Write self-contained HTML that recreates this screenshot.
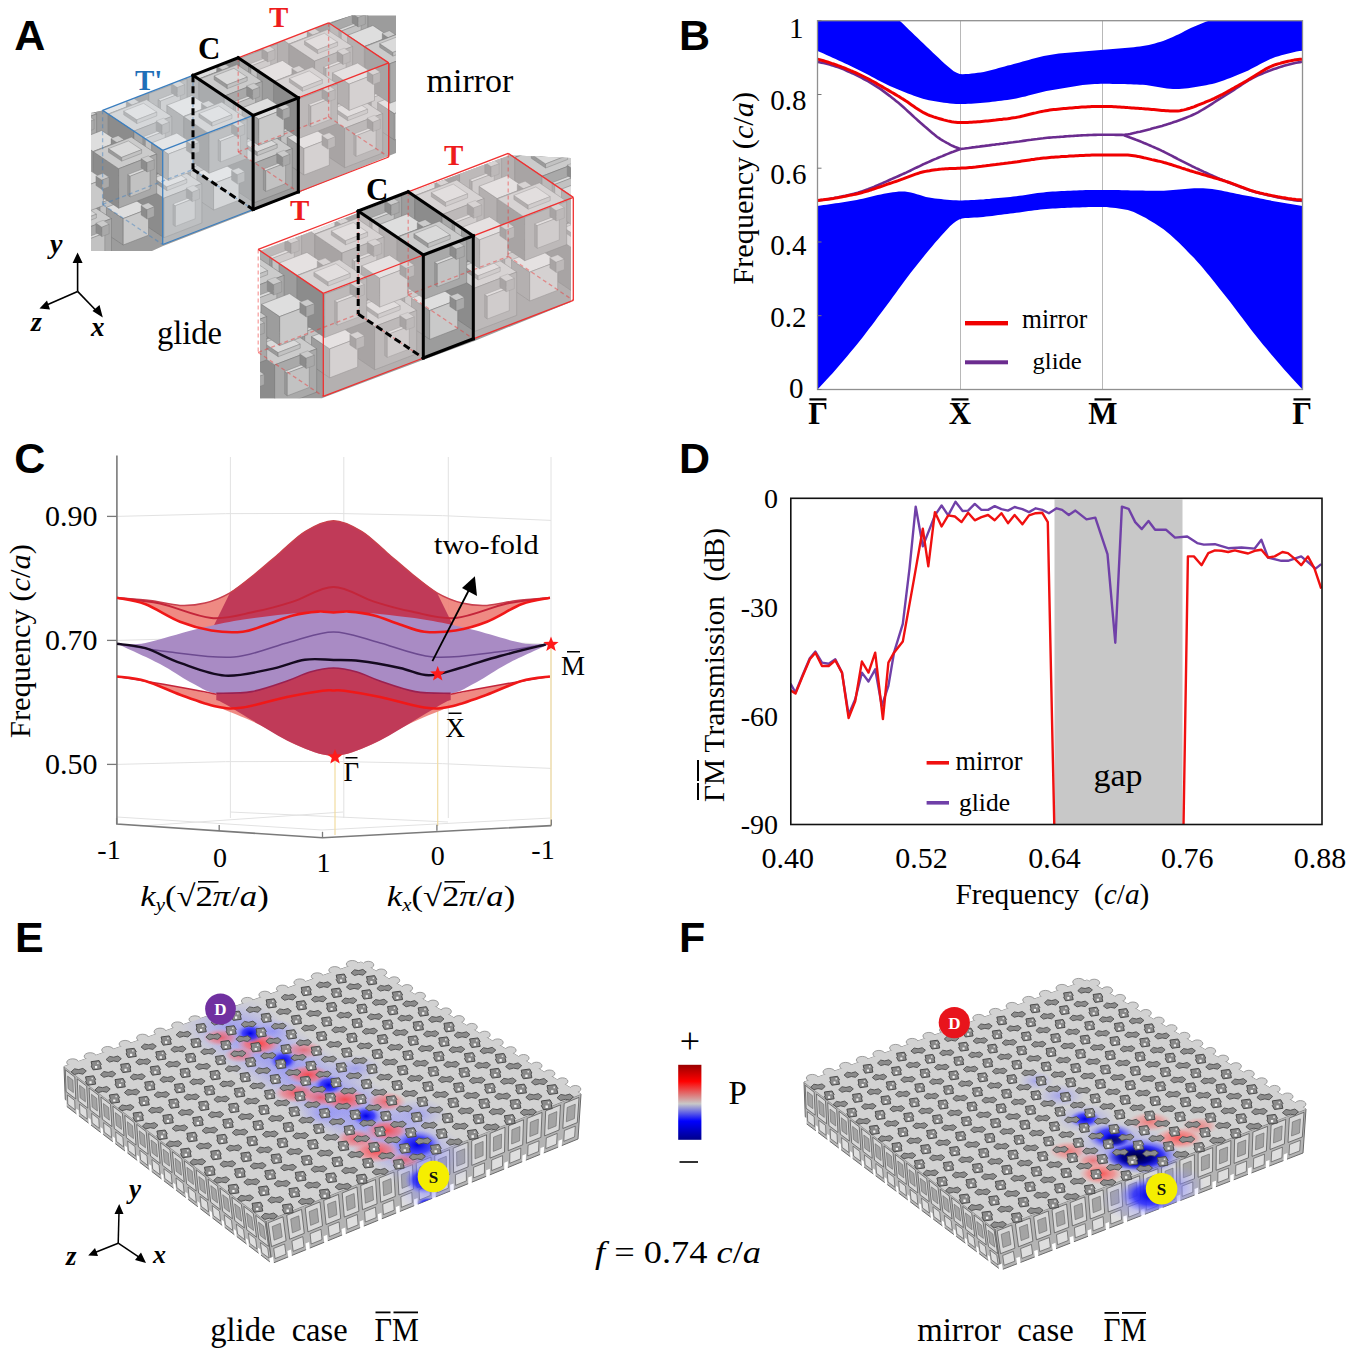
<!DOCTYPE html>
<html><head><meta charset="utf-8"><style>
html,body{margin:0;padding:0;background:#fff;}
svg{display:block;}
</style></head><body>
<svg width="1355" height="1354" viewBox="0 0 1355 1354">
<rect width="1355" height="1354" fill="#fff"/>
<clipPath id="silU"><path d="M91,113 L102.6,110.4 L331,22 L352,15.5 L396,15.5 L396,153 L300,192 L253,211 L163,246 L152,251 L91,251 Z"/></clipPath>
<g clip-path="url(#silU)">
<rect x="88" y="12" width="310" height="242" fill="#9c9c9c"/>
<path d="M317.5,62.3 L334.3,73.5 L334.3,99.9 L317.5,88.7 Z" fill="#9d9d9d" stroke="#777" stroke-width="0.5"/>
<path d="M317.5,62.3 L342.8,52.5 L359.6,63.7 L334.3,73.5 Z" fill="#dedede" stroke="#777" stroke-width="0.5"/>
<path d="M334.3,73.5 L359.6,63.7 L359.6,90.1 L334.3,99.9 Z" fill="#c9c9c9" stroke="#777" stroke-width="0.5"/>
<path d="M352.2,60.5 L358.2,64.5 L358.2,74 L352.2,70 Z" fill="#8c8c8c" stroke="#777" stroke-width="0.3"/>
<path d="M352.2,60.5 L359.4,57.7 L365.4,61.7 L358.2,64.5 Z" fill="#cbcbcb" stroke="#777" stroke-width="0.3"/>
<path d="M358.2,64.5 L365.4,61.7 L365.4,71.2 L358.2,74 Z" fill="#a9a9a9" stroke="#777" stroke-width="0.3"/>
<path d="M259.4,71.3 L284.6,88.1 L284.6,127.6 L259.4,110.8 Z" fill="#8c8c8c" stroke="#777" stroke-width="0.5"/>
<path d="M259.4,71.3 L297.3,56.6 L322.6,73.4 L284.6,88.1 Z" fill="#cbcbcb" stroke="#777" stroke-width="0.5"/>
<path d="M284.6,88.1 L322.6,73.4 L322.6,112.9 L284.6,127.6 Z" fill="#a9a9a9" stroke="#777" stroke-width="0.5"/>
<path d="M293.7,94 L296.1,95.6 L296.1,116.3 L293.7,114.7 Z" fill="#9a9a9a" stroke="#777" stroke-width="0.4"/>
<path d="M293.7,94 L313.5,86.3 L315.9,87.9 L296.1,95.6 Z" fill="#dadada" stroke="#777" stroke-width="0.4"/>
<path d="M296.1,95.6 L315.9,87.9 L315.9,108.6 L296.1,116.3 Z" fill="#c2c2c2" stroke="#777" stroke-width="0.4"/>
<path d="M274.4,68 L287.6,76.8 L287.6,80.6 L274.4,71.8 Z" fill="#9a9a9a" stroke="#777" stroke-width="0.4"/>
<path d="M274.4,68 L294.3,60.3 L307.5,69.1 L287.6,76.8 Z" fill="#dadada" stroke="#777" stroke-width="0.4"/>
<path d="M287.6,76.8 L307.5,69.1 L307.5,72.9 L287.6,80.6 Z" fill="#c2c2c2" stroke="#777" stroke-width="0.4"/>
<path d="M307,78 L313,82 L313,91.5 L307,87.5 Z" fill="#8c8c8c" stroke="#777" stroke-width="0.3"/>
<path d="M307,78 L314.2,75.2 L320.2,79.2 L313,82 Z" fill="#cbcbcb" stroke="#777" stroke-width="0.3"/>
<path d="M313,82 L320.2,79.2 L320.2,88.7 L313,91.5 Z" fill="#a9a9a9" stroke="#777" stroke-width="0.3"/>
<path d="M227.1,97.3 L243.9,108.5 L243.9,134.9 L227.1,123.7 Z" fill="#9d9d9d" stroke="#777" stroke-width="0.5"/>
<path d="M227.1,97.3 L252.4,87.5 L269.2,98.7 L243.9,108.5 Z" fill="#dedede" stroke="#777" stroke-width="0.5"/>
<path d="M243.9,108.5 L269.2,98.7 L269.2,125.1 L243.9,134.9 Z" fill="#c9c9c9" stroke="#777" stroke-width="0.5"/>
<path d="M261.8,95.5 L267.8,99.5 L267.8,109 L261.8,105 Z" fill="#8c8c8c" stroke="#777" stroke-width="0.3"/>
<path d="M261.8,95.5 L269,92.7 L275,96.7 L267.8,99.5 Z" fill="#cbcbcb" stroke="#777" stroke-width="0.3"/>
<path d="M267.8,99.5 L275,96.7 L275,106.2 L267.8,109 Z" fill="#a9a9a9" stroke="#777" stroke-width="0.3"/>
<path d="M169,106.3 L194.2,123.1 L194.2,162.6 L169,145.8 Z" fill="#8c8c8c" stroke="#777" stroke-width="0.5"/>
<path d="M169,106.3 L206.9,91.6 L232.2,108.4 L194.2,123.1 Z" fill="#cbcbcb" stroke="#777" stroke-width="0.5"/>
<path d="M194.2,123.1 L232.2,108.4 L232.2,147.9 L194.2,162.6 Z" fill="#a9a9a9" stroke="#777" stroke-width="0.5"/>
<path d="M203.3,129 L205.7,130.6 L205.7,151.3 L203.3,149.7 Z" fill="#9a9a9a" stroke="#777" stroke-width="0.4"/>
<path d="M203.3,129 L223.1,121.3 L225.5,122.9 L205.7,130.6 Z" fill="#dadada" stroke="#777" stroke-width="0.4"/>
<path d="M205.7,130.6 L225.5,122.9 L225.5,143.6 L205.7,151.3 Z" fill="#c2c2c2" stroke="#777" stroke-width="0.4"/>
<path d="M184,103 L197.2,111.8 L197.2,115.6 L184,106.8 Z" fill="#9a9a9a" stroke="#777" stroke-width="0.4"/>
<path d="M184,103 L203.9,95.3 L217.1,104.1 L197.2,111.8 Z" fill="#dadada" stroke="#777" stroke-width="0.4"/>
<path d="M197.2,111.8 L217.1,104.1 L217.1,107.9 L197.2,115.6 Z" fill="#c2c2c2" stroke="#777" stroke-width="0.4"/>
<path d="M216.6,113 L222.6,117 L222.6,126.5 L216.6,122.4 Z" fill="#8c8c8c" stroke="#777" stroke-width="0.3"/>
<path d="M216.6,113 L223.8,110.2 L229.8,114.2 L222.6,117 Z" fill="#cbcbcb" stroke="#777" stroke-width="0.3"/>
<path d="M222.6,117 L229.8,114.2 L229.8,123.7 L222.6,126.5 Z" fill="#a9a9a9" stroke="#777" stroke-width="0.3"/>
<path d="M136.7,132.3 L153.5,143.5 L153.5,169.9 L136.7,158.7 Z" fill="#9d9d9d" stroke="#777" stroke-width="0.5"/>
<path d="M136.7,132.3 L162,122.5 L178.8,133.7 L153.5,143.5 Z" fill="#dedede" stroke="#777" stroke-width="0.5"/>
<path d="M153.5,143.5 L178.8,133.7 L178.8,160.1 L153.5,169.9 Z" fill="#c9c9c9" stroke="#777" stroke-width="0.5"/>
<path d="M171.4,130.5 L177.4,134.5 L177.4,144 L171.4,139.9 Z" fill="#8c8c8c" stroke="#777" stroke-width="0.3"/>
<path d="M171.4,130.5 L178.6,127.7 L184.6,131.7 L177.4,134.5 Z" fill="#cbcbcb" stroke="#777" stroke-width="0.3"/>
<path d="M177.4,134.5 L184.6,131.7 L184.6,141.2 L177.4,144 Z" fill="#a9a9a9" stroke="#777" stroke-width="0.3"/>
<path d="M78.6,141.3 L103.8,158.1 L103.8,197.6 L78.6,180.8 Z" fill="#8c8c8c" stroke="#777" stroke-width="0.5"/>
<path d="M78.6,141.3 L116.5,126.6 L141.8,143.4 L103.8,158.1 Z" fill="#cbcbcb" stroke="#777" stroke-width="0.5"/>
<path d="M103.8,158.1 L141.8,143.4 L141.8,182.9 L103.8,197.6 Z" fill="#a9a9a9" stroke="#777" stroke-width="0.5"/>
<path d="M112.9,164 L115.3,165.6 L115.3,186.3 L112.9,184.7 Z" fill="#9a9a9a" stroke="#777" stroke-width="0.4"/>
<path d="M112.9,164 L132.7,156.3 L135.1,157.9 L115.3,165.6 Z" fill="#dadada" stroke="#777" stroke-width="0.4"/>
<path d="M115.3,165.6 L135.1,157.9 L135.1,178.6 L115.3,186.3 Z" fill="#c2c2c2" stroke="#777" stroke-width="0.4"/>
<path d="M93.6,138 L106.8,146.8 L106.8,150.6 L93.6,141.8 Z" fill="#9a9a9a" stroke="#777" stroke-width="0.4"/>
<path d="M93.6,138 L113.5,130.3 L126.7,139.1 L106.8,146.8 Z" fill="#dadada" stroke="#777" stroke-width="0.4"/>
<path d="M106.8,146.8 L126.7,139.1 L126.7,142.9 L106.8,150.6 Z" fill="#c2c2c2" stroke="#777" stroke-width="0.4"/>
<path d="M126.2,148 L132.2,152 L132.2,161.5 L126.2,157.4 Z" fill="#8c8c8c" stroke="#777" stroke-width="0.3"/>
<path d="M126.2,148 L133.4,145.2 L139.4,149.2 L132.2,152 Z" fill="#cbcbcb" stroke="#777" stroke-width="0.3"/>
<path d="M132.2,152 L139.4,149.2 L139.4,158.7 L132.2,161.5 Z" fill="#a9a9a9" stroke="#777" stroke-width="0.3"/>
<path d="M46.3,167.3 L63.1,178.5 L63.1,204.9 L46.3,193.7 Z" fill="#9d9d9d" stroke="#777" stroke-width="0.5"/>
<path d="M46.3,167.3 L71.6,157.5 L88.4,168.7 L63.1,178.5 Z" fill="#dedede" stroke="#777" stroke-width="0.5"/>
<path d="M63.1,178.5 L88.4,168.7 L88.4,195.1 L63.1,204.9 Z" fill="#c9c9c9" stroke="#777" stroke-width="0.5"/>
<path d="M81,165.5 L87,169.5 L87,179 L81,175 Z" fill="#8c8c8c" stroke="#777" stroke-width="0.3"/>
<path d="M81,165.5 L88.2,162.7 L94.2,166.7 L87,169.5 Z" fill="#cbcbcb" stroke="#777" stroke-width="0.3"/>
<path d="M87,169.5 L94.2,166.7 L94.2,176.2 L87,179 Z" fill="#a9a9a9" stroke="#777" stroke-width="0.3"/>
<path d="M-11.8,176.3 L13.4,193.1 L13.4,232.6 L-11.8,215.8 Z" fill="#8c8c8c" stroke="#777" stroke-width="0.5"/>
<path d="M-11.8,176.3 L26.1,161.6 L51.4,178.4 L13.4,193.1 Z" fill="#cbcbcb" stroke="#777" stroke-width="0.5"/>
<path d="M13.4,193.1 L51.4,178.4 L51.4,217.9 L13.4,232.6 Z" fill="#a9a9a9" stroke="#777" stroke-width="0.5"/>
<path d="M22.5,199 L24.9,200.6 L24.9,221.3 L22.5,219.7 Z" fill="#9a9a9a" stroke="#777" stroke-width="0.4"/>
<path d="M22.5,199 L42.3,191.3 L44.7,192.9 L24.9,200.6 Z" fill="#dadada" stroke="#777" stroke-width="0.4"/>
<path d="M24.9,200.6 L44.7,192.9 L44.7,213.6 L24.9,221.3 Z" fill="#c2c2c2" stroke="#777" stroke-width="0.4"/>
<path d="M3.2,173 L16.4,181.8 L16.4,185.6 L3.2,176.8 Z" fill="#9a9a9a" stroke="#777" stroke-width="0.4"/>
<path d="M3.2,173 L23.1,165.3 L36.3,174.1 L16.4,181.8 Z" fill="#dadada" stroke="#777" stroke-width="0.4"/>
<path d="M16.4,181.8 L36.3,174.1 L36.3,177.9 L16.4,185.6 Z" fill="#c2c2c2" stroke="#777" stroke-width="0.4"/>
<path d="M35.8,183 L41.8,187 L41.8,196.5 L35.8,192.4 Z" fill="#8c8c8c" stroke="#777" stroke-width="0.3"/>
<path d="M35.8,183 L43,180.2 L49,184.2 L41.8,187 Z" fill="#cbcbcb" stroke="#777" stroke-width="0.3"/>
<path d="M41.8,187 L49,184.2 L49,193.7 L41.8,196.5 Z" fill="#a9a9a9" stroke="#777" stroke-width="0.3"/>
<path d="M304.6,6.7 L329.8,23.6 L329.8,63.1 L304.6,46.2 Z" fill="#8c8c8c" stroke="#777" stroke-width="0.5"/>
<path d="M304.6,6.7 L342.5,-8 L367.8,8.9 L329.8,23.6 Z" fill="#cbcbcb" stroke="#777" stroke-width="0.5"/>
<path d="M329.8,23.6 L367.8,8.9 L367.8,48.4 L329.8,63.1 Z" fill="#a9a9a9" stroke="#777" stroke-width="0.5"/>
<path d="M338.9,29.5 L341.3,31.1 L341.3,51.8 L338.9,50.2 Z" fill="#9a9a9a" stroke="#777" stroke-width="0.4"/>
<path d="M338.9,29.5 L358.7,21.8 L361.1,23.4 L341.3,31.1 Z" fill="#dadada" stroke="#777" stroke-width="0.4"/>
<path d="M341.3,31.1 L361.1,23.4 L361.1,44.1 L341.3,51.8 Z" fill="#c2c2c2" stroke="#777" stroke-width="0.4"/>
<path d="M319.6,3.5 L332.8,12.3 L332.8,16 L319.6,7.2 Z" fill="#9a9a9a" stroke="#777" stroke-width="0.4"/>
<path d="M319.6,3.5 L339.5,-4.2 L352.7,4.6 L332.8,12.3 Z" fill="#dadada" stroke="#777" stroke-width="0.4"/>
<path d="M332.8,12.3 L352.7,4.6 L352.7,8.4 L332.8,16 Z" fill="#c2c2c2" stroke="#777" stroke-width="0.4"/>
<path d="M352.2,13.5 L358.2,17.5 L358.2,26.9 L352.2,22.9 Z" fill="#8c8c8c" stroke="#777" stroke-width="0.3"/>
<path d="M352.2,13.5 L359.4,10.7 L365.4,14.7 L358.2,17.5 Z" fill="#cbcbcb" stroke="#777" stroke-width="0.3"/>
<path d="M358.2,17.5 L365.4,14.7 L365.4,24.1 L358.2,26.9 Z" fill="#a9a9a9" stroke="#777" stroke-width="0.3"/>
<path d="M272.3,32.8 L289.1,44 L289.1,70.3 L272.3,59.1 Z" fill="#9d9d9d" stroke="#777" stroke-width="0.5"/>
<path d="M272.3,32.8 L297.6,23 L314.4,34.2 L289.1,44 Z" fill="#dedede" stroke="#777" stroke-width="0.5"/>
<path d="M289.1,44 L314.4,34.2 L314.4,60.5 L289.1,70.3 Z" fill="#c9c9c9" stroke="#777" stroke-width="0.5"/>
<path d="M307,31 L313,35 L313,44.4 L307,40.4 Z" fill="#8c8c8c" stroke="#777" stroke-width="0.3"/>
<path d="M307,31 L314.2,28.2 L320.2,32.2 L313,35 Z" fill="#cbcbcb" stroke="#777" stroke-width="0.3"/>
<path d="M313,35 L320.2,32.2 L320.2,41.6 L313,44.4 Z" fill="#a9a9a9" stroke="#777" stroke-width="0.3"/>
<path d="M214.2,41.7 L239.4,58.6 L239.4,98.1 L214.2,81.2 Z" fill="#8c8c8c" stroke="#777" stroke-width="0.5"/>
<path d="M214.2,41.7 L252.1,27 L277.4,43.9 L239.4,58.6 Z" fill="#cbcbcb" stroke="#777" stroke-width="0.5"/>
<path d="M239.4,58.6 L277.4,43.9 L277.4,83.4 L239.4,98.1 Z" fill="#a9a9a9" stroke="#777" stroke-width="0.5"/>
<path d="M248.5,64.5 L250.9,66.1 L250.9,86.8 L248.5,85.2 Z" fill="#9a9a9a" stroke="#777" stroke-width="0.4"/>
<path d="M248.5,64.5 L268.3,56.8 L270.7,58.4 L250.9,66.1 Z" fill="#dadada" stroke="#777" stroke-width="0.4"/>
<path d="M250.9,66.1 L270.7,58.4 L270.7,79.1 L250.9,86.8 Z" fill="#c2c2c2" stroke="#777" stroke-width="0.4"/>
<path d="M229.2,38.5 L242.4,47.3 L242.4,51 L229.2,42.2 Z" fill="#9a9a9a" stroke="#777" stroke-width="0.4"/>
<path d="M229.2,38.5 L249.1,30.8 L262.3,39.6 L242.4,47.3 Z" fill="#dadada" stroke="#777" stroke-width="0.4"/>
<path d="M242.4,47.3 L262.3,39.6 L262.3,43.4 L242.4,51 Z" fill="#c2c2c2" stroke="#777" stroke-width="0.4"/>
<path d="M261.8,48.5 L267.8,52.5 L267.8,61.9 L261.8,57.9 Z" fill="#8c8c8c" stroke="#777" stroke-width="0.3"/>
<path d="M261.8,48.5 L269,45.7 L275,49.7 L267.8,52.5 Z" fill="#cbcbcb" stroke="#777" stroke-width="0.3"/>
<path d="M267.8,52.5 L275,49.7 L275,59.1 L267.8,61.9 Z" fill="#a9a9a9" stroke="#777" stroke-width="0.3"/>
<path d="M181.9,67.8 L198.7,79 L198.7,105.3 L181.9,94.1 Z" fill="#9d9d9d" stroke="#777" stroke-width="0.5"/>
<path d="M181.9,67.8 L207.2,58 L224,69.2 L198.7,79 Z" fill="#dedede" stroke="#777" stroke-width="0.5"/>
<path d="M198.7,79 L224,69.2 L224,95.5 L198.7,105.3 Z" fill="#c9c9c9" stroke="#777" stroke-width="0.5"/>
<path d="M216.6,66 L222.6,70 L222.6,79.4 L216.6,75.4 Z" fill="#8c8c8c" stroke="#777" stroke-width="0.3"/>
<path d="M216.6,66 L223.8,63.2 L229.8,67.2 L222.6,70 Z" fill="#cbcbcb" stroke="#777" stroke-width="0.3"/>
<path d="M222.6,70 L229.8,67.2 L229.8,76.6 L222.6,79.4 Z" fill="#a9a9a9" stroke="#777" stroke-width="0.3"/>
<path d="M123.8,76.7 L149,93.6 L149,133.1 L123.8,116.2 Z" fill="#8c8c8c" stroke="#777" stroke-width="0.5"/>
<path d="M123.8,76.7 L161.7,62 L187,78.9 L149,93.6 Z" fill="#cbcbcb" stroke="#777" stroke-width="0.5"/>
<path d="M149,93.6 L187,78.9 L187,118.4 L149,133.1 Z" fill="#a9a9a9" stroke="#777" stroke-width="0.5"/>
<path d="M158.1,99.5 L160.5,101.1 L160.5,121.8 L158.1,120.2 Z" fill="#9a9a9a" stroke="#777" stroke-width="0.4"/>
<path d="M158.1,99.5 L177.9,91.8 L180.3,93.4 L160.5,101.1 Z" fill="#dadada" stroke="#777" stroke-width="0.4"/>
<path d="M160.5,101.1 L180.3,93.4 L180.3,114.1 L160.5,121.8 Z" fill="#c2c2c2" stroke="#777" stroke-width="0.4"/>
<path d="M138.8,73.5 L152,82.3 L152,86 L138.8,77.2 Z" fill="#9a9a9a" stroke="#777" stroke-width="0.4"/>
<path d="M138.8,73.5 L158.7,65.8 L171.9,74.6 L152,82.3 Z" fill="#dadada" stroke="#777" stroke-width="0.4"/>
<path d="M152,82.3 L171.9,74.6 L171.9,78.3 L152,86 Z" fill="#c2c2c2" stroke="#777" stroke-width="0.4"/>
<path d="M171.4,83.5 L177.4,87.5 L177.4,96.9 L171.4,92.9 Z" fill="#8c8c8c" stroke="#777" stroke-width="0.3"/>
<path d="M171.4,83.5 L178.6,80.7 L184.6,84.7 L177.4,87.5 Z" fill="#cbcbcb" stroke="#777" stroke-width="0.3"/>
<path d="M177.4,87.5 L184.6,84.7 L184.6,94.1 L177.4,96.9 Z" fill="#a9a9a9" stroke="#777" stroke-width="0.3"/>
<path d="M91.5,102.8 L108.3,114 L108.3,140.3 L91.5,129.1 Z" fill="#9d9d9d" stroke="#777" stroke-width="0.5"/>
<path d="M91.5,102.8 L116.8,93 L133.6,104.2 L108.3,114 Z" fill="#dedede" stroke="#777" stroke-width="0.5"/>
<path d="M108.3,114 L133.6,104.2 L133.6,130.5 L108.3,140.3 Z" fill="#c9c9c9" stroke="#777" stroke-width="0.5"/>
<path d="M126.2,101 L132.2,105 L132.2,114.4 L126.2,110.4 Z" fill="#8c8c8c" stroke="#777" stroke-width="0.3"/>
<path d="M126.2,101 L133.4,98.2 L139.4,102.2 L132.2,105 Z" fill="#cbcbcb" stroke="#777" stroke-width="0.3"/>
<path d="M132.2,105 L139.4,102.2 L139.4,111.6 L132.2,114.4 Z" fill="#a9a9a9" stroke="#777" stroke-width="0.3"/>
<path d="M33.4,111.7 L58.6,128.6 L58.6,168.1 L33.4,151.2 Z" fill="#8c8c8c" stroke="#777" stroke-width="0.5"/>
<path d="M33.4,111.7 L71.3,97 L96.6,113.9 L58.6,128.6 Z" fill="#cbcbcb" stroke="#777" stroke-width="0.5"/>
<path d="M58.6,128.6 L96.6,113.9 L96.6,153.4 L58.6,168.1 Z" fill="#a9a9a9" stroke="#777" stroke-width="0.5"/>
<path d="M67.7,134.5 L70.1,136.1 L70.1,156.8 L67.7,155.2 Z" fill="#9a9a9a" stroke="#777" stroke-width="0.4"/>
<path d="M67.7,134.5 L87.5,126.8 L89.9,128.4 L70.1,136.1 Z" fill="#dadada" stroke="#777" stroke-width="0.4"/>
<path d="M70.1,136.1 L89.9,128.4 L89.9,149.1 L70.1,156.8 Z" fill="#c2c2c2" stroke="#777" stroke-width="0.4"/>
<path d="M48.4,108.5 L61.6,117.3 L61.6,121 L48.4,112.2 Z" fill="#9a9a9a" stroke="#777" stroke-width="0.4"/>
<path d="M48.4,108.5 L68.3,100.8 L81.5,109.6 L61.6,117.3 Z" fill="#dadada" stroke="#777" stroke-width="0.4"/>
<path d="M61.6,117.3 L81.5,109.6 L81.5,113.3 L61.6,121 Z" fill="#c2c2c2" stroke="#777" stroke-width="0.4"/>
<path d="M81,118.5 L87,122.5 L87,131.9 L81,127.9 Z" fill="#8c8c8c" stroke="#777" stroke-width="0.3"/>
<path d="M81,118.5 L88.2,115.7 L94.2,119.7 L87,122.5 Z" fill="#cbcbcb" stroke="#777" stroke-width="0.3"/>
<path d="M87,122.5 L94.2,119.7 L94.2,129.1 L87,131.9 Z" fill="#a9a9a9" stroke="#777" stroke-width="0.3"/>
<path d="M1.1,137.8 L17.9,149 L17.9,175.3 L1.1,164.1 Z" fill="#9d9d9d" stroke="#777" stroke-width="0.5"/>
<path d="M1.1,137.8 L26.4,128 L43.2,139.2 L17.9,149 Z" fill="#dedede" stroke="#777" stroke-width="0.5"/>
<path d="M17.9,149 L43.2,139.2 L43.2,165.5 L17.9,175.3 Z" fill="#c9c9c9" stroke="#777" stroke-width="0.5"/>
<path d="M35.8,136 L41.8,140 L41.8,149.4 L35.8,145.4 Z" fill="#8c8c8c" stroke="#777" stroke-width="0.3"/>
<path d="M35.8,136 L43,133.2 L49,137.2 L41.8,140 Z" fill="#cbcbcb" stroke="#777" stroke-width="0.3"/>
<path d="M41.8,140 L49,137.2 L49,146.6 L41.8,149.4 Z" fill="#a9a9a9" stroke="#777" stroke-width="0.3"/>
<path d="M334.6,73.8 L359.9,90.7 L359.9,130.2 L334.6,113.3 Z" fill="#8c8c8c" stroke="#777" stroke-width="0.5"/>
<path d="M334.6,73.8 L372.6,59.1 L397.8,76 L359.9,90.7 Z" fill="#cbcbcb" stroke="#777" stroke-width="0.5"/>
<path d="M359.9,90.7 L397.8,76 L397.8,115.5 L359.9,130.2 Z" fill="#a9a9a9" stroke="#777" stroke-width="0.5"/>
<path d="M368.9,96.6 L371.3,98.2 L371.3,118.9 L368.9,117.3 Z" fill="#9a9a9a" stroke="#777" stroke-width="0.4"/>
<path d="M368.9,96.6 L388.8,88.9 L391.2,90.5 L371.3,98.2 Z" fill="#dadada" stroke="#777" stroke-width="0.4"/>
<path d="M371.3,98.2 L391.2,90.5 L391.2,111.2 L371.3,118.9 Z" fill="#c2c2c2" stroke="#777" stroke-width="0.4"/>
<path d="M349.7,70.6 L362.9,79.4 L362.9,83.2 L349.7,74.3 Z" fill="#9a9a9a" stroke="#777" stroke-width="0.4"/>
<path d="M349.7,70.6 L369.6,62.9 L382.8,71.7 L362.9,79.4 Z" fill="#dadada" stroke="#777" stroke-width="0.4"/>
<path d="M362.9,79.4 L382.8,71.7 L382.8,75.5 L362.9,83.2 Z" fill="#c2c2c2" stroke="#777" stroke-width="0.4"/>
<path d="M382.2,80.6 L388.2,84.6 L388.2,94 L382.2,90 Z" fill="#8c8c8c" stroke="#777" stroke-width="0.3"/>
<path d="M382.2,80.6 L389.4,77.8 L395.4,81.8 L388.2,84.6 Z" fill="#cbcbcb" stroke="#777" stroke-width="0.3"/>
<path d="M388.2,84.6 L395.4,81.8 L395.4,91.2 L388.2,94 Z" fill="#a9a9a9" stroke="#777" stroke-width="0.3"/>
<path d="M302.4,99.9 L319.2,111.1 L319.2,137.4 L302.4,126.2 Z" fill="#9d9d9d" stroke="#777" stroke-width="0.5"/>
<path d="M302.4,99.9 L327.7,90.1 L344.5,101.3 L319.2,111.1 Z" fill="#dedede" stroke="#777" stroke-width="0.5"/>
<path d="M319.2,111.1 L344.5,101.3 L344.5,127.6 L319.2,137.4 Z" fill="#c9c9c9" stroke="#777" stroke-width="0.5"/>
<path d="M337,98.1 L343,102.1 L343,111.5 L337,107.5 Z" fill="#8c8c8c" stroke="#777" stroke-width="0.3"/>
<path d="M337,98.1 L344.2,95.3 L350.2,99.3 L343,102.1 Z" fill="#cbcbcb" stroke="#777" stroke-width="0.3"/>
<path d="M343,102.1 L350.2,99.3 L350.2,108.7 L343,111.5 Z" fill="#a9a9a9" stroke="#777" stroke-width="0.3"/>
<path d="M244.2,108.8 L269.5,125.7 L269.5,165.2 L244.2,148.3 Z" fill="#8c8c8c" stroke="#777" stroke-width="0.5"/>
<path d="M244.2,108.8 L282.2,94.1 L307.4,111 L269.5,125.7 Z" fill="#cbcbcb" stroke="#777" stroke-width="0.5"/>
<path d="M269.5,125.7 L307.4,111 L307.4,150.5 L269.5,165.2 Z" fill="#a9a9a9" stroke="#777" stroke-width="0.5"/>
<path d="M278.5,131.6 L280.9,133.2 L280.9,153.9 L278.5,152.3 Z" fill="#9a9a9a" stroke="#777" stroke-width="0.4"/>
<path d="M278.5,131.6 L298.4,123.9 L300.8,125.5 L280.9,133.2 Z" fill="#dadada" stroke="#777" stroke-width="0.4"/>
<path d="M280.9,133.2 L300.8,125.5 L300.8,146.2 L280.9,153.9 Z" fill="#c2c2c2" stroke="#777" stroke-width="0.4"/>
<path d="M259.3,105.6 L272.5,114.4 L272.5,118.2 L259.3,109.3 Z" fill="#9a9a9a" stroke="#777" stroke-width="0.4"/>
<path d="M259.3,105.6 L279.2,97.9 L292.4,106.7 L272.5,114.4 Z" fill="#dadada" stroke="#777" stroke-width="0.4"/>
<path d="M272.5,114.4 L292.4,106.7 L292.4,110.5 L272.5,118.2 Z" fill="#c2c2c2" stroke="#777" stroke-width="0.4"/>
<path d="M291.8,115.6 L297.8,119.6 L297.8,129 L291.8,125 Z" fill="#8c8c8c" stroke="#777" stroke-width="0.3"/>
<path d="M291.8,115.6 L299,112.8 L305,116.8 L297.8,119.6 Z" fill="#cbcbcb" stroke="#777" stroke-width="0.3"/>
<path d="M297.8,119.6 L305,116.8 L305,126.2 L297.8,129 Z" fill="#a9a9a9" stroke="#777" stroke-width="0.3"/>
<path d="M212,134.9 L228.8,146.1 L228.8,172.4 L212,161.2 Z" fill="#9d9d9d" stroke="#777" stroke-width="0.5"/>
<path d="M212,134.9 L237.3,125.1 L254.1,136.3 L228.8,146.1 Z" fill="#dedede" stroke="#777" stroke-width="0.5"/>
<path d="M228.8,146.1 L254.1,136.3 L254.1,162.6 L228.8,172.4 Z" fill="#c9c9c9" stroke="#777" stroke-width="0.5"/>
<path d="M246.6,133.1 L252.6,137.1 L252.6,146.5 L246.6,142.5 Z" fill="#8c8c8c" stroke="#777" stroke-width="0.3"/>
<path d="M246.6,133.1 L253.8,130.3 L259.8,134.3 L252.6,137.1 Z" fill="#cbcbcb" stroke="#777" stroke-width="0.3"/>
<path d="M252.6,137.1 L259.8,134.3 L259.8,143.7 L252.6,146.5 Z" fill="#a9a9a9" stroke="#777" stroke-width="0.3"/>
<path d="M153.8,143.8 L179.1,160.7 L179.1,200.2 L153.8,183.3 Z" fill="#8c8c8c" stroke="#777" stroke-width="0.5"/>
<path d="M153.8,143.8 L191.8,129.1 L217,146 L179.1,160.7 Z" fill="#cbcbcb" stroke="#777" stroke-width="0.5"/>
<path d="M179.1,160.7 L217,146 L217,185.5 L179.1,200.2 Z" fill="#a9a9a9" stroke="#777" stroke-width="0.5"/>
<path d="M188.1,166.6 L190.5,168.2 L190.5,188.9 L188.1,187.3 Z" fill="#9a9a9a" stroke="#777" stroke-width="0.4"/>
<path d="M188.1,166.6 L208,158.9 L210.4,160.5 L190.5,168.2 Z" fill="#dadada" stroke="#777" stroke-width="0.4"/>
<path d="M190.5,168.2 L210.4,160.5 L210.4,181.2 L190.5,188.9 Z" fill="#c2c2c2" stroke="#777" stroke-width="0.4"/>
<path d="M168.9,140.6 L182.1,149.4 L182.1,153.2 L168.9,144.3 Z" fill="#9a9a9a" stroke="#777" stroke-width="0.4"/>
<path d="M168.9,140.6 L188.8,132.9 L202,141.7 L182.1,149.4 Z" fill="#dadada" stroke="#777" stroke-width="0.4"/>
<path d="M182.1,149.4 L202,141.7 L202,145.5 L182.1,153.2 Z" fill="#c2c2c2" stroke="#777" stroke-width="0.4"/>
<path d="M201.4,150.6 L207.4,154.6 L207.4,164 L201.4,160 Z" fill="#8c8c8c" stroke="#777" stroke-width="0.3"/>
<path d="M201.4,150.6 L208.6,147.8 L214.6,151.8 L207.4,154.6 Z" fill="#cbcbcb" stroke="#777" stroke-width="0.3"/>
<path d="M207.4,154.6 L214.6,151.8 L214.6,161.2 L207.4,164 Z" fill="#a9a9a9" stroke="#777" stroke-width="0.3"/>
<path d="M121.6,169.9 L138.4,181.1 L138.4,207.4 L121.6,196.2 Z" fill="#9d9d9d" stroke="#777" stroke-width="0.5"/>
<path d="M121.6,169.9 L146.9,160.1 L163.7,171.3 L138.4,181.1 Z" fill="#dedede" stroke="#777" stroke-width="0.5"/>
<path d="M138.4,181.1 L163.7,171.3 L163.7,197.6 L138.4,207.4 Z" fill="#c9c9c9" stroke="#777" stroke-width="0.5"/>
<path d="M156.2,168.1 L162.2,172.1 L162.2,181.5 L156.2,177.5 Z" fill="#8c8c8c" stroke="#777" stroke-width="0.3"/>
<path d="M156.2,168.1 L163.4,165.3 L169.4,169.3 L162.2,172.1 Z" fill="#cbcbcb" stroke="#777" stroke-width="0.3"/>
<path d="M162.2,172.1 L169.4,169.3 L169.4,178.7 L162.2,181.5 Z" fill="#a9a9a9" stroke="#777" stroke-width="0.3"/>
<path d="M63.4,178.8 L88.7,195.7 L88.7,235.2 L63.4,218.3 Z" fill="#8c8c8c" stroke="#777" stroke-width="0.5"/>
<path d="M63.4,178.8 L101.4,164.1 L126.6,181 L88.7,195.7 Z" fill="#cbcbcb" stroke="#777" stroke-width="0.5"/>
<path d="M88.7,195.7 L126.6,181 L126.6,220.5 L88.7,235.2 Z" fill="#a9a9a9" stroke="#777" stroke-width="0.5"/>
<path d="M97.7,201.6 L100.1,203.2 L100.1,223.9 L97.7,222.3 Z" fill="#9a9a9a" stroke="#777" stroke-width="0.4"/>
<path d="M97.7,201.6 L117.6,193.9 L120,195.5 L100.1,203.2 Z" fill="#dadada" stroke="#777" stroke-width="0.4"/>
<path d="M100.1,203.2 L120,195.5 L120,216.2 L100.1,223.9 Z" fill="#c2c2c2" stroke="#777" stroke-width="0.4"/>
<path d="M78.5,175.6 L91.7,184.4 L91.7,188.2 L78.5,179.3 Z" fill="#9a9a9a" stroke="#777" stroke-width="0.4"/>
<path d="M78.5,175.6 L98.4,167.9 L111.6,176.7 L91.7,184.4 Z" fill="#dadada" stroke="#777" stroke-width="0.4"/>
<path d="M91.7,184.4 L111.6,176.7 L111.6,180.5 L91.7,188.2 Z" fill="#c2c2c2" stroke="#777" stroke-width="0.4"/>
<path d="M111,185.6 L117,189.6 L117,199 L111,195 Z" fill="#8c8c8c" stroke="#777" stroke-width="0.3"/>
<path d="M111,185.6 L118.2,182.8 L124.2,186.8 L117,189.6 Z" fill="#cbcbcb" stroke="#777" stroke-width="0.3"/>
<path d="M117,189.6 L124.2,186.8 L124.2,196.2 L117,199 Z" fill="#a9a9a9" stroke="#777" stroke-width="0.3"/>
<path d="M31.2,204.9 L48,216.1 L48,242.4 L31.2,231.2 Z" fill="#9d9d9d" stroke="#777" stroke-width="0.5"/>
<path d="M31.2,204.9 L56.5,195.1 L73.3,206.3 L48,216.1 Z" fill="#dedede" stroke="#777" stroke-width="0.5"/>
<path d="M48,216.1 L73.3,206.3 L73.3,232.6 L48,242.4 Z" fill="#c9c9c9" stroke="#777" stroke-width="0.5"/>
<path d="M65.8,203.1 L71.8,207.1 L71.8,216.5 L65.8,212.5 Z" fill="#8c8c8c" stroke="#777" stroke-width="0.3"/>
<path d="M65.8,203.1 L73,200.3 L79,204.3 L71.8,207.1 Z" fill="#cbcbcb" stroke="#777" stroke-width="0.3"/>
<path d="M71.8,207.1 L79,204.3 L79,213.7 L71.8,216.5 Z" fill="#a9a9a9" stroke="#777" stroke-width="0.3"/>
<path d="M347.6,35.3 L364.4,46.5 L364.4,72.9 L347.6,61.7 Z" fill="#9d9d9d" stroke="#777" stroke-width="0.5"/>
<path d="M347.6,35.3 L372.9,25.5 L389.7,36.7 L364.4,46.5 Z" fill="#dedede" stroke="#777" stroke-width="0.5"/>
<path d="M364.4,46.5 L389.7,36.7 L389.7,63.1 L364.4,72.9 Z" fill="#c9c9c9" stroke="#777" stroke-width="0.5"/>
<path d="M382.2,33.5 L388.2,37.6 L388.2,47 L382.2,43 Z" fill="#8c8c8c" stroke="#777" stroke-width="0.3"/>
<path d="M382.2,33.5 L389.4,30.7 L395.4,34.7 L388.2,37.6 Z" fill="#cbcbcb" stroke="#777" stroke-width="0.3"/>
<path d="M388.2,37.6 L395.4,34.7 L395.4,44.2 L388.2,47 Z" fill="#a9a9a9" stroke="#777" stroke-width="0.3"/>
<path d="M289.4,44.3 L314.7,61.1 L314.7,100.6 L289.4,83.8 Z" fill="#8c8c8c" stroke="#777" stroke-width="0.5"/>
<path d="M289.4,44.3 L327.4,29.6 L352.6,46.4 L314.7,61.1 Z" fill="#cbcbcb" stroke="#777" stroke-width="0.5"/>
<path d="M314.7,61.1 L352.6,46.4 L352.6,85.9 L314.7,100.6 Z" fill="#a9a9a9" stroke="#777" stroke-width="0.5"/>
<path d="M323.7,67 L326.1,68.6 L326.1,89.3 L323.7,87.7 Z" fill="#9a9a9a" stroke="#777" stroke-width="0.4"/>
<path d="M323.7,67 L343.6,59.3 L346,60.9 L326.1,68.6 Z" fill="#dadada" stroke="#777" stroke-width="0.4"/>
<path d="M326.1,68.6 L346,60.9 L346,81.6 L326.1,89.3 Z" fill="#c2c2c2" stroke="#777" stroke-width="0.4"/>
<path d="M304.5,41 L317.7,49.8 L317.7,53.6 L304.5,44.8 Z" fill="#9a9a9a" stroke="#777" stroke-width="0.4"/>
<path d="M304.5,41 L324.4,33.3 L337.6,42.1 L317.7,49.8 Z" fill="#dadada" stroke="#777" stroke-width="0.4"/>
<path d="M317.7,49.8 L337.6,42.1 L337.6,45.9 L317.7,53.6 Z" fill="#c2c2c2" stroke="#777" stroke-width="0.4"/>
<path d="M337,51 L343,55.1 L343,64.5 L337,60.5 Z" fill="#8c8c8c" stroke="#777" stroke-width="0.3"/>
<path d="M337,51 L344.2,48.2 L350.2,52.2 L343,55.1 Z" fill="#cbcbcb" stroke="#777" stroke-width="0.3"/>
<path d="M343,55.1 L350.2,52.2 L350.2,61.7 L343,64.5 Z" fill="#a9a9a9" stroke="#777" stroke-width="0.3"/>
<path d="M257.2,70.3 L274,81.5 L274,107.9 L257.2,96.7 Z" fill="#9d9d9d" stroke="#777" stroke-width="0.5"/>
<path d="M257.2,70.3 L282.5,60.5 L299.3,71.7 L274,81.5 Z" fill="#dedede" stroke="#777" stroke-width="0.5"/>
<path d="M274,81.5 L299.3,71.7 L299.3,98.1 L274,107.9 Z" fill="#c9c9c9" stroke="#777" stroke-width="0.5"/>
<path d="M291.8,68.5 L297.8,72.5 L297.8,82 L291.8,78 Z" fill="#8c8c8c" stroke="#777" stroke-width="0.3"/>
<path d="M291.8,68.5 L299,65.7 L305,69.7 L297.8,72.5 Z" fill="#cbcbcb" stroke="#777" stroke-width="0.3"/>
<path d="M297.8,72.5 L305,69.7 L305,79.2 L297.8,82 Z" fill="#a9a9a9" stroke="#777" stroke-width="0.3"/>
<path d="M199,79.3 L224.3,96.1 L224.3,135.6 L199,118.8 Z" fill="#8c8c8c" stroke="#777" stroke-width="0.5"/>
<path d="M199,79.3 L237,64.6 L262.2,81.4 L224.3,96.1 Z" fill="#cbcbcb" stroke="#777" stroke-width="0.5"/>
<path d="M224.3,96.1 L262.2,81.4 L262.2,120.9 L224.3,135.6 Z" fill="#a9a9a9" stroke="#777" stroke-width="0.5"/>
<path d="M233.3,102 L235.7,103.6 L235.7,124.3 L233.3,122.7 Z" fill="#9a9a9a" stroke="#777" stroke-width="0.4"/>
<path d="M233.3,102 L253.2,94.3 L255.6,95.9 L235.7,103.6 Z" fill="#dadada" stroke="#777" stroke-width="0.4"/>
<path d="M235.7,103.6 L255.6,95.9 L255.6,116.6 L235.7,124.3 Z" fill="#c2c2c2" stroke="#777" stroke-width="0.4"/>
<path d="M214.1,76 L227.3,84.8 L227.3,88.6 L214.1,79.8 Z" fill="#9a9a9a" stroke="#777" stroke-width="0.4"/>
<path d="M214.1,76 L234,68.3 L247.2,77.1 L227.3,84.8 Z" fill="#dadada" stroke="#777" stroke-width="0.4"/>
<path d="M227.3,84.8 L247.2,77.1 L247.2,80.9 L227.3,88.6 Z" fill="#c2c2c2" stroke="#777" stroke-width="0.4"/>
<path d="M246.6,86 L252.6,90 L252.6,99.5 L246.6,95.4 Z" fill="#8c8c8c" stroke="#777" stroke-width="0.3"/>
<path d="M246.6,86 L253.8,83.2 L259.8,87.2 L252.6,90 Z" fill="#cbcbcb" stroke="#777" stroke-width="0.3"/>
<path d="M252.6,90 L259.8,87.2 L259.8,96.7 L252.6,99.5 Z" fill="#a9a9a9" stroke="#777" stroke-width="0.3"/>
<path d="M166.8,105.3 L183.6,116.5 L183.6,142.9 L166.8,131.7 Z" fill="#9d9d9d" stroke="#777" stroke-width="0.5"/>
<path d="M166.8,105.3 L192.1,95.5 L208.9,106.7 L183.6,116.5 Z" fill="#dedede" stroke="#777" stroke-width="0.5"/>
<path d="M183.6,116.5 L208.9,106.7 L208.9,133.1 L183.6,142.9 Z" fill="#c9c9c9" stroke="#777" stroke-width="0.5"/>
<path d="M201.4,103.5 L207.4,107.5 L207.4,117 L201.4,112.9 Z" fill="#8c8c8c" stroke="#777" stroke-width="0.3"/>
<path d="M201.4,103.5 L208.6,100.7 L214.6,104.8 L207.4,107.5 Z" fill="#cbcbcb" stroke="#777" stroke-width="0.3"/>
<path d="M207.4,107.5 L214.6,104.8 L214.6,114.2 L207.4,117 Z" fill="#a9a9a9" stroke="#777" stroke-width="0.3"/>
<path d="M108.6,114.3 L133.9,131.1 L133.9,170.6 L108.6,153.8 Z" fill="#8c8c8c" stroke="#777" stroke-width="0.5"/>
<path d="M108.6,114.3 L146.6,99.6 L171.8,116.4 L133.9,131.1 Z" fill="#cbcbcb" stroke="#777" stroke-width="0.5"/>
<path d="M133.9,131.1 L171.8,116.4 L171.8,155.9 L133.9,170.6 Z" fill="#a9a9a9" stroke="#777" stroke-width="0.5"/>
<path d="M142.9,137 L145.3,138.6 L145.3,159.3 L142.9,157.7 Z" fill="#9a9a9a" stroke="#777" stroke-width="0.4"/>
<path d="M142.9,137 L162.8,129.3 L165.2,130.9 L145.3,138.6 Z" fill="#dadada" stroke="#777" stroke-width="0.4"/>
<path d="M145.3,138.6 L165.2,130.9 L165.2,151.6 L145.3,159.3 Z" fill="#c2c2c2" stroke="#777" stroke-width="0.4"/>
<path d="M123.7,111 L136.9,119.8 L136.9,123.6 L123.7,114.8 Z" fill="#9a9a9a" stroke="#777" stroke-width="0.4"/>
<path d="M123.7,111 L143.6,103.3 L156.8,112.1 L136.9,119.8 Z" fill="#dadada" stroke="#777" stroke-width="0.4"/>
<path d="M136.9,119.8 L156.8,112.1 L156.8,115.9 L136.9,123.6 Z" fill="#c2c2c2" stroke="#777" stroke-width="0.4"/>
<path d="M156.2,121 L162.2,125 L162.2,134.5 L156.2,130.4 Z" fill="#8c8c8c" stroke="#777" stroke-width="0.3"/>
<path d="M156.2,121 L163.4,118.2 L169.4,122.2 L162.2,125 Z" fill="#cbcbcb" stroke="#777" stroke-width="0.3"/>
<path d="M162.2,125 L169.4,122.2 L169.4,131.7 L162.2,134.5 Z" fill="#a9a9a9" stroke="#777" stroke-width="0.3"/>
<path d="M76.4,140.3 L93.2,151.5 L93.2,177.9 L76.4,166.7 Z" fill="#9d9d9d" stroke="#777" stroke-width="0.5"/>
<path d="M76.4,140.3 L101.7,130.5 L118.5,141.7 L93.2,151.5 Z" fill="#dedede" stroke="#777" stroke-width="0.5"/>
<path d="M93.2,151.5 L118.5,141.7 L118.5,168.1 L93.2,177.9 Z" fill="#c9c9c9" stroke="#777" stroke-width="0.5"/>
<path d="M111,138.5 L117,142.6 L117,152 L111,148 Z" fill="#8c8c8c" stroke="#777" stroke-width="0.3"/>
<path d="M111,138.5 L118.2,135.7 L124.2,139.8 L117,142.6 Z" fill="#cbcbcb" stroke="#777" stroke-width="0.3"/>
<path d="M117,142.6 L124.2,139.8 L124.2,149.2 L117,152 Z" fill="#a9a9a9" stroke="#777" stroke-width="0.3"/>
<path d="M18.2,149.3 L43.5,166.1 L43.5,205.6 L18.2,188.8 Z" fill="#8c8c8c" stroke="#777" stroke-width="0.5"/>
<path d="M18.2,149.3 L56.2,134.6 L81.4,151.4 L43.5,166.1 Z" fill="#cbcbcb" stroke="#777" stroke-width="0.5"/>
<path d="M43.5,166.1 L81.4,151.4 L81.4,190.9 L43.5,205.6 Z" fill="#a9a9a9" stroke="#777" stroke-width="0.5"/>
<path d="M52.5,172 L54.9,173.6 L54.9,194.3 L52.5,192.7 Z" fill="#9a9a9a" stroke="#777" stroke-width="0.4"/>
<path d="M52.5,172 L72.4,164.3 L74.8,165.9 L54.9,173.6 Z" fill="#dadada" stroke="#777" stroke-width="0.4"/>
<path d="M54.9,173.6 L74.8,165.9 L74.8,186.6 L54.9,194.3 Z" fill="#c2c2c2" stroke="#777" stroke-width="0.4"/>
<path d="M33.3,146 L46.5,154.8 L46.5,158.6 L33.3,149.8 Z" fill="#9a9a9a" stroke="#777" stroke-width="0.4"/>
<path d="M33.3,146 L53.2,138.3 L66.4,147.1 L46.5,154.8 Z" fill="#dadada" stroke="#777" stroke-width="0.4"/>
<path d="M46.5,154.8 L66.4,147.1 L66.4,150.9 L46.5,158.6 Z" fill="#c2c2c2" stroke="#777" stroke-width="0.4"/>
<path d="M65.8,156 L71.8,160 L71.8,169.5 L65.8,165.4 Z" fill="#8c8c8c" stroke="#777" stroke-width="0.3"/>
<path d="M65.8,156 L73,153.2 L79,157.2 L71.8,160 Z" fill="#cbcbcb" stroke="#777" stroke-width="0.3"/>
<path d="M71.8,160 L79,157.2 L79,166.7 L71.8,169.5 Z" fill="#a9a9a9" stroke="#777" stroke-width="0.3"/>
<path d="M377.6,102.4 L394.4,113.6 L394.4,140 L377.6,128.8 Z" fill="#9d9d9d" stroke="#777" stroke-width="0.5"/>
<path d="M377.6,102.4 L402.9,92.6 L419.7,103.8 L394.4,113.6 Z" fill="#dedede" stroke="#777" stroke-width="0.5"/>
<path d="M394.4,113.6 L419.7,103.8 L419.7,130.2 L394.4,140 Z" fill="#c9c9c9" stroke="#777" stroke-width="0.5"/>
<path d="M412.3,100.6 L418.3,104.7 L418.3,114.1 L412.3,110.1 Z" fill="#8c8c8c" stroke="#777" stroke-width="0.3"/>
<path d="M412.3,100.6 L419.5,97.8 L425.5,101.8 L418.3,104.7 Z" fill="#cbcbcb" stroke="#777" stroke-width="0.3"/>
<path d="M418.3,104.7 L425.5,101.8 L425.5,111.3 L418.3,114.1 Z" fill="#a9a9a9" stroke="#777" stroke-width="0.3"/>
<path d="M319.5,111.4 L344.7,128.2 L344.7,167.7 L319.5,150.9 Z" fill="#8c8c8c" stroke="#777" stroke-width="0.5"/>
<path d="M319.5,111.4 L357.4,96.7 L382.7,113.5 L344.7,128.2 Z" fill="#cbcbcb" stroke="#777" stroke-width="0.5"/>
<path d="M344.7,128.2 L382.7,113.5 L382.7,153 L344.7,167.7 Z" fill="#a9a9a9" stroke="#777" stroke-width="0.5"/>
<path d="M353.8,134.1 L356.2,135.7 L356.2,156.4 L353.8,154.8 Z" fill="#9a9a9a" stroke="#777" stroke-width="0.4"/>
<path d="M353.8,134.1 L373.6,126.4 L376,128 L356.2,135.7 Z" fill="#dadada" stroke="#777" stroke-width="0.4"/>
<path d="M356.2,135.7 L376,128 L376,148.7 L356.2,156.4 Z" fill="#c2c2c2" stroke="#777" stroke-width="0.4"/>
<path d="M334.5,108.1 L347.7,116.9 L347.7,120.7 L334.5,111.9 Z" fill="#9a9a9a" stroke="#777" stroke-width="0.4"/>
<path d="M334.5,108.1 L354.4,100.4 L367.6,109.2 L347.7,116.9 Z" fill="#dadada" stroke="#777" stroke-width="0.4"/>
<path d="M347.7,116.9 L367.6,109.2 L367.6,113 L347.7,120.7 Z" fill="#c2c2c2" stroke="#777" stroke-width="0.4"/>
<path d="M367.1,118.1 L373.1,122.2 L373.1,131.6 L367.1,127.6 Z" fill="#8c8c8c" stroke="#777" stroke-width="0.3"/>
<path d="M367.1,118.1 L374.3,115.3 L380.3,119.3 L373.1,122.2 Z" fill="#cbcbcb" stroke="#777" stroke-width="0.3"/>
<path d="M373.1,122.2 L380.3,119.3 L380.3,128.8 L373.1,131.6 Z" fill="#a9a9a9" stroke="#777" stroke-width="0.3"/>
<path d="M287.2,137.4 L304,148.6 L304,175 L287.2,163.8 Z" fill="#9d9d9d" stroke="#777" stroke-width="0.5"/>
<path d="M287.2,137.4 L312.5,127.6 L329.3,138.8 L304,148.6 Z" fill="#dedede" stroke="#777" stroke-width="0.5"/>
<path d="M304,148.6 L329.3,138.8 L329.3,165.2 L304,175 Z" fill="#c9c9c9" stroke="#777" stroke-width="0.5"/>
<path d="M321.9,135.6 L327.9,139.7 L327.9,149.1 L321.9,145.1 Z" fill="#8c8c8c" stroke="#777" stroke-width="0.3"/>
<path d="M321.9,135.6 L329.1,132.8 L335.1,136.8 L327.9,139.7 Z" fill="#cbcbcb" stroke="#777" stroke-width="0.3"/>
<path d="M327.9,139.7 L335.1,136.8 L335.1,146.3 L327.9,149.1 Z" fill="#a9a9a9" stroke="#777" stroke-width="0.3"/>
<path d="M229.1,146.4 L254.3,163.2 L254.3,202.7 L229.1,185.9 Z" fill="#8c8c8c" stroke="#777" stroke-width="0.5"/>
<path d="M229.1,146.4 L267,131.7 L292.3,148.5 L254.3,163.2 Z" fill="#cbcbcb" stroke="#777" stroke-width="0.5"/>
<path d="M254.3,163.2 L292.3,148.5 L292.3,188 L254.3,202.7 Z" fill="#a9a9a9" stroke="#777" stroke-width="0.5"/>
<path d="M263.4,169.1 L265.8,170.7 L265.8,191.4 L263.4,189.8 Z" fill="#9a9a9a" stroke="#777" stroke-width="0.4"/>
<path d="M263.4,169.1 L283.2,161.4 L285.6,163 L265.8,170.7 Z" fill="#dadada" stroke="#777" stroke-width="0.4"/>
<path d="M265.8,170.7 L285.6,163 L285.6,183.7 L265.8,191.4 Z" fill="#c2c2c2" stroke="#777" stroke-width="0.4"/>
<path d="M244.1,143.1 L257.3,151.9 L257.3,155.7 L244.1,146.9 Z" fill="#9a9a9a" stroke="#777" stroke-width="0.4"/>
<path d="M244.1,143.1 L264,135.4 L277.2,144.2 L257.3,151.9 Z" fill="#dadada" stroke="#777" stroke-width="0.4"/>
<path d="M257.3,151.9 L277.2,144.2 L277.2,148 L257.3,155.7 Z" fill="#c2c2c2" stroke="#777" stroke-width="0.4"/>
<path d="M276.7,153.1 L282.7,157.2 L282.7,166.6 L276.7,162.5 Z" fill="#8c8c8c" stroke="#777" stroke-width="0.3"/>
<path d="M276.7,153.1 L283.9,150.3 L289.9,154.3 L282.7,157.2 Z" fill="#cbcbcb" stroke="#777" stroke-width="0.3"/>
<path d="M282.7,157.2 L289.9,154.3 L289.9,163.8 L282.7,166.6 Z" fill="#a9a9a9" stroke="#777" stroke-width="0.3"/>
<path d="M196.8,172.4 L213.6,183.6 L213.6,210 L196.8,198.8 Z" fill="#9d9d9d" stroke="#777" stroke-width="0.5"/>
<path d="M196.8,172.4 L222.1,162.6 L238.9,173.8 L213.6,183.6 Z" fill="#dedede" stroke="#777" stroke-width="0.5"/>
<path d="M213.6,183.6 L238.9,173.8 L238.9,200.2 L213.6,210 Z" fill="#c9c9c9" stroke="#777" stroke-width="0.5"/>
<path d="M231.5,170.6 L237.5,174.7 L237.5,184.1 L231.5,180 Z" fill="#8c8c8c" stroke="#777" stroke-width="0.3"/>
<path d="M231.5,170.6 L238.7,167.8 L244.7,171.8 L237.5,174.7 Z" fill="#cbcbcb" stroke="#777" stroke-width="0.3"/>
<path d="M237.5,174.7 L244.7,171.8 L244.7,181.3 L237.5,184.1 Z" fill="#a9a9a9" stroke="#777" stroke-width="0.3"/>
<path d="M138.7,181.4 L163.9,198.2 L163.9,237.7 L138.7,220.9 Z" fill="#8c8c8c" stroke="#777" stroke-width="0.5"/>
<path d="M138.7,181.4 L176.6,166.7 L201.9,183.5 L163.9,198.2 Z" fill="#cbcbcb" stroke="#777" stroke-width="0.5"/>
<path d="M163.9,198.2 L201.9,183.5 L201.9,223 L163.9,237.7 Z" fill="#a9a9a9" stroke="#777" stroke-width="0.5"/>
<path d="M173,204.1 L175.4,205.7 L175.4,226.4 L173,224.8 Z" fill="#9a9a9a" stroke="#777" stroke-width="0.4"/>
<path d="M173,204.1 L192.8,196.4 L195.2,198 L175.4,205.7 Z" fill="#dadada" stroke="#777" stroke-width="0.4"/>
<path d="M175.4,205.7 L195.2,198 L195.2,218.7 L175.4,226.4 Z" fill="#c2c2c2" stroke="#777" stroke-width="0.4"/>
<path d="M153.7,178.1 L166.9,186.9 L166.9,190.7 L153.7,181.9 Z" fill="#9a9a9a" stroke="#777" stroke-width="0.4"/>
<path d="M153.7,178.1 L173.6,170.4 L186.8,179.2 L166.9,186.9 Z" fill="#dadada" stroke="#777" stroke-width="0.4"/>
<path d="M166.9,186.9 L186.8,179.2 L186.8,183 L166.9,190.7 Z" fill="#c2c2c2" stroke="#777" stroke-width="0.4"/>
<path d="M186.3,188.1 L192.3,192.2 L192.3,201.6 L186.3,197.5 Z" fill="#8c8c8c" stroke="#777" stroke-width="0.3"/>
<path d="M186.3,188.1 L193.5,185.3 L199.5,189.3 L192.3,192.2 Z" fill="#cbcbcb" stroke="#777" stroke-width="0.3"/>
<path d="M192.3,192.2 L199.5,189.3 L199.5,198.8 L192.3,201.6 Z" fill="#a9a9a9" stroke="#777" stroke-width="0.3"/>
<path d="M106.4,207.4 L123.2,218.6 L123.2,245 L106.4,233.8 Z" fill="#9d9d9d" stroke="#777" stroke-width="0.5"/>
<path d="M106.4,207.4 L131.7,197.6 L148.5,208.8 L123.2,218.6 Z" fill="#dedede" stroke="#777" stroke-width="0.5"/>
<path d="M123.2,218.6 L148.5,208.8 L148.5,235.2 L123.2,245 Z" fill="#c9c9c9" stroke="#777" stroke-width="0.5"/>
<path d="M141.1,205.6 L147.1,209.7 L147.1,219.1 L141.1,215.1 Z" fill="#8c8c8c" stroke="#777" stroke-width="0.3"/>
<path d="M141.1,205.6 L148.3,202.8 L154.3,206.8 L147.1,209.7 Z" fill="#cbcbcb" stroke="#777" stroke-width="0.3"/>
<path d="M147.1,209.7 L154.3,206.8 L154.3,216.3 L147.1,219.1 Z" fill="#a9a9a9" stroke="#777" stroke-width="0.3"/>
<path d="M48.3,216.4 L73.5,233.2 L73.5,272.7 L48.3,255.9 Z" fill="#8c8c8c" stroke="#777" stroke-width="0.5"/>
<path d="M48.3,216.4 L86.2,201.7 L111.5,218.5 L73.5,233.2 Z" fill="#cbcbcb" stroke="#777" stroke-width="0.5"/>
<path d="M73.5,233.2 L111.5,218.5 L111.5,258 L73.5,272.7 Z" fill="#a9a9a9" stroke="#777" stroke-width="0.5"/>
<path d="M82.6,239.1 L85,240.7 L85,261.4 L82.6,259.8 Z" fill="#9a9a9a" stroke="#777" stroke-width="0.4"/>
<path d="M82.6,239.1 L102.4,231.4 L104.8,233 L85,240.7 Z" fill="#dadada" stroke="#777" stroke-width="0.4"/>
<path d="M85,240.7 L104.8,233 L104.8,253.7 L85,261.4 Z" fill="#c2c2c2" stroke="#777" stroke-width="0.4"/>
<path d="M63.3,213.1 L76.5,221.9 L76.5,225.7 L63.3,216.9 Z" fill="#9a9a9a" stroke="#777" stroke-width="0.4"/>
<path d="M63.3,213.1 L83.2,205.4 L96.4,214.2 L76.5,221.9 Z" fill="#dadada" stroke="#777" stroke-width="0.4"/>
<path d="M76.5,221.9 L96.4,214.2 L96.4,218 L76.5,225.7 Z" fill="#c2c2c2" stroke="#777" stroke-width="0.4"/>
<path d="M95.9,223.1 L101.9,227.2 L101.9,236.6 L95.9,232.5 Z" fill="#8c8c8c" stroke="#777" stroke-width="0.3"/>
<path d="M95.9,223.1 L103.1,220.3 L109.1,224.3 L101.9,227.2 Z" fill="#cbcbcb" stroke="#777" stroke-width="0.3"/>
<path d="M101.9,227.2 L109.1,224.3 L109.1,233.8 L101.9,236.6 Z" fill="#a9a9a9" stroke="#777" stroke-width="0.3"/>
<path d="M364.7,46.8 L389.9,63.7 L389.9,103.2 L364.7,86.3 Z" fill="#8c8c8c" stroke="#777" stroke-width="0.5"/>
<path d="M364.7,46.8 L402.6,32.1 L427.9,49 L389.9,63.7 Z" fill="#cbcbcb" stroke="#777" stroke-width="0.5"/>
<path d="M389.9,63.7 L427.9,49 L427.9,88.5 L389.9,103.2 Z" fill="#a9a9a9" stroke="#777" stroke-width="0.5"/>
<path d="M399,69.6 L401.4,71.2 L401.4,91.9 L399,90.3 Z" fill="#9a9a9a" stroke="#777" stroke-width="0.4"/>
<path d="M399,69.6 L418.8,61.9 L421.2,63.5 L401.4,71.2 Z" fill="#dadada" stroke="#777" stroke-width="0.4"/>
<path d="M401.4,71.2 L421.2,63.5 L421.2,84.2 L401.4,91.9 Z" fill="#c2c2c2" stroke="#777" stroke-width="0.4"/>
<path d="M379.7,43.6 L392.9,52.4 L392.9,56.1 L379.7,47.3 Z" fill="#9a9a9a" stroke="#777" stroke-width="0.4"/>
<path d="M379.7,43.6 L399.6,35.9 L412.8,44.7 L392.9,52.4 Z" fill="#dadada" stroke="#777" stroke-width="0.4"/>
<path d="M392.9,52.4 L412.8,44.7 L412.8,48.5 L392.9,56.1 Z" fill="#c2c2c2" stroke="#777" stroke-width="0.4"/>
<path d="M412.3,53.6 L418.3,57.6 L418.3,67 L412.3,63 Z" fill="#8c8c8c" stroke="#777" stroke-width="0.3"/>
<path d="M412.3,53.6 L419.5,50.8 L425.5,54.8 L418.3,57.6 Z" fill="#cbcbcb" stroke="#777" stroke-width="0.3"/>
<path d="M418.3,57.6 L425.5,54.8 L425.5,64.2 L418.3,67 Z" fill="#a9a9a9" stroke="#777" stroke-width="0.3"/>
<path d="M332.4,72.9 L349.2,84.1 L349.2,110.4 L332.4,99.2 Z" fill="#9d9d9d" stroke="#777" stroke-width="0.5"/>
<path d="M332.4,72.9 L357.7,63.1 L374.5,74.3 L349.2,84.1 Z" fill="#dedede" stroke="#777" stroke-width="0.5"/>
<path d="M349.2,84.1 L374.5,74.3 L374.5,100.6 L349.2,110.4 Z" fill="#c9c9c9" stroke="#777" stroke-width="0.5"/>
<path d="M367.1,71.1 L373.1,75.1 L373.1,84.5 L367.1,80.5 Z" fill="#8c8c8c" stroke="#777" stroke-width="0.3"/>
<path d="M367.1,71.1 L374.3,68.3 L380.3,72.3 L373.1,75.1 Z" fill="#cbcbcb" stroke="#777" stroke-width="0.3"/>
<path d="M373.1,75.1 L380.3,72.3 L380.3,81.7 L373.1,84.5 Z" fill="#a9a9a9" stroke="#777" stroke-width="0.3"/>
<path d="M274.3,81.8 L299.5,98.7 L299.5,138.2 L274.3,121.3 Z" fill="#8c8c8c" stroke="#777" stroke-width="0.5"/>
<path d="M274.3,81.8 L312.2,67.1 L337.5,84 L299.5,98.7 Z" fill="#cbcbcb" stroke="#777" stroke-width="0.5"/>
<path d="M299.5,98.7 L337.5,84 L337.5,123.5 L299.5,138.2 Z" fill="#a9a9a9" stroke="#777" stroke-width="0.5"/>
<path d="M308.6,104.6 L311,106.2 L311,126.9 L308.6,125.3 Z" fill="#9a9a9a" stroke="#777" stroke-width="0.4"/>
<path d="M308.6,104.6 L328.4,96.9 L330.8,98.5 L311,106.2 Z" fill="#dadada" stroke="#777" stroke-width="0.4"/>
<path d="M311,106.2 L330.8,98.5 L330.8,119.2 L311,126.9 Z" fill="#c2c2c2" stroke="#777" stroke-width="0.4"/>
<path d="M289.3,78.6 L302.5,87.4 L302.5,91.2 L289.3,82.3 Z" fill="#9a9a9a" stroke="#777" stroke-width="0.4"/>
<path d="M289.3,78.6 L309.2,70.9 L322.4,79.7 L302.5,87.4 Z" fill="#dadada" stroke="#777" stroke-width="0.4"/>
<path d="M302.5,87.4 L322.4,79.7 L322.4,83.5 L302.5,91.2 Z" fill="#c2c2c2" stroke="#777" stroke-width="0.4"/>
<path d="M321.9,88.6 L327.9,92.6 L327.9,102 L321.9,98 Z" fill="#8c8c8c" stroke="#777" stroke-width="0.3"/>
<path d="M321.9,88.6 L329.1,85.8 L335.1,89.8 L327.9,92.6 Z" fill="#cbcbcb" stroke="#777" stroke-width="0.3"/>
<path d="M327.9,92.6 L335.1,89.8 L335.1,99.2 L327.9,102 Z" fill="#a9a9a9" stroke="#777" stroke-width="0.3"/>
<path d="M242,107.9 L258.8,119.1 L258.8,145.4 L242,134.2 Z" fill="#9d9d9d" stroke="#777" stroke-width="0.5"/>
<path d="M242,107.9 L267.3,98.1 L284.1,109.3 L258.8,119.1 Z" fill="#dedede" stroke="#777" stroke-width="0.5"/>
<path d="M258.8,119.1 L284.1,109.3 L284.1,135.6 L258.8,145.4 Z" fill="#c9c9c9" stroke="#777" stroke-width="0.5"/>
<path d="M276.7,106.1 L282.7,110.1 L282.7,119.5 L276.7,115.5 Z" fill="#8c8c8c" stroke="#777" stroke-width="0.3"/>
<path d="M276.7,106.1 L283.9,103.3 L289.9,107.3 L282.7,110.1 Z" fill="#cbcbcb" stroke="#777" stroke-width="0.3"/>
<path d="M282.7,110.1 L289.9,107.3 L289.9,116.7 L282.7,119.5 Z" fill="#a9a9a9" stroke="#777" stroke-width="0.3"/>
<path d="M183.9,116.8 L209.1,133.7 L209.1,173.2 L183.9,156.3 Z" fill="#8c8c8c" stroke="#777" stroke-width="0.5"/>
<path d="M183.9,116.8 L221.8,102.1 L247.1,119 L209.1,133.7 Z" fill="#cbcbcb" stroke="#777" stroke-width="0.5"/>
<path d="M209.1,133.7 L247.1,119 L247.1,158.5 L209.1,173.2 Z" fill="#a9a9a9" stroke="#777" stroke-width="0.5"/>
<path d="M218.2,139.6 L220.6,141.2 L220.6,161.9 L218.2,160.3 Z" fill="#9a9a9a" stroke="#777" stroke-width="0.4"/>
<path d="M218.2,139.6 L238,131.9 L240.4,133.5 L220.6,141.2 Z" fill="#dadada" stroke="#777" stroke-width="0.4"/>
<path d="M220.6,141.2 L240.4,133.5 L240.4,154.2 L220.6,161.9 Z" fill="#c2c2c2" stroke="#777" stroke-width="0.4"/>
<path d="M198.9,113.6 L212.1,122.4 L212.1,126.1 L198.9,117.3 Z" fill="#9a9a9a" stroke="#777" stroke-width="0.4"/>
<path d="M198.9,113.6 L218.8,105.9 L232,114.7 L212.1,122.4 Z" fill="#dadada" stroke="#777" stroke-width="0.4"/>
<path d="M212.1,122.4 L232,114.7 L232,118.5 L212.1,126.1 Z" fill="#c2c2c2" stroke="#777" stroke-width="0.4"/>
<path d="M231.5,123.6 L237.5,127.6 L237.5,137 L231.5,133 Z" fill="#8c8c8c" stroke="#777" stroke-width="0.3"/>
<path d="M231.5,123.6 L238.7,120.8 L244.7,124.8 L237.5,127.6 Z" fill="#cbcbcb" stroke="#777" stroke-width="0.3"/>
<path d="M237.5,127.6 L244.7,124.8 L244.7,134.2 L237.5,137 Z" fill="#a9a9a9" stroke="#777" stroke-width="0.3"/>
<path d="M151.6,142.9 L168.4,154.1 L168.4,180.4 L151.6,169.2 Z" fill="#9d9d9d" stroke="#777" stroke-width="0.5"/>
<path d="M151.6,142.9 L176.9,133.1 L193.7,144.3 L168.4,154.1 Z" fill="#dedede" stroke="#777" stroke-width="0.5"/>
<path d="M168.4,154.1 L193.7,144.3 L193.7,170.6 L168.4,180.4 Z" fill="#c9c9c9" stroke="#777" stroke-width="0.5"/>
<path d="M186.3,141.1 L192.3,145.1 L192.3,154.5 L186.3,150.5 Z" fill="#8c8c8c" stroke="#777" stroke-width="0.3"/>
<path d="M186.3,141.1 L193.5,138.3 L199.5,142.3 L192.3,145.1 Z" fill="#cbcbcb" stroke="#777" stroke-width="0.3"/>
<path d="M192.3,145.1 L199.5,142.3 L199.5,151.7 L192.3,154.5 Z" fill="#a9a9a9" stroke="#777" stroke-width="0.3"/>
<path d="M93.5,151.8 L118.7,168.7 L118.7,208.2 L93.5,191.3 Z" fill="#8c8c8c" stroke="#777" stroke-width="0.5"/>
<path d="M93.5,151.8 L131.4,137.1 L156.7,154 L118.7,168.7 Z" fill="#cbcbcb" stroke="#777" stroke-width="0.5"/>
<path d="M118.7,168.7 L156.7,154 L156.7,193.5 L118.7,208.2 Z" fill="#a9a9a9" stroke="#777" stroke-width="0.5"/>
<path d="M127.8,174.6 L130.2,176.2 L130.2,196.9 L127.8,195.3 Z" fill="#9a9a9a" stroke="#777" stroke-width="0.4"/>
<path d="M127.8,174.6 L147.6,166.9 L150,168.5 L130.2,176.2 Z" fill="#dadada" stroke="#777" stroke-width="0.4"/>
<path d="M130.2,176.2 L150,168.5 L150,189.2 L130.2,196.9 Z" fill="#c2c2c2" stroke="#777" stroke-width="0.4"/>
<path d="M108.5,148.6 L121.7,157.4 L121.7,161.1 L108.5,152.3 Z" fill="#9a9a9a" stroke="#777" stroke-width="0.4"/>
<path d="M108.5,148.6 L128.4,140.9 L141.6,149.7 L121.7,157.4 Z" fill="#dadada" stroke="#777" stroke-width="0.4"/>
<path d="M121.7,157.4 L141.6,149.7 L141.6,153.4 L121.7,161.1 Z" fill="#c2c2c2" stroke="#777" stroke-width="0.4"/>
<path d="M141.1,158.6 L147.1,162.6 L147.1,172 L141.1,168 Z" fill="#8c8c8c" stroke="#777" stroke-width="0.3"/>
<path d="M141.1,158.6 L148.3,155.8 L154.3,159.8 L147.1,162.6 Z" fill="#cbcbcb" stroke="#777" stroke-width="0.3"/>
<path d="M147.1,162.6 L154.3,159.8 L154.3,169.2 L147.1,172 Z" fill="#a9a9a9" stroke="#777" stroke-width="0.3"/>
<path d="M61.2,177.9 L78,189.1 L78,215.4 L61.2,204.2 Z" fill="#9d9d9d" stroke="#777" stroke-width="0.5"/>
<path d="M61.2,177.9 L86.5,168.1 L103.3,179.3 L78,189.1 Z" fill="#dedede" stroke="#777" stroke-width="0.5"/>
<path d="M78,189.1 L103.3,179.3 L103.3,205.6 L78,215.4 Z" fill="#c9c9c9" stroke="#777" stroke-width="0.5"/>
<path d="M95.9,176.1 L101.9,180.1 L101.9,189.5 L95.9,185.5 Z" fill="#8c8c8c" stroke="#777" stroke-width="0.3"/>
<path d="M95.9,176.1 L103.1,173.3 L109.1,177.3 L101.9,180.1 Z" fill="#cbcbcb" stroke="#777" stroke-width="0.3"/>
<path d="M101.9,180.1 L109.1,177.3 L109.1,186.7 L101.9,189.5 Z" fill="#a9a9a9" stroke="#777" stroke-width="0.3"/>
</g>
<path d="M162.7,150.4 L253.1,115.4 L253.1,209.5 L162.7,244.5 Z M102.6,110.3 L193,75.3 L253.1,115.4 L162.7,150.4 Z" fill="#eef6fc" fill-opacity="0.3"/>
<path d="M298.3,97.9 L388.7,62.9 L388.7,157 L298.3,192 Z M238.2,57.8 L328.6,22.8 L388.7,62.9 L298.3,97.9 Z" fill="#fbeaea" fill-opacity="0.25"/>
<line x1="102.6" y1="110.3" x2="193" y2="75.3" stroke="#3b7fc0" stroke-width="1.3"/>
<line x1="193" y1="75.3" x2="253.1" y2="115.4" stroke="#3b7fc0" stroke-width="1.3"/>
<line x1="102.6" y1="110.3" x2="162.7" y2="150.4" stroke="#3b7fc0" stroke-width="1.3"/>
<line x1="162.7" y1="150.4" x2="253.1" y2="115.4" stroke="#3b7fc0" stroke-width="1.3"/>
<line x1="253.1" y1="115.4" x2="253.1" y2="209.5" stroke="#3b7fc0" stroke-width="1.3"/>
<line x1="162.7" y1="150.4" x2="162.7" y2="244.5" stroke="#3b7fc0" stroke-width="1.3"/>
<line x1="162.7" y1="244.5" x2="253.1" y2="209.5" stroke="#3b7fc0" stroke-width="1.3"/>
<line x1="102.6" y1="110.3" x2="102.6" y2="204.4" stroke="#3b7fc0" stroke-width="1.3" stroke-opacity="0.45" stroke-dasharray="4,3"/>
<line x1="102.6" y1="204.4" x2="162.7" y2="244.5" stroke="#3b7fc0" stroke-width="1.3" stroke-opacity="0.45" stroke-dasharray="4,3"/>
<line x1="193" y1="75.3" x2="193" y2="169.4" stroke="#3b7fc0" stroke-width="1.3" stroke-opacity="0.45" stroke-dasharray="4,3"/>
<line x1="102.6" y1="204.4" x2="193" y2="169.4" stroke="#3b7fc0" stroke-width="1.3" stroke-opacity="0.45" stroke-dasharray="4,3"/>
<line x1="193" y1="169.4" x2="253.1" y2="209.5" stroke="#3b7fc0" stroke-width="1.3" stroke-opacity="0.45" stroke-dasharray="4,3"/>
<line x1="238.2" y1="57.8" x2="328.6" y2="22.8" stroke="#f03030" stroke-width="1.3"/>
<line x1="328.6" y1="22.8" x2="388.7" y2="62.9" stroke="#f03030" stroke-width="1.3"/>
<line x1="238.2" y1="57.8" x2="298.3" y2="97.9" stroke="#f03030" stroke-width="1.3"/>
<line x1="298.3" y1="97.9" x2="388.7" y2="62.9" stroke="#f03030" stroke-width="1.3"/>
<line x1="388.7" y1="62.9" x2="388.7" y2="157" stroke="#f03030" stroke-width="1.3"/>
<line x1="298.3" y1="97.9" x2="298.3" y2="192" stroke="#f03030" stroke-width="1.3"/>
<line x1="298.3" y1="192" x2="388.7" y2="157" stroke="#f03030" stroke-width="1.3"/>
<line x1="238.2" y1="57.8" x2="238.2" y2="151.9" stroke="#f03030" stroke-width="1.3" stroke-opacity="0.45" stroke-dasharray="4,3"/>
<line x1="238.2" y1="151.9" x2="298.3" y2="192" stroke="#f03030" stroke-width="1.3" stroke-opacity="0.45" stroke-dasharray="4,3"/>
<line x1="328.6" y1="22.8" x2="328.6" y2="116.9" stroke="#f03030" stroke-width="1.3" stroke-opacity="0.45" stroke-dasharray="4,3"/>
<line x1="238.2" y1="151.9" x2="328.6" y2="116.9" stroke="#f03030" stroke-width="1.3" stroke-opacity="0.45" stroke-dasharray="4,3"/>
<line x1="328.6" y1="116.9" x2="388.7" y2="157" stroke="#f03030" stroke-width="1.3" stroke-opacity="0.45" stroke-dasharray="4,3"/>
<line x1="193" y1="75.3" x2="238.2" y2="57.8" stroke="#000" stroke-width="3" stroke-linecap="square"/>
<line x1="238.2" y1="57.8" x2="298.3" y2="97.9" stroke="#000" stroke-width="3" stroke-linecap="square"/>
<line x1="193" y1="75.3" x2="253.1" y2="115.4" stroke="#000" stroke-width="3" stroke-linecap="square"/>
<line x1="253.1" y1="115.4" x2="298.3" y2="97.9" stroke="#000" stroke-width="3" stroke-linecap="square"/>
<line x1="298.3" y1="97.9" x2="298.3" y2="192" stroke="#000" stroke-width="3" stroke-linecap="square"/>
<line x1="253.1" y1="115.4" x2="253.1" y2="209.5" stroke="#000" stroke-width="3" stroke-linecap="square"/>
<line x1="253.1" y1="209.5" x2="298.3" y2="192" stroke="#000" stroke-width="3" stroke-linecap="square"/>
<line x1="193" y1="75.3" x2="193" y2="169.4" stroke="#000" stroke-width="3" stroke-dasharray="7,4"/>
<line x1="193" y1="169.4" x2="253.1" y2="209.5" stroke="#000" stroke-width="3" stroke-dasharray="7,4"/>
<clipPath id="silL"><path d="M260,250.9 L300,236 L410,192.4 L509.7,155.2 L571,158 L571,302 L473.8,341.2 L423,360 L325,397 L322,398.3 L260,398.3 Z"/></clipPath>
<g clip-path="url(#silL)">
<rect x="255" y="150" width="320" height="250" fill="#9c9c9c"/>
<path d="M482.3,187.2 L509.6,205.7 L509.6,249 L482.3,230.5 Z" fill="#8c8c8c" stroke="#777" stroke-width="0.5"/>
<path d="M482.3,187.2 L524.3,171.1 L551.6,189.6 L509.6,205.7 Z" fill="#cbcbcb" stroke="#777" stroke-width="0.5"/>
<path d="M509.6,205.7 L551.6,189.6 L551.6,232.9 L509.6,249 Z" fill="#a9a9a9" stroke="#777" stroke-width="0.5"/>
<path d="M519.6,212.2 L522.2,213.9 L522.2,236.6 L519.6,234.8 Z" fill="#9a9a9a" stroke="#777" stroke-width="0.4"/>
<path d="M519.6,212.2 L541.6,203.7 L544.2,205.5 L522.2,213.9 Z" fill="#dadada" stroke="#777" stroke-width="0.4"/>
<path d="M522.2,213.9 L544.2,205.5 L544.2,228.2 L522.2,236.6 Z" fill="#c2c2c2" stroke="#777" stroke-width="0.4"/>
<path d="M498.8,183.7 L513.1,193.4 L513.1,197.5 L498.8,187.8 Z" fill="#9a9a9a" stroke="#777" stroke-width="0.4"/>
<path d="M498.8,183.7 L520.8,175.2 L535.1,184.9 L513.1,193.4 Z" fill="#dadada" stroke="#777" stroke-width="0.4"/>
<path d="M513.1,193.4 L535.1,184.9 L535.1,189 L513.1,197.5 Z" fill="#c2c2c2" stroke="#777" stroke-width="0.4"/>
<path d="M534.7,194.6 L541.2,199 L541.2,209.3 L534.7,204.9 Z" fill="#8c8c8c" stroke="#777" stroke-width="0.3"/>
<path d="M534.7,194.6 L542.7,191.6 L549.2,196 L541.2,199 Z" fill="#cbcbcb" stroke="#777" stroke-width="0.3"/>
<path d="M541.2,199 L549.2,196 L549.2,206.3 L541.2,209.3 Z" fill="#a9a9a9" stroke="#777" stroke-width="0.3"/>
<path d="M446.4,215.8 L464.6,228.1 L464.6,257 L446.4,244.6 Z" fill="#9d9d9d" stroke="#777" stroke-width="0.5"/>
<path d="M446.4,215.8 L474.4,205.1 L492.6,217.4 L464.6,228.1 Z" fill="#dedede" stroke="#777" stroke-width="0.5"/>
<path d="M464.6,228.1 L492.6,217.4 L492.6,246.2 L464.6,257 Z" fill="#c9c9c9" stroke="#777" stroke-width="0.5"/>
<path d="M484.7,213.8 L491.2,218.2 L491.2,228.5 L484.7,224.1 Z" fill="#8c8c8c" stroke="#777" stroke-width="0.3"/>
<path d="M484.7,213.8 L492.7,210.8 L499.2,215.2 L491.2,218.2 Z" fill="#cbcbcb" stroke="#777" stroke-width="0.3"/>
<path d="M491.2,218.2 L499.2,215.2 L499.2,225.5 L491.2,228.5 Z" fill="#a9a9a9" stroke="#777" stroke-width="0.3"/>
<path d="M382.3,225.6 L409.6,244.1 L409.6,287.4 L382.3,268.9 Z" fill="#8c8c8c" stroke="#777" stroke-width="0.5"/>
<path d="M382.3,225.6 L424.3,209.5 L451.6,228 L409.6,244.1 Z" fill="#cbcbcb" stroke="#777" stroke-width="0.5"/>
<path d="M409.6,244.1 L451.6,228 L451.6,271.3 L409.6,287.4 Z" fill="#a9a9a9" stroke="#777" stroke-width="0.5"/>
<path d="M419.6,250.6 L422.2,252.3 L422.2,275 L419.6,273.2 Z" fill="#9a9a9a" stroke="#777" stroke-width="0.4"/>
<path d="M419.6,250.6 L441.6,242.1 L444.2,243.9 L422.2,252.3 Z" fill="#dadada" stroke="#777" stroke-width="0.4"/>
<path d="M422.2,252.3 L444.2,243.9 L444.2,266.6 L422.2,275 Z" fill="#c2c2c2" stroke="#777" stroke-width="0.4"/>
<path d="M398.8,222.1 L413.1,231.8 L413.1,235.9 L398.8,226.2 Z" fill="#9a9a9a" stroke="#777" stroke-width="0.4"/>
<path d="M398.8,222.1 L420.8,213.6 L435.1,223.3 L413.1,231.8 Z" fill="#dadada" stroke="#777" stroke-width="0.4"/>
<path d="M413.1,231.8 L435.1,223.3 L435.1,227.4 L413.1,235.9 Z" fill="#c2c2c2" stroke="#777" stroke-width="0.4"/>
<path d="M434.7,233 L441.2,237.4 L441.2,247.7 L434.7,243.3 Z" fill="#8c8c8c" stroke="#777" stroke-width="0.3"/>
<path d="M434.7,233 L442.7,230 L449.2,234.4 L441.2,237.4 Z" fill="#cbcbcb" stroke="#777" stroke-width="0.3"/>
<path d="M441.2,237.4 L449.2,234.4 L449.2,244.7 L441.2,247.7 Z" fill="#a9a9a9" stroke="#777" stroke-width="0.3"/>
<path d="M346.4,254.2 L364.6,266.5 L364.6,295.4 L346.4,283 Z" fill="#9d9d9d" stroke="#777" stroke-width="0.5"/>
<path d="M346.4,254.2 L374.4,243.5 L392.6,255.8 L364.6,266.5 Z" fill="#dedede" stroke="#777" stroke-width="0.5"/>
<path d="M364.6,266.5 L392.6,255.8 L392.6,284.6 L364.6,295.4 Z" fill="#c9c9c9" stroke="#777" stroke-width="0.5"/>
<path d="M384.7,252.2 L391.2,256.6 L391.2,266.9 L384.7,262.5 Z" fill="#8c8c8c" stroke="#777" stroke-width="0.3"/>
<path d="M384.7,252.2 L392.7,249.2 L399.2,253.6 L391.2,256.6 Z" fill="#cbcbcb" stroke="#777" stroke-width="0.3"/>
<path d="M391.2,256.6 L399.2,253.6 L399.2,263.9 L391.2,266.9 Z" fill="#a9a9a9" stroke="#777" stroke-width="0.3"/>
<path d="M282.3,264 L309.6,282.5 L309.6,325.8 L282.3,307.3 Z" fill="#8c8c8c" stroke="#777" stroke-width="0.5"/>
<path d="M282.3,264 L324.3,247.9 L351.6,266.4 L309.6,282.5 Z" fill="#cbcbcb" stroke="#777" stroke-width="0.5"/>
<path d="M309.6,282.5 L351.6,266.4 L351.6,309.7 L309.6,325.8 Z" fill="#a9a9a9" stroke="#777" stroke-width="0.5"/>
<path d="M319.6,289 L322.2,290.7 L322.2,313.4 L319.6,311.6 Z" fill="#9a9a9a" stroke="#777" stroke-width="0.4"/>
<path d="M319.6,289 L341.6,280.5 L344.2,282.3 L322.2,290.7 Z" fill="#dadada" stroke="#777" stroke-width="0.4"/>
<path d="M322.2,290.7 L344.2,282.3 L344.2,305 L322.2,313.4 Z" fill="#c2c2c2" stroke="#777" stroke-width="0.4"/>
<path d="M298.8,260.5 L313.1,270.2 L313.1,274.3 L298.8,264.6 Z" fill="#9a9a9a" stroke="#777" stroke-width="0.4"/>
<path d="M298.8,260.5 L320.8,252 L335.1,261.7 L313.1,270.2 Z" fill="#dadada" stroke="#777" stroke-width="0.4"/>
<path d="M313.1,270.2 L335.1,261.7 L335.1,265.8 L313.1,274.3 Z" fill="#c2c2c2" stroke="#777" stroke-width="0.4"/>
<path d="M334.7,271.4 L341.2,275.8 L341.2,286.1 L334.7,281.7 Z" fill="#8c8c8c" stroke="#777" stroke-width="0.3"/>
<path d="M334.7,271.4 L342.7,268.4 L349.2,272.8 L341.2,275.8 Z" fill="#cbcbcb" stroke="#777" stroke-width="0.3"/>
<path d="M341.2,275.8 L349.2,272.8 L349.2,283.1 L341.2,286.1 Z" fill="#a9a9a9" stroke="#777" stroke-width="0.3"/>
<path d="M246.4,292.6 L264.6,304.9 L264.6,333.8 L246.4,321.4 Z" fill="#9d9d9d" stroke="#777" stroke-width="0.5"/>
<path d="M246.4,292.6 L274.4,281.9 L292.6,294.2 L264.6,304.9 Z" fill="#dedede" stroke="#777" stroke-width="0.5"/>
<path d="M264.6,304.9 L292.6,294.2 L292.6,323 L264.6,333.8 Z" fill="#c9c9c9" stroke="#777" stroke-width="0.5"/>
<path d="M284.7,290.6 L291.2,295 L291.2,305.3 L284.7,300.9 Z" fill="#8c8c8c" stroke="#777" stroke-width="0.3"/>
<path d="M284.7,290.6 L292.7,287.6 L299.2,292 L291.2,295 Z" fill="#cbcbcb" stroke="#777" stroke-width="0.3"/>
<path d="M291.2,295 L299.2,292 L299.2,302.3 L291.2,305.3 Z" fill="#a9a9a9" stroke="#777" stroke-width="0.3"/>
<path d="M182.3,302.4 L209.6,320.9 L209.6,364.2 L182.3,345.7 Z" fill="#8c8c8c" stroke="#777" stroke-width="0.5"/>
<path d="M182.3,302.4 L224.3,286.3 L251.6,304.8 L209.6,320.9 Z" fill="#cbcbcb" stroke="#777" stroke-width="0.5"/>
<path d="M209.6,320.9 L251.6,304.8 L251.6,348.1 L209.6,364.2 Z" fill="#a9a9a9" stroke="#777" stroke-width="0.5"/>
<path d="M219.6,327.4 L222.2,329.1 L222.2,351.8 L219.6,350 Z" fill="#9a9a9a" stroke="#777" stroke-width="0.4"/>
<path d="M219.6,327.4 L241.6,318.9 L244.2,320.7 L222.2,329.1 Z" fill="#dadada" stroke="#777" stroke-width="0.4"/>
<path d="M222.2,329.1 L244.2,320.7 L244.2,343.4 L222.2,351.8 Z" fill="#c2c2c2" stroke="#777" stroke-width="0.4"/>
<path d="M198.8,298.9 L213.1,308.6 L213.1,312.7 L198.8,303 Z" fill="#9a9a9a" stroke="#777" stroke-width="0.4"/>
<path d="M198.8,298.9 L220.8,290.4 L235.1,300.1 L213.1,308.6 Z" fill="#dadada" stroke="#777" stroke-width="0.4"/>
<path d="M213.1,308.6 L235.1,300.1 L235.1,304.2 L213.1,312.7 Z" fill="#c2c2c2" stroke="#777" stroke-width="0.4"/>
<path d="M234.7,309.8 L241.2,314.2 L241.2,324.5 L234.7,320.1 Z" fill="#8c8c8c" stroke="#777" stroke-width="0.3"/>
<path d="M234.7,309.8 L242.7,306.8 L249.2,311.2 L241.2,314.2 Z" fill="#cbcbcb" stroke="#777" stroke-width="0.3"/>
<path d="M241.2,314.2 L249.2,311.2 L249.2,321.5 L241.2,324.5 Z" fill="#a9a9a9" stroke="#777" stroke-width="0.3"/>
<path d="M146.4,331 L164.6,343.3 L164.6,372.2 L146.4,359.8 Z" fill="#9d9d9d" stroke="#777" stroke-width="0.5"/>
<path d="M146.4,331 L174.4,320.3 L192.6,332.6 L164.6,343.3 Z" fill="#dedede" stroke="#777" stroke-width="0.5"/>
<path d="M164.6,343.3 L192.6,332.6 L192.6,361.4 L164.6,372.2 Z" fill="#c9c9c9" stroke="#777" stroke-width="0.5"/>
<path d="M184.7,329 L191.2,333.4 L191.2,343.7 L184.7,339.3 Z" fill="#8c8c8c" stroke="#777" stroke-width="0.3"/>
<path d="M184.7,329 L192.7,326 L199.2,330.4 L191.2,333.4 Z" fill="#cbcbcb" stroke="#777" stroke-width="0.3"/>
<path d="M191.2,333.4 L199.2,330.4 L199.2,340.7 L191.2,343.7 Z" fill="#a9a9a9" stroke="#777" stroke-width="0.3"/>
<path d="M496.4,145.1 L514.6,157.4 L514.6,186.3 L496.4,173.9 Z" fill="#9d9d9d" stroke="#777" stroke-width="0.5"/>
<path d="M496.4,145.1 L524.4,134.4 L542.6,146.7 L514.6,157.4 Z" fill="#dedede" stroke="#777" stroke-width="0.5"/>
<path d="M514.6,157.4 L542.6,146.7 L542.6,175.5 L514.6,186.3 Z" fill="#c9c9c9" stroke="#777" stroke-width="0.5"/>
<path d="M534.7,143.1 L541.2,147.5 L541.2,157.8 L534.7,153.4 Z" fill="#8c8c8c" stroke="#777" stroke-width="0.3"/>
<path d="M534.7,143.1 L542.7,140.1 L549.2,144.5 L541.2,147.5 Z" fill="#cbcbcb" stroke="#777" stroke-width="0.3"/>
<path d="M541.2,147.5 L549.2,144.5 L549.2,154.8 L541.2,157.8 Z" fill="#a9a9a9" stroke="#777" stroke-width="0.3"/>
<path d="M432.3,154.9 L459.6,173.4 L459.6,216.7 L432.3,198.2 Z" fill="#8c8c8c" stroke="#777" stroke-width="0.5"/>
<path d="M432.3,154.9 L474.3,138.8 L501.6,157.3 L459.6,173.4 Z" fill="#cbcbcb" stroke="#777" stroke-width="0.5"/>
<path d="M459.6,173.4 L501.6,157.3 L501.6,200.6 L459.6,216.7 Z" fill="#a9a9a9" stroke="#777" stroke-width="0.5"/>
<path d="M469.6,179.9 L472.2,181.6 L472.2,204.3 L469.6,202.5 Z" fill="#9a9a9a" stroke="#777" stroke-width="0.4"/>
<path d="M469.6,179.9 L491.6,171.4 L494.2,173.2 L472.2,181.6 Z" fill="#dadada" stroke="#777" stroke-width="0.4"/>
<path d="M472.2,181.6 L494.2,173.2 L494.2,195.9 L472.2,204.3 Z" fill="#c2c2c2" stroke="#777" stroke-width="0.4"/>
<path d="M448.8,151.4 L463.1,161.1 L463.1,165.2 L448.8,155.5 Z" fill="#9a9a9a" stroke="#777" stroke-width="0.4"/>
<path d="M448.8,151.4 L470.8,142.9 L485.1,152.6 L463.1,161.1 Z" fill="#dadada" stroke="#777" stroke-width="0.4"/>
<path d="M463.1,161.1 L485.1,152.6 L485.1,156.7 L463.1,165.2 Z" fill="#c2c2c2" stroke="#777" stroke-width="0.4"/>
<path d="M484.7,162.3 L491.2,166.7 L491.2,177 L484.7,172.6 Z" fill="#8c8c8c" stroke="#777" stroke-width="0.3"/>
<path d="M484.7,162.3 L492.7,159.3 L499.2,163.7 L491.2,166.7 Z" fill="#cbcbcb" stroke="#777" stroke-width="0.3"/>
<path d="M491.2,166.7 L499.2,163.7 L499.2,174 L491.2,177 Z" fill="#a9a9a9" stroke="#777" stroke-width="0.3"/>
<path d="M396.4,183.5 L414.6,195.8 L414.6,224.7 L396.4,212.3 Z" fill="#9d9d9d" stroke="#777" stroke-width="0.5"/>
<path d="M396.4,183.5 L424.4,172.8 L442.6,185.1 L414.6,195.8 Z" fill="#dedede" stroke="#777" stroke-width="0.5"/>
<path d="M414.6,195.8 L442.6,185.1 L442.6,213.9 L414.6,224.7 Z" fill="#c9c9c9" stroke="#777" stroke-width="0.5"/>
<path d="M434.7,181.5 L441.2,185.9 L441.2,196.2 L434.7,191.8 Z" fill="#8c8c8c" stroke="#777" stroke-width="0.3"/>
<path d="M434.7,181.5 L442.7,178.5 L449.2,182.9 L441.2,185.9 Z" fill="#cbcbcb" stroke="#777" stroke-width="0.3"/>
<path d="M441.2,185.9 L449.2,182.9 L449.2,193.2 L441.2,196.2 Z" fill="#a9a9a9" stroke="#777" stroke-width="0.3"/>
<path d="M332.3,193.3 L359.6,211.8 L359.6,255.1 L332.3,236.6 Z" fill="#8c8c8c" stroke="#777" stroke-width="0.5"/>
<path d="M332.3,193.3 L374.3,177.2 L401.6,195.7 L359.6,211.8 Z" fill="#cbcbcb" stroke="#777" stroke-width="0.5"/>
<path d="M359.6,211.8 L401.6,195.7 L401.6,239 L359.6,255.1 Z" fill="#a9a9a9" stroke="#777" stroke-width="0.5"/>
<path d="M369.6,218.3 L372.2,220 L372.2,242.7 L369.6,240.9 Z" fill="#9a9a9a" stroke="#777" stroke-width="0.4"/>
<path d="M369.6,218.3 L391.6,209.8 L394.2,211.6 L372.2,220 Z" fill="#dadada" stroke="#777" stroke-width="0.4"/>
<path d="M372.2,220 L394.2,211.6 L394.2,234.3 L372.2,242.7 Z" fill="#c2c2c2" stroke="#777" stroke-width="0.4"/>
<path d="M348.8,189.8 L363.1,199.5 L363.1,203.6 L348.8,193.9 Z" fill="#9a9a9a" stroke="#777" stroke-width="0.4"/>
<path d="M348.8,189.8 L370.8,181.3 L385.1,191 L363.1,199.5 Z" fill="#dadada" stroke="#777" stroke-width="0.4"/>
<path d="M363.1,199.5 L385.1,191 L385.1,195.1 L363.1,203.6 Z" fill="#c2c2c2" stroke="#777" stroke-width="0.4"/>
<path d="M384.7,200.7 L391.2,205.1 L391.2,215.4 L384.7,211 Z" fill="#8c8c8c" stroke="#777" stroke-width="0.3"/>
<path d="M384.7,200.7 L392.7,197.7 L399.2,202.1 L391.2,205.1 Z" fill="#cbcbcb" stroke="#777" stroke-width="0.3"/>
<path d="M391.2,205.1 L399.2,202.1 L399.2,212.4 L391.2,215.4 Z" fill="#a9a9a9" stroke="#777" stroke-width="0.3"/>
<path d="M296.4,221.9 L314.6,234.2 L314.6,263.1 L296.4,250.7 Z" fill="#9d9d9d" stroke="#777" stroke-width="0.5"/>
<path d="M296.4,221.9 L324.4,211.2 L342.6,223.5 L314.6,234.2 Z" fill="#dedede" stroke="#777" stroke-width="0.5"/>
<path d="M314.6,234.2 L342.6,223.5 L342.6,252.3 L314.6,263.1 Z" fill="#c9c9c9" stroke="#777" stroke-width="0.5"/>
<path d="M334.7,219.9 L341.2,224.3 L341.2,234.6 L334.7,230.2 Z" fill="#8c8c8c" stroke="#777" stroke-width="0.3"/>
<path d="M334.7,219.9 L342.7,216.9 L349.2,221.3 L341.2,224.3 Z" fill="#cbcbcb" stroke="#777" stroke-width="0.3"/>
<path d="M341.2,224.3 L349.2,221.3 L349.2,231.6 L341.2,234.6 Z" fill="#a9a9a9" stroke="#777" stroke-width="0.3"/>
<path d="M232.3,231.7 L259.6,250.2 L259.6,293.5 L232.3,275 Z" fill="#8c8c8c" stroke="#777" stroke-width="0.5"/>
<path d="M232.3,231.7 L274.3,215.6 L301.6,234.1 L259.6,250.2 Z" fill="#cbcbcb" stroke="#777" stroke-width="0.5"/>
<path d="M259.6,250.2 L301.6,234.1 L301.6,277.4 L259.6,293.5 Z" fill="#a9a9a9" stroke="#777" stroke-width="0.5"/>
<path d="M269.6,256.7 L272.2,258.4 L272.2,281.1 L269.6,279.3 Z" fill="#9a9a9a" stroke="#777" stroke-width="0.4"/>
<path d="M269.6,256.7 L291.6,248.2 L294.2,250 L272.2,258.4 Z" fill="#dadada" stroke="#777" stroke-width="0.4"/>
<path d="M272.2,258.4 L294.2,250 L294.2,272.7 L272.2,281.1 Z" fill="#c2c2c2" stroke="#777" stroke-width="0.4"/>
<path d="M248.8,228.2 L263.1,237.9 L263.1,242 L248.8,232.3 Z" fill="#9a9a9a" stroke="#777" stroke-width="0.4"/>
<path d="M248.8,228.2 L270.8,219.7 L285.1,229.4 L263.1,237.9 Z" fill="#dadada" stroke="#777" stroke-width="0.4"/>
<path d="M263.1,237.9 L285.1,229.4 L285.1,233.5 L263.1,242 Z" fill="#c2c2c2" stroke="#777" stroke-width="0.4"/>
<path d="M284.7,239.1 L291.2,243.5 L291.2,253.8 L284.7,249.4 Z" fill="#8c8c8c" stroke="#777" stroke-width="0.3"/>
<path d="M284.7,239.1 L292.7,236.1 L299.2,240.5 L291.2,243.5 Z" fill="#cbcbcb" stroke="#777" stroke-width="0.3"/>
<path d="M291.2,243.5 L299.2,240.5 L299.2,250.8 L291.2,253.8 Z" fill="#a9a9a9" stroke="#777" stroke-width="0.3"/>
<path d="M196.4,260.3 L214.6,272.6 L214.6,301.5 L196.4,289.1 Z" fill="#9d9d9d" stroke="#777" stroke-width="0.5"/>
<path d="M196.4,260.3 L224.4,249.6 L242.6,261.9 L214.6,272.6 Z" fill="#dedede" stroke="#777" stroke-width="0.5"/>
<path d="M214.6,272.6 L242.6,261.9 L242.6,290.7 L214.6,301.5 Z" fill="#c9c9c9" stroke="#777" stroke-width="0.5"/>
<path d="M234.7,258.3 L241.2,262.7 L241.2,273 L234.7,268.6 Z" fill="#8c8c8c" stroke="#777" stroke-width="0.3"/>
<path d="M234.7,258.3 L242.7,255.3 L249.2,259.7 L241.2,262.7 Z" fill="#cbcbcb" stroke="#777" stroke-width="0.3"/>
<path d="M241.2,262.7 L249.2,259.7 L249.2,270 L241.2,273 Z" fill="#a9a9a9" stroke="#777" stroke-width="0.3"/>
<path d="M132.3,270.1 L159.6,288.6 L159.6,331.9 L132.3,313.4 Z" fill="#8c8c8c" stroke="#777" stroke-width="0.5"/>
<path d="M132.3,270.1 L174.3,254 L201.6,272.5 L159.6,288.6 Z" fill="#cbcbcb" stroke="#777" stroke-width="0.5"/>
<path d="M159.6,288.6 L201.6,272.5 L201.6,315.8 L159.6,331.9 Z" fill="#a9a9a9" stroke="#777" stroke-width="0.5"/>
<path d="M169.6,295.1 L172.2,296.8 L172.2,319.5 L169.6,317.7 Z" fill="#9a9a9a" stroke="#777" stroke-width="0.4"/>
<path d="M169.6,295.1 L191.6,286.6 L194.2,288.4 L172.2,296.8 Z" fill="#dadada" stroke="#777" stroke-width="0.4"/>
<path d="M172.2,296.8 L194.2,288.4 L194.2,311.1 L172.2,319.5 Z" fill="#c2c2c2" stroke="#777" stroke-width="0.4"/>
<path d="M148.8,266.6 L163.1,276.3 L163.1,280.4 L148.8,270.7 Z" fill="#9a9a9a" stroke="#777" stroke-width="0.4"/>
<path d="M148.8,266.6 L170.8,258.1 L185.1,267.8 L163.1,276.3 Z" fill="#dadada" stroke="#777" stroke-width="0.4"/>
<path d="M163.1,276.3 L185.1,267.8 L185.1,271.9 L163.1,280.4 Z" fill="#c2c2c2" stroke="#777" stroke-width="0.4"/>
<path d="M184.7,277.5 L191.2,281.9 L191.2,292.2 L184.7,287.8 Z" fill="#8c8c8c" stroke="#777" stroke-width="0.3"/>
<path d="M184.7,277.5 L192.7,274.5 L199.2,278.9 L191.2,281.9 Z" fill="#cbcbcb" stroke="#777" stroke-width="0.3"/>
<path d="M191.2,281.9 L199.2,278.9 L199.2,289.2 L191.2,292.2 Z" fill="#a9a9a9" stroke="#777" stroke-width="0.3"/>
<path d="M529,218.6 L547.2,230.9 L547.2,259.8 L529,247.4 Z" fill="#9d9d9d" stroke="#777" stroke-width="0.5"/>
<path d="M529,218.6 L557,207.9 L575.2,220.2 L547.2,230.9 Z" fill="#dedede" stroke="#777" stroke-width="0.5"/>
<path d="M547.2,230.9 L575.2,220.2 L575.2,249 L547.2,259.8 Z" fill="#c9c9c9" stroke="#777" stroke-width="0.5"/>
<path d="M567.2,216.6 L573.7,221 L573.7,231.3 L567.2,226.9 Z" fill="#8c8c8c" stroke="#777" stroke-width="0.3"/>
<path d="M567.2,216.6 L575.2,213.6 L581.7,218 L573.7,221 Z" fill="#cbcbcb" stroke="#777" stroke-width="0.3"/>
<path d="M573.7,221 L581.7,218 L581.7,228.3 L573.7,231.3 Z" fill="#a9a9a9" stroke="#777" stroke-width="0.3"/>
<path d="M464.8,228.4 L492.1,246.9 L492.1,290.2 L464.8,271.7 Z" fill="#8c8c8c" stroke="#777" stroke-width="0.5"/>
<path d="M464.8,228.4 L506.8,212.3 L534.1,230.8 L492.1,246.9 Z" fill="#cbcbcb" stroke="#777" stroke-width="0.5"/>
<path d="M492.1,246.9 L534.1,230.8 L534.1,274.1 L492.1,290.2 Z" fill="#a9a9a9" stroke="#777" stroke-width="0.5"/>
<path d="M502.1,253.4 L504.8,255.1 L504.8,277.8 L502.1,276 Z" fill="#9a9a9a" stroke="#777" stroke-width="0.4"/>
<path d="M502.1,253.4 L524.1,244.9 L526.8,246.7 L504.8,255.1 Z" fill="#dadada" stroke="#777" stroke-width="0.4"/>
<path d="M504.8,255.1 L526.8,246.7 L526.8,269.4 L504.8,277.8 Z" fill="#c2c2c2" stroke="#777" stroke-width="0.4"/>
<path d="M481.3,224.9 L495.6,234.6 L495.6,238.7 L481.3,229 Z" fill="#9a9a9a" stroke="#777" stroke-width="0.4"/>
<path d="M481.3,224.9 L503.3,216.4 L517.6,226.1 L495.6,234.6 Z" fill="#dadada" stroke="#777" stroke-width="0.4"/>
<path d="M495.6,234.6 L517.6,226.1 L517.6,230.2 L495.6,238.7 Z" fill="#c2c2c2" stroke="#777" stroke-width="0.4"/>
<path d="M517.2,235.8 L523.7,240.2 L523.7,250.5 L517.2,246.1 Z" fill="#8c8c8c" stroke="#777" stroke-width="0.3"/>
<path d="M517.2,235.8 L525.2,232.8 L531.7,237.2 L523.7,240.2 Z" fill="#cbcbcb" stroke="#777" stroke-width="0.3"/>
<path d="M523.7,240.2 L531.7,237.2 L531.7,247.5 L523.7,250.5 Z" fill="#a9a9a9" stroke="#777" stroke-width="0.3"/>
<path d="M429,257 L447.2,269.3 L447.2,298.2 L429,285.8 Z" fill="#9d9d9d" stroke="#777" stroke-width="0.5"/>
<path d="M429,257 L457,246.3 L475.2,258.6 L447.2,269.3 Z" fill="#dedede" stroke="#777" stroke-width="0.5"/>
<path d="M447.2,269.3 L475.2,258.6 L475.2,287.4 L447.2,298.2 Z" fill="#c9c9c9" stroke="#777" stroke-width="0.5"/>
<path d="M467.2,255 L473.7,259.4 L473.7,269.7 L467.2,265.3 Z" fill="#8c8c8c" stroke="#777" stroke-width="0.3"/>
<path d="M467.2,255 L475.2,252 L481.7,256.4 L473.7,259.4 Z" fill="#cbcbcb" stroke="#777" stroke-width="0.3"/>
<path d="M473.7,259.4 L481.7,256.4 L481.7,266.7 L473.7,269.7 Z" fill="#a9a9a9" stroke="#777" stroke-width="0.3"/>
<path d="M364.8,266.8 L392.1,285.3 L392.1,328.6 L364.8,310.1 Z" fill="#8c8c8c" stroke="#777" stroke-width="0.5"/>
<path d="M364.8,266.8 L406.8,250.7 L434.1,269.2 L392.1,285.3 Z" fill="#cbcbcb" stroke="#777" stroke-width="0.5"/>
<path d="M392.1,285.3 L434.1,269.2 L434.1,312.5 L392.1,328.6 Z" fill="#a9a9a9" stroke="#777" stroke-width="0.5"/>
<path d="M402.1,291.8 L404.8,293.5 L404.8,316.2 L402.1,314.4 Z" fill="#9a9a9a" stroke="#777" stroke-width="0.4"/>
<path d="M402.1,291.8 L424.1,283.3 L426.8,285.1 L404.8,293.5 Z" fill="#dadada" stroke="#777" stroke-width="0.4"/>
<path d="M404.8,293.5 L426.8,285.1 L426.8,307.8 L404.8,316.2 Z" fill="#c2c2c2" stroke="#777" stroke-width="0.4"/>
<path d="M381.3,263.3 L395.6,273 L395.6,277.1 L381.3,267.4 Z" fill="#9a9a9a" stroke="#777" stroke-width="0.4"/>
<path d="M381.3,263.3 L403.3,254.8 L417.6,264.5 L395.6,273 Z" fill="#dadada" stroke="#777" stroke-width="0.4"/>
<path d="M395.6,273 L417.6,264.5 L417.6,268.6 L395.6,277.1 Z" fill="#c2c2c2" stroke="#777" stroke-width="0.4"/>
<path d="M417.2,274.2 L423.7,278.6 L423.7,288.9 L417.2,284.5 Z" fill="#8c8c8c" stroke="#777" stroke-width="0.3"/>
<path d="M417.2,274.2 L425.2,271.2 L431.7,275.6 L423.7,278.6 Z" fill="#cbcbcb" stroke="#777" stroke-width="0.3"/>
<path d="M423.7,278.6 L431.7,275.6 L431.7,285.9 L423.7,288.9 Z" fill="#a9a9a9" stroke="#777" stroke-width="0.3"/>
<path d="M329,295.4 L347.2,307.7 L347.2,336.6 L329,324.2 Z" fill="#9d9d9d" stroke="#777" stroke-width="0.5"/>
<path d="M329,295.4 L357,284.7 L375.2,297 L347.2,307.7 Z" fill="#dedede" stroke="#777" stroke-width="0.5"/>
<path d="M347.2,307.7 L375.2,297 L375.2,325.8 L347.2,336.6 Z" fill="#c9c9c9" stroke="#777" stroke-width="0.5"/>
<path d="M367.2,293.4 L373.7,297.8 L373.7,308.1 L367.2,303.7 Z" fill="#8c8c8c" stroke="#777" stroke-width="0.3"/>
<path d="M367.2,293.4 L375.2,290.4 L381.7,294.8 L373.7,297.8 Z" fill="#cbcbcb" stroke="#777" stroke-width="0.3"/>
<path d="M373.7,297.8 L381.7,294.8 L381.7,305.1 L373.7,308.1 Z" fill="#a9a9a9" stroke="#777" stroke-width="0.3"/>
<path d="M264.8,305.2 L292.1,323.7 L292.1,367 L264.8,348.5 Z" fill="#8c8c8c" stroke="#777" stroke-width="0.5"/>
<path d="M264.8,305.2 L306.8,289.1 L334.1,307.6 L292.1,323.7 Z" fill="#cbcbcb" stroke="#777" stroke-width="0.5"/>
<path d="M292.1,323.7 L334.1,307.6 L334.1,350.9 L292.1,367 Z" fill="#a9a9a9" stroke="#777" stroke-width="0.5"/>
<path d="M302.1,330.2 L304.8,331.9 L304.8,354.6 L302.1,352.8 Z" fill="#9a9a9a" stroke="#777" stroke-width="0.4"/>
<path d="M302.1,330.2 L324.1,321.7 L326.8,323.5 L304.8,331.9 Z" fill="#dadada" stroke="#777" stroke-width="0.4"/>
<path d="M304.8,331.9 L326.8,323.5 L326.8,346.2 L304.8,354.6 Z" fill="#c2c2c2" stroke="#777" stroke-width="0.4"/>
<path d="M281.3,301.7 L295.6,311.4 L295.6,315.5 L281.3,305.8 Z" fill="#9a9a9a" stroke="#777" stroke-width="0.4"/>
<path d="M281.3,301.7 L303.3,293.2 L317.6,302.9 L295.6,311.4 Z" fill="#dadada" stroke="#777" stroke-width="0.4"/>
<path d="M295.6,311.4 L317.6,302.9 L317.6,307 L295.6,315.5 Z" fill="#c2c2c2" stroke="#777" stroke-width="0.4"/>
<path d="M317.2,312.6 L323.7,317 L323.7,327.3 L317.2,322.9 Z" fill="#8c8c8c" stroke="#777" stroke-width="0.3"/>
<path d="M317.2,312.6 L325.2,309.6 L331.7,314 L323.7,317 Z" fill="#cbcbcb" stroke="#777" stroke-width="0.3"/>
<path d="M323.7,317 L331.7,314 L331.7,324.3 L323.7,327.3 Z" fill="#a9a9a9" stroke="#777" stroke-width="0.3"/>
<path d="M229,333.8 L247.2,346.1 L247.2,375 L229,362.6 Z" fill="#9d9d9d" stroke="#777" stroke-width="0.5"/>
<path d="M229,333.8 L257,323.1 L275.2,335.4 L247.2,346.1 Z" fill="#dedede" stroke="#777" stroke-width="0.5"/>
<path d="M247.2,346.1 L275.2,335.4 L275.2,364.2 L247.2,375 Z" fill="#c9c9c9" stroke="#777" stroke-width="0.5"/>
<path d="M267.2,331.8 L273.7,336.2 L273.7,346.5 L267.2,342.1 Z" fill="#8c8c8c" stroke="#777" stroke-width="0.3"/>
<path d="M267.2,331.8 L275.2,328.8 L281.7,333.2 L273.7,336.2 Z" fill="#cbcbcb" stroke="#777" stroke-width="0.3"/>
<path d="M273.7,336.2 L281.7,333.2 L281.7,343.5 L273.7,346.5 Z" fill="#a9a9a9" stroke="#777" stroke-width="0.3"/>
<path d="M164.8,343.6 L192.1,362.1 L192.1,405.4 L164.8,386.9 Z" fill="#8c8c8c" stroke="#777" stroke-width="0.5"/>
<path d="M164.8,343.6 L206.8,327.5 L234.1,346 L192.1,362.1 Z" fill="#cbcbcb" stroke="#777" stroke-width="0.5"/>
<path d="M192.1,362.1 L234.1,346 L234.1,389.3 L192.1,405.4 Z" fill="#a9a9a9" stroke="#777" stroke-width="0.5"/>
<path d="M202.1,368.6 L204.8,370.3 L204.8,393 L202.1,391.2 Z" fill="#9a9a9a" stroke="#777" stroke-width="0.4"/>
<path d="M202.1,368.6 L224.1,360.1 L226.8,361.9 L204.8,370.3 Z" fill="#dadada" stroke="#777" stroke-width="0.4"/>
<path d="M204.8,370.3 L226.8,361.9 L226.8,384.6 L204.8,393 Z" fill="#c2c2c2" stroke="#777" stroke-width="0.4"/>
<path d="M181.3,340.1 L195.6,349.8 L195.6,353.9 L181.3,344.2 Z" fill="#9a9a9a" stroke="#777" stroke-width="0.4"/>
<path d="M181.3,340.1 L203.3,331.6 L217.6,341.3 L195.6,349.8 Z" fill="#dadada" stroke="#777" stroke-width="0.4"/>
<path d="M195.6,349.8 L217.6,341.3 L217.6,345.4 L195.6,353.9 Z" fill="#c2c2c2" stroke="#777" stroke-width="0.4"/>
<path d="M217.2,351 L223.7,355.4 L223.7,365.7 L217.2,361.3 Z" fill="#8c8c8c" stroke="#777" stroke-width="0.3"/>
<path d="M217.2,351 L225.2,348 L231.7,352.4 L223.7,355.4 Z" fill="#cbcbcb" stroke="#777" stroke-width="0.3"/>
<path d="M223.7,355.4 L231.7,352.4 L231.7,362.7 L223.7,365.7 Z" fill="#a9a9a9" stroke="#777" stroke-width="0.3"/>
<path d="M514.8,157.7 L542.1,176.2 L542.1,219.5 L514.8,201 Z" fill="#8c8c8c" stroke="#777" stroke-width="0.5"/>
<path d="M514.8,157.7 L556.8,141.6 L584.1,160.1 L542.1,176.2 Z" fill="#cbcbcb" stroke="#777" stroke-width="0.5"/>
<path d="M542.1,176.2 L584.1,160.1 L584.1,203.4 L542.1,219.5 Z" fill="#a9a9a9" stroke="#777" stroke-width="0.5"/>
<path d="M552.1,182.7 L554.8,184.4 L554.8,207.1 L552.1,205.3 Z" fill="#9a9a9a" stroke="#777" stroke-width="0.4"/>
<path d="M552.1,182.7 L574.1,174.2 L576.8,176 L554.8,184.4 Z" fill="#dadada" stroke="#777" stroke-width="0.4"/>
<path d="M554.8,184.4 L576.8,176 L576.8,198.7 L554.8,207.1 Z" fill="#c2c2c2" stroke="#777" stroke-width="0.4"/>
<path d="M531.3,154.2 L545.6,163.9 L545.6,168 L531.3,158.3 Z" fill="#9a9a9a" stroke="#777" stroke-width="0.4"/>
<path d="M531.3,154.2 L553.3,145.7 L567.6,155.4 L545.6,163.9 Z" fill="#dadada" stroke="#777" stroke-width="0.4"/>
<path d="M545.6,163.9 L567.6,155.4 L567.6,159.5 L545.6,168 Z" fill="#c2c2c2" stroke="#777" stroke-width="0.4"/>
<path d="M567.2,165.1 L573.7,169.5 L573.7,179.8 L567.2,175.4 Z" fill="#8c8c8c" stroke="#777" stroke-width="0.3"/>
<path d="M567.2,165.1 L575.2,162.1 L581.7,166.5 L573.7,169.5 Z" fill="#cbcbcb" stroke="#777" stroke-width="0.3"/>
<path d="M573.7,169.5 L581.7,166.5 L581.7,176.8 L573.7,179.8 Z" fill="#a9a9a9" stroke="#777" stroke-width="0.3"/>
<path d="M479,186.3 L497.2,198.6 L497.2,227.5 L479,215.1 Z" fill="#9d9d9d" stroke="#777" stroke-width="0.5"/>
<path d="M479,186.3 L507,175.6 L525.2,187.9 L497.2,198.6 Z" fill="#dedede" stroke="#777" stroke-width="0.5"/>
<path d="M497.2,198.6 L525.2,187.9 L525.2,216.7 L497.2,227.5 Z" fill="#c9c9c9" stroke="#777" stroke-width="0.5"/>
<path d="M517.2,184.3 L523.7,188.7 L523.7,199 L517.2,194.6 Z" fill="#8c8c8c" stroke="#777" stroke-width="0.3"/>
<path d="M517.2,184.3 L525.2,181.3 L531.7,185.7 L523.7,188.7 Z" fill="#cbcbcb" stroke="#777" stroke-width="0.3"/>
<path d="M523.7,188.7 L531.7,185.7 L531.7,196 L523.7,199 Z" fill="#a9a9a9" stroke="#777" stroke-width="0.3"/>
<path d="M414.8,196.1 L442.1,214.6 L442.1,257.9 L414.8,239.4 Z" fill="#8c8c8c" stroke="#777" stroke-width="0.5"/>
<path d="M414.8,196.1 L456.8,180 L484.1,198.5 L442.1,214.6 Z" fill="#cbcbcb" stroke="#777" stroke-width="0.5"/>
<path d="M442.1,214.6 L484.1,198.5 L484.1,241.8 L442.1,257.9 Z" fill="#a9a9a9" stroke="#777" stroke-width="0.5"/>
<path d="M452.1,221.1 L454.8,222.8 L454.8,245.5 L452.1,243.7 Z" fill="#9a9a9a" stroke="#777" stroke-width="0.4"/>
<path d="M452.1,221.1 L474.1,212.6 L476.8,214.4 L454.8,222.8 Z" fill="#dadada" stroke="#777" stroke-width="0.4"/>
<path d="M454.8,222.8 L476.8,214.4 L476.8,237.1 L454.8,245.5 Z" fill="#c2c2c2" stroke="#777" stroke-width="0.4"/>
<path d="M431.3,192.6 L445.6,202.3 L445.6,206.4 L431.3,196.7 Z" fill="#9a9a9a" stroke="#777" stroke-width="0.4"/>
<path d="M431.3,192.6 L453.3,184.1 L467.6,193.8 L445.6,202.3 Z" fill="#dadada" stroke="#777" stroke-width="0.4"/>
<path d="M445.6,202.3 L467.6,193.8 L467.6,197.9 L445.6,206.4 Z" fill="#c2c2c2" stroke="#777" stroke-width="0.4"/>
<path d="M467.2,203.5 L473.7,207.9 L473.7,218.2 L467.2,213.8 Z" fill="#8c8c8c" stroke="#777" stroke-width="0.3"/>
<path d="M467.2,203.5 L475.2,200.5 L481.7,204.9 L473.7,207.9 Z" fill="#cbcbcb" stroke="#777" stroke-width="0.3"/>
<path d="M473.7,207.9 L481.7,204.9 L481.7,215.2 L473.7,218.2 Z" fill="#a9a9a9" stroke="#777" stroke-width="0.3"/>
<path d="M379,224.7 L397.2,237 L397.2,265.9 L379,253.5 Z" fill="#9d9d9d" stroke="#777" stroke-width="0.5"/>
<path d="M379,224.7 L407,214 L425.2,226.3 L397.2,237 Z" fill="#dedede" stroke="#777" stroke-width="0.5"/>
<path d="M397.2,237 L425.2,226.3 L425.2,255.1 L397.2,265.9 Z" fill="#c9c9c9" stroke="#777" stroke-width="0.5"/>
<path d="M417.2,222.7 L423.7,227.1 L423.7,237.4 L417.2,233 Z" fill="#8c8c8c" stroke="#777" stroke-width="0.3"/>
<path d="M417.2,222.7 L425.2,219.7 L431.7,224.1 L423.7,227.1 Z" fill="#cbcbcb" stroke="#777" stroke-width="0.3"/>
<path d="M423.7,227.1 L431.7,224.1 L431.7,234.4 L423.7,237.4 Z" fill="#a9a9a9" stroke="#777" stroke-width="0.3"/>
<path d="M314.8,234.5 L342.1,253 L342.1,296.3 L314.8,277.8 Z" fill="#8c8c8c" stroke="#777" stroke-width="0.5"/>
<path d="M314.8,234.5 L356.8,218.4 L384.1,236.9 L342.1,253 Z" fill="#cbcbcb" stroke="#777" stroke-width="0.5"/>
<path d="M342.1,253 L384.1,236.9 L384.1,280.2 L342.1,296.3 Z" fill="#a9a9a9" stroke="#777" stroke-width="0.5"/>
<path d="M352.1,259.5 L354.8,261.2 L354.8,283.9 L352.1,282.1 Z" fill="#9a9a9a" stroke="#777" stroke-width="0.4"/>
<path d="M352.1,259.5 L374.1,251 L376.8,252.8 L354.8,261.2 Z" fill="#dadada" stroke="#777" stroke-width="0.4"/>
<path d="M354.8,261.2 L376.8,252.8 L376.8,275.5 L354.8,283.9 Z" fill="#c2c2c2" stroke="#777" stroke-width="0.4"/>
<path d="M331.3,231 L345.6,240.7 L345.6,244.8 L331.3,235.1 Z" fill="#9a9a9a" stroke="#777" stroke-width="0.4"/>
<path d="M331.3,231 L353.3,222.5 L367.6,232.2 L345.6,240.7 Z" fill="#dadada" stroke="#777" stroke-width="0.4"/>
<path d="M345.6,240.7 L367.6,232.2 L367.6,236.3 L345.6,244.8 Z" fill="#c2c2c2" stroke="#777" stroke-width="0.4"/>
<path d="M367.2,241.9 L373.7,246.3 L373.7,256.6 L367.2,252.2 Z" fill="#8c8c8c" stroke="#777" stroke-width="0.3"/>
<path d="M367.2,241.9 L375.2,238.9 L381.7,243.3 L373.7,246.3 Z" fill="#cbcbcb" stroke="#777" stroke-width="0.3"/>
<path d="M373.7,246.3 L381.7,243.3 L381.7,253.6 L373.7,256.6 Z" fill="#a9a9a9" stroke="#777" stroke-width="0.3"/>
<path d="M279,263.1 L297.2,275.4 L297.2,304.3 L279,291.9 Z" fill="#9d9d9d" stroke="#777" stroke-width="0.5"/>
<path d="M279,263.1 L307,252.4 L325.2,264.7 L297.2,275.4 Z" fill="#dedede" stroke="#777" stroke-width="0.5"/>
<path d="M297.2,275.4 L325.2,264.7 L325.2,293.5 L297.2,304.3 Z" fill="#c9c9c9" stroke="#777" stroke-width="0.5"/>
<path d="M317.2,261.1 L323.7,265.5 L323.7,275.8 L317.2,271.4 Z" fill="#8c8c8c" stroke="#777" stroke-width="0.3"/>
<path d="M317.2,261.1 L325.2,258.1 L331.7,262.5 L323.7,265.5 Z" fill="#cbcbcb" stroke="#777" stroke-width="0.3"/>
<path d="M323.7,265.5 L331.7,262.5 L331.7,272.8 L323.7,275.8 Z" fill="#a9a9a9" stroke="#777" stroke-width="0.3"/>
<path d="M214.8,272.9 L242.1,291.4 L242.1,334.7 L214.8,316.2 Z" fill="#8c8c8c" stroke="#777" stroke-width="0.5"/>
<path d="M214.8,272.9 L256.8,256.8 L284.1,275.3 L242.1,291.4 Z" fill="#cbcbcb" stroke="#777" stroke-width="0.5"/>
<path d="M242.1,291.4 L284.1,275.3 L284.1,318.6 L242.1,334.7 Z" fill="#a9a9a9" stroke="#777" stroke-width="0.5"/>
<path d="M252.1,297.9 L254.8,299.6 L254.8,322.3 L252.1,320.5 Z" fill="#9a9a9a" stroke="#777" stroke-width="0.4"/>
<path d="M252.1,297.9 L274.1,289.4 L276.8,291.2 L254.8,299.6 Z" fill="#dadada" stroke="#777" stroke-width="0.4"/>
<path d="M254.8,299.6 L276.8,291.2 L276.8,313.9 L254.8,322.3 Z" fill="#c2c2c2" stroke="#777" stroke-width="0.4"/>
<path d="M231.3,269.4 L245.6,279.1 L245.6,283.2 L231.3,273.5 Z" fill="#9a9a9a" stroke="#777" stroke-width="0.4"/>
<path d="M231.3,269.4 L253.3,260.9 L267.6,270.6 L245.6,279.1 Z" fill="#dadada" stroke="#777" stroke-width="0.4"/>
<path d="M245.6,279.1 L267.6,270.6 L267.6,274.7 L245.6,283.2 Z" fill="#c2c2c2" stroke="#777" stroke-width="0.4"/>
<path d="M267.2,280.3 L273.7,284.7 L273.7,295 L267.2,290.6 Z" fill="#8c8c8c" stroke="#777" stroke-width="0.3"/>
<path d="M267.2,280.3 L275.2,277.3 L281.7,281.7 L273.7,284.7 Z" fill="#cbcbcb" stroke="#777" stroke-width="0.3"/>
<path d="M273.7,284.7 L281.7,281.7 L281.7,292 L273.7,295 Z" fill="#a9a9a9" stroke="#777" stroke-width="0.3"/>
<path d="M179,301.5 L197.2,313.8 L197.2,342.7 L179,330.3 Z" fill="#9d9d9d" stroke="#777" stroke-width="0.5"/>
<path d="M179,301.5 L207,290.8 L225.2,303.1 L197.2,313.8 Z" fill="#dedede" stroke="#777" stroke-width="0.5"/>
<path d="M197.2,313.8 L225.2,303.1 L225.2,331.9 L197.2,342.7 Z" fill="#c9c9c9" stroke="#777" stroke-width="0.5"/>
<path d="M217.2,299.5 L223.7,303.9 L223.7,314.2 L217.2,309.8 Z" fill="#8c8c8c" stroke="#777" stroke-width="0.3"/>
<path d="M217.2,299.5 L225.2,296.5 L231.7,300.9 L223.7,303.9 Z" fill="#cbcbcb" stroke="#777" stroke-width="0.3"/>
<path d="M223.7,303.9 L231.7,300.9 L231.7,311.2 L223.7,314.2 Z" fill="#a9a9a9" stroke="#777" stroke-width="0.3"/>
<path d="M547.4,231.2 L574.7,249.7 L574.7,293 L547.4,274.5 Z" fill="#8c8c8c" stroke="#777" stroke-width="0.5"/>
<path d="M547.4,231.2 L589.4,215.1 L616.7,233.6 L574.7,249.7 Z" fill="#cbcbcb" stroke="#777" stroke-width="0.5"/>
<path d="M574.7,249.7 L616.7,233.6 L616.7,276.9 L574.7,293 Z" fill="#a9a9a9" stroke="#777" stroke-width="0.5"/>
<path d="M584.7,256.2 L587.3,257.9 L587.3,280.6 L584.7,278.8 Z" fill="#9a9a9a" stroke="#777" stroke-width="0.4"/>
<path d="M584.7,256.2 L606.7,247.7 L609.3,249.5 L587.3,257.9 Z" fill="#dadada" stroke="#777" stroke-width="0.4"/>
<path d="M587.3,257.9 L609.3,249.5 L609.3,272.2 L587.3,280.6 Z" fill="#c2c2c2" stroke="#777" stroke-width="0.4"/>
<path d="M563.9,227.7 L578.2,237.4 L578.2,241.5 L563.9,231.8 Z" fill="#9a9a9a" stroke="#777" stroke-width="0.4"/>
<path d="M563.9,227.7 L585.9,219.2 L600.2,228.9 L578.2,237.4 Z" fill="#dadada" stroke="#777" stroke-width="0.4"/>
<path d="M578.2,237.4 L600.2,228.9 L600.2,233 L578.2,241.5 Z" fill="#c2c2c2" stroke="#777" stroke-width="0.4"/>
<path d="M599.8,238.6 L606.3,243 L606.3,253.3 L599.8,248.9 Z" fill="#8c8c8c" stroke="#777" stroke-width="0.3"/>
<path d="M599.8,238.6 L607.8,235.6 L614.3,240 L606.3,243 Z" fill="#cbcbcb" stroke="#777" stroke-width="0.3"/>
<path d="M606.3,243 L614.3,240 L614.3,250.3 L606.3,253.3 Z" fill="#a9a9a9" stroke="#777" stroke-width="0.3"/>
<path d="M511.5,259.8 L529.7,272.1 L529.7,301 L511.5,288.6 Z" fill="#9d9d9d" stroke="#777" stroke-width="0.5"/>
<path d="M511.5,259.8 L539.5,249.1 L557.7,261.4 L529.7,272.1 Z" fill="#dedede" stroke="#777" stroke-width="0.5"/>
<path d="M529.7,272.1 L557.7,261.4 L557.7,290.2 L529.7,301 Z" fill="#c9c9c9" stroke="#777" stroke-width="0.5"/>
<path d="M549.8,257.8 L556.3,262.2 L556.3,272.5 L549.8,268.1 Z" fill="#8c8c8c" stroke="#777" stroke-width="0.3"/>
<path d="M549.8,257.8 L557.8,254.8 L564.3,259.2 L556.3,262.2 Z" fill="#cbcbcb" stroke="#777" stroke-width="0.3"/>
<path d="M556.3,262.2 L564.3,259.2 L564.3,269.5 L556.3,272.5 Z" fill="#a9a9a9" stroke="#777" stroke-width="0.3"/>
<path d="M447.4,269.6 L474.7,288.1 L474.7,331.4 L447.4,312.9 Z" fill="#8c8c8c" stroke="#777" stroke-width="0.5"/>
<path d="M447.4,269.6 L489.4,253.5 L516.7,272 L474.7,288.1 Z" fill="#cbcbcb" stroke="#777" stroke-width="0.5"/>
<path d="M474.7,288.1 L516.7,272 L516.7,315.3 L474.7,331.4 Z" fill="#a9a9a9" stroke="#777" stroke-width="0.5"/>
<path d="M484.7,294.6 L487.3,296.3 L487.3,319 L484.7,317.2 Z" fill="#9a9a9a" stroke="#777" stroke-width="0.4"/>
<path d="M484.7,294.6 L506.7,286.1 L509.3,287.9 L487.3,296.3 Z" fill="#dadada" stroke="#777" stroke-width="0.4"/>
<path d="M487.3,296.3 L509.3,287.9 L509.3,310.6 L487.3,319 Z" fill="#c2c2c2" stroke="#777" stroke-width="0.4"/>
<path d="M463.9,266.1 L478.2,275.8 L478.2,279.9 L463.9,270.2 Z" fill="#9a9a9a" stroke="#777" stroke-width="0.4"/>
<path d="M463.9,266.1 L485.9,257.6 L500.2,267.3 L478.2,275.8 Z" fill="#dadada" stroke="#777" stroke-width="0.4"/>
<path d="M478.2,275.8 L500.2,267.3 L500.2,271.4 L478.2,279.9 Z" fill="#c2c2c2" stroke="#777" stroke-width="0.4"/>
<path d="M499.8,277 L506.3,281.4 L506.3,291.7 L499.8,287.3 Z" fill="#8c8c8c" stroke="#777" stroke-width="0.3"/>
<path d="M499.8,277 L507.8,274 L514.3,278.4 L506.3,281.4 Z" fill="#cbcbcb" stroke="#777" stroke-width="0.3"/>
<path d="M506.3,281.4 L514.3,278.4 L514.3,288.7 L506.3,291.7 Z" fill="#a9a9a9" stroke="#777" stroke-width="0.3"/>
<path d="M411.5,298.2 L429.7,310.5 L429.7,339.4 L411.5,327 Z" fill="#9d9d9d" stroke="#777" stroke-width="0.5"/>
<path d="M411.5,298.2 L439.5,287.5 L457.7,299.8 L429.7,310.5 Z" fill="#dedede" stroke="#777" stroke-width="0.5"/>
<path d="M429.7,310.5 L457.7,299.8 L457.7,328.6 L429.7,339.4 Z" fill="#c9c9c9" stroke="#777" stroke-width="0.5"/>
<path d="M449.8,296.2 L456.3,300.6 L456.3,310.9 L449.8,306.5 Z" fill="#8c8c8c" stroke="#777" stroke-width="0.3"/>
<path d="M449.8,296.2 L457.8,293.2 L464.3,297.6 L456.3,300.6 Z" fill="#cbcbcb" stroke="#777" stroke-width="0.3"/>
<path d="M456.3,300.6 L464.3,297.6 L464.3,307.9 L456.3,310.9 Z" fill="#a9a9a9" stroke="#777" stroke-width="0.3"/>
<path d="M347.4,308 L374.7,326.5 L374.7,369.8 L347.4,351.3 Z" fill="#8c8c8c" stroke="#777" stroke-width="0.5"/>
<path d="M347.4,308 L389.4,291.9 L416.7,310.4 L374.7,326.5 Z" fill="#cbcbcb" stroke="#777" stroke-width="0.5"/>
<path d="M374.7,326.5 L416.7,310.4 L416.7,353.7 L374.7,369.8 Z" fill="#a9a9a9" stroke="#777" stroke-width="0.5"/>
<path d="M384.7,333 L387.3,334.7 L387.3,357.4 L384.7,355.6 Z" fill="#9a9a9a" stroke="#777" stroke-width="0.4"/>
<path d="M384.7,333 L406.7,324.5 L409.3,326.3 L387.3,334.7 Z" fill="#dadada" stroke="#777" stroke-width="0.4"/>
<path d="M387.3,334.7 L409.3,326.3 L409.3,349 L387.3,357.4 Z" fill="#c2c2c2" stroke="#777" stroke-width="0.4"/>
<path d="M363.9,304.5 L378.2,314.2 L378.2,318.3 L363.9,308.6 Z" fill="#9a9a9a" stroke="#777" stroke-width="0.4"/>
<path d="M363.9,304.5 L385.9,296 L400.2,305.7 L378.2,314.2 Z" fill="#dadada" stroke="#777" stroke-width="0.4"/>
<path d="M378.2,314.2 L400.2,305.7 L400.2,309.8 L378.2,318.3 Z" fill="#c2c2c2" stroke="#777" stroke-width="0.4"/>
<path d="M399.8,315.4 L406.3,319.8 L406.3,330.1 L399.8,325.7 Z" fill="#8c8c8c" stroke="#777" stroke-width="0.3"/>
<path d="M399.8,315.4 L407.8,312.4 L414.3,316.8 L406.3,319.8 Z" fill="#cbcbcb" stroke="#777" stroke-width="0.3"/>
<path d="M406.3,319.8 L414.3,316.8 L414.3,327.1 L406.3,330.1 Z" fill="#a9a9a9" stroke="#777" stroke-width="0.3"/>
<path d="M311.5,336.6 L329.7,348.9 L329.7,377.8 L311.5,365.4 Z" fill="#9d9d9d" stroke="#777" stroke-width="0.5"/>
<path d="M311.5,336.6 L339.5,325.9 L357.7,338.2 L329.7,348.9 Z" fill="#dedede" stroke="#777" stroke-width="0.5"/>
<path d="M329.7,348.9 L357.7,338.2 L357.7,367 L329.7,377.8 Z" fill="#c9c9c9" stroke="#777" stroke-width="0.5"/>
<path d="M349.8,334.6 L356.3,339 L356.3,349.3 L349.8,344.9 Z" fill="#8c8c8c" stroke="#777" stroke-width="0.3"/>
<path d="M349.8,334.6 L357.8,331.6 L364.3,336 L356.3,339 Z" fill="#cbcbcb" stroke="#777" stroke-width="0.3"/>
<path d="M356.3,339 L364.3,336 L364.3,346.3 L356.3,349.3 Z" fill="#a9a9a9" stroke="#777" stroke-width="0.3"/>
<path d="M247.4,346.4 L274.7,364.9 L274.7,408.2 L247.4,389.7 Z" fill="#8c8c8c" stroke="#777" stroke-width="0.5"/>
<path d="M247.4,346.4 L289.4,330.3 L316.7,348.8 L274.7,364.9 Z" fill="#cbcbcb" stroke="#777" stroke-width="0.5"/>
<path d="M274.7,364.9 L316.7,348.8 L316.7,392.1 L274.7,408.2 Z" fill="#a9a9a9" stroke="#777" stroke-width="0.5"/>
<path d="M284.7,371.4 L287.3,373.1 L287.3,395.8 L284.7,394 Z" fill="#9a9a9a" stroke="#777" stroke-width="0.4"/>
<path d="M284.7,371.4 L306.7,362.9 L309.3,364.7 L287.3,373.1 Z" fill="#dadada" stroke="#777" stroke-width="0.4"/>
<path d="M287.3,373.1 L309.3,364.7 L309.3,387.4 L287.3,395.8 Z" fill="#c2c2c2" stroke="#777" stroke-width="0.4"/>
<path d="M263.9,342.9 L278.2,352.6 L278.2,356.7 L263.9,347 Z" fill="#9a9a9a" stroke="#777" stroke-width="0.4"/>
<path d="M263.9,342.9 L285.9,334.4 L300.2,344.1 L278.2,352.6 Z" fill="#dadada" stroke="#777" stroke-width="0.4"/>
<path d="M278.2,352.6 L300.2,344.1 L300.2,348.2 L278.2,356.7 Z" fill="#c2c2c2" stroke="#777" stroke-width="0.4"/>
<path d="M299.8,353.8 L306.3,358.2 L306.3,368.5 L299.8,364.1 Z" fill="#8c8c8c" stroke="#777" stroke-width="0.3"/>
<path d="M299.8,353.8 L307.8,350.8 L314.3,355.2 L306.3,358.2 Z" fill="#cbcbcb" stroke="#777" stroke-width="0.3"/>
<path d="M306.3,358.2 L314.3,355.2 L314.3,365.5 L306.3,368.5 Z" fill="#a9a9a9" stroke="#777" stroke-width="0.3"/>
<path d="M211.5,375 L229.7,387.3 L229.7,416.2 L211.5,403.8 Z" fill="#9d9d9d" stroke="#777" stroke-width="0.5"/>
<path d="M211.5,375 L239.5,364.3 L257.7,376.6 L229.7,387.3 Z" fill="#dedede" stroke="#777" stroke-width="0.5"/>
<path d="M229.7,387.3 L257.7,376.6 L257.7,405.4 L229.7,416.2 Z" fill="#c9c9c9" stroke="#777" stroke-width="0.5"/>
<path d="M249.8,373 L256.3,377.4 L256.3,387.7 L249.8,383.3 Z" fill="#8c8c8c" stroke="#777" stroke-width="0.3"/>
<path d="M249.8,373 L257.8,370 L264.3,374.4 L256.3,377.4 Z" fill="#cbcbcb" stroke="#777" stroke-width="0.3"/>
<path d="M256.3,377.4 L264.3,374.4 L264.3,384.7 L256.3,387.7 Z" fill="#a9a9a9" stroke="#777" stroke-width="0.3"/>
<path d="M561.5,189.1 L579.7,201.4 L579.7,230.3 L561.5,217.9 Z" fill="#9d9d9d" stroke="#777" stroke-width="0.5"/>
<path d="M561.5,189.1 L589.5,178.4 L607.7,190.7 L579.7,201.4 Z" fill="#dedede" stroke="#777" stroke-width="0.5"/>
<path d="M579.7,201.4 L607.7,190.7 L607.7,219.5 L579.7,230.3 Z" fill="#c9c9c9" stroke="#777" stroke-width="0.5"/>
<path d="M599.8,187.1 L606.3,191.5 L606.3,201.8 L599.8,197.4 Z" fill="#8c8c8c" stroke="#777" stroke-width="0.3"/>
<path d="M599.8,187.1 L607.8,184.1 L614.3,188.5 L606.3,191.5 Z" fill="#cbcbcb" stroke="#777" stroke-width="0.3"/>
<path d="M606.3,191.5 L614.3,188.5 L614.3,198.8 L606.3,201.8 Z" fill="#a9a9a9" stroke="#777" stroke-width="0.3"/>
<path d="M497.4,198.9 L524.7,217.4 L524.7,260.7 L497.4,242.2 Z" fill="#8c8c8c" stroke="#777" stroke-width="0.5"/>
<path d="M497.4,198.9 L539.4,182.8 L566.7,201.3 L524.7,217.4 Z" fill="#cbcbcb" stroke="#777" stroke-width="0.5"/>
<path d="M524.7,217.4 L566.7,201.3 L566.7,244.6 L524.7,260.7 Z" fill="#a9a9a9" stroke="#777" stroke-width="0.5"/>
<path d="M534.7,223.9 L537.3,225.6 L537.3,248.3 L534.7,246.5 Z" fill="#9a9a9a" stroke="#777" stroke-width="0.4"/>
<path d="M534.7,223.9 L556.7,215.4 L559.3,217.2 L537.3,225.6 Z" fill="#dadada" stroke="#777" stroke-width="0.4"/>
<path d="M537.3,225.6 L559.3,217.2 L559.3,239.9 L537.3,248.3 Z" fill="#c2c2c2" stroke="#777" stroke-width="0.4"/>
<path d="M513.9,195.4 L528.2,205.1 L528.2,209.2 L513.9,199.5 Z" fill="#9a9a9a" stroke="#777" stroke-width="0.4"/>
<path d="M513.9,195.4 L535.9,186.9 L550.2,196.6 L528.2,205.1 Z" fill="#dadada" stroke="#777" stroke-width="0.4"/>
<path d="M528.2,205.1 L550.2,196.6 L550.2,200.7 L528.2,209.2 Z" fill="#c2c2c2" stroke="#777" stroke-width="0.4"/>
<path d="M549.8,206.3 L556.3,210.7 L556.3,221 L549.8,216.6 Z" fill="#8c8c8c" stroke="#777" stroke-width="0.3"/>
<path d="M549.8,206.3 L557.8,203.3 L564.3,207.7 L556.3,210.7 Z" fill="#cbcbcb" stroke="#777" stroke-width="0.3"/>
<path d="M556.3,210.7 L564.3,207.7 L564.3,218 L556.3,221 Z" fill="#a9a9a9" stroke="#777" stroke-width="0.3"/>
<path d="M461.5,227.5 L479.7,239.8 L479.7,268.7 L461.5,256.3 Z" fill="#9d9d9d" stroke="#777" stroke-width="0.5"/>
<path d="M461.5,227.5 L489.5,216.8 L507.7,229.1 L479.7,239.8 Z" fill="#dedede" stroke="#777" stroke-width="0.5"/>
<path d="M479.7,239.8 L507.7,229.1 L507.7,257.9 L479.7,268.7 Z" fill="#c9c9c9" stroke="#777" stroke-width="0.5"/>
<path d="M499.8,225.5 L506.3,229.9 L506.3,240.2 L499.8,235.8 Z" fill="#8c8c8c" stroke="#777" stroke-width="0.3"/>
<path d="M499.8,225.5 L507.8,222.5 L514.3,226.9 L506.3,229.9 Z" fill="#cbcbcb" stroke="#777" stroke-width="0.3"/>
<path d="M506.3,229.9 L514.3,226.9 L514.3,237.2 L506.3,240.2 Z" fill="#a9a9a9" stroke="#777" stroke-width="0.3"/>
<path d="M397.4,237.3 L424.7,255.8 L424.7,299.1 L397.4,280.6 Z" fill="#8c8c8c" stroke="#777" stroke-width="0.5"/>
<path d="M397.4,237.3 L439.4,221.2 L466.7,239.7 L424.7,255.8 Z" fill="#cbcbcb" stroke="#777" stroke-width="0.5"/>
<path d="M424.7,255.8 L466.7,239.7 L466.7,283 L424.7,299.1 Z" fill="#a9a9a9" stroke="#777" stroke-width="0.5"/>
<path d="M434.7,262.3 L437.3,264 L437.3,286.7 L434.7,284.9 Z" fill="#9a9a9a" stroke="#777" stroke-width="0.4"/>
<path d="M434.7,262.3 L456.7,253.8 L459.3,255.6 L437.3,264 Z" fill="#dadada" stroke="#777" stroke-width="0.4"/>
<path d="M437.3,264 L459.3,255.6 L459.3,278.3 L437.3,286.7 Z" fill="#c2c2c2" stroke="#777" stroke-width="0.4"/>
<path d="M413.9,233.8 L428.2,243.5 L428.2,247.6 L413.9,237.9 Z" fill="#9a9a9a" stroke="#777" stroke-width="0.4"/>
<path d="M413.9,233.8 L435.9,225.3 L450.2,235 L428.2,243.5 Z" fill="#dadada" stroke="#777" stroke-width="0.4"/>
<path d="M428.2,243.5 L450.2,235 L450.2,239.1 L428.2,247.6 Z" fill="#c2c2c2" stroke="#777" stroke-width="0.4"/>
<path d="M449.8,244.7 L456.3,249.1 L456.3,259.4 L449.8,255 Z" fill="#8c8c8c" stroke="#777" stroke-width="0.3"/>
<path d="M449.8,244.7 L457.8,241.7 L464.3,246.1 L456.3,249.1 Z" fill="#cbcbcb" stroke="#777" stroke-width="0.3"/>
<path d="M456.3,249.1 L464.3,246.1 L464.3,256.4 L456.3,259.4 Z" fill="#a9a9a9" stroke="#777" stroke-width="0.3"/>
<path d="M361.5,265.9 L379.7,278.2 L379.7,307.1 L361.5,294.7 Z" fill="#9d9d9d" stroke="#777" stroke-width="0.5"/>
<path d="M361.5,265.9 L389.5,255.2 L407.7,267.5 L379.7,278.2 Z" fill="#dedede" stroke="#777" stroke-width="0.5"/>
<path d="M379.7,278.2 L407.7,267.5 L407.7,296.3 L379.7,307.1 Z" fill="#c9c9c9" stroke="#777" stroke-width="0.5"/>
<path d="M399.8,263.9 L406.3,268.3 L406.3,278.6 L399.8,274.2 Z" fill="#8c8c8c" stroke="#777" stroke-width="0.3"/>
<path d="M399.8,263.9 L407.8,260.9 L414.3,265.3 L406.3,268.3 Z" fill="#cbcbcb" stroke="#777" stroke-width="0.3"/>
<path d="M406.3,268.3 L414.3,265.3 L414.3,275.6 L406.3,278.6 Z" fill="#a9a9a9" stroke="#777" stroke-width="0.3"/>
<path d="M297.4,275.7 L324.7,294.2 L324.7,337.5 L297.4,319 Z" fill="#8c8c8c" stroke="#777" stroke-width="0.5"/>
<path d="M297.4,275.7 L339.4,259.6 L366.7,278.1 L324.7,294.2 Z" fill="#cbcbcb" stroke="#777" stroke-width="0.5"/>
<path d="M324.7,294.2 L366.7,278.1 L366.7,321.4 L324.7,337.5 Z" fill="#a9a9a9" stroke="#777" stroke-width="0.5"/>
<path d="M334.7,300.7 L337.3,302.4 L337.3,325.1 L334.7,323.3 Z" fill="#9a9a9a" stroke="#777" stroke-width="0.4"/>
<path d="M334.7,300.7 L356.7,292.2 L359.3,294 L337.3,302.4 Z" fill="#dadada" stroke="#777" stroke-width="0.4"/>
<path d="M337.3,302.4 L359.3,294 L359.3,316.7 L337.3,325.1 Z" fill="#c2c2c2" stroke="#777" stroke-width="0.4"/>
<path d="M313.9,272.2 L328.2,281.9 L328.2,286 L313.9,276.3 Z" fill="#9a9a9a" stroke="#777" stroke-width="0.4"/>
<path d="M313.9,272.2 L335.9,263.7 L350.2,273.4 L328.2,281.9 Z" fill="#dadada" stroke="#777" stroke-width="0.4"/>
<path d="M328.2,281.9 L350.2,273.4 L350.2,277.5 L328.2,286 Z" fill="#c2c2c2" stroke="#777" stroke-width="0.4"/>
<path d="M349.8,283.1 L356.3,287.5 L356.3,297.8 L349.8,293.4 Z" fill="#8c8c8c" stroke="#777" stroke-width="0.3"/>
<path d="M349.8,283.1 L357.8,280.1 L364.3,284.5 L356.3,287.5 Z" fill="#cbcbcb" stroke="#777" stroke-width="0.3"/>
<path d="M356.3,287.5 L364.3,284.5 L364.3,294.8 L356.3,297.8 Z" fill="#a9a9a9" stroke="#777" stroke-width="0.3"/>
<path d="M261.5,304.3 L279.7,316.6 L279.7,345.5 L261.5,333.1 Z" fill="#9d9d9d" stroke="#777" stroke-width="0.5"/>
<path d="M261.5,304.3 L289.5,293.6 L307.7,305.9 L279.7,316.6 Z" fill="#dedede" stroke="#777" stroke-width="0.5"/>
<path d="M279.7,316.6 L307.7,305.9 L307.7,334.7 L279.7,345.5 Z" fill="#c9c9c9" stroke="#777" stroke-width="0.5"/>
<path d="M299.8,302.3 L306.3,306.7 L306.3,317 L299.8,312.6 Z" fill="#8c8c8c" stroke="#777" stroke-width="0.3"/>
<path d="M299.8,302.3 L307.8,299.3 L314.3,303.7 L306.3,306.7 Z" fill="#cbcbcb" stroke="#777" stroke-width="0.3"/>
<path d="M306.3,306.7 L314.3,303.7 L314.3,314 L306.3,317 Z" fill="#a9a9a9" stroke="#777" stroke-width="0.3"/>
<path d="M197.4,314.1 L224.7,332.6 L224.7,375.9 L197.4,357.4 Z" fill="#8c8c8c" stroke="#777" stroke-width="0.5"/>
<path d="M197.4,314.1 L239.4,298 L266.7,316.5 L224.7,332.6 Z" fill="#cbcbcb" stroke="#777" stroke-width="0.5"/>
<path d="M224.7,332.6 L266.7,316.5 L266.7,359.8 L224.7,375.9 Z" fill="#a9a9a9" stroke="#777" stroke-width="0.5"/>
<path d="M234.7,339.1 L237.3,340.8 L237.3,363.5 L234.7,361.7 Z" fill="#9a9a9a" stroke="#777" stroke-width="0.4"/>
<path d="M234.7,339.1 L256.7,330.6 L259.3,332.4 L237.3,340.8 Z" fill="#dadada" stroke="#777" stroke-width="0.4"/>
<path d="M237.3,340.8 L259.3,332.4 L259.3,355.1 L237.3,363.5 Z" fill="#c2c2c2" stroke="#777" stroke-width="0.4"/>
<path d="M213.9,310.6 L228.2,320.3 L228.2,324.4 L213.9,314.7 Z" fill="#9a9a9a" stroke="#777" stroke-width="0.4"/>
<path d="M213.9,310.6 L235.9,302.1 L250.2,311.8 L228.2,320.3 Z" fill="#dadada" stroke="#777" stroke-width="0.4"/>
<path d="M228.2,320.3 L250.2,311.8 L250.2,315.9 L228.2,324.4 Z" fill="#c2c2c2" stroke="#777" stroke-width="0.4"/>
<path d="M249.8,321.5 L256.3,325.9 L256.3,336.2 L249.8,331.8 Z" fill="#8c8c8c" stroke="#777" stroke-width="0.3"/>
<path d="M249.8,321.5 L257.8,318.5 L264.3,322.9 L256.3,325.9 Z" fill="#cbcbcb" stroke="#777" stroke-width="0.3"/>
<path d="M256.3,325.9 L264.3,322.9 L264.3,333.2 L256.3,336.2 Z" fill="#a9a9a9" stroke="#777" stroke-width="0.3"/>
</g>
<path d="M323.3,293.4 L423.3,255 L423.3,358 L323.3,396.4 Z M258.2,249.4 L358.2,211 L423.3,255 L323.3,293.4 Z" fill="#fbeaea" fill-opacity="0.25"/>
<path d="M473.3,235.8 L573.3,197.4 L573.3,300.4 L473.3,338.8 Z M408.2,191.8 L508.2,153.4 L573.3,197.4 L473.3,235.8 Z" fill="#fbeaea" fill-opacity="0.25"/>
<line x1="258.2" y1="249.4" x2="358.2" y2="211" stroke="#f03030" stroke-width="1.3"/>
<line x1="358.2" y1="211" x2="423.3" y2="255" stroke="#f03030" stroke-width="1.3"/>
<line x1="258.2" y1="249.4" x2="323.3" y2="293.4" stroke="#f03030" stroke-width="1.3"/>
<line x1="323.3" y1="293.4" x2="423.3" y2="255" stroke="#f03030" stroke-width="1.3"/>
<line x1="423.3" y1="255" x2="423.3" y2="358" stroke="#f03030" stroke-width="1.3"/>
<line x1="323.3" y1="293.4" x2="323.3" y2="396.4" stroke="#f03030" stroke-width="1.3"/>
<line x1="323.3" y1="396.4" x2="423.3" y2="358" stroke="#f03030" stroke-width="1.3"/>
<line x1="258.2" y1="249.4" x2="258.2" y2="352.4" stroke="#f03030" stroke-width="1.3" stroke-opacity="0.45" stroke-dasharray="4,3"/>
<line x1="258.2" y1="352.4" x2="323.3" y2="396.4" stroke="#f03030" stroke-width="1.3" stroke-opacity="0.45" stroke-dasharray="4,3"/>
<line x1="358.2" y1="211" x2="358.2" y2="314" stroke="#f03030" stroke-width="1.3" stroke-opacity="0.45" stroke-dasharray="4,3"/>
<line x1="258.2" y1="352.4" x2="358.2" y2="314" stroke="#f03030" stroke-width="1.3" stroke-opacity="0.45" stroke-dasharray="4,3"/>
<line x1="358.2" y1="314" x2="423.3" y2="358" stroke="#f03030" stroke-width="1.3" stroke-opacity="0.45" stroke-dasharray="4,3"/>
<line x1="408.2" y1="191.8" x2="508.2" y2="153.4" stroke="#f03030" stroke-width="1.3"/>
<line x1="508.2" y1="153.4" x2="573.3" y2="197.4" stroke="#f03030" stroke-width="1.3"/>
<line x1="408.2" y1="191.8" x2="473.3" y2="235.8" stroke="#f03030" stroke-width="1.3"/>
<line x1="473.3" y1="235.8" x2="573.3" y2="197.4" stroke="#f03030" stroke-width="1.3"/>
<line x1="573.3" y1="197.4" x2="573.3" y2="300.4" stroke="#f03030" stroke-width="1.3"/>
<line x1="473.3" y1="235.8" x2="473.3" y2="338.8" stroke="#f03030" stroke-width="1.3"/>
<line x1="473.3" y1="338.8" x2="573.3" y2="300.4" stroke="#f03030" stroke-width="1.3"/>
<line x1="408.2" y1="191.8" x2="408.2" y2="294.8" stroke="#f03030" stroke-width="1.3" stroke-opacity="0.45" stroke-dasharray="4,3"/>
<line x1="408.2" y1="294.8" x2="473.3" y2="338.8" stroke="#f03030" stroke-width="1.3" stroke-opacity="0.45" stroke-dasharray="4,3"/>
<line x1="508.2" y1="153.4" x2="508.2" y2="256.4" stroke="#f03030" stroke-width="1.3" stroke-opacity="0.45" stroke-dasharray="4,3"/>
<line x1="408.2" y1="294.8" x2="508.2" y2="256.4" stroke="#f03030" stroke-width="1.3" stroke-opacity="0.45" stroke-dasharray="4,3"/>
<line x1="508.2" y1="256.4" x2="573.3" y2="300.4" stroke="#f03030" stroke-width="1.3" stroke-opacity="0.45" stroke-dasharray="4,3"/>
<line x1="358.2" y1="211" x2="408.2" y2="191.8" stroke="#000" stroke-width="3" stroke-linecap="square"/>
<line x1="408.2" y1="191.8" x2="473.3" y2="235.8" stroke="#000" stroke-width="3" stroke-linecap="square"/>
<line x1="358.2" y1="211" x2="423.3" y2="255" stroke="#000" stroke-width="3" stroke-linecap="square"/>
<line x1="423.3" y1="255" x2="473.3" y2="235.8" stroke="#000" stroke-width="3" stroke-linecap="square"/>
<line x1="473.3" y1="235.8" x2="473.3" y2="338.8" stroke="#000" stroke-width="3" stroke-linecap="square"/>
<line x1="423.3" y1="255" x2="423.3" y2="358" stroke="#000" stroke-width="3" stroke-linecap="square"/>
<line x1="423.3" y1="358" x2="473.3" y2="338.8" stroke="#000" stroke-width="3" stroke-linecap="square"/>
<line x1="358.2" y1="211" x2="358.2" y2="314" stroke="#000" stroke-width="3" stroke-dasharray="7,4"/>
<line x1="358.2" y1="314" x2="423.3" y2="358" stroke="#000" stroke-width="3" stroke-dasharray="7,4"/>
<text x="14.2" y="49.8" font-family='"Liberation Sans", sans-serif' font-weight="bold" font-size="43">A</text>
<text x="198" y="59" font-family='"Liberation Serif", serif' font-size="31" font-weight="bold">C</text>
<text x="269" y="27" font-family='"Liberation Serif", serif' font-size="29" font-weight="bold" fill="#ee1c1c">T</text>
<text x="135" y="90" font-family='"Liberation Serif", serif' font-size="29" font-weight="bold" fill="#1f6fb8">T'</text>
<text x="290" y="220" font-family='"Liberation Serif", serif' font-size="29" font-weight="bold" fill="#ee1c1c">T</text>
<text x="366" y="200" font-family='"Liberation Serif", serif' font-size="31" font-weight="bold">C</text>
<text x="444" y="165" font-family='"Liberation Serif", serif' font-size="29" font-weight="bold" fill="#ee1c1c">T</text>
<text x="426.6" y="92" font-family='"Liberation Serif", serif' font-size="34" textLength="86.8" lengthAdjust="spacingAndGlyphs">mirror</text>
<text x="157" y="344.2" font-family='"Liberation Serif", serif' font-size="33" textLength="65" lengthAdjust="spacingAndGlyphs">glide</text>
<g stroke="#000" stroke-width="1.6"><line x1="77.6" y1="291.4" x2="77.6" y2="260"/><line x1="77.6" y1="291.4" x2="45" y2="305.8"/><line x1="77.6" y1="291.4" x2="97" y2="311.5"/></g>
<path d="M77.6,252.5 L72.6,263 L82.6,263 Z M39.5,308.5 L47,300.5 L50,309.5 Z M102.8,317.4 L92.5,311 L99.5,305 Z" fill="#000"/>
<text x="50" y="253" font-family='"Liberation Serif", serif' font-size="28" font-weight="bold" font-style="italic">y</text>
<text x="31" y="331" font-family='"Liberation Serif", serif' font-size="28" font-weight="bold" font-style="italic">z</text>
<text x="91" y="335.5" font-family='"Liberation Serif", serif' font-size="27" font-weight="bold" font-style="italic">x</text>
<line x1="960.5" y1="20.7" x2="960.5" y2="389.5" stroke="#b8b8b8" stroke-width="1"/>
<line x1="1102.5" y1="20.7" x2="1102.5" y2="389.5" stroke="#b8b8b8" stroke-width="1"/>
<path d="M817.5,20.7 L899.7,20.7 L902.7,23.6 L905.7,26.5 L908.7,29.4 L911.7,32.3 L914.7,35.2 L917.7,38.1 L920.7,41 L923.7,43.8 L926.7,46.7 L929.7,49.5 L932.7,52.4 L935.7,55.2 L938.7,58.1 L941.7,61 L944.7,63.7 L947.7,66.3 L950.7,68.8 L953.7,71.2 L956.7,72.8 L959.7,73.9 L962.7,74.2 L965.7,74.1 L968.7,73.9 L971.7,73.6 L974.7,73.2 L977.7,72.8 L980.7,72.4 L983.7,71.9 L986.7,71.3 L989.7,70.6 L992.7,69.8 L995.7,69 L998.7,68.1 L1001.7,67.3 L1004.7,66.4 L1007.7,65.6 L1010.7,64.9 L1013.7,64.1 L1016.7,63.3 L1019.7,62.4 L1022.7,61.6 L1025.7,60.7 L1028.7,59.9 L1031.7,59 L1034.7,58.2 L1037.7,57.4 L1040.7,56.7 L1043.7,56 L1046.7,55.4 L1049.7,54.9 L1052.7,54.4 L1055.8,54 L1058.8,53.6 L1061.8,53.3 L1064.8,53 L1067.8,52.7 L1070.8,52.4 L1073.8,52.2 L1076.8,51.9 L1079.8,51.7 L1082.8,51.5 L1085.8,51.2 L1088.8,51 L1091.8,50.8 L1094.8,50.5 L1097.8,50.3 L1100.8,50 L1103.8,49.7 L1106.8,49.5 L1109.8,49.2 L1112.8,49 L1115.8,48.8 L1118.8,48.5 L1121.8,48.3 L1124.8,48.1 L1127.8,47.8 L1130.8,47.5 L1133.8,47.2 L1136.8,46.8 L1139.8,46.5 L1142.8,46 L1145.8,45.5 L1148.8,44.9 L1151.8,44.2 L1154.8,43.5 L1157.8,42.6 L1160.8,41.8 L1163.8,40.7 L1166.8,39.6 L1169.8,38.3 L1172.8,37 L1175.8,35.6 L1178.8,34.2 L1181.8,32.7 L1184.8,31.1 L1187.8,29.5 L1190.8,28.1 L1193.8,26.7 L1196.8,25.4 L1199.8,24.2 L1202.8,23 L1205.8,21.8 L1208.8,20.7 L1302.5,20.7 L1302.5,50.7 L1299.5,51.1 L1296.5,51.6 L1293.5,52.2 L1290.5,52.9 L1287.4,53.7 L1284.4,54.4 L1281.4,55.3 L1278.4,56.2 L1275.4,57.1 L1272.4,58.2 L1269.4,59.5 L1266.4,60.9 L1263.3,62.5 L1260.3,64 L1257.3,65.7 L1254.3,67.3 L1251.3,68.8 L1248.3,70.4 L1245.3,71.8 L1242.3,73 L1239.2,74.3 L1236.2,75.5 L1233.2,76.7 L1230.2,78 L1227.2,79.1 L1224.2,80.3 L1221.2,81.3 L1218.2,82.3 L1215.1,83.2 L1212.1,84 L1209.1,84.6 L1206.1,85.2 L1203.1,85.8 L1200.1,86.3 L1197.1,86.8 L1194.1,87.3 L1191,87.8 L1188,88.2 L1185,88.5 L1182,88.7 L1179,88.9 L1176,89 L1173,89 L1170,88.8 L1166.9,88.4 L1163.9,88 L1160.9,87.5 L1157.9,87 L1154.9,86.5 L1151.9,85.9 L1148.9,85.5 L1145.9,85.1 L1142.8,84.8 L1139.8,84.7 L1136.8,84.5 L1133.8,84.4 L1130.8,84.3 L1127.8,84.2 L1124.8,84.1 L1121.8,84.1 L1118.7,84 L1115.7,83.9 L1112.7,83.9 L1109.7,83.8 L1106.7,83.8 L1103.7,83.8 L1100.7,83.8 L1097.7,83.9 L1094.6,84 L1091.6,84.2 L1088.6,84.5 L1085.6,84.8 L1082.6,85.1 L1079.6,85.5 L1076.6,86 L1073.6,86.4 L1070.5,86.9 L1067.5,87.4 L1064.5,87.9 L1061.5,88.4 L1058.5,88.9 L1055.5,89.4 L1052.5,89.9 L1049.5,90.4 L1046.4,91 L1043.4,91.7 L1040.4,92.5 L1037.4,93.2 L1034.4,94 L1031.4,94.8 L1028.4,95.6 L1025.4,96.4 L1022.3,97.1 L1019.3,97.8 L1016.3,98.5 L1013.3,99 L1010.3,99.5 L1007.3,99.9 L1004.3,100.3 L1001.3,100.7 L998.2,101.1 L995.2,101.4 L992.2,101.8 L989.2,102.2 L986.2,102.5 L983.2,102.8 L980.2,103.1 L977.2,103.3 L974.1,103.5 L971.1,103.7 L968.1,103.8 L965.1,103.9 L962.1,104 L959.1,104 L956.1,103.9 L953.1,103.7 L950,103.4 L947,103.1 L944,102.7 L941,102.3 L938,101.8 L935,101.3 L932,100.8 L929,100.3 L925.9,99.6 L922.9,98.8 L919.9,97.8 L916.9,96.8 L913.9,95.8 L910.9,94.6 L907.9,93.4 L904.9,92.2 L901.8,91 L898.8,89.8 L895.8,88.6 L892.8,87.3 L889.8,85.9 L886.8,84.5 L883.8,83 L880.8,81.4 L877.7,79.9 L874.7,78.3 L871.7,76.7 L868.7,75.1 L865.7,73.5 L862.7,71.9 L859.7,70.4 L856.7,68.9 L853.6,67.4 L850.6,66 L847.6,64.6 L844.6,63.2 L841.6,61.8 L838.6,60.4 L835.6,59 L832.6,57.7 L829.5,56.3 L826.5,55 L823.5,53.6 L820.5,52.3 L817.5,51 Z" fill="#0000ff"/>
<path d="M817.5,206 L820.5,205.6 L823.5,205.1 L826.5,204.7 L829.5,204.2 L832.6,203.8 L835.6,203.3 L838.6,202.9 L841.6,202.4 L844.6,201.9 L847.6,201.4 L850.6,201 L853.6,200.5 L856.7,199.9 L859.7,199.3 L862.7,198.7 L865.7,198 L868.7,197.3 L871.7,196.6 L874.7,195.8 L877.7,195.1 L880.8,194.4 L883.8,193.8 L886.8,193.2 L889.8,192.7 L892.8,192.2 L895.8,191.9 L898.8,191.6 L901.8,191.5 L904.9,191.6 L907.9,191.9 L910.9,192.5 L913.9,193.3 L916.9,194.2 L919.9,195.1 L922.9,196 L925.9,196.9 L929,197.5 L932,198 L935,198.4 L938,198.8 L941,199.1 L944,199.4 L947,199.7 L950,200 L953.1,200.2 L956.1,200.3 L959.1,200.4 L962.1,200.4 L965.1,200.3 L968.1,200.3 L971.1,200.1 L974.1,200 L977.2,199.8 L980.2,199.6 L983.2,199.4 L986.2,199.1 L989.2,198.9 L992.2,198.6 L995.2,198.3 L998.2,198 L1001.3,197.7 L1004.3,197.4 L1007.3,197.2 L1010.3,196.9 L1013.3,196.6 L1016.3,196.2 L1019.3,195.8 L1022.3,195.4 L1025.4,194.9 L1028.4,194.5 L1031.4,194 L1034.4,193.6 L1037.4,193.1 L1040.4,192.7 L1043.4,192.4 L1046.4,192 L1049.5,191.8 L1052.5,191.6 L1055.5,191.4 L1058.5,191.2 L1061.5,191.1 L1064.5,190.9 L1067.5,190.8 L1070.5,190.7 L1073.6,190.5 L1076.6,190.4 L1079.6,190.3 L1082.6,190.2 L1085.6,190.1 L1088.6,190.1 L1091.6,190 L1094.6,189.9 L1097.7,189.9 L1100.7,189.9 L1103.7,189.9 L1106.7,189.9 L1109.7,189.9 L1112.7,190 L1115.7,190 L1118.7,190.1 L1121.8,190.2 L1124.8,190.2 L1127.8,190.3 L1130.8,190.4 L1133.8,190.4 L1136.8,190.5 L1139.8,190.6 L1142.8,190.6 L1145.9,190.7 L1148.9,190.7 L1151.9,190.8 L1154.9,190.8 L1157.9,190.8 L1160.9,190.8 L1163.9,190.7 L1166.9,190.5 L1170,190.3 L1173,190 L1176,189.8 L1179,189.5 L1182,189.2 L1185,189 L1188,188.7 L1191,188.5 L1194.1,188.3 L1197.1,188.2 L1200.1,188.2 L1203.1,188.3 L1206.1,188.4 L1209.1,188.7 L1212.1,189.1 L1215.1,189.5 L1218.2,190 L1221.2,190.6 L1224.2,191.2 L1227.2,191.8 L1230.2,192.4 L1233.2,193.1 L1236.2,193.7 L1239.2,194.3 L1242.3,194.9 L1245.3,195.4 L1248.3,196 L1251.3,196.6 L1254.3,197.2 L1257.3,197.8 L1260.3,198.5 L1263.3,199.1 L1266.4,199.7 L1269.4,200.3 L1272.4,200.9 L1275.4,201.5 L1278.4,202.1 L1281.4,202.6 L1284.4,203.1 L1287.4,203.6 L1290.5,204.1 L1293.5,204.6 L1296.5,205.1 L1299.5,205.5 L1302.5,206 L1302.5,389.5 L1299.5,386.3 L1296.5,383 L1293.5,379.8 L1290.5,376.4 L1287.4,373.1 L1284.4,369.7 L1281.4,366.2 L1278.4,362.8 L1275.4,359.3 L1272.4,355.7 L1269.4,352.2 L1266.4,348.6 L1263.3,345 L1260.3,341.3 L1257.3,337.6 L1254.3,333.8 L1251.3,329.9 L1248.3,326 L1245.3,322 L1242.3,318 L1239.2,314 L1236.2,310 L1233.2,306 L1230.2,302.1 L1227.2,298.3 L1224.2,294.5 L1221.2,290.7 L1218.2,286.9 L1215.1,283.1 L1212.1,279.3 L1209.1,275.6 L1206.1,271.9 L1203.1,268.3 L1200.1,264.8 L1197.1,261.4 L1194.1,258.1 L1191,255 L1188,251.9 L1185,248.8 L1182,245.8 L1179,242.8 L1176,240 L1173,237.2 L1170,234.5 L1166.9,232 L1163.9,229.6 L1160.9,227.4 L1157.9,225.4 L1154.9,223.6 L1151.9,221.7 L1148.9,219.9 L1145.9,218.1 L1142.8,216.4 L1139.8,214.9 L1136.8,213.4 L1133.8,212.1 L1130.8,211 L1127.8,210.1 L1124.8,209.4 L1121.8,208.9 L1118.7,208.5 L1115.7,208 L1112.7,207.7 L1109.7,207.4 L1106.7,207.1 L1103.7,207 L1100.7,207 L1097.7,207 L1094.6,207 L1091.6,207.1 L1088.6,207.1 L1085.6,207.2 L1082.6,207.3 L1079.6,207.4 L1076.6,207.5 L1073.6,207.6 L1070.5,207.7 L1067.5,207.8 L1064.5,208 L1061.5,208.1 L1058.5,208.3 L1055.5,208.4 L1052.5,208.6 L1049.5,208.7 L1046.4,209 L1043.4,209.3 L1040.4,209.6 L1037.4,209.9 L1034.4,210.3 L1031.4,210.7 L1028.4,211.1 L1025.4,211.5 L1022.3,211.9 L1019.3,212.4 L1016.3,212.8 L1013.3,213.2 L1010.3,213.5 L1007.3,213.9 L1004.3,214.3 L1001.3,214.7 L998.2,215.1 L995.2,215.5 L992.2,215.9 L989.2,216.2 L986.2,216.6 L983.2,216.9 L980.2,217.2 L977.2,217.4 L974.1,217.6 L971.1,217.7 L968.1,217.9 L965.1,218.1 L962.1,218.5 L959.1,219.5 L956.1,221.3 L953.1,223.4 L950,226.2 L947,229.4 L944,232.8 L941,236 L938,239.4 L935,242.8 L932,246.4 L929,250 L925.9,253.7 L922.9,257.4 L919.9,261.2 L916.9,265 L913.9,268.8 L910.9,272.6 L907.9,276.6 L904.9,280.6 L901.8,284.7 L898.8,288.8 L895.8,293 L892.8,297.1 L889.8,301.2 L886.8,305.3 L883.8,309.3 L880.8,313.3 L877.7,317.3 L874.7,321.4 L871.7,325.4 L868.7,329.3 L865.7,333.3 L862.7,337.2 L859.7,341 L856.7,344.8 L853.6,348.5 L850.6,352.1 L847.6,355.7 L844.6,359.3 L841.6,362.8 L838.6,366.3 L835.6,369.8 L832.6,373.2 L829.5,376.5 L826.5,379.8 L823.5,383.1 L820.5,386.3 L817.5,389.5 Z" fill="#0000ff"/>
<path d="M817.5,62 L819.5,62.3 L821.5,62.7 L823.5,63.1 L825.6,63.6 L827.6,64.1 L829.6,64.6 L831.6,65.2 L833.6,65.7 L835.6,66.4 L837.6,67.1 L839.7,67.8 L841.7,68.6 L843.7,69.4 L845.7,70.3 L847.7,71.2 L849.7,72.1 L851.7,73 L853.8,73.9 L855.8,74.9 L857.8,75.9 L859.8,76.9 L861.8,77.9 L863.8,79 L865.8,80.1 L867.9,81.2 L869.9,82.4 L871.9,83.6 L873.9,84.8 L875.9,86.1 L877.9,87.4 L879.9,88.7 L882,90.1 L884,91.6 L886,93.1 L888,94.6 L890,96.1 L892,97.7 L894,99.3 L896,100.9 L898.1,102.6 L900.1,104.2 L902.1,106 L904.1,107.8 L906.1,109.6 L908.1,111.5 L910.1,113.3 L912.2,115.2 L914.2,117.1 L916.2,118.9 L918.2,120.7 L920.2,122.5 L922.2,124.2 L924.2,126 L926.3,127.7 L928.3,129.5 L930.3,131.2 L932.3,132.9 L934.3,134.6 L936.3,136.2 L938.3,137.7 L940.4,139.1 L942.4,140.3 L944.4,141.5 L946.4,142.7 L948.4,143.7 L950.4,144.8 L952.4,145.8 L954.5,146.7 L956.5,147.5 L958.5,148.3 L960.5,149" fill="none" stroke="#6b2c8f" stroke-width="2.6" stroke-linejoin="round"/>
<path d="M817.5,200.4 L819.5,200.2 L821.5,200 L823.5,199.8 L825.6,199.5 L827.6,199.2 L829.6,198.9 L831.6,198.5 L833.6,198.2 L835.6,197.8 L837.6,197.4 L839.7,197 L841.7,196.6 L843.7,196.1 L845.7,195.7 L847.7,195.2 L849.7,194.7 L851.7,194.3 L853.8,193.8 L855.8,193.2 L857.8,192.7 L859.8,192.1 L861.8,191.4 L863.8,190.7 L865.8,190 L867.9,189.3 L869.9,188.5 L871.9,187.7 L873.9,186.9 L875.9,186 L877.9,185.1 L879.9,184.3 L882,183.4 L884,182.5 L886,181.6 L888,180.7 L890,179.8 L892,178.9 L894,178 L896,177.1 L898.1,176.2 L900.1,175.3 L902.1,174.4 L904.1,173.5 L906.1,172.6 L908.1,171.6 L910.1,170.7 L912.2,169.7 L914.2,168.7 L916.2,167.7 L918.2,166.8 L920.2,165.8 L922.2,164.8 L924.2,163.9 L926.3,163 L928.3,162.1 L930.3,161.2 L932.3,160.3 L934.3,159.4 L936.3,158.6 L938.3,157.7 L940.4,156.9 L942.4,156.1 L944.4,155.2 L946.4,154.4 L948.4,153.6 L950.4,152.8 L952.4,152.1 L954.5,151.3 L956.5,150.5 L958.5,149.8 L960.5,149" fill="none" stroke="#6b2c8f" stroke-width="2.6" stroke-linejoin="round"/>
<path d="M960.5,149 L962.5,148.7 L964.5,148.5 L966.6,148.2 L968.6,148 L970.6,147.7 L972.6,147.4 L974.6,147.2 L976.6,146.9 L978.7,146.7 L980.7,146.4 L982.7,146.1 L984.7,145.9 L986.7,145.6 L988.8,145.4 L990.8,145.1 L992.8,144.8 L994.8,144.6 L996.8,144.3 L998.9,144.1 L1000.9,143.8 L1002.9,143.6 L1004.9,143.3 L1006.9,143.1 L1008.9,142.8 L1011,142.5 L1013,142.3 L1015,142 L1017,141.7 L1019,141.5 L1021.1,141.2 L1023.1,140.9 L1025.1,140.6 L1027.1,140.3 L1029.1,140 L1031.1,139.8 L1033.2,139.5 L1035.2,139.2 L1037.2,139 L1039.2,138.7 L1041.2,138.5 L1043.3,138.3 L1045.3,138 L1047.3,137.8 L1049.3,137.6 L1051.3,137.5 L1053.4,137.3 L1055.4,137.2 L1057.4,137 L1059.4,136.9 L1061.4,136.7 L1063.4,136.6 L1065.5,136.4 L1067.5,136.3 L1069.5,136.1 L1071.5,136 L1073.5,135.9 L1075.6,135.7 L1077.6,135.6 L1079.6,135.5 L1081.6,135.4 L1083.6,135.3 L1085.6,135.2 L1087.7,135.1 L1089.7,135 L1091.7,135 L1093.7,134.9 L1095.7,134.9 L1097.8,134.8 L1099.8,134.8 L1101.8,134.8 L1103.8,134.8 L1105.8,134.8 L1107.9,134.8 L1109.9,134.8 L1111.9,134.8 L1113.9,134.8 L1115.9,134.9 L1117.9,134.9 L1120,134.9 L1122,134.9 L1124,135" fill="none" stroke="#6b2c8f" stroke-width="2.6" stroke-linejoin="round"/>
<path d="M1124,135 L1126,134.6 L1128,134.3 L1130,133.9 L1132,133.4 L1134,133 L1136,132.6 L1138,132.1 L1140,131.7 L1142,131.2 L1144,130.7 L1146,130.2 L1148,129.7 L1150,129.2 L1152,128.6 L1154,128.1 L1156,127.6 L1158,127 L1160,126.4 L1162,125.9 L1164,125.3 L1166,124.7 L1168,124.1 L1170,123.4 L1172,122.8 L1174,122.1 L1176,121.4 L1178,120.7 L1180,120 L1182,119.3 L1184,118.5 L1186,117.7 L1188,116.9 L1190,116.1 L1192,115.2 L1194,114.3 L1196,113.3 L1198,112.3 L1200,111.2 L1202,110 L1204,108.8 L1206,107.6 L1208,106.4 L1210,105.1 L1212,103.8 L1214,102.5 L1216,101.2 L1218,99.9 L1220,98.6 L1222,97.4 L1224,96.1 L1226,94.9 L1228,93.7 L1230,92.4 L1232,91.1 L1234,89.8 L1236,88.5 L1238,87.2 L1240,85.9 L1242,84.5 L1244,83.2 L1246,82 L1248,80.7 L1250,79.5 L1252,78.4 L1254,77.3 L1256,76.3 L1258,75.4 L1260,74.5 L1262,73.7 L1264,72.9 L1266,72.1 L1268,71.3 L1270,70.6 L1272,69.8 L1274,69.1 L1276,68.4 L1278,67.7 L1280,67.1 L1282,66.4 L1284,65.8 L1286,65.2 L1288,64.7 L1290,64.2 L1292,63.7 L1294,63.2 L1296,62.8 L1298,62.4 L1300,62.1 L1302,61.8" fill="none" stroke="#6b2c8f" stroke-width="2.6" stroke-linejoin="round"/>
<path d="M1124,135.3 L1126,136 L1128,136.7 L1130,137.5 L1132,138.2 L1134,139 L1136,139.8 L1138,140.5 L1140,141.3 L1142,142.1 L1144,143 L1146,143.8 L1148,144.6 L1150,145.5 L1152,146.4 L1154,147.2 L1156,148.1 L1158,149 L1160,149.9 L1162,150.9 L1164,151.8 L1166,152.8 L1168,153.8 L1170,154.9 L1172,155.9 L1174,157 L1176,158 L1178,159.1 L1180,160.1 L1182,161.2 L1184,162.2 L1186,163.2 L1188,164.2 L1190,165.2 L1192,166.2 L1194,167.1 L1196,168.1 L1198,169 L1200,170 L1202,170.9 L1204,171.9 L1206,172.8 L1208,173.7 L1210,174.6 L1212,175.5 L1214,176.4 L1216,177.3 L1218,178.1 L1220,179 L1222,179.8 L1224,180.6 L1226,181.4 L1228,182.2 L1230,183 L1232,183.8 L1234,184.6 L1236,185.3 L1238,186.1 L1240,186.9 L1242,187.6 L1244,188.3 L1246,189.1 L1248,189.8 L1250,190.4 L1252,191.1 L1254,191.7 L1256,192.3 L1258,192.8 L1260,193.3 L1262,193.8 L1264,194.3 L1266,194.7 L1268,195.2 L1270,195.6 L1272,196.1 L1274,196.5 L1276,196.9 L1278,197.4 L1280,197.8 L1282,198.1 L1284,198.5 L1286,198.9 L1288,199.2 L1290,199.5 L1292,199.8 L1294,200.1 L1296,200.4 L1298,200.6 L1300,200.8 L1302,201" fill="none" stroke="#6b2c8f" stroke-width="2.6" stroke-linejoin="round"/>
<path d="M817.5,59.1 L819.5,59.6 L821.5,60.2 L823.5,60.8 L825.5,61.4 L827.5,62 L829.5,62.7 L831.5,63.4 L833.5,64 L835.5,64.7 L837.5,65.5 L839.5,66.2 L841.5,67 L843.5,67.7 L845.5,68.5 L847.5,69.3 L849.5,70.1 L851.5,71 L853.5,71.8 L855.5,72.7 L857.5,73.6 L859.5,74.5 L861.5,75.5 L863.5,76.5 L865.5,77.5 L867.6,78.5 L869.6,79.6 L871.6,80.7 L873.6,81.8 L875.6,82.9 L877.6,84.1 L879.6,85.2 L881.6,86.4 L883.6,87.6 L885.6,88.7 L887.6,89.9 L889.6,91.1 L891.6,92.3 L893.6,93.4 L895.6,94.6 L897.6,95.8 L899.6,96.9 L901.6,98.2 L903.6,99.4 L905.6,100.8 L907.6,102.1 L909.6,103.5 L911.6,104.9 L913.6,106.3 L915.6,107.7 L917.6,109 L919.6,110.3 L921.6,111.5 L923.6,112.7 L925.6,113.7 L927.6,114.7 L929.6,115.5 L931.6,116.2 L933.6,116.9 L935.6,117.5 L937.6,118.1 L939.6,118.7 L941.6,119.3 L943.6,119.9 L945.6,120.4 L947.6,120.9 L949.6,121.3 L951.6,121.7 L953.6,122 L955.6,122.2 L957.6,122.4 L959.6,122.5 L961.6,122.5 L963.7,122.5 L965.7,122.4 L967.7,122.4 L969.7,122.3 L971.7,122.2 L973.7,122.1 L975.7,122 L977.7,121.8 L979.7,121.7 L981.7,121.5 L983.7,121.3 L985.7,121.1 L987.7,120.9 L989.7,120.7 L991.7,120.5 L993.7,120.3 L995.7,120.1 L997.7,119.8 L999.7,119.6 L1001.7,119.4 L1003.7,119.1 L1005.7,118.9 L1007.7,118.7 L1009.7,118.4 L1011.7,118.1 L1013.7,117.8 L1015.7,117.5 L1017.7,117.1 L1019.7,116.7 L1021.7,116.2 L1023.7,115.8 L1025.7,115.3 L1027.7,114.8 L1029.7,114.3 L1031.7,113.8 L1033.7,113.3 L1035.7,112.9 L1037.7,112.4 L1039.7,111.9 L1041.7,111.5 L1043.7,111.1 L1045.7,110.7 L1047.7,110.4 L1049.7,110.1 L1051.7,109.8 L1053.7,109.6 L1055.7,109.4 L1057.7,109.2 L1059.8,109 L1061.8,108.8 L1063.8,108.6 L1065.8,108.4 L1067.8,108.2 L1069.8,108 L1071.8,107.9 L1073.8,107.7 L1075.8,107.5 L1077.8,107.4 L1079.8,107.2 L1081.8,107.1 L1083.8,107 L1085.8,106.9 L1087.8,106.8 L1089.8,106.7 L1091.8,106.6 L1093.8,106.5 L1095.8,106.5 L1097.8,106.4 L1099.8,106.4 L1101.8,106.4 L1103.8,106.4 L1105.8,106.4 L1107.8,106.5 L1109.8,106.5 L1111.8,106.6 L1113.8,106.7 L1115.8,106.8 L1117.8,106.9 L1119.8,107 L1121.8,107.2 L1123.8,107.3 L1125.8,107.4 L1127.8,107.6 L1129.8,107.7 L1131.8,107.9 L1133.8,108 L1135.8,108.2 L1137.8,108.3 L1139.8,108.4 L1141.8,108.6 L1143.8,108.7 L1145.8,108.9 L1147.8,109 L1149.8,109.2 L1151.8,109.4 L1153.8,109.6 L1155.8,109.8 L1157.9,110 L1159.9,110.2 L1161.9,110.4 L1163.9,110.5 L1165.9,110.7 L1167.9,110.8 L1169.9,110.9 L1171.9,111 L1173.9,111 L1175.9,111 L1177.9,110.9 L1179.9,110.7 L1181.9,110.3 L1183.9,109.9 L1185.9,109.4 L1187.9,108.8 L1189.9,108.2 L1191.9,107.5 L1193.9,106.8 L1195.9,106 L1197.9,105.2 L1199.9,104.4 L1201.9,103.6 L1203.9,102.8 L1205.9,101.9 L1207.9,101.1 L1209.9,100.4 L1211.9,99.5 L1213.9,98.7 L1215.9,97.7 L1217.9,96.7 L1219.9,95.7 L1221.9,94.7 L1223.9,93.6 L1225.9,92.5 L1227.9,91.4 L1229.9,90.2 L1231.9,89.1 L1233.9,88 L1235.9,86.8 L1237.9,85.7 L1239.9,84.6 L1241.9,83.5 L1243.9,82.4 L1245.9,81.2 L1247.9,80 L1249.9,78.8 L1251.9,77.6 L1254,76.3 L1256,75 L1258,73.7 L1260,72.5 L1262,71.2 L1264,70.1 L1266,68.9 L1268,67.9 L1270,66.9 L1272,66 L1274,65.2 L1276,64.5 L1278,63.9 L1280,63.4 L1282,62.8 L1284,62.3 L1286,61.8 L1288,61.3 L1290,60.9 L1292,60.5 L1294,60.1 L1296,59.8 L1298,59.5 L1300,59.3 L1302,59.2" fill="none" stroke="#f00000" stroke-width="3" stroke-linejoin="round"/>
<path d="M817.5,200.4 L819.5,200.2 L821.5,200 L823.5,199.8 L825.5,199.5 L827.5,199.2 L829.5,199 L831.5,198.7 L833.5,198.4 L835.5,198 L837.5,197.7 L839.5,197.3 L841.5,197 L843.5,196.6 L845.5,196.2 L847.5,195.8 L849.5,195.4 L851.5,195 L853.5,194.6 L855.5,194.2 L857.5,193.7 L859.5,193.2 L861.5,192.7 L863.5,192.1 L865.5,191.5 L867.6,191 L869.6,190.3 L871.6,189.7 L873.6,189 L875.6,188.4 L877.6,187.7 L879.6,187 L881.6,186.3 L883.6,185.6 L885.6,184.9 L887.6,184.2 L889.6,183.5 L891.6,182.8 L893.6,182.1 L895.6,181.5 L897.6,180.8 L899.6,180.1 L901.6,179.4 L903.6,178.7 L905.6,177.9 L907.6,177.2 L909.6,176.4 L911.6,175.6 L913.6,174.8 L915.6,174.1 L917.6,173.5 L919.6,172.8 L921.6,172.3 L923.6,171.8 L925.6,171.4 L927.6,171 L929.6,170.7 L931.6,170.3 L933.6,170 L935.6,169.7 L937.6,169.5 L939.6,169.2 L941.6,169.1 L943.6,168.9 L945.6,168.8 L947.6,168.7 L949.6,168.6 L951.6,168.5 L953.6,168.5 L955.6,168.4 L957.6,168.3 L959.6,168.2 L961.6,168.1 L963.7,168 L965.7,167.9 L967.7,167.7 L969.7,167.5 L971.7,167.4 L973.7,167.2 L975.7,167 L977.7,166.7 L979.7,166.5 L981.7,166.3 L983.7,166 L985.7,165.8 L987.7,165.5 L989.7,165.3 L991.7,165 L993.7,164.7 L995.7,164.5 L997.7,164.2 L999.7,164 L1001.7,163.7 L1003.7,163.5 L1005.7,163.2 L1007.7,163 L1009.7,162.7 L1011.7,162.5 L1013.7,162.2 L1015.7,161.9 L1017.7,161.7 L1019.7,161.4 L1021.7,161.1 L1023.7,160.8 L1025.7,160.5 L1027.7,160.2 L1029.7,159.9 L1031.7,159.6 L1033.7,159.4 L1035.7,159.1 L1037.7,158.8 L1039.7,158.6 L1041.7,158.3 L1043.7,158.1 L1045.7,157.9 L1047.7,157.7 L1049.7,157.5 L1051.7,157.3 L1053.7,157.2 L1055.7,157 L1057.7,156.9 L1059.8,156.8 L1061.8,156.6 L1063.8,156.5 L1065.8,156.4 L1067.8,156.3 L1069.8,156.1 L1071.8,156 L1073.8,155.9 L1075.8,155.8 L1077.8,155.7 L1079.8,155.6 L1081.8,155.5 L1083.8,155.4 L1085.8,155.3 L1087.8,155.3 L1089.8,155.2 L1091.8,155.1 L1093.8,155.1 L1095.8,155.1 L1097.8,155 L1099.8,155 L1101.8,155 L1103.8,155 L1105.8,155 L1107.8,155 L1109.8,155 L1111.8,155 L1113.8,155 L1115.8,155 L1117.8,155 L1119.8,155 L1121.8,155 L1123.8,155 L1125.8,155 L1127.8,155.1 L1129.8,155.3 L1131.8,155.5 L1133.8,155.8 L1135.8,156.1 L1137.8,156.4 L1139.8,156.8 L1141.8,157.2 L1143.8,157.7 L1145.8,158.1 L1147.8,158.6 L1149.8,159.1 L1151.8,159.6 L1153.8,160 L1155.8,160.5 L1157.9,161 L1159.9,161.4 L1161.9,161.9 L1163.9,162.5 L1165.9,163 L1167.9,163.6 L1169.9,164.2 L1171.9,164.8 L1173.9,165.5 L1175.9,166.1 L1177.9,166.8 L1179.9,167.4 L1181.9,168.1 L1183.9,168.7 L1185.9,169.4 L1187.9,170 L1189.9,170.7 L1191.9,171.3 L1193.9,171.9 L1195.9,172.5 L1197.9,173 L1199.9,173.6 L1201.9,174.2 L1203.9,174.8 L1205.9,175.4 L1207.9,176 L1209.9,176.5 L1211.9,177.1 L1213.9,177.7 L1215.9,178.3 L1217.9,178.9 L1219.9,179.5 L1221.9,180.1 L1223.9,180.7 L1225.9,181.4 L1227.9,182 L1229.9,182.7 L1231.9,183.4 L1233.9,184.2 L1235.9,184.9 L1237.9,185.7 L1239.9,186.4 L1241.9,187.2 L1243.9,187.9 L1245.9,188.7 L1247.9,189.4 L1249.9,190.1 L1251.9,190.8 L1254,191.4 L1256,192 L1258,192.5 L1260,193 L1262,193.4 L1264,193.9 L1266,194.3 L1268,194.8 L1270,195.2 L1272,195.6 L1274,196 L1276,196.4 L1278,196.8 L1280,197.1 L1282,197.5 L1284,197.8 L1286,198.1 L1288,198.5 L1290,198.7 L1292,199 L1294,199.2 L1296,199.5 L1298,199.7 L1300,199.8 L1302,200" fill="none" stroke="#f00000" stroke-width="3" stroke-linejoin="round"/>
<rect x="817.5" y="20.7" width="485.0" height="368.8" fill="none" stroke="#909090" stroke-width="1.3"/>
<line x1="817.5" y1="389.5" x2="821.5" y2="389.5" stroke="#777" stroke-width="1"/>
<line x1="817.5" y1="315.7" x2="821.5" y2="315.7" stroke="#777" stroke-width="1"/>
<line x1="817.5" y1="242" x2="821.5" y2="242" stroke="#777" stroke-width="1"/>
<line x1="817.5" y1="168.2" x2="821.5" y2="168.2" stroke="#777" stroke-width="1"/>
<line x1="817.5" y1="94.5" x2="821.5" y2="94.5" stroke="#777" stroke-width="1"/>
<line x1="817.5" y1="20.7" x2="821.5" y2="20.7" stroke="#777" stroke-width="1"/>
<text x="803.5" y="397.8" text-anchor="end" font-family='"Liberation Serif", serif' font-size="29">0</text>
<text x="806.5" y="327.1" text-anchor="end" font-family='"Liberation Serif", serif' font-size="29">0.2</text>
<text x="806.5" y="254.8" text-anchor="end" font-family='"Liberation Serif", serif' font-size="29">0.4</text>
<text x="806.5" y="184.4" text-anchor="end" font-family='"Liberation Serif", serif' font-size="29">0.6</text>
<text x="806.5" y="110.1" text-anchor="end" font-family='"Liberation Serif", serif' font-size="29">0.8</text>
<text x="803.5" y="38.2" text-anchor="end" font-family='"Liberation Serif", serif' font-size="29">1</text>
<text transform="translate(752.5,284.6) rotate(-90)" font-family='"Liberation Serif", serif' font-size="29" textLength="192.6" lengthAdjust="spacingAndGlyphs">Frequency (<tspan font-style="italic">c</tspan>/<tspan font-style="italic">a</tspan>)</text>
<text x="818" y="424" text-anchor="middle" font-family='"Liberation Serif", serif' font-weight="bold" font-size="31">&#915;</text>
<rect x="809.5" y="398.3" width="17" height="2.2" fill="#000"/>
<text x="960" y="424" text-anchor="middle" font-family='"Liberation Serif", serif' font-weight="bold" font-size="31">X</text>
<rect x="951.5" y="398.3" width="17" height="2.2" fill="#000"/>
<text x="1103" y="424" text-anchor="middle" font-family='"Liberation Serif", serif' font-weight="bold" font-size="31">M</text>
<rect x="1094.5" y="398.3" width="17" height="2.2" fill="#000"/>
<text x="1302" y="424" text-anchor="middle" font-family='"Liberation Serif", serif' font-weight="bold" font-size="31">&#915;</text>
<rect x="1293.5" y="398.3" width="17" height="2.2" fill="#000"/>
<rect x="965" y="321" width="43" height="4.4" fill="#f00000"/>
<rect x="965" y="360.3" width="43" height="4" fill="#6b2c8f"/>
<text x="1022" y="327.7" font-family='"Liberation Serif", serif' font-size="27" textLength="65.3" lengthAdjust="spacingAndGlyphs">mirror</text>
<text x="1032.5" y="368.6" font-family='"Liberation Serif", serif' font-size="24" textLength="49.2" lengthAdjust="spacingAndGlyphs">glide</text>
<text x="679" y="49.5" font-family='"Liberation Sans", sans-serif' font-weight="bold" font-size="43">B</text>
<line x1="230.4" y1="457" x2="230.4" y2="818" stroke="#e2e2e2" stroke-width="1"/>
<line x1="343.8" y1="457" x2="343.8" y2="818" stroke="#e2e2e2" stroke-width="1"/>
<line x1="448.3" y1="457" x2="448.3" y2="818" stroke="#e2e2e2" stroke-width="1"/>
<line x1="551" y1="457" x2="551" y2="818" stroke="#e2e2e2" stroke-width="1"/>
<path d="M117,516.4 Q334,508.4 551,520.4" fill="none" stroke="#e2e2e2" stroke-width="1"/>
<path d="M117,640.4 Q334,632.4 551,644.4" fill="none" stroke="#e2e2e2" stroke-width="1"/>
<path d="M117,764.4 Q334,756.4 551,768.4" fill="none" stroke="#e2e2e2" stroke-width="1"/>
<path d="M117,817 L322,830 L551,818" fill="none" stroke="#e2e2e2" stroke-width="1"/>
<path d="M230,812 L448,822 M343,812 L140,826" fill="none" stroke="#e2e2e2" stroke-width="1"/>
<line x1="335" y1="757" x2="335" y2="835" stroke="#f2dca0" stroke-width="1.2"/>
<line x1="437.7" y1="675" x2="437.7" y2="826" stroke="#f2dca0" stroke-width="1.2"/>
<line x1="551" y1="645" x2="551" y2="826" stroke="#f2dca0" stroke-width="1.2"/>
<path d="M116.9,455.5 L116.9,824.1 L322.5,837.8 L551.3,825.6" fill="none" stroke="#7a7a7a" stroke-width="1.6"/>
<line x1="116.6" y1="824.1" x2="116.6" y2="818.1" stroke="#7a7a7a" stroke-width="1.3"/>
<line x1="219.2" y1="830.9" x2="219.2" y2="824.9" stroke="#7a7a7a" stroke-width="1.3"/>
<line x1="322.5" y1="837.8" x2="322.5" y2="831.8" stroke="#7a7a7a" stroke-width="1.3"/>
<line x1="436.9" y1="830.8" x2="436.9" y2="824.8" stroke="#7a7a7a" stroke-width="1.3"/>
<line x1="551.3" y1="825.6" x2="551.3" y2="819.6" stroke="#7a7a7a" stroke-width="1.3"/>
<line x1="107" y1="516.4" x2="117" y2="516.4" stroke="#7a7a7a" stroke-width="1.3"/>
<line x1="107" y1="640.4" x2="117" y2="640.4" stroke="#7a7a7a" stroke-width="1.3"/>
<line x1="107" y1="764.4" x2="117" y2="764.4" stroke="#7a7a7a" stroke-width="1.3"/>
<path d="M117.1,597.7 C122.6,598.2 139.5,599.2 150,600.5 C160.5,601.8 170.8,605 180,605.4 C189.2,605.8 196.7,605.1 205,603 C213.3,600.9 221.7,597.6 230,592.8 C238.3,588 246.7,580.7 255,574 C263.3,567.3 271.6,559.8 280,552.7 C288.4,545.6 296.6,536.6 305.5,531.3 C314.4,526 324.2,520.7 333.5,520.7 C342.8,520.7 352.6,526 361.5,531.3 C370.4,536.6 378.6,545.6 387,552.7 C395.4,559.8 403.7,567.3 412,574 C420.3,580.7 428.7,588 437,592.8 C445.3,597.6 453.7,600.9 462,603 C470.3,605.1 477.8,605.8 487,605.4 C496.2,605 506.5,601.8 517,600.5 C527.5,599.2 544.4,598.2 549.9,597.7 L549.9,597.7 C545.2,598.8 532.5,600 522,604 C511.5,608 498.1,617.3 487,621.7 C475.9,626.1 466.1,628.8 455.6,630.5 C445.2,632.2 433.7,632.8 424.3,631.7 C414.9,630.7 407.6,626.9 399.2,624.2 C390.8,621.5 382.5,617.5 374.1,615.4 C365.7,613.3 355.8,612.1 349,611.6 C342.2,611.1 338.7,612.5 333.5,612.5 C328.3,612.5 324.8,611.1 318,611.6 C311.2,612.1 301.3,613.3 292.9,615.4 C284.5,617.5 276.2,621.5 267.8,624.2 C259.4,626.9 252.1,630.7 242.7,631.7 C233.3,632.8 221.8,632.2 211.4,630.5 C201,628.8 191.1,626.1 180,621.7 C168.9,617.3 155.5,608 145,604 C134.5,600 121.8,598.8 117.1,597.7 Z" fill="#ee8078" fill-opacity="0.92"/>
<path d="M230,592.8 C234.2,589.7 246.7,580.7 255,574 C263.3,567.3 271.6,559.8 280,552.7 C288.4,545.6 296.6,536.6 305.5,531.3 C314.4,526 324.2,520.7 333.5,520.7 C342.8,520.7 352.6,526 361.5,531.3 C370.4,536.6 378.6,545.6 387,552.7 C395.4,559.8 403.7,567.3 412,574 C420.3,580.7 432.8,589.7 437,592.8 L455.6,630.5 C450.4,630.7 433.7,632.8 424.3,631.7 C414.9,630.7 407.6,626.9 399.2,624.2 C390.8,621.5 382.5,617.5 374.1,615.4 C365.7,613.3 355.8,612.1 349,611.6 C342.2,611.1 338.7,612.5 333.5,612.5 C328.3,612.5 324.8,611.1 318,611.6 C311.2,612.1 301.3,613.3 292.9,615.4 C284.5,617.5 276.2,621.5 267.8,624.2 C259.4,626.9 252.1,630.7 242.7,631.7 C233.3,632.8 216.6,630.7 211.4,630.5 Z" fill="#c03a58"/>
<path d="M117.1,597.7 C122.6,598.2 139.5,599.2 150,600.5 C160.5,601.8 170.8,605 180,605.4 C189.2,605.8 196.7,605.1 205,603 C213.3,600.9 221.7,597.6 230,592.8 C238.3,588 246.7,580.7 255,574 C263.3,567.3 271.6,559.8 280,552.7 C288.4,545.6 296.6,536.6 305.5,531.3 C314.4,526 324.2,520.7 333.5,520.7 C342.8,520.7 352.6,526 361.5,531.3 C370.4,536.6 378.6,545.6 387,552.7 C395.4,559.8 403.7,567.3 412,574 C420.3,580.7 428.7,588 437,592.8 C445.3,597.6 453.7,600.9 462,603 C470.3,605.1 477.8,605.8 487,605.4 C496.2,605 506.5,601.8 517,600.5 C527.5,599.2 544.4,598.2 549.9,597.7" fill="none" stroke="#c8404e" stroke-width="1.5"/>
<path d="M117.1,597.7 C124.2,598.7 144.3,600.1 160,603.5 C175.7,606.9 195.5,616.6 211.4,618 C227.3,619.4 241.7,614.3 255.3,611.6 C268.9,608.9 280,605.7 293,601.6 C306,597.5 320,587 333.5,587 C347,587 361,597.5 374,601.6 C387,605.7 398.1,608.9 411.7,611.6 C425.3,614.3 439.7,619.4 455.6,618 C471.5,616.6 491.3,606.9 507,603.5 C522.7,600.1 542.8,598.7 549.9,597.7" fill="none" stroke="#c4253a" stroke-width="2"/>
<path d="M117.1,676.5 C123.3,677.5 142.2,680.6 154.3,682.7 C166.4,684.8 179.4,687.1 189.7,689 C200,690.9 206,693.8 216.3,694.2 C226.6,694.6 239.9,693.8 251.7,691.6 C263.5,689.4 277.3,684.3 287,681 C296.7,677.7 302.2,674.2 310,672 C317.8,669.8 325.7,668 333.5,668 C341.3,668 349.2,669.8 357,672 C364.8,674.2 370.3,677.7 380,681 C389.7,684.3 403.5,689.4 415.3,691.6 C427.1,693.8 440.4,694.6 450.7,694.2 C461,693.8 467,690.9 477.3,689 C487.6,687.1 500.6,684.8 512.7,682.7 C524.8,680.6 543.7,677.5 549.9,676.5 L549.9,676.5 C545.2,677.2 532.2,677.9 521.6,681 C511,684.1 498,690.7 486.2,695 C474.4,699.3 464,701.6 450.7,706.6 C437.4,711.6 419.8,718.9 406.5,725.2 C393.2,731.6 383.2,739.6 371,744.7 C358.8,749.8 346,755.8 333.5,755.8 C321,755.8 308.2,749.8 296,744.7 C283.8,739.6 273.8,731.6 260.5,725.2 C247.2,718.9 229.6,711.6 216.3,706.6 C203,701.6 192.6,699.3 180.8,695 C169,690.7 156,684.1 145.4,681 C134.8,677.9 121.8,677.2 117.1,676.5 Z" fill="#ee8078" fill-opacity="0.92"/>
<path d="M216.3,693.4 C222.2,693.1 239.9,693.7 251.7,691.6 C263.5,689.5 277.3,684.3 287,681 C296.7,677.7 302.2,674.2 310,672 C317.8,669.8 325.7,668 333.5,668 C341.3,668 349.2,669.8 357,672 C364.8,674.2 370.3,677.7 380,681 C389.7,684.3 403.5,689.5 415.3,691.6 C427.1,693.7 444.8,693.1 450.7,693.4 L450.7,700 C449.2,700.7 449.4,699.8 442,704 C434.6,708.2 418.3,718.4 406.5,725.2 C394.7,732 383.2,739.6 371,744.7 C358.8,749.8 346,755.8 333.5,755.8 C321,755.8 308.2,749.8 296,744.7 C283.8,739.6 272.3,732 260.5,725.2 C248.7,718.4 232.4,708.2 225,704 C217.6,699.8 217.8,700.7 216.3,700 Z" fill="#c03a58"/>
<path d="M117.1,643.8 C121.8,643.6 132.4,645.3 145.4,642.9 C158.4,640.5 180.2,633.2 195,629.6 C209.8,626 221.5,623.3 234,621 C246.5,618.7 259,617.3 270,616 C281,614.7 289.4,613.6 300,613 C310.6,612.4 322.3,612.5 333.5,612.5 C344.7,612.5 356.4,612.4 367,613 C377.6,613.6 386,614.7 397,616 C408,617.3 420.5,618.7 433,621 C445.5,623.3 457.2,626 472,629.6 C486.8,633.2 508.6,640.5 521.6,642.9 C534.6,645.3 545.2,643.6 549.9,643.8 L549.9,643.8 C542.8,647.2 519.1,657.6 507,664 C494.9,670.4 486.4,677.1 477,682 C467.6,686.9 461,691.8 450.7,693.4 C440.4,695 427.1,693.7 415.3,691.6 C403.5,689.5 389.7,684.3 380,681 C370.3,677.7 364.8,674.2 357,672 C349.2,669.8 341.3,668 333.5,668 C325.7,668 317.8,669.8 310,672 C302.2,674.2 296.7,677.7 287,681 C277.3,684.3 263.5,689.5 251.7,691.6 C239.9,693.7 226.6,695 216.3,693.4 C206,691.8 199.4,686.9 190,682 C180.6,677.1 172.2,670.4 160,664 C147.8,657.6 124.2,647.2 117.1,643.8 Z" fill="#a98bc4"/>
<path d="M117.1,597.7 C121.8,598.8 134.5,600 145,604 C155.5,608 168.9,617.3 180,621.7 C191.1,626.1 201,628.8 211.4,630.5 C221.8,632.2 233.3,632.8 242.7,631.7 C252.1,630.7 259.4,626.9 267.8,624.2 C276.2,621.5 284.5,617.5 292.9,615.4 C301.3,613.3 311.2,612.1 318,611.6 C324.8,611.1 328.3,612.5 333.5,612.5 C338.7,612.5 342.2,611.1 349,611.6 C355.8,612.1 365.7,613.3 374.1,615.4 C382.5,617.5 390.8,621.5 399.2,624.2 C407.6,626.9 414.9,630.7 424.3,631.7 C433.7,632.8 445.2,632.2 455.6,630.5 C466.1,628.8 475.9,626.1 487,621.7 C498.1,617.3 511.5,608 522,604 C532.5,600 545.2,598.8 549.9,597.7" fill="none" stroke="#f01818" stroke-width="2.6"/>
<path d="M117.1,643.8 C125.9,645.2 150.5,649.8 170,652 C189.5,654.2 214,658.7 234,657 C254,655.3 273.4,646.2 290,642 C306.6,637.8 319,632 333.5,632 C348,632 360.4,637.8 377,642 C393.6,646.2 413,655.3 433,657 C453,658.7 477.5,654.2 497,652 C516.5,649.8 541.1,645.2 549.9,643.8" fill="none" stroke="#6c4a90" stroke-width="1.6"/>
<path d="M117.1,643.8 C121.8,644.5 134.8,645 145.4,648.2 C156,651.4 167.5,658.6 180.8,663.2 C194.1,667.8 210.2,674.6 225,675.6 C239.8,676.6 256.1,672 269.4,669.4 C282.7,666.8 294.1,661.4 304.8,659.8 C315.5,658.2 324.3,659.8 333.5,660 C342.7,660.2 348.9,659.7 360,661 C371.1,662.3 388.5,665.6 400,668 C411.5,670.4 418.8,675.3 428.8,675.3 C438.8,675.3 448.1,671.2 460,668 C471.9,664.8 485.7,659.9 500,656 C514.3,652.1 538.1,646.4 545.7,644.5" fill="none" stroke="#150a20" stroke-width="2.4"/>
<path d="M216.3,693.4 C222.2,693.1 239.9,693.7 251.7,691.6 C263.5,689.5 277.3,684.3 287,681 C296.7,677.7 302.2,674.2 310,672 C317.8,669.8 325.7,668 333.5,668 C341.3,668 349.2,669.8 357,672 C364.8,674.2 370.3,677.7 380,681 C389.7,684.3 403.5,689.5 415.3,691.6 C427.1,693.7 444.8,693.1 450.7,693.4" fill="none" stroke="#9a2050" stroke-width="1.6"/>
<path d="M117.1,676.5 C123.3,677.5 142.2,680.6 154.3,682.7 C166.4,684.8 179.4,687.1 189.7,689 C200,690.9 211.9,693.3 216.3,694.2" fill="none" stroke="#c4253a" stroke-width="1.6"/>
<path d="M450.7,694.2 C455.1,693.3 467,690.9 477.3,689 C487.6,687.1 500.6,684.8 512.7,682.7 C524.8,680.6 543.7,677.5 549.9,676.5" fill="none" stroke="#c4253a" stroke-width="1.6"/>
<path d="M117.1,676.5 C121.8,677.2 134.8,677.9 145.4,681 C156,684.1 169,690.7 180.8,695 C192.6,699.3 206,704.5 216.3,706.6 C226.6,708.7 231,709.1 242.8,707.5 C254.6,705.9 273.7,699.7 287,696.9 C300.3,694.1 314.8,691.8 322.5,690.7 C330.2,689.6 329.8,690.5 333.5,690.5 C337.2,690.5 336.8,689.6 344.5,690.7 C352.2,691.8 366.7,694.1 380,696.9 C393.3,699.7 412.4,705.9 424.2,707.5 C436,709.1 440.4,708.7 450.7,706.6 C461,704.5 474.4,699.3 486.2,695 C498,690.7 511,684.1 521.6,681 C532.2,677.9 545.2,677.2 549.9,676.5" fill="none" stroke="#f01818" stroke-width="2.6"/>
<path d="M335,749 L337,754.3 L342.6,754.5 L338.2,758 L339.7,763.5 L335,760.4 L330.3,763.5 L331.8,758 L327.4,754.5 L333,754.3 Z" fill="#ff1a1a"/>
<path d="M437.7,666 L439.7,671.3 L445.3,671.5 L440.9,675 L442.4,680.5 L437.7,677.4 L433,680.5 L434.5,675 L430.1,671.5 L435.7,671.3 Z" fill="#ff1a1a"/>
<path d="M551,636.5 L553,641.8 L558.6,642 L554.2,645.5 L555.7,651 L551,647.9 L546.3,651 L547.8,645.5 L543.4,642 L549,641.8 Z" fill="#ff1a1a"/>
<text x="343.5" y="781" font-family='"Liberation Serif", serif' font-size="27">&#915;</text>
<rect x="345.5" y="757" width="12" height="1.5" fill="#000"/>
<text x="445.5" y="737" font-family='"Liberation Serif", serif' font-size="27">X</text>
<rect x="448.5" y="712.5" width="13" height="1.5" fill="#000"/>
<text x="561" y="675" font-family='"Liberation Serif", serif' font-size="27">M</text>
<rect x="567" y="651" width="13" height="1.5" fill="#000"/>
<text x="434" y="553.5" font-family='"Liberation Serif", serif' font-size="28" textLength="104.6" lengthAdjust="spacingAndGlyphs">two-fold</text>
<line x1="432.4" y1="661.2" x2="471" y2="586" stroke="#000" stroke-width="1.8"/>
<path d="M474.9,576.2 L477,596 L462,588 Z" fill="#000"/>
<text x="97.5" y="526.2" text-anchor="end" font-family='"Liberation Serif", serif' font-size="30">0.90</text>
<text x="97.5" y="650.2" text-anchor="end" font-family='"Liberation Serif", serif' font-size="30">0.70</text>
<text x="97.5" y="774.2" text-anchor="end" font-family='"Liberation Serif", serif' font-size="30">0.50</text>
<text transform="translate(30,738) rotate(-90)" font-family='"Liberation Serif", serif' font-size="29" textLength="194" lengthAdjust="spacingAndGlyphs">Frequency (<tspan font-style="italic">c</tspan>/<tspan font-style="italic">a</tspan>)</text>
<text x="109" y="859" text-anchor="middle" font-family='"Liberation Serif", serif' font-size="28">-1</text>
<text x="220" y="866.5" text-anchor="middle" font-family='"Liberation Serif", serif' font-size="28">0</text>
<text x="323.5" y="872" text-anchor="middle" font-family='"Liberation Serif", serif' font-size="28">1</text>
<text x="437.7" y="864.5" text-anchor="middle" font-family='"Liberation Serif", serif' font-size="28">0</text>
<text x="543" y="859" text-anchor="middle" font-family='"Liberation Serif", serif' font-size="28">-1</text>
<text x="140.3" y="906" font-family='"Liberation Serif", serif' font-size="30" textLength="128.4" lengthAdjust="spacingAndGlyphs"><tspan font-style="italic">k</tspan><tspan font-style="italic" font-size="18" dy="5">y</tspan><tspan dy="-5">(&#8730;2<tspan font-style="italic">&#960;</tspan>/<tspan font-style="italic">a</tspan>)</tspan></text>
<rect x="198" y="881" width="20.5" height="1.6" fill="#000"/>
<text x="386.8" y="906" font-family='"Liberation Serif", serif' font-size="30" textLength="128.4" lengthAdjust="spacingAndGlyphs"><tspan font-style="italic">k</tspan><tspan font-style="italic" font-size="18" dy="5">x</tspan><tspan dy="-5">(&#8730;2<tspan font-style="italic">&#960;</tspan>/<tspan font-style="italic">a</tspan>)</tspan></text>
<rect x="444.5" y="881" width="20.5" height="1.6" fill="#000"/>
<text x="14.3" y="472.6" font-family='"Liberation Sans", sans-serif' font-weight="bold" font-size="43">C</text>
<rect x="1054.5" y="499.5" width="128" height="325" fill="#c8c8c8"/>
<clipPath id="clipD"><rect x="790.8" y="498.3" width="531.2" height="326.2"/></clipPath>
<g clip-path="url(#clipD)" fill="none" stroke-linejoin="round">
<path d="M790.5,683.7 L795.5,692.5 L803.2,673.7 L809.8,658.2 L815.4,651.6 L822,662.6 L828.7,663.7 L835.3,659.3 L842,672.6 L848.6,714.7 L855.2,699.2 L861.9,672.6 L868.5,681.5 L875.2,669.3 L881.8,705.8 L888.4,685.9 L894,652.7 L902.8,623.9 L909.5,568.6 L915.7,506.6 L922.8,546.4 L934.9,515.4 L941.6,505.5 L948.2,515.4 L955.5,501.7 L962.6,511 L968.1,510.6 L974.8,503.9 L981.4,509.9 L988.1,509.9 L994.7,506.1 L1001.4,509.2 L1008,510.6 L1014.6,507 L1022.4,509.2 L1029,512.1 L1035.7,508.3 L1042.3,509.9 L1048.9,513.2 L1056.6,508.3 L1062.1,509.9 L1068.8,515 L1075.4,510.6 L1086.5,519.4 L1095.3,517.6 L1107.5,554.2 L1115.3,642.7 L1121.9,506.6 L1128.6,508.8 L1135.2,522.1 L1141.8,529.1 L1148.5,521 L1155.1,529.8 L1166.2,529.8 L1175,537.6 L1187.2,536.5 L1197.2,543.1 L1203.8,544.6 L1214.9,544.2 L1228.2,548.2 L1241.5,547.5 L1254.7,548.6 L1261.4,539.8 L1268,557.5 L1281.3,560.8 L1288,560.8 L1301.2,556.4 L1315.6,568.6 L1321.2,564.1" stroke="#7040a8" stroke-width="2.4"/>
<path d="M788.8,689.2 L795.5,693.6 L803.2,674.8 L809.8,659.3 L815.4,652.7 L822,666 L828.7,666 L835.3,660.4 L842,672.6 L848.6,718 L855.2,701.4 L861.9,661.5 L868.5,672.6 L875.2,652.7 L882.9,719.1 L888.4,662.6 L894,652.7 L902.8,641.6 L913.9,579.6 L922.8,528.7 L928.3,566.3 L934.9,512.1 L941.6,526.5 L948.2,515.4 L954.9,516.5 L961.5,522.1 L968.1,512.8 L974.8,520.3 L981.4,517.2 L988.1,515 L994.7,520.3 L1001.4,513.2 L1008,523.2 L1014.6,515 L1022.4,524.3 L1029,515.4 L1035.7,513.2 L1042.3,512.8 L1047.8,522.1 L1054.3,826" stroke="#f01010" stroke-width="2.4"/>
<path d="M1183.5,826 L1187.9,556.4 L1193.9,556.4 L1201.6,565.2 L1208.3,553.1 L1214.9,550.4 L1221.5,550.8 L1228.2,552 L1234.8,550.4 L1241.5,552 L1248.1,553.5 L1254.7,550.8 L1261.4,549.7 L1268,557.5 L1274.7,556.4 L1282.4,552 L1287.9,553.1 L1294.6,558.6 L1301.2,565.2 L1307.9,556.4 L1314.5,568.6 L1321.2,588.5" stroke="#f01010" stroke-width="2.4"/>
</g>
<rect x="790.8" y="498.3" width="531.2" height="326.2" fill="none" stroke="#111" stroke-width="1.6"/>
<text x="778" y="507.8" text-anchor="end" font-family='"Liberation Serif", serif' font-size="28">0</text>
<text x="778" y="616.5" text-anchor="end" font-family='"Liberation Serif", serif' font-size="28">-30</text>
<text x="778" y="725.5" text-anchor="end" font-family='"Liberation Serif", serif' font-size="28">-60</text>
<text x="778" y="834" text-anchor="end" font-family='"Liberation Serif", serif' font-size="28">-90</text>
<text x="787.8" y="868" text-anchor="middle" font-family='"Liberation Serif", serif' font-size="30">0.40</text>
<text x="921.6" y="868" text-anchor="middle" font-family='"Liberation Serif", serif' font-size="30">0.52</text>
<text x="1054.4" y="868" text-anchor="middle" font-family='"Liberation Serif", serif' font-size="30">0.64</text>
<text x="1187.2" y="868" text-anchor="middle" font-family='"Liberation Serif", serif' font-size="30">0.76</text>
<text x="1320" y="868" text-anchor="middle" font-family='"Liberation Serif", serif' font-size="30">0.88</text>
<text x="955.4" y="904" font-family='"Liberation Serif", serif' font-size="29" textLength="194" lengthAdjust="spacingAndGlyphs">Frequency&#160;&#160;(<tspan font-style="italic">c</tspan>/<tspan font-style="italic">a</tspan>)</text>
<text transform="translate(724,802) rotate(-90)" font-family='"Liberation Serif", serif' font-size="29" textLength="274" lengthAdjust="spacingAndGlyphs">&#915;M Transmission&#160;&#160;(dB)</text>
<rect x="697" y="783" width="2" height="17" fill="#000"/>
<rect x="697" y="760" width="2" height="21" fill="#000"/>
<rect x="926.6" y="761" width="22.4" height="3.6" fill="#f01010"/>
<rect x="926.6" y="801" width="22.4" height="3.6" fill="#7040a8"/>
<text x="955.5" y="770" font-family='"Liberation Serif", serif' font-size="27" textLength="67" lengthAdjust="spacingAndGlyphs">mirror</text>
<text x="959" y="811" font-family='"Liberation Serif", serif' font-size="26" textLength="51" lengthAdjust="spacingAndGlyphs">glide</text>
<text x="1093.5" y="786" font-family='"Liberation Serif", serif' font-size="32" textLength="49" lengthAdjust="spacingAndGlyphs">gap</text>
<text x="679" y="473.2" font-family='"Liberation Sans", sans-serif' font-weight="bold" font-size="43">D</text>
<defs><radialGradient id="gB"><stop offset="0" stop-color="#0000e8"/><stop offset="0.55" stop-color="#2a2aff" stop-opacity="0.8"/><stop offset="1" stop-color="#8080ff" stop-opacity="0"/></radialGradient><radialGradient id="gR"><stop offset="0" stop-color="#ff4040"/><stop offset="0.6" stop-color="#ff7070" stop-opacity="0.7"/><stop offset="1" stop-color="#ffa0a0" stop-opacity="0"/></radialGradient><radialGradient id="gLB"><stop offset="0" stop-color="#7878ff"/><stop offset="1" stop-color="#a0a0ff" stop-opacity="0"/></radialGradient><radialGradient id="gDK"><stop offset="0" stop-color="#000030"/><stop offset="0.5" stop-color="#000090"/><stop offset="1" stop-color="#0000ff" stop-opacity="0"/></radialGradient><linearGradient id="cbar" x1="0" y1="0" x2="0" y2="1"><stop offset="0" stop-color="#9a0000"/><stop offset="0.22" stop-color="#ff0000"/><stop offset="0.52" stop-color="#c8c8c8"/><stop offset="0.75" stop-color="#0000ff"/><stop offset="1" stop-color="#00008a"/></linearGradient></defs>
<path d="M64,1066.5 L266,1221 L272,1263.5 L65.5,1105.5 Z" fill="#b8b8b8" stroke="#6a6a6a" stroke-width="1"/>
<path d="M266,1221 L581,1094 L578,1139 L272,1263.5 Z" fill="#b4b4b4" stroke="#6a6a6a" stroke-width="1"/>
<path d="M64.1,1099.1 L66.5,1101 L66.8,1107.6 L64.3,1105.7 Z" fill="#fff"/>
<path d="M65.3,1069.8 L74.8,1077 L75.8,1099 L66.1,1091.6 Z" fill="#d8d8d8" stroke="#5a5a5a" stroke-width="0.8"/>
<path d="M67.6,1076.1 L72.9,1080.1 L73.4,1092.6 L68.1,1088.6 Z" fill="#a4a4a4" stroke="#666" stroke-width="0.6"/>
<path d="M67.4,1094.9 L74.7,1100.4 L75.1,1109.8 L67.8,1104.2 Z" fill="#dedede" stroke="#5a5a5a" stroke-width="0.7"/>
<path d="M76.2,1108.4 L78.6,1110.2 L78.9,1116.9 L76.5,1115 Z" fill="#fff"/>
<path d="M77.2,1078.9 L86.7,1086.1 L87.8,1108.2 L78.2,1100.8 Z" fill="#d8d8d8" stroke="#5a5a5a" stroke-width="0.8"/>
<path d="M79.5,1085.2 L84.8,1089.2 L85.4,1101.8 L80.1,1097.8 Z" fill="#a4a4a4" stroke="#666" stroke-width="0.6"/>
<path d="M79.5,1104.1 L86.7,1109.6 L87.2,1119.1 L79.9,1113.5 Z" fill="#dedede" stroke="#5a5a5a" stroke-width="0.7"/>
<path d="M88.3,1117.6 L90.7,1119.5 L91.1,1126.2 L88.6,1124.3 Z" fill="#fff"/>
<path d="M89.1,1088 L98.6,1095.2 L99.9,1117.4 L90.2,1110 Z" fill="#d8d8d8" stroke="#5a5a5a" stroke-width="0.8"/>
<path d="M91.5,1094.3 L96.7,1098.3 L97.4,1111 L92.1,1107 Z" fill="#a4a4a4" stroke="#666" stroke-width="0.6"/>
<path d="M91.6,1113.3 L98.8,1118.9 L99.3,1128.4 L92.1,1122.8 Z" fill="#dedede" stroke="#5a5a5a" stroke-width="0.7"/>
<path d="M100.4,1126.9 L102.8,1128.8 L103.2,1135.5 L100.8,1133.6 Z" fill="#fff"/>
<path d="M101,1097.1 L110.5,1104.3 L111.9,1126.6 L102.3,1119.2 Z" fill="#d8d8d8" stroke="#5a5a5a" stroke-width="0.8"/>
<path d="M103.4,1103.5 L108.6,1107.5 L109.4,1120.2 L104.2,1116.1 Z" fill="#a4a4a4" stroke="#666" stroke-width="0.6"/>
<path d="M103.6,1122.6 L110.9,1128.1 L111.5,1137.6 L104.2,1132.1 Z" fill="#dedede" stroke="#5a5a5a" stroke-width="0.7"/>
<path d="M112.5,1136.2 L114.9,1138 L115.4,1144.8 L112.9,1142.9 Z" fill="#fff"/>
<path d="M112.9,1106.2 L122.4,1113.4 L124,1135.8 L114.3,1128.5 Z" fill="#d8d8d8" stroke="#5a5a5a" stroke-width="0.8"/>
<path d="M115.3,1112.6 L120.6,1116.6 L121.5,1129.4 L116.2,1125.3 Z" fill="#a4a4a4" stroke="#666" stroke-width="0.6"/>
<path d="M115.7,1131.8 L122.9,1137.3 L123.6,1146.9 L116.3,1141.3 Z" fill="#dedede" stroke="#5a5a5a" stroke-width="0.7"/>
<path d="M124.6,1145.4 L127.1,1147.3 L127.5,1154.1 L125.1,1152.2 Z" fill="#fff"/>
<path d="M124.8,1115.3 L134.3,1122.5 L136,1145.1 L126.4,1137.7 Z" fill="#d8d8d8" stroke="#5a5a5a" stroke-width="0.8"/>
<path d="M127.3,1121.7 L132.5,1125.7 L133.5,1138.6 L128.2,1134.5 Z" fill="#a4a4a4" stroke="#666" stroke-width="0.6"/>
<path d="M127.7,1141 L135,1146.5 L135.7,1156.2 L128.4,1150.6 Z" fill="#dedede" stroke="#5a5a5a" stroke-width="0.7"/>
<path d="M136.7,1154.7 L139.2,1156.6 L139.7,1163.4 L137.3,1161.5 Z" fill="#fff"/>
<path d="M136.7,1124.4 L146.2,1131.6 L148.1,1154.3 L138.4,1146.9 Z" fill="#d8d8d8" stroke="#5a5a5a" stroke-width="0.8"/>
<path d="M139.2,1130.8 L144.4,1134.8 L145.5,1147.8 L140.2,1143.7 Z" fill="#a4a4a4" stroke="#666" stroke-width="0.6"/>
<path d="M139.8,1150.2 L147,1155.8 L147.8,1165.5 L140.6,1159.9 Z" fill="#dedede" stroke="#5a5a5a" stroke-width="0.7"/>
<path d="M148.8,1164 L151.3,1165.8 L151.8,1172.7 L149.4,1170.8 Z" fill="#fff"/>
<path d="M148.6,1133.5 L158.1,1140.7 L160.1,1163.5 L150.5,1156.1 Z" fill="#d8d8d8" stroke="#5a5a5a" stroke-width="0.8"/>
<path d="M151.1,1140 L156.4,1144 L157.5,1157 L152.2,1152.9 Z" fill="#a4a4a4" stroke="#666" stroke-width="0.6"/>
<path d="M151.9,1159.5 L159.1,1165 L160,1174.7 L152.7,1169.2 Z" fill="#dedede" stroke="#5a5a5a" stroke-width="0.7"/>
<path d="M161,1173.2 L163.4,1175.1 L164,1182 L161.6,1180.1 Z" fill="#fff"/>
<path d="M160.5,1142.6 L170,1149.8 L172.1,1172.7 L162.5,1165.3 Z" fill="#d8d8d8" stroke="#5a5a5a" stroke-width="0.8"/>
<path d="M163.1,1149.1 L168.3,1153.1 L169.5,1166.1 L164.2,1162.1 Z" fill="#a4a4a4" stroke="#666" stroke-width="0.6"/>
<path d="M163.9,1168.7 L171.2,1174.2 L172.1,1184 L164.8,1178.5 Z" fill="#dedede" stroke="#5a5a5a" stroke-width="0.7"/>
<path d="M173.1,1182.5 L175.5,1184.4 L176.2,1191.3 L173.7,1189.4 Z" fill="#fff"/>
<path d="M172.4,1151.7 L181.9,1158.9 L184.2,1181.9 L174.6,1174.5 Z" fill="#d8d8d8" stroke="#5a5a5a" stroke-width="0.8"/>
<path d="M175,1158.2 L180.2,1162.2 L181.5,1175.3 L176.2,1171.3 Z" fill="#a4a4a4" stroke="#666" stroke-width="0.6"/>
<path d="M176,1177.9 L183.2,1183.5 L184.2,1193.3 L176.9,1187.7 Z" fill="#dedede" stroke="#5a5a5a" stroke-width="0.7"/>
<path d="M185.2,1191.8 L187.6,1193.6 L188.3,1200.6 L185.9,1198.7 Z" fill="#fff"/>
<path d="M184.3,1160.8 L193.8,1168 L196.2,1191.1 L186.6,1183.8 Z" fill="#d8d8d8" stroke="#5a5a5a" stroke-width="0.8"/>
<path d="M186.9,1167.3 L192.2,1171.3 L193.5,1184.5 L188.3,1180.5 Z" fill="#a4a4a4" stroke="#666" stroke-width="0.6"/>
<path d="M188.1,1187.1 L195.3,1192.7 L196.3,1202.6 L189.1,1197 Z" fill="#dedede" stroke="#5a5a5a" stroke-width="0.7"/>
<path d="M197.3,1201 L199.7,1202.9 L200.5,1209.9 L198,1208 Z" fill="#fff"/>
<path d="M196.2,1169.9 L205.7,1177.1 L208.3,1200.3 L198.6,1193 Z" fill="#d8d8d8" stroke="#5a5a5a" stroke-width="0.8"/>
<path d="M198.8,1176.5 L204.1,1180.5 L205.6,1193.7 L200.3,1189.7 Z" fill="#a4a4a4" stroke="#666" stroke-width="0.6"/>
<path d="M200.1,1196.4 L207.4,1201.9 L208.5,1211.9 L201.2,1206.3 Z" fill="#dedede" stroke="#5a5a5a" stroke-width="0.7"/>
<path d="M209.4,1210.3 L211.8,1212.2 L212.6,1219.2 L210.2,1217.3 Z" fill="#fff"/>
<path d="M208.1,1179 L217.6,1186.2 L220.3,1209.6 L210.7,1202.2 Z" fill="#d8d8d8" stroke="#5a5a5a" stroke-width="0.8"/>
<path d="M210.8,1185.6 L216,1189.6 L217.6,1202.9 L212.3,1198.9 Z" fill="#a4a4a4" stroke="#666" stroke-width="0.6"/>
<path d="M212.2,1205.6 L219.4,1211.1 L220.6,1221.1 L213.3,1215.6 Z" fill="#dedede" stroke="#5a5a5a" stroke-width="0.7"/>
<path d="M221.5,1219.6 L223.9,1221.4 L224.8,1228.5 L222.3,1226.6 Z" fill="#fff"/>
<path d="M220,1188.1 L229.5,1195.3 L232.4,1218.8 L222.7,1211.4 Z" fill="#d8d8d8" stroke="#5a5a5a" stroke-width="0.8"/>
<path d="M222.7,1194.7 L227.9,1198.7 L229.6,1212.1 L224.3,1208.1 Z" fill="#a4a4a4" stroke="#666" stroke-width="0.6"/>
<path d="M224.2,1214.8 L231.5,1220.4 L232.7,1230.4 L225.4,1224.8 Z" fill="#dedede" stroke="#5a5a5a" stroke-width="0.7"/>
<path d="M233.6,1228.8 L236,1230.7 L236.9,1237.8 L234.5,1235.9 Z" fill="#fff"/>
<path d="M231.9,1197.2 L241.4,1204.4 L244.4,1228 L234.8,1220.6 Z" fill="#d8d8d8" stroke="#5a5a5a" stroke-width="0.8"/>
<path d="M234.6,1203.8 L239.9,1207.8 L241.6,1221.3 L236.3,1217.2 Z" fill="#a4a4a4" stroke="#666" stroke-width="0.6"/>
<path d="M236.3,1224.1 L243.5,1229.6 L244.8,1239.7 L237.6,1234.1 Z" fill="#dedede" stroke="#5a5a5a" stroke-width="0.7"/>
<path d="M245.7,1238.1 L248.2,1239.9 L249.1,1247.1 L246.7,1245.2 Z" fill="#fff"/>
<path d="M243.8,1206.3 L253.3,1213.5 L256.5,1237.2 L246.8,1229.8 Z" fill="#d8d8d8" stroke="#5a5a5a" stroke-width="0.8"/>
<path d="M246.6,1213 L251.8,1217 L253.6,1230.5 L248.3,1226.4 Z" fill="#a4a4a4" stroke="#666" stroke-width="0.6"/>
<path d="M248.4,1233.3 L255.6,1238.8 L257,1249 L249.7,1243.4 Z" fill="#dedede" stroke="#5a5a5a" stroke-width="0.7"/>
<path d="M257.8,1247.4 L260.3,1249.2 L261.2,1256.4 L258.8,1254.5 Z" fill="#fff"/>
<path d="M255.7,1215.4 L265.2,1222.6 L268.5,1246.4 L258.9,1239.1 Z" fill="#d8d8d8" stroke="#5a5a5a" stroke-width="0.8"/>
<path d="M258.5,1222.1 L263.7,1226.1 L265.6,1239.7 L260.3,1235.6 Z" fill="#a4a4a4" stroke="#666" stroke-width="0.6"/>
<path d="M260.4,1242.5 L267.7,1248.1 L269.1,1258.2 L261.8,1252.7 Z" fill="#dedede" stroke="#5a5a5a" stroke-width="0.7"/>
<path d="M269.4,1258.3 L273,1256.8 L274,1264 L270.4,1265.5 Z" fill="#fff"/>
<path d="M268.2,1222.8 L283,1216.8 L286.1,1240.7 L271.5,1246.6 Z" fill="#d8d8d8" stroke="#5a5a5a" stroke-width="0.8"/>
<path d="M272.2,1226.6 L280.4,1223.3 L282.2,1236.9 L274.1,1240.2 Z" fill="#a4a4a4" stroke="#666" stroke-width="0.6"/>
<path d="M273.7,1248.4 L284.6,1244 L286,1254.2 L275.1,1258.6 Z" fill="#dedede" stroke="#5a5a5a" stroke-width="0.7"/>
<path d="M287.4,1250.9 L291,1249.5 L292,1256.7 L288.4,1258.2 Z" fill="#fff"/>
<path d="M286.7,1215.3 L301.5,1209.4 L304.3,1233.3 L289.7,1239.2 Z" fill="#d8d8d8" stroke="#5a5a5a" stroke-width="0.8"/>
<path d="M290.7,1219.1 L298.8,1215.8 L300.4,1229.5 L292.4,1232.8 Z" fill="#a4a4a4" stroke="#666" stroke-width="0.6"/>
<path d="M291.9,1241.1 L302.8,1236.6 L304,1246.9 L293.2,1251.3 Z" fill="#dedede" stroke="#5a5a5a" stroke-width="0.7"/>
<path d="M305.5,1243.6 L309.1,1242.1 L309.9,1249.4 L306.3,1250.9 Z" fill="#fff"/>
<path d="M305.2,1207.9 L320,1201.9 L322.5,1225.9 L307.9,1231.9 Z" fill="#d8d8d8" stroke="#5a5a5a" stroke-width="0.8"/>
<path d="M309.1,1211.7 L317.2,1208.4 L318.7,1222.1 L310.6,1225.4 Z" fill="#a4a4a4" stroke="#666" stroke-width="0.6"/>
<path d="M310.1,1233.7 L321,1229.3 L322,1239.6 L311.2,1244 Z" fill="#dedede" stroke="#5a5a5a" stroke-width="0.7"/>
<path d="M323.6,1236.3 L327.2,1234.8 L327.9,1242.1 L324.3,1243.5 Z" fill="#fff"/>
<path d="M323.7,1200.4 L338.5,1194.4 L340.7,1218.6 L326.1,1224.5 Z" fill="#d8d8d8" stroke="#5a5a5a" stroke-width="0.8"/>
<path d="M327.5,1204.2 L335.7,1201 L336.9,1214.7 L328.9,1218 Z" fill="#a4a4a4" stroke="#666" stroke-width="0.6"/>
<path d="M328.2,1226.3 L339.1,1221.9 L340.1,1232.2 L329.3,1236.6 Z" fill="#dedede" stroke="#5a5a5a" stroke-width="0.7"/>
<path d="M341.6,1228.9 L345.3,1227.4 L345.9,1234.8 L342.3,1236.2 Z" fill="#fff"/>
<path d="M342.2,1193 L357,1187 L358.9,1211.2 L344.3,1217.1 Z" fill="#d8d8d8" stroke="#5a5a5a" stroke-width="0.8"/>
<path d="M346,1196.8 L354.1,1193.5 L355.2,1207.3 L347.2,1210.6 Z" fill="#a4a4a4" stroke="#666" stroke-width="0.6"/>
<path d="M346.4,1218.9 L357.3,1214.5 L358.1,1224.9 L347.3,1229.3 Z" fill="#dedede" stroke="#5a5a5a" stroke-width="0.7"/>
<path d="M359.7,1221.6 L363.3,1220.1 L363.9,1227.4 L360.3,1228.9 Z" fill="#fff"/>
<path d="M360.7,1185.5 L375.5,1179.5 L377.1,1203.8 L362.5,1209.7 Z" fill="#d8d8d8" stroke="#5a5a5a" stroke-width="0.8"/>
<path d="M364.4,1189.3 L372.5,1186.1 L373.5,1199.9 L365.4,1203.2 Z" fill="#a4a4a4" stroke="#666" stroke-width="0.6"/>
<path d="M364.6,1211.6 L375.5,1207.2 L376.2,1217.6 L365.3,1222 Z" fill="#dedede" stroke="#5a5a5a" stroke-width="0.7"/>
<path d="M377.8,1214.2 L381.4,1212.8 L381.9,1220.1 L378.3,1221.6 Z" fill="#fff"/>
<path d="M379.2,1178 L394,1172.1 L395.3,1196.4 L380.7,1202.3 Z" fill="#d8d8d8" stroke="#5a5a5a" stroke-width="0.8"/>
<path d="M382.8,1181.9 L391,1178.6 L391.7,1192.5 L383.7,1195.8 Z" fill="#a4a4a4" stroke="#666" stroke-width="0.6"/>
<path d="M382.7,1204.2 L393.6,1199.8 L394.2,1210.2 L383.4,1214.6 Z" fill="#dedede" stroke="#5a5a5a" stroke-width="0.7"/>
<path d="M395.9,1206.9 L399.5,1205.4 L399.9,1212.8 L396.3,1214.3 Z" fill="#fff"/>
<path d="M397.7,1170.6 L412.5,1164.6 L413.5,1189.1 L398.9,1195 Z" fill="#d8d8d8" stroke="#5a5a5a" stroke-width="0.8"/>
<path d="M401.3,1174.5 L409.4,1171.2 L410,1185.1 L402,1188.4 Z" fill="#a4a4a4" stroke="#666" stroke-width="0.6"/>
<path d="M400.9,1196.8 L411.8,1192.4 L412.3,1202.9 L401.4,1207.3 Z" fill="#dedede" stroke="#5a5a5a" stroke-width="0.7"/>
<path d="M413.9,1199.5 L417.6,1198.1 L417.9,1205.5 L414.3,1207 Z" fill="#fff"/>
<path d="M416.2,1163.1 L431,1157.1 L431.7,1181.7 L417.1,1187.6 Z" fill="#d8d8d8" stroke="#5a5a5a" stroke-width="0.8"/>
<path d="M419.7,1167 L427.8,1163.7 L428.3,1177.7 L420.2,1181 Z" fill="#a4a4a4" stroke="#666" stroke-width="0.6"/>
<path d="M419.1,1189.5 L430,1185 L430.3,1195.5 L419.5,1200 Z" fill="#dedede" stroke="#5a5a5a" stroke-width="0.7"/>
<path d="M432,1192.2 L435.6,1190.7 L435.8,1198.2 L432.2,1199.6 Z" fill="#fff"/>
<path d="M434.7,1155.6 L449.5,1149.7 L449.9,1174.3 L435.4,1180.2 Z" fill="#d8d8d8" stroke="#5a5a5a" stroke-width="0.8"/>
<path d="M438.1,1159.6 L446.3,1156.3 L446.5,1170.4 L438.5,1173.6 Z" fill="#a4a4a4" stroke="#666" stroke-width="0.6"/>
<path d="M437.2,1182.1 L448.1,1177.7 L448.3,1188.2 L437.5,1192.6 Z" fill="#dedede" stroke="#5a5a5a" stroke-width="0.7"/>
<path d="M450.1,1184.8 L453.7,1183.4 L453.8,1190.9 L450.2,1192.3 Z" fill="#fff"/>
<path d="M453.2,1148.2 L468,1142.2 L468.1,1166.9 L453.6,1172.8 Z" fill="#d8d8d8" stroke="#5a5a5a" stroke-width="0.8"/>
<path d="M456.6,1152.1 L464.7,1148.8 L464.8,1163 L456.8,1166.2 Z" fill="#a4a4a4" stroke="#666" stroke-width="0.6"/>
<path d="M455.4,1174.7 L466.3,1170.3 L466.4,1180.9 L455.6,1185.3 Z" fill="#dedede" stroke="#5a5a5a" stroke-width="0.7"/>
<path d="M468.2,1177.5 L471.8,1176 L471.8,1183.5 L468.2,1185 Z" fill="#fff"/>
<path d="M471.7,1140.7 L486.5,1134.8 L486.3,1159.5 L471.8,1165.4 Z" fill="#d8d8d8" stroke="#5a5a5a" stroke-width="0.8"/>
<path d="M475,1144.7 L483.1,1141.4 L483.1,1155.6 L475,1158.8 Z" fill="#a4a4a4" stroke="#666" stroke-width="0.6"/>
<path d="M473.6,1167.3 L484.5,1162.9 L484.4,1173.5 L473.6,1177.9 Z" fill="#dedede" stroke="#5a5a5a" stroke-width="0.7"/>
<path d="M486.2,1170.2 L489.9,1168.7 L489.8,1176.2 L486.2,1177.7 Z" fill="#fff"/>
<path d="M490.2,1133.3 L505,1127.3 L504.5,1152.2 L490,1158.1 Z" fill="#d8d8d8" stroke="#5a5a5a" stroke-width="0.8"/>
<path d="M493.5,1137.2 L501.6,1134 L501.3,1148.2 L493.3,1151.4 Z" fill="#a4a4a4" stroke="#666" stroke-width="0.6"/>
<path d="M491.7,1160 L502.6,1155.6 L502.5,1166.2 L491.6,1170.6 Z" fill="#dedede" stroke="#5a5a5a" stroke-width="0.7"/>
<path d="M504.3,1162.8 L507.9,1161.3 L507.8,1168.9 L504.2,1170.4 Z" fill="#fff"/>
<path d="M508.7,1125.8 L523.5,1119.8 L522.7,1144.8 L508.2,1150.7 Z" fill="#d8d8d8" stroke="#5a5a5a" stroke-width="0.8"/>
<path d="M511.9,1129.8 L520,1126.5 L519.6,1140.8 L511.6,1144 Z" fill="#a4a4a4" stroke="#666" stroke-width="0.6"/>
<path d="M509.9,1152.6 L520.8,1148.2 L520.5,1158.9 L509.7,1163.3 Z" fill="#dedede" stroke="#5a5a5a" stroke-width="0.7"/>
<path d="M522.4,1155.5 L526,1154 L525.8,1161.6 L522.2,1163 Z" fill="#fff"/>
<path d="M527.2,1118.3 L542,1112.4 L540.9,1137.4 L526.4,1143.3 Z" fill="#d8d8d8" stroke="#5a5a5a" stroke-width="0.8"/>
<path d="M530.3,1122.3 L538.4,1119.1 L537.9,1133.4 L529.8,1136.6 Z" fill="#a4a4a4" stroke="#666" stroke-width="0.6"/>
<path d="M528.1,1145.2 L539,1140.8 L538.5,1151.5 L527.7,1155.9 Z" fill="#dedede" stroke="#5a5a5a" stroke-width="0.7"/>
<path d="M540.5,1148.1 L544.1,1146.7 L543.7,1154.3 L540.1,1155.7 Z" fill="#fff"/>
<path d="M545.7,1110.9 L560.5,1104.9 L559.1,1130 L544.6,1135.9 Z" fill="#d8d8d8" stroke="#5a5a5a" stroke-width="0.8"/>
<path d="M548.8,1114.9 L556.9,1111.6 L556.1,1126 L548.1,1129.2 Z" fill="#a4a4a4" stroke="#666" stroke-width="0.6"/>
<path d="M546.3,1137.9 L557.2,1133.4 L556.6,1144.2 L545.8,1148.6 Z" fill="#dedede" stroke="#5a5a5a" stroke-width="0.7"/>
<path d="M558.5,1140.8 L562.2,1139.3 L561.7,1146.9 L558.1,1148.4 Z" fill="#fff"/>
<path d="M564.2,1103.4 L579,1097.4 L577.3,1122.6 L562.8,1128.5 Z" fill="#d8d8d8" stroke="#5a5a5a" stroke-width="0.8"/>
<path d="M567.2,1107.5 L575.3,1104.2 L574.4,1118.6 L566.3,1121.8 Z" fill="#a4a4a4" stroke="#666" stroke-width="0.6"/>
<path d="M564.4,1130.5 L575.3,1126.1 L574.6,1136.9 L563.8,1141.3 Z" fill="#dedede" stroke="#5a5a5a" stroke-width="0.7"/>
<path d="M64,1066.5 L361,962 L581,1094 L266,1221 Z" fill="#d2d2d2" stroke="#8a8a8a" stroke-width="1"/>
<ellipse cx="72.7" cy="1062.4" rx="6" ry="3.6" fill="#d2d2d2" stroke="#8a8a8a" stroke-width="0.8"/>
<ellipse cx="368.3" cy="964.9" rx="5.5" ry="3.6" fill="#d2d2d2" stroke="#8a8a8a" stroke-width="0.8"/>
<ellipse cx="90.2" cy="1056.3" rx="6" ry="3.6" fill="#d2d2d2" stroke="#8a8a8a" stroke-width="0.8"/>
<ellipse cx="381.2" cy="972.6" rx="5.5" ry="3.6" fill="#d2d2d2" stroke="#8a8a8a" stroke-width="0.8"/>
<ellipse cx="107.7" cy="1050.1" rx="6" ry="3.6" fill="#d2d2d2" stroke="#8a8a8a" stroke-width="0.8"/>
<ellipse cx="394.2" cy="980.4" rx="5.5" ry="3.6" fill="#d2d2d2" stroke="#8a8a8a" stroke-width="0.8"/>
<ellipse cx="125.1" cy="1044" rx="6" ry="3.6" fill="#d2d2d2" stroke="#8a8a8a" stroke-width="0.8"/>
<ellipse cx="407.1" cy="988.2" rx="5.5" ry="3.6" fill="#d2d2d2" stroke="#8a8a8a" stroke-width="0.8"/>
<ellipse cx="142.6" cy="1037.8" rx="6" ry="3.6" fill="#d2d2d2" stroke="#8a8a8a" stroke-width="0.8"/>
<ellipse cx="420" cy="995.9" rx="5.5" ry="3.6" fill="#d2d2d2" stroke="#8a8a8a" stroke-width="0.8"/>
<ellipse cx="160.1" cy="1031.7" rx="6" ry="3.6" fill="#d2d2d2" stroke="#8a8a8a" stroke-width="0.8"/>
<ellipse cx="433" cy="1003.7" rx="5.5" ry="3.6" fill="#d2d2d2" stroke="#8a8a8a" stroke-width="0.8"/>
<ellipse cx="177.6" cy="1025.5" rx="6" ry="3.6" fill="#d2d2d2" stroke="#8a8a8a" stroke-width="0.8"/>
<ellipse cx="445.9" cy="1011.5" rx="5.5" ry="3.6" fill="#d2d2d2" stroke="#8a8a8a" stroke-width="0.8"/>
<ellipse cx="195" cy="1019.4" rx="6" ry="3.6" fill="#d2d2d2" stroke="#8a8a8a" stroke-width="0.8"/>
<ellipse cx="458.9" cy="1019.2" rx="5.5" ry="3.6" fill="#d2d2d2" stroke="#8a8a8a" stroke-width="0.8"/>
<ellipse cx="212.5" cy="1013.2" rx="6" ry="3.6" fill="#d2d2d2" stroke="#8a8a8a" stroke-width="0.8"/>
<ellipse cx="471.8" cy="1027" rx="5.5" ry="3.6" fill="#d2d2d2" stroke="#8a8a8a" stroke-width="0.8"/>
<ellipse cx="230" cy="1007.1" rx="6" ry="3.6" fill="#d2d2d2" stroke="#8a8a8a" stroke-width="0.8"/>
<ellipse cx="484.7" cy="1034.8" rx="5.5" ry="3.6" fill="#d2d2d2" stroke="#8a8a8a" stroke-width="0.8"/>
<ellipse cx="247.4" cy="1001" rx="6" ry="3.6" fill="#d2d2d2" stroke="#8a8a8a" stroke-width="0.8"/>
<ellipse cx="497.7" cy="1042.5" rx="5.5" ry="3.6" fill="#d2d2d2" stroke="#8a8a8a" stroke-width="0.8"/>
<ellipse cx="264.9" cy="994.8" rx="6" ry="3.6" fill="#d2d2d2" stroke="#8a8a8a" stroke-width="0.8"/>
<ellipse cx="510.6" cy="1050.3" rx="5.5" ry="3.6" fill="#d2d2d2" stroke="#8a8a8a" stroke-width="0.8"/>
<ellipse cx="282.4" cy="988.7" rx="6" ry="3.6" fill="#d2d2d2" stroke="#8a8a8a" stroke-width="0.8"/>
<ellipse cx="523.6" cy="1058.1" rx="5.5" ry="3.6" fill="#d2d2d2" stroke="#8a8a8a" stroke-width="0.8"/>
<ellipse cx="299.9" cy="982.5" rx="6" ry="3.6" fill="#d2d2d2" stroke="#8a8a8a" stroke-width="0.8"/>
<ellipse cx="536.5" cy="1065.8" rx="5.5" ry="3.6" fill="#d2d2d2" stroke="#8a8a8a" stroke-width="0.8"/>
<ellipse cx="317.3" cy="976.4" rx="6" ry="3.6" fill="#d2d2d2" stroke="#8a8a8a" stroke-width="0.8"/>
<ellipse cx="549.4" cy="1073.6" rx="5.5" ry="3.6" fill="#d2d2d2" stroke="#8a8a8a" stroke-width="0.8"/>
<ellipse cx="334.8" cy="970.2" rx="6" ry="3.6" fill="#d2d2d2" stroke="#8a8a8a" stroke-width="0.8"/>
<ellipse cx="562.4" cy="1081.4" rx="5.5" ry="3.6" fill="#d2d2d2" stroke="#8a8a8a" stroke-width="0.8"/>
<ellipse cx="352.3" cy="964.1" rx="6" ry="3.6" fill="#d2d2d2" stroke="#8a8a8a" stroke-width="0.8"/>
<ellipse cx="575.3" cy="1089.1" rx="5.5" ry="3.6" fill="#d2d2d2" stroke="#8a8a8a" stroke-width="0.8"/>
<path d="M64,1066.5 L361,962 L581,1094 L266,1221 Z" fill="#d2d2d2"/>
<clipPath id="clipE"><path d="M64,1066.5 L361,962 L581,1094 L578,1139 L272,1263.5 L65.5,1105.5 Z"/></clipPath>
<g clip-path="url(#clipE)">
<ellipse cx="228" cy="1025" rx="52" ry="30" fill="url(#gLB)" fill-opacity="0.45"/>
<ellipse cx="244.4" cy="1036.2" rx="52" ry="30" fill="url(#gLB)" fill-opacity="0.45"/>
<ellipse cx="260.8" cy="1047.5" rx="52" ry="30" fill="url(#gLB)" fill-opacity="0.45"/>
<ellipse cx="277.2" cy="1058.8" rx="52" ry="30" fill="url(#gLB)" fill-opacity="0.45"/>
<ellipse cx="293.7" cy="1070" rx="52" ry="30" fill="url(#gLB)" fill-opacity="0.45"/>
<ellipse cx="310.1" cy="1081.2" rx="52" ry="30" fill="url(#gLB)" fill-opacity="0.45"/>
<ellipse cx="326.5" cy="1092.5" rx="52" ry="30" fill="url(#gLB)" fill-opacity="0.45"/>
<ellipse cx="342.9" cy="1103.8" rx="52" ry="30" fill="url(#gLB)" fill-opacity="0.45"/>
<ellipse cx="359.3" cy="1115" rx="52" ry="30" fill="url(#gLB)" fill-opacity="0.45"/>
<ellipse cx="375.8" cy="1126.2" rx="52" ry="30" fill="url(#gLB)" fill-opacity="0.45"/>
<ellipse cx="392.2" cy="1137.5" rx="52" ry="30" fill="url(#gLB)" fill-opacity="0.45"/>
<ellipse cx="408.6" cy="1148.8" rx="52" ry="30" fill="url(#gLB)" fill-opacity="0.45"/>
<ellipse cx="425" cy="1160" rx="52" ry="30" fill="url(#gLB)" fill-opacity="0.45"/>
<ellipse cx="273" cy="1031" rx="24" ry="12" fill="url(#gLB)" fill-opacity="0.55"/>
<ellipse cx="355.7" cy="1068.5" rx="28" ry="14" fill="url(#gLB)" fill-opacity="0.55"/>
<ellipse cx="417.6" cy="1114" rx="30" ry="16" fill="url(#gLB)" fill-opacity="0.55"/>
<ellipse cx="324.7" cy="1114" rx="26" ry="14" fill="url(#gLB)" fill-opacity="0.55"/>
<ellipse cx="428" cy="1190" rx="32" ry="22" fill="url(#gLB)" fill-opacity="0.55"/>
<ellipse cx="258.5" cy="1043.7" rx="22" ry="11" fill="url(#gR)" fill-opacity="1"/>
<ellipse cx="221" cy="1037.5" rx="18" ry="9" fill="url(#gR)" fill-opacity="0.7"/>
<ellipse cx="304" cy="1050" rx="20" ry="9" fill="url(#gR)" fill-opacity="0.6"/>
<ellipse cx="308" cy="1074.7" rx="22" ry="10" fill="url(#gR)" fill-opacity="0.9"/>
<ellipse cx="295.7" cy="1093" rx="22" ry="10" fill="url(#gR)" fill-opacity="0.8"/>
<ellipse cx="345" cy="1099.5" rx="24" ry="11" fill="url(#gR)" fill-opacity="0.9"/>
<ellipse cx="320.5" cy="1097.5" rx="18" ry="9" fill="url(#gR)" fill-opacity="0.7"/>
<ellipse cx="386.6" cy="1101.6" rx="20" ry="10" fill="url(#gR)" fill-opacity="0.7"/>
<ellipse cx="386.6" cy="1130.5" rx="22" ry="11" fill="url(#gR)" fill-opacity="0.9"/>
<ellipse cx="376" cy="1151" rx="24" ry="12" fill="url(#gR)" fill-opacity="0.9"/>
<ellipse cx="355.7" cy="1138.8" rx="20" ry="10" fill="url(#gR)" fill-opacity="0.7"/>
<ellipse cx="240" cy="1055" rx="16" ry="8" fill="url(#gR)" fill-opacity="0.6"/>
<ellipse cx="405" cy="1160" rx="16" ry="8" fill="url(#gR)" fill-opacity="0.6"/>
<ellipse cx="250.3" cy="1033.4" rx="14" ry="10" fill="url(#gB)" fill-opacity="1"/>
<ellipse cx="283.3" cy="1060.3" rx="14" ry="10" fill="url(#gB)" fill-opacity="1"/>
<ellipse cx="328.8" cy="1085" rx="15" ry="10" fill="url(#gB)" fill-opacity="1"/>
<ellipse cx="366" cy="1116" rx="15" ry="10" fill="url(#gB)" fill-opacity="1"/>
<ellipse cx="417.6" cy="1145" rx="24" ry="15" fill="url(#gB)" fill-opacity="1"/>
<ellipse cx="423" cy="1180" rx="18" ry="14" fill="url(#gB)" fill-opacity="1"/>
<ellipse cx="428" cy="1203" rx="12" ry="6" fill="url(#gB)" fill-opacity="1"/>
</g>
<path d="M85.5,1076.9 93.6,1075.8 95.7,1079.7 94.8,1080.5 95.7,1084.1 87.6,1085.2 85.5,1081.3 86.4,1080.5ZM109.3,1095 117.4,1093.9 119.6,1097.7 118.7,1098.6 119.6,1102.2 111.4,1103.3 109.3,1099.5 110.2,1098.6ZM133.1,1113.1 141.3,1112 143.4,1115.8 142.6,1116.7 143.4,1120.3 135.2,1121.4 133.1,1117.6 133.9,1116.7ZM156.9,1131.1 165.1,1130 167.3,1133.9 166.4,1134.8 167.3,1138.5 159,1139.6 156.9,1135.7 157.7,1134.8ZM180.6,1149.2 189,1148.1 191.2,1152 190.3,1152.9 191.2,1156.6 182.8,1157.7 180.6,1153.8 181.5,1152.9ZM204.4,1167.3 212.8,1166.1 215.1,1170.1 214.2,1171 215.1,1174.7 206.6,1175.9 204.4,1171.9 205.3,1171ZM228.2,1185.3 236.7,1184.2 238.9,1188.2 238,1189.1 238.9,1192.8 230.4,1194 228.2,1190 229.1,1189.1ZM252,1203.4 260.6,1202.2 262.8,1206.3 261.9,1207.2 262.8,1211 254.2,1212.2 252,1208.1 252.9,1207.2ZM91.1,1061.7 99.1,1060.6 101.3,1064.4 100.4,1065.3 101.3,1068.8 93.2,1069.9 91.1,1066.1 92,1065.3ZM115,1079.6 123.1,1078.5 125.3,1082.4 124.4,1083.2 125.3,1086.8 117.2,1087.9 115,1084.1 115.9,1083.2ZM138.9,1097.5 147.1,1096.4 149.3,1100.3 148.4,1101.2 149.3,1104.8 141.1,1105.9 138.9,1102 139.8,1101.2ZM162.8,1115.5 171.1,1114.3 173.3,1118.2 172.4,1119.1 173.3,1122.7 165,1123.9 162.8,1120 163.7,1119.1ZM186.8,1133.4 195.1,1132.2 197.2,1136.2 196.4,1137 197.2,1140.7 188.9,1141.8 186.8,1137.9 187.6,1137ZM210.7,1151.3 219,1150.1 221.2,1154.1 220.4,1155 221.2,1158.7 212.9,1159.8 210.7,1155.9 211.5,1155ZM234.6,1169.2 243,1168 245.2,1172 244.4,1172.9 245.2,1176.7 236.8,1177.8 234.6,1173.8 235.5,1172.9ZM258.5,1187.1 267,1185.9 269.2,1190 268.3,1190.9 269.2,1194.6 260.7,1195.8 258.5,1191.8 259.4,1190.9ZM282.4,1205 291,1203.8 293.2,1207.9 292.3,1208.8 293.2,1212.6 284.6,1213.8 282.4,1209.7 283.3,1208.8ZM120.6,1064.4 128.7,1063.3 130.8,1067.1 130,1068 130.8,1071.5 122.8,1072.6 120.6,1068.8 121.5,1068ZM144.7,1082.2 152.8,1081.1 154.9,1084.9 154.1,1085.8 154.9,1089.4 146.8,1090.5 144.7,1086.6 145.5,1085.8ZM168.7,1099.9 176.9,1098.8 179.1,1102.7 178.2,1103.5 179.1,1107.2 170.9,1108.3 168.7,1104.4 169.6,1103.5ZM192.7,1117.7 201,1116.5 203.2,1120.5 202.3,1121.3 203.2,1125 194.9,1126.1 192.7,1122.2 193.6,1121.3ZM216.8,1135.4 225.1,1134.3 227.3,1138.2 226.4,1139.1 227.3,1142.8 219,1144 216.8,1140 217.6,1139.1ZM240.8,1153.2 249.2,1152 251.4,1156 250.5,1156.9 251.4,1160.6 243,1161.8 240.8,1157.8 241.7,1156.9ZM264.8,1170.9 273.3,1169.8 275.6,1173.8 274.7,1174.7 275.6,1178.5 267.1,1179.6 264.8,1175.6 265.7,1174.7ZM288.9,1188.7 297.4,1187.5 299.7,1191.6 298.8,1192.5 299.7,1196.3 291.1,1197.4 288.9,1193.4 289.8,1192.5ZM126.1,1049.3 134.2,1048.3 136.3,1052 135.4,1052.9 136.3,1056.4 128.2,1057.5 126.1,1053.7 127,1052.9ZM150.3,1066.9 158.4,1065.8 160.5,1069.7 159.7,1070.5 160.5,1074.1 152.4,1075.2 150.3,1071.4 151.1,1070.5ZM174.4,1084.5 182.6,1083.4 184.8,1087.3 183.9,1088.2 184.8,1091.8 176.6,1092.9 174.4,1089 175.3,1088.2ZM198.6,1102.1 206.8,1101 209,1104.9 208.1,1105.8 209,1109.4 200.8,1110.6 198.6,1106.7 199.5,1105.8ZM222.8,1119.7 231.1,1118.6 233.2,1122.5 232.4,1123.4 233.2,1127.1 224.9,1128.2 222.8,1124.3 223.6,1123.4ZM246.9,1137.3 255.3,1136.2 257.5,1140.2 256.6,1141.1 257.5,1144.8 249.1,1145.9 246.9,1141.9 247.8,1141.1ZM271.1,1154.9 279.5,1153.8 281.7,1157.8 280.9,1158.7 281.7,1162.4 273.3,1163.6 271.1,1159.6 271.9,1158.7ZM295.2,1172.5 303.7,1171.4 306,1175.4 305.1,1176.3 306,1180.1 297.5,1181.3 295.2,1177.2 296.1,1176.3ZM319.4,1190.1 328,1189 330.2,1193 329.3,1193.9 330.2,1197.8 321.6,1198.9 319.4,1194.9 320.3,1193.9ZM155.8,1051.9 163.8,1050.8 165.9,1054.6 165.1,1055.4 165.9,1059 157.9,1060.1 155.8,1056.3 156.6,1055.4ZM180.1,1069.3 188.2,1068.2 190.3,1072.1 189.5,1072.9 190.3,1076.5 182.2,1077.6 180.1,1073.8 180.9,1072.9ZM204.3,1086.8 212.5,1085.6 214.7,1089.5 213.8,1090.4 214.7,1094 206.5,1095.1 204.3,1091.3 205.2,1090.4ZM228.6,1104.2 236.9,1103.1 239.1,1107 238.2,1107.9 239.1,1111.5 230.8,1112.7 228.6,1108.7 229.5,1107.9ZM252.9,1121.7 261.2,1120.5 263.4,1124.5 262.6,1125.3 263.4,1129 255.1,1130.2 252.9,1126.2 253.8,1125.3ZM277.2,1139.1 285.6,1137.9 287.8,1141.9 286.9,1142.8 287.8,1146.5 279.4,1147.7 277.2,1143.7 278.1,1142.8ZM301.4,1156.5 309.9,1155.4 312.2,1159.4 311.3,1160.3 312.2,1164.1 303.7,1165.2 301.4,1161.2 302.3,1160.3ZM325.7,1174 334.3,1172.8 336.6,1176.9 335.6,1177.8 336.6,1181.6 328,1182.7 325.7,1178.7 326.6,1177.8ZM161.1,1037 169.2,1035.9 171.3,1039.7 170.4,1040.5 171.3,1044.1 163.2,1045.2 161.1,1041.4 162,1040.5ZM185.5,1054.3 193.6,1053.2 195.8,1057 194.9,1057.8 195.8,1061.4 187.7,1062.5 185.5,1058.7 186.4,1057.8ZM209.9,1071.6 218.1,1070.4 220.3,1074.3 219.4,1075.2 220.3,1078.8 212.1,1079.9 209.9,1076 210.8,1075.2ZM234.3,1088.8 242.6,1087.7 244.8,1091.6 243.9,1092.5 244.8,1096.1 236.5,1097.2 234.3,1093.3 235.2,1092.5ZM258.8,1106.1 267.1,1105 269.2,1108.9 268.4,1109.8 269.2,1113.5 260.9,1114.6 258.8,1110.7 259.6,1109.8ZM283.2,1123.4 291.5,1122.3 293.7,1126.2 292.9,1127.1 293.7,1130.8 285.4,1132 283.2,1128 284,1127.1ZM307.6,1140.7 316,1139.5 318.2,1143.6 317.4,1144.4 318.2,1148.2 309.8,1149.3 307.6,1145.3 308.4,1144.4ZM332,1158 340.5,1156.8 342.7,1160.9 341.8,1161.8 342.7,1165.5 334.2,1166.7 332,1162.7 332.9,1161.8ZM356.4,1175.3 365,1174.1 367.2,1178.2 366.3,1179.1 367.2,1182.9 358.6,1184.1 356.4,1180 357.3,1179.1ZM190.9,1039.4 199,1038.3 201.1,1042.1 200.2,1042.9 201.1,1046.5 193,1047.6 190.9,1043.8 191.8,1042.9ZM215.4,1056.5 223.6,1055.4 225.7,1059.2 224.8,1060.1 225.7,1063.7 217.6,1064.8 215.4,1060.9 216.3,1060.1ZM240,1073.6 248.2,1072.5 250.3,1076.4 249.5,1077.2 250.3,1080.9 242.1,1082 240,1078.1 240.8,1077.2ZM264.5,1090.8 272.8,1089.6 274.9,1093.5 274.1,1094.4 274.9,1098.1 266.7,1099.2 264.5,1095.3 265.4,1094.4ZM289,1107.9 297.4,1106.7 299.6,1110.7 298.7,1111.6 299.6,1115.3 291.2,1116.4 289,1112.5 289.9,1111.6ZM313.5,1125 322,1123.9 324.2,1127.9 323.3,1128.7 324.2,1132.5 315.8,1133.6 313.5,1129.6 314.4,1128.7ZM338.1,1142.1 346.6,1141 348.8,1145 347.9,1145.9 348.8,1149.7 340.3,1150.8 338.1,1146.8 339,1145.9ZM362.6,1159.3 371.2,1158.1 373.4,1162.2 372.5,1163.1 373.4,1166.9 364.9,1168 362.6,1164 363.5,1163.1ZM196.1,1024.6 204.2,1023.5 206.3,1027.3 205.4,1028.1 206.3,1031.7 198.3,1032.8 196.1,1029 197,1028.1ZM220.8,1041.6 228.9,1040.5 231,1044.3 230.2,1045.2 231,1048.7 222.9,1049.8 220.8,1046 221.6,1045.2ZM245.4,1058.6 253.6,1057.4 255.8,1061.3 254.9,1062.2 255.8,1065.8 247.6,1066.9 245.4,1063 246.3,1062.2ZM270.1,1075.5 278.3,1074.4 280.5,1078.3 279.6,1079.2 280.5,1082.8 272.3,1083.9 270.1,1080 271,1079.2ZM294.8,1092.5 303.1,1091.4 305.2,1095.3 304.4,1096.2 305.2,1099.9 296.9,1101 294.8,1097.1 295.6,1096.2ZM319.4,1109.5 327.8,1108.3 330,1112.3 329.1,1113.2 330,1116.9 321.6,1118 319.4,1114.1 320.3,1113.2ZM344.1,1126.5 352.5,1125.3 354.7,1129.3 353.8,1130.2 354.7,1133.9 346.3,1135.1 344.1,1131.1 344.9,1130.2ZM368.7,1143.4 377.2,1142.3 379.5,1146.3 378.6,1147.2 379.5,1151 371,1152.2 368.7,1148.1 369.6,1147.2ZM393.4,1160.4 402,1159.2 404.2,1163.3 403.3,1164.2 404.2,1168 395.6,1169.2 393.4,1165.1 394.3,1164.2ZM226,1026.8 234.1,1025.7 236.2,1029.5 235.4,1030.4 236.2,1033.9 228.2,1035.1 226,1031.2 226.9,1030.4ZM250.8,1043.7 258.9,1042.5 261.1,1046.4 260.2,1047.2 261.1,1050.8 252.9,1051.9 250.8,1048.1 251.7,1047.2ZM275.6,1060.5 283.8,1059.3 285.9,1063.2 285.1,1064.1 285.9,1067.7 277.7,1068.8 275.6,1065 276.4,1064.1ZM300.4,1077.3 308.6,1076.2 310.8,1080.1 309.9,1080.9 310.8,1084.6 302.5,1085.7 300.4,1081.8 301.2,1080.9ZM325.1,1094.1 333.5,1093 335.7,1096.9 334.8,1097.8 335.7,1101.5 327.3,1102.6 325.1,1098.7 326,1097.8ZM349.9,1110.9 358.3,1109.8 360.6,1113.8 359.7,1114.7 360.6,1118.4 352.1,1119.5 349.9,1115.5 350.8,1114.7ZM374.7,1127.8 383.2,1126.6 385.4,1130.6 384.5,1131.5 385.4,1135.3 376.9,1136.4 374.7,1132.4 375.6,1131.5ZM399.5,1144.6 408,1143.4 410.3,1147.5 409.4,1148.4 410.3,1152.1 401.7,1153.3 399.5,1149.3 400.4,1148.4ZM231.1,1012.2 239.2,1011.1 241.3,1014.9 240.4,1015.8 241.3,1019.3 233.3,1020.4 231.1,1016.6 232,1015.8ZM256,1028.9 264.1,1027.8 266.3,1031.6 265.4,1032.5 266.3,1036.1 258.2,1037.2 256,1033.3 256.9,1032.5ZM280.9,1045.6 289.1,1044.4 291.3,1048.3 290.4,1049.2 291.3,1052.8 283.1,1053.9 280.9,1050 281.8,1049.2ZM305.9,1062.2 314.1,1061.1 316.3,1065 315.4,1065.9 316.3,1069.5 308,1070.6 305.9,1066.7 306.7,1065.9ZM330.8,1078.9 339.1,1077.8 341.2,1081.7 340.4,1082.6 341.2,1086.2 332.9,1087.4 330.8,1083.4 331.6,1082.6ZM355.7,1095.6 364,1094.4 366.2,1098.4 365.4,1099.3 366.2,1103 357.9,1104.1 355.7,1100.1 356.5,1099.3ZM380.6,1112.2 389,1111.1 391.2,1115.1 390.3,1116 391.2,1119.7 382.8,1120.9 380.6,1116.9 381.4,1116ZM405.5,1128.9 414,1127.7 416.2,1131.8 415.3,1132.7 416.2,1136.4 407.7,1137.6 405.5,1133.6 406.4,1132.7ZM430.4,1145.5 439,1144.4 441.2,1148.4 440.3,1149.4 441.2,1153.2 432.6,1154.3 430.4,1150.3 431.3,1149.4ZM261.2,1014.3 269.2,1013.2 271.3,1017 270.5,1017.9 271.3,1021.4 263.3,1022.5 261.2,1018.7 262,1017.9ZM286.2,1030.8 294.3,1029.7 296.5,1033.5 295.6,1034.4 296.5,1038 288.3,1039.1 286.2,1035.3 287,1034.4ZM311.2,1047.3 319.4,1046.2 321.6,1050.1 320.7,1050.9 321.6,1054.6 313.4,1055.7 311.2,1051.8 312.1,1050.9ZM336.2,1063.8 344.5,1062.7 346.7,1066.6 345.8,1067.5 346.7,1071.1 338.4,1072.3 336.2,1068.4 337.1,1067.5ZM361.3,1080.3 369.6,1079.2 371.8,1083.1 370.9,1084 371.8,1087.7 363.5,1088.9 361.3,1084.9 362.1,1084ZM386.3,1096.8 394.7,1095.7 396.9,1099.7 396,1100.6 396.9,1104.3 388.5,1105.4 386.3,1101.5 387.2,1100.6ZM411.3,1113.4 419.8,1112.2 422,1116.2 421.2,1117.1 422,1120.9 413.6,1122 411.3,1118 412.2,1117.1ZM436.3,1129.9 444.9,1128.7 447.2,1132.8 446.3,1133.7 447.2,1137.4 438.6,1138.6 436.3,1134.6 437.2,1133.7ZM266.1,999.9 274.2,998.8 276.3,1002.6 275.4,1003.4 276.3,1006.9 268.3,1008 266.1,1004.2 267,1003.4ZM291.3,1016.2 299.4,1015.1 301.5,1018.9 300.7,1019.8 301.5,1023.4 293.4,1024.5 291.3,1020.6 292.2,1019.8ZM316.5,1032.6 324.6,1031.5 326.8,1035.3 325.9,1036.2 326.8,1039.8 318.6,1040.9 316.5,1037 317.3,1036.2ZM341.6,1048.9 349.8,1047.8 352,1051.7 351.1,1052.6 352,1056.2 343.8,1057.3 341.6,1053.4 342.5,1052.6ZM366.8,1065.3 375.1,1064.1 377.2,1068.1 376.4,1068.9 377.2,1072.6 368.9,1073.8 366.8,1069.8 367.6,1068.9ZM391.9,1081.6 400.3,1080.5 402.5,1084.5 401.6,1085.3 402.5,1089 394.1,1090.2 391.9,1086.2 392.8,1085.3ZM417.1,1098 425.5,1096.8 427.7,1100.8 426.8,1101.7 427.7,1105.5 419.3,1106.6 417.1,1102.6 417.9,1101.7ZM442.2,1114.3 450.7,1113.2 453,1117.2 452.1,1118.1 453,1121.9 444.4,1123 442.2,1119 443.1,1118.1ZM467.4,1130.7 476,1129.5 478.2,1133.6 477.3,1134.5 478.2,1138.3 469.6,1139.5 467.4,1135.4 468.3,1134.5ZM296.3,1001.8 304.3,1000.7 306.5,1004.5 305.6,1005.3 306.5,1008.9 298.4,1010 296.3,1006.2 297.1,1005.3ZM321.6,1018 329.7,1016.9 331.8,1020.7 331,1021.6 331.8,1025.2 323.7,1026.3 321.6,1022.4 322.4,1021.6ZM346.8,1034.2 355,1033 357.2,1036.9 356.3,1037.8 357.2,1041.4 349,1042.5 346.8,1038.7 347.7,1037.8ZM372.1,1050.4 380.4,1049.2 382.6,1053.2 381.7,1054 382.6,1057.7 374.3,1058.8 372.1,1054.9 373,1054ZM397.4,1066.6 405.7,1065.4 407.9,1069.4 407.1,1070.3 407.9,1073.9 399.6,1075.1 397.4,1071.1 398.3,1070.3ZM422.7,1082.8 431.1,1081.6 433.3,1085.6 432.4,1086.5 433.3,1090.2 424.9,1091.4 422.7,1087.4 423.6,1086.5ZM447.9,1099 456.4,1097.8 458.7,1101.8 457.8,1102.7 458.7,1106.5 450.2,1107.6 447.9,1103.6 448.8,1102.7ZM473.2,1115.2 481.8,1114 484,1118 483.1,1118.9 484,1122.7 475.5,1123.9 473.2,1119.8 474.1,1118.9ZM301.2,987.5 309.2,986.4 311.3,990.2 310.4,991 311.3,994.6 303.3,995.7 301.2,991.9 302,991ZM326.6,1003.5 334.6,1002.4 336.8,1006.3 335.9,1007.1 336.8,1010.7 328.7,1011.8 326.6,1008 327.4,1007.1ZM352,1019.6 360.1,1018.5 362.3,1022.3 361.4,1023.2 362.3,1026.8 354.1,1027.9 352,1024 352.8,1023.2ZM377.4,1035.6 385.6,1034.5 387.8,1038.4 386.9,1039.3 387.8,1042.9 379.5,1044 377.4,1040.1 378.2,1039.3ZM402.8,1051.7 411.1,1050.5 413.2,1054.5 412.4,1055.3 413.2,1059 404.9,1060.1 402.8,1056.2 403.6,1055.3ZM428.2,1067.7 436.5,1066.6 438.7,1070.5 437.9,1071.4 438.7,1075.1 430.4,1076.3 428.2,1072.3 429,1071.4ZM453.6,1083.7 462,1082.6 464.2,1086.6 463.3,1087.5 464.2,1091.2 455.8,1092.4 453.6,1088.4 454.4,1087.5ZM478.9,1099.8 487.5,1098.6 489.7,1102.7 488.8,1103.6 489.7,1107.3 481.2,1108.5 478.9,1104.5 479.8,1103.6ZM504.3,1115.8 513,1114.6 515.2,1118.7 514.3,1119.6 515.2,1123.4 506.6,1124.6 504.3,1120.5 505.3,1119.6ZM331.4,989.2 339.5,988.1 341.6,992 340.7,992.8 341.6,996.4 333.5,997.5 331.4,993.7 332.3,992.8ZM356.9,1005.1 365.1,1004 367.2,1007.9 366.3,1008.7 367.2,1012.3 359.1,1013.4 356.9,1009.6 357.8,1008.7ZM382.5,1021 390.7,1019.9 392.8,1023.8 392,1024.6 392.8,1028.3 384.6,1029.4 382.5,1025.5 383.3,1024.6ZM408,1036.9 416.3,1035.8 418.4,1039.7 417.6,1040.6 418.4,1044.2 410.2,1045.4 408,1041.4 408.9,1040.6ZM433.5,1052.8 441.9,1051.6 444.1,1055.6 443.2,1056.5 444.1,1060.2 435.7,1061.3 433.5,1057.4 434.4,1056.5ZM459,1068.7 467.5,1067.5 469.7,1071.5 468.8,1072.4 469.7,1076.1 461.3,1077.3 459,1073.3 459.9,1072.4ZM484.6,1084.6 493.1,1083.4 495.3,1087.4 494.4,1088.3 495.3,1092.1 486.8,1093.2 484.6,1089.2 485.5,1088.3ZM510.1,1100.4 518.7,1099.3 520.9,1103.3 520,1104.2 520.9,1108 512.3,1109.2 510.1,1105.1 511,1104.2ZM336.2,975.1 344.2,974 346.3,977.8 345.4,978.7 346.3,982.2 338.3,983.3 336.2,979.5 337,978.7ZM361.8,990.8 369.9,989.7 372,993.6 371.2,994.4 372,998 363.9,999.1 361.8,995.3 362.7,994.4ZM387.5,1006.6 395.6,1005.5 397.8,1009.3 396.9,1010.2 397.8,1013.8 389.6,1014.9 387.5,1011 388.3,1010.2ZM413.1,1022.3 421.3,1021.2 423.5,1025.1 422.6,1026 423.5,1029.6 415.3,1030.7 413.1,1026.8 414,1026ZM438.8,1038 447.1,1036.9 449.2,1040.8 448.4,1041.7 449.2,1045.4 440.9,1046.5 438.8,1042.6 439.6,1041.7ZM464.4,1053.8 472.8,1052.6 475,1056.6 474.1,1057.5 475,1061.2 466.6,1062.3 464.4,1058.4 465.3,1057.5ZM490,1069.5 498.5,1068.3 500.7,1072.3 499.8,1073.2 500.7,1077 492.3,1078.1 490,1074.1 490.9,1073.2ZM515.7,1085.2 524.2,1084.1 526.5,1088.1 525.6,1089 526.5,1092.8 517.9,1093.9 515.7,1089.9 516.6,1089ZM541.3,1101 550,1099.8 552.2,1103.9 551.3,1104.8 552.2,1108.6 543.6,1109.7 541.3,1105.7 542.3,1104.8ZM366.5,976.7 374.6,975.6 376.7,979.4 375.9,980.3 376.7,983.8 368.7,984.9 366.5,981.1 367.4,980.3ZM392.3,992.3 400.4,991.2 402.6,995 401.7,995.9 402.6,999.5 394.5,1000.6 392.3,996.7 393.2,995.9ZM418.1,1007.9 426.3,1006.7 428.4,1010.6 427.6,1011.5 428.4,1015.1 420.2,1016.2 418.1,1012.4 419,1011.5ZM443.9,1023.4 452.1,1022.3 454.3,1026.2 453.4,1027.1 454.3,1030.8 446,1031.9 443.9,1028 444.7,1027.1ZM469.6,1039 478,1037.9 480.2,1041.8 479.3,1042.7 480.2,1046.4 471.8,1047.5 469.6,1043.6 470.5,1042.7ZM495.4,1054.6 503.8,1053.4 506,1057.4 505.2,1058.3 506,1062 497.6,1063.2 495.4,1059.2 496.3,1058.3ZM521.2,1070.2 529.7,1069 531.9,1073 531,1073.9 531.9,1077.7 523.4,1078.8 521.2,1074.8 522.1,1073.9ZM547,1085.7 555.5,1084.6 557.8,1088.6 556.9,1089.5 557.8,1093.3 549.2,1094.5 547,1090.4 547.9,1089.5Z" fill="#8a8a8a" stroke="#4a4a4a" stroke-width="1" stroke-linejoin="round"/>
<path d="M71.1,1071.9 74.5,1068.8 78.7,1069.6 82.9,1068.4 86.3,1071 82.9,1074.2 78.7,1073.3 74.5,1074.5ZM94.9,1090 98.3,1086.8 102.5,1087.7 106.8,1086.5 110.2,1089.1 106.8,1092.3 102.5,1091.4 98.3,1092.6ZM118.6,1108.1 122,1104.9 126.3,1105.8 130.6,1104.6 134.1,1107.2 130.6,1110.4 126.3,1109.5 122,1110.7ZM142.4,1126.2 145.8,1123 150.2,1123.8 154.5,1122.6 158,1125.3 154.5,1128.5 150.2,1127.7 145.8,1128.9ZM166.1,1144.3 169.6,1141 174,1141.9 178.4,1140.7 181.9,1143.4 178.4,1146.6 174,1145.8 169.6,1147ZM189.9,1162.4 193.4,1159.1 197.8,1160 202.2,1158.8 205.8,1161.5 202.2,1164.8 197.8,1163.9 193.4,1165.1ZM213.6,1180.5 217.2,1177.2 221.7,1178.1 226.1,1176.8 229.7,1179.6 226.1,1182.9 221.7,1182 217.2,1183.2ZM237.4,1198.6 241,1195.3 245.5,1196.2 250,1194.9 253.6,1197.7 250,1201 245.5,1200.1 241,1201.4ZM261.2,1216.7 264.8,1213.3 269.3,1214.2 273.8,1213 277.5,1215.8 273.8,1219.1 269.3,1218.2 264.8,1219.5ZM100.5,1074.7 103.9,1071.5 108.2,1072.4 112.4,1071.2 115.8,1073.8 112.4,1076.9 108.2,1076.1 103.9,1077.3ZM124.4,1092.6 127.8,1089.4 132.1,1090.3 136.4,1089.1 139.8,1091.8 136.4,1094.9 132.1,1094.1 127.8,1095.3ZM148.3,1110.6 151.8,1107.4 156.1,1108.2 160.4,1107 163.8,1109.7 160.4,1112.9 156.1,1112 151.8,1113.2ZM172.2,1128.5 175.7,1125.3 180,1126.1 184.4,1124.9 187.9,1127.6 184.4,1130.9 180,1130 175.7,1131.2ZM196.1,1146.4 199.6,1143.2 204,1144.1 208.4,1142.8 211.9,1145.6 208.4,1148.8 204,1147.9 199.6,1149.2ZM219.9,1164.4 223.5,1161.1 227.9,1162 232.4,1160.8 235.9,1163.5 232.4,1166.8 227.9,1165.9 223.5,1167.1ZM243.8,1182.3 247.4,1179 251.9,1179.9 256.4,1178.7 259.9,1181.4 256.4,1184.8 251.9,1183.9 247.4,1185.1ZM267.7,1200.3 271.3,1196.9 275.8,1197.9 280.3,1196.6 284,1199.4 280.3,1202.7 275.8,1201.8 271.3,1203.1ZM106.1,1059.5 109.5,1056.4 113.7,1057.2 117.9,1056 121.3,1058.7 117.9,1061.8 113.7,1060.9 109.5,1062.1ZM130.1,1077.3 133.5,1074.1 137.8,1075 142,1073.8 145.4,1076.4 142,1079.6 137.8,1078.7 133.5,1079.9ZM154.1,1095.1 157.6,1091.9 161.8,1092.8 166.1,1091.6 169.6,1094.2 166.1,1097.4 161.8,1096.5 157.6,1097.7ZM178.1,1112.9 181.6,1109.7 185.9,1110.5 190.3,1109.3 193.7,1112 190.3,1115.2 185.9,1114.3 181.6,1115.6ZM202.1,1130.7 205.6,1127.4 210,1128.3 214.4,1127.1 217.9,1129.8 214.4,1133 210,1132.2 205.6,1133.4ZM226.1,1148.5 229.7,1145.2 234.1,1146.1 238.5,1144.8 242,1147.6 238.5,1150.8 234.1,1150 229.7,1151.2ZM250.1,1166.2 253.7,1163 258.2,1163.8 262.6,1162.6 266.2,1165.4 262.6,1168.7 258.2,1167.8 253.7,1169ZM274.1,1184 277.7,1180.7 282.2,1181.6 286.7,1180.4 290.3,1183.1 286.7,1186.5 282.2,1185.6 277.7,1186.8ZM298.1,1201.8 301.8,1198.5 306.3,1199.4 310.8,1198.1 314.5,1200.9 310.8,1204.3 306.3,1203.4 301.8,1204.6ZM135.7,1062.1 139.1,1059 143.3,1059.8 147.5,1058.7 150.9,1061.3 147.5,1064.4 143.3,1063.6 139.1,1064.8ZM159.8,1079.8 163.2,1076.6 167.5,1077.5 171.8,1076.3 175.2,1078.9 171.8,1082.1 167.5,1081.2 163.2,1082.4ZM183.9,1097.4 187.4,1094.2 191.7,1095.1 196,1093.9 199.5,1096.5 196,1099.7 191.7,1098.9 187.4,1100.1ZM208.1,1115 211.5,1111.8 215.9,1112.7 220.3,1111.5 223.7,1114.2 220.3,1117.4 215.9,1116.5 211.5,1117.7ZM232.2,1132.7 235.7,1129.4 240.1,1130.3 244.5,1129.1 248,1131.8 244.5,1135 240.1,1134.2 235.7,1135.4ZM256.3,1150.3 259.9,1147 264.3,1147.9 268.7,1146.7 272.3,1149.4 268.7,1152.7 264.3,1151.8 259.9,1153.1ZM280.5,1167.9 284,1164.6 288.5,1165.5 293,1164.3 296.6,1167.1 293,1170.4 288.5,1169.5 284,1170.7ZM304.6,1185.6 308.2,1182.2 312.7,1183.1 317.2,1181.9 320.8,1184.7 317.2,1188 312.7,1187.1 308.2,1188.4ZM141.1,1047.1 144.5,1044 148.7,1044.9 152.9,1043.7 156.3,1046.3 152.9,1049.4 148.7,1048.6 144.5,1049.7ZM165.4,1064.6 168.8,1061.5 173,1062.3 177.3,1061.1 180.7,1063.8 177.3,1066.9 173,1066.1 168.8,1067.2ZM189.6,1082.1 193.1,1078.9 197.3,1079.8 201.6,1078.6 205.1,1081.2 201.6,1084.4 197.3,1083.5 193.1,1084.8ZM213.9,1099.6 217.3,1096.4 221.7,1097.2 226,1096 229.5,1098.7 226,1101.9 221.7,1101 217.3,1102.3ZM238.1,1117 241.6,1113.8 246,1114.7 250.4,1113.5 253.9,1116.2 250.4,1119.4 246,1118.5 241.6,1119.8ZM262.4,1134.5 265.9,1131.3 270.3,1132.1 274.7,1130.9 278.3,1133.6 274.7,1136.9 270.3,1136 265.9,1137.3ZM286.6,1152 290.2,1148.7 294.7,1149.6 299.1,1148.4 302.7,1151.1 299.1,1154.4 294.7,1153.5 290.2,1154.8ZM310.9,1169.5 314.5,1166.2 319,1167.1 323.5,1165.8 327.1,1168.6 323.5,1171.9 319,1171 314.5,1172.3ZM335.1,1187 338.8,1183.6 343.3,1184.5 347.8,1183.3 351.5,1186.1 347.8,1189.4 343.3,1188.5 338.8,1189.8ZM170.8,1049.6 174.2,1046.5 178.4,1047.3 182.7,1046.1 186.1,1048.8 182.7,1051.9 178.4,1051 174.2,1052.2ZM195.2,1066.9 198.6,1063.8 202.9,1064.6 207.2,1063.4 210.6,1066.1 207.2,1069.2 202.9,1068.4 198.6,1069.6ZM219.6,1084.3 223,1081.1 227.3,1081.9 231.6,1080.7 235.1,1083.4 231.6,1086.6 227.3,1085.7 223,1086.9ZM243.9,1101.6 247.4,1098.4 251.8,1099.2 256.1,1098 259.6,1100.7 256.1,1103.9 251.8,1103.1 247.4,1104.3ZM268.3,1118.9 271.8,1115.6 276.2,1116.5 280.6,1115.3 284.1,1118 280.6,1121.3 276.2,1120.4 271.8,1121.6ZM292.7,1136.2 296.2,1132.9 300.7,1133.8 305.1,1132.6 308.7,1135.3 305.1,1138.6 300.7,1137.7 296.2,1139ZM317.1,1153.5 320.7,1150.2 325.1,1151.1 329.6,1149.9 333.2,1152.7 329.6,1156 325.1,1155.1 320.7,1156.3ZM341.5,1170.9 345.1,1167.5 349.6,1168.4 354.1,1167.2 357.7,1170 354.1,1173.3 349.6,1172.4 345.1,1173.7ZM176.1,1034.8 179.5,1031.6 183.7,1032.5 187.9,1031.3 191.3,1033.9 187.9,1037 183.7,1036.2 179.5,1037.4ZM200.6,1051.9 204,1048.8 208.3,1049.6 212.5,1048.4 215.9,1051.1 212.5,1054.2 208.3,1053.4 204,1054.6ZM225.1,1069.1 228.6,1065.9 232.9,1066.8 237.1,1065.6 240.6,1068.2 237.1,1071.4 232.9,1070.6 228.6,1071.8ZM249.6,1086.3 253.1,1083.1 257.4,1083.9 261.8,1082.7 265.2,1085.4 261.8,1088.6 257.4,1087.7 253.1,1088.9ZM274.1,1103.4 277.6,1100.2 282,1101.1 286.4,1099.8 289.9,1102.6 286.4,1105.8 282,1104.9 277.6,1106.1ZM298.6,1120.6 302.2,1117.3 306.6,1118.2 311,1117 314.5,1119.7 311,1123 306.6,1122.1 302.2,1123.3ZM323.1,1137.8 326.7,1134.5 331.1,1135.4 335.6,1134.1 339.2,1136.9 335.6,1140.2 331.1,1139.3 326.7,1140.5ZM347.6,1154.9 351.2,1151.6 355.7,1152.5 360.2,1151.3 363.8,1154 360.2,1157.4 355.7,1156.5 351.2,1157.7ZM372.1,1172.1 375.8,1168.8 380.3,1169.7 384.8,1168.4 388.5,1171.2 384.8,1174.5 380.3,1173.6 375.8,1174.9ZM205.9,1037.1 209.3,1033.9 213.6,1034.8 217.8,1033.6 221.2,1036.2 217.8,1039.4 213.6,1038.5 209.3,1039.7ZM230.6,1054.1 234,1050.9 238.3,1051.8 242.5,1050.6 246,1053.2 242.5,1056.4 238.3,1055.5 234,1056.7ZM255.2,1071.1 258.6,1067.9 263,1068.8 267.3,1067.6 270.7,1070.2 267.3,1073.4 263,1072.6 258.6,1073.8ZM279.8,1088.1 283.3,1084.9 287.7,1085.8 292,1084.5 295.5,1087.2 292,1090.5 287.7,1089.6 283.3,1090.8ZM304.4,1105.1 308,1101.9 312.3,1102.8 316.7,1101.5 320.3,1104.2 316.7,1107.5 312.3,1106.6 308,1107.9ZM329.1,1122.1 332.6,1118.9 337,1119.7 341.5,1118.5 345,1121.3 341.5,1124.5 337,1123.6 332.6,1124.9ZM353.7,1139.2 357.3,1135.8 361.7,1136.7 366.2,1135.5 369.8,1138.3 366.2,1141.6 361.7,1140.7 357.3,1141.9ZM378.3,1156.2 381.9,1152.8 386.4,1153.7 391,1152.5 394.6,1155.3 391,1158.6 386.4,1157.7 381.9,1159ZM211.1,1022.4 214.5,1019.3 218.7,1020.1 222.9,1018.9 226.3,1021.5 222.9,1024.7 218.7,1023.8 214.5,1025ZM235.9,1039.2 239.3,1036.1 243.5,1036.9 247.8,1035.8 251.2,1038.4 247.8,1041.5 243.5,1040.7 239.3,1041.9ZM260.6,1056.1 264.1,1052.9 268.4,1053.8 272.6,1052.6 276.1,1055.2 272.6,1058.4 268.4,1057.6 264.1,1058.8ZM285.4,1073 288.8,1069.7 293.2,1070.6 297.5,1069.4 301,1072.1 297.5,1075.3 293.2,1074.4 288.8,1075.6ZM310.1,1089.8 313.6,1086.6 318,1087.5 322.4,1086.2 325.9,1088.9 322.4,1092.2 318,1091.3 313.6,1092.5ZM334.9,1106.7 338.4,1103.4 342.8,1104.3 347.2,1103.1 350.8,1105.8 347.2,1109.1 342.8,1108.2 338.4,1109.4ZM359.6,1123.5 363.2,1120.2 367.6,1121.1 372.1,1119.9 375.7,1122.6 372.1,1125.9 367.6,1125 363.2,1126.3ZM384.4,1140.4 388,1137.1 392.5,1138 397,1136.7 400.6,1139.5 397,1142.8 392.5,1141.9 388,1143.2ZM409.1,1157.2 412.8,1153.9 417.3,1154.8 421.8,1153.5 425.4,1156.3 421.8,1159.7 417.3,1158.8 412.8,1160ZM241.1,1024.5 244.4,1021.4 248.7,1022.3 252.9,1021.1 256.3,1023.7 252.9,1026.8 248.7,1026 244.4,1027.2ZM265.9,1041.3 269.4,1038.1 273.6,1038.9 277.9,1037.7 281.3,1040.4 277.9,1043.6 273.6,1042.7 269.4,1043.9ZM290.8,1058 294.3,1054.8 298.6,1055.6 302.9,1054.4 306.3,1057.1 302.9,1060.3 298.6,1059.4 294.3,1060.6ZM315.7,1074.7 319.2,1071.4 323.5,1072.3 327.9,1071.1 331.4,1073.8 327.9,1077 323.5,1076.1 319.2,1077.4ZM340.6,1091.4 344.1,1088.1 348.5,1089 352.9,1087.8 356.4,1090.5 352.9,1093.7 348.5,1092.8 344.1,1094.1ZM365.4,1108.1 369,1104.8 373.4,1105.7 377.9,1104.4 381.4,1107.2 377.9,1110.4 373.4,1109.6 369,1110.8ZM390.3,1124.8 393.9,1121.4 398.4,1122.3 402.8,1121.1 406.4,1123.9 402.8,1127.2 398.4,1126.3 393.9,1127.5ZM415.2,1141.5 418.8,1138.1 423.3,1139 427.8,1137.8 431.4,1140.6 427.8,1143.9 423.3,1143 418.8,1144.3ZM246.1,1010 249.5,1006.9 253.7,1007.7 257.9,1006.6 261.3,1009.2 257.9,1012.3 253.7,1011.4 249.5,1012.6ZM271.1,1026.6 274.5,1023.4 278.8,1024.3 283,1023.1 286.4,1025.7 283,1028.9 278.8,1028 274.5,1029.2ZM296.1,1043.1 299.6,1039.9 303.9,1040.8 308.2,1039.6 311.6,1042.2 308.2,1045.4 303.9,1044.6 299.6,1045.8ZM321.1,1059.6 324.6,1056.4 328.9,1057.3 333.3,1056.1 336.7,1058.8 333.3,1062 328.9,1061.1 324.6,1062.3ZM346.1,1076.2 349.6,1073 354,1073.8 358.4,1072.6 361.9,1075.3 358.4,1078.6 354,1077.7 349.6,1078.9ZM371.1,1092.7 374.7,1089.5 379.1,1090.4 383.5,1089.1 387,1091.9 383.5,1095.1 379.1,1094.2 374.7,1095.5ZM396.1,1109.3 399.7,1106 404.1,1106.9 408.6,1105.6 412.2,1108.4 408.6,1111.7 404.1,1110.8 399.7,1112ZM421.1,1125.8 424.7,1122.5 429.2,1123.4 433.7,1122.1 437.3,1124.9 433.7,1128.3 429.2,1127.4 424.7,1128.6ZM446.1,1142.4 449.8,1139 454.3,1139.9 458.8,1138.7 462.4,1141.5 458.8,1144.8 454.3,1143.9 449.8,1145.2ZM276.2,1012 279.6,1008.9 283.8,1009.7 288,1008.5 291.4,1011.2 288,1014.3 283.8,1013.5 279.6,1014.6ZM301.3,1028.4 304.7,1025.2 309,1026.1 313.3,1024.9 316.7,1027.6 313.3,1030.7 309,1029.9 304.7,1031.1ZM326.4,1044.8 329.9,1041.6 334.2,1042.5 338.5,1041.3 342,1043.9 338.5,1047.1 334.2,1046.3 329.9,1047.5ZM351.6,1061.2 355,1058 359.4,1058.8 363.8,1057.6 367.2,1060.3 363.8,1063.5 359.4,1062.7 355,1063.9ZM376.7,1077.6 380.2,1074.3 384.6,1075.2 389,1074 392.5,1076.7 389,1080 384.6,1079.1 380.2,1080.3ZM401.8,1094 405.4,1090.7 409.8,1091.6 414.2,1090.3 417.8,1093.1 414.2,1096.4 409.8,1095.5 405.4,1096.7ZM426.9,1110.4 430.5,1107.1 435,1107.9 439.5,1106.7 443,1109.5 439.5,1112.8 435,1111.9 430.5,1113.1ZM452.1,1126.7 455.7,1123.4 460.2,1124.3 464.7,1123.1 468.3,1125.8 464.7,1129.2 460.2,1128.3 455.7,1129.5ZM281.1,997.6 284.5,994.5 288.7,995.4 292.9,994.2 296.3,996.8 292.9,999.9 288.7,999.1 284.5,1000.3ZM306.4,1013.9 309.8,1010.7 314,1011.6 318.3,1010.4 321.7,1013 318.3,1016.2 314,1015.3 309.8,1016.5ZM331.6,1030.1 335.1,1026.9 339.4,1027.8 343.7,1026.6 347.1,1029.2 343.7,1032.4 339.4,1031.6 335.1,1032.8ZM356.9,1046.3 360.3,1043.1 364.7,1044 369,1042.8 372.5,1045.5 369,1048.7 364.7,1047.8 360.3,1049ZM382.1,1062.6 385.6,1059.3 390,1060.2 394.4,1059 397.9,1061.7 394.4,1064.9 390,1064.1 385.6,1065.3ZM407.4,1078.8 410.9,1075.5 415.3,1076.4 419.7,1075.2 423.3,1077.9 419.7,1081.2 415.3,1080.3 410.9,1081.5ZM432.6,1095 436.2,1091.8 440.6,1092.6 445.1,1091.4 448.7,1094.2 445.1,1097.4 440.6,1096.6 436.2,1097.8ZM457.9,1111.3 461.5,1108 466,1108.9 470.5,1107.6 474,1110.4 470.5,1113.7 466,1112.8 461.5,1114.1ZM483.1,1127.5 486.8,1124.2 491.3,1125.1 495.8,1123.8 499.4,1126.6 495.8,1130 491.3,1129.1 486.8,1130.3ZM311.3,999.5 314.7,996.4 318.9,997.2 323.2,996 326.6,998.6 323.2,1001.8 318.9,1000.9 314.7,1002.1ZM336.7,1015.6 340.1,1012.4 344.4,1013.3 348.7,1012.1 352.1,1014.7 348.7,1017.9 344.4,1017 340.1,1018.2ZM362.1,1031.7 365.5,1028.5 369.8,1029.3 374.1,1028.1 377.6,1030.8 374.1,1034 369.8,1033.1 365.5,1034.3ZM387.4,1047.7 390.9,1044.5 395.3,1045.4 399.6,1044.2 403.1,1046.9 399.6,1050.1 395.3,1049.2 390.9,1050.4ZM412.8,1063.8 416.3,1060.6 420.7,1061.4 425.1,1060.2 428.6,1062.9 425.1,1066.2 420.7,1065.3 416.3,1066.5ZM438.2,1079.9 441.7,1076.6 446.2,1077.5 450.6,1076.3 454.1,1079 450.6,1082.3 446.2,1081.4 441.7,1082.6ZM463.6,1096 467.1,1092.7 471.6,1093.5 476.1,1092.3 479.7,1095.1 476.1,1098.4 471.6,1097.5 467.1,1098.7ZM488.9,1112 492.6,1108.7 497.1,1109.6 501.6,1108.3 505.2,1111.1 501.6,1114.5 497.1,1113.6 492.6,1114.8ZM316.1,985.3 319.5,982.1 323.7,983 327.9,981.8 331.3,984.4 327.9,987.5 323.7,986.7 319.5,987.9ZM341.6,1001.2 345,998 349.3,998.9 353.5,997.7 357,1000.3 353.5,1003.5 349.3,1002.6 345,1003.8ZM367.1,1017.1 370.6,1013.9 374.9,1014.8 379.2,1013.6 382.6,1016.3 379.2,1019.4 374.9,1018.6 370.6,1019.8ZM392.6,1033 396.1,1029.8 400.4,1030.7 404.8,1029.5 408.2,1032.2 404.8,1035.4 400.4,1034.5 396.1,1035.7ZM418.1,1049 421.6,1045.7 426,1046.6 430.4,1045.4 433.9,1048.1 430.4,1051.3 426,1050.4 421.6,1051.7ZM443.6,1064.9 447.2,1061.6 451.6,1062.5 456,1061.3 459.5,1064 456,1067.3 451.6,1066.4 447.2,1067.6ZM469.1,1080.8 472.7,1077.5 477.1,1078.4 481.6,1077.2 485.2,1079.9 481.6,1083.2 477.1,1082.3 472.7,1083.6ZM494.6,1096.7 498.2,1093.4 502.7,1094.3 507.2,1093 510.8,1095.8 507.2,1099.2 502.7,1098.3 498.2,1099.5ZM520.1,1112.6 523.8,1109.3 528.3,1110.2 532.8,1108.9 536.4,1111.7 532.8,1115.1 528.3,1114.2 523.8,1115.5ZM346.4,987 349.8,983.8 354.1,984.7 358.3,983.5 361.7,986.1 358.3,989.3 354.1,988.4 349.8,989.6ZM372.1,1002.7 375.5,999.6 379.8,1000.4 384,999.2 387.5,1001.9 384,1005 379.8,1004.2 375.5,1005.4ZM397.7,1018.5 401.1,1015.3 405.5,1016.2 409.8,1015 413.2,1017.6 409.8,1020.8 405.5,1020 401.1,1021.2ZM423.3,1034.3 426.8,1031 431.2,1031.9 435.5,1030.7 439,1033.4 435.5,1036.6 431.2,1035.7 426.8,1037ZM448.9,1050 452.5,1046.8 456.8,1047.7 461.2,1046.4 464.8,1049.2 461.2,1052.4 456.8,1051.5 452.5,1052.8ZM474.6,1065.8 478.1,1062.5 482.5,1063.4 487,1062.2 490.5,1064.9 487,1068.2 482.5,1067.3 478.1,1068.5ZM500.2,1081.6 503.8,1078.3 508.2,1079.2 512.7,1077.9 516.3,1080.7 512.7,1084 508.2,1083.1 503.8,1084.3ZM525.8,1097.3 529.4,1094 533.9,1094.9 538.4,1093.6 542.1,1096.4 538.4,1099.8 533.9,1098.9 529.4,1100.1ZM351.1,972.9 354.5,969.8 358.7,970.6 362.9,969.4 366.3,972.1 362.9,975.2 358.7,974.3 354.5,975.5ZM376.9,988.5 380.3,985.4 384.5,986.2 388.8,985 392.2,987.7 388.8,990.8 384.5,990 380.3,991.1ZM402.6,1004.1 406.1,1000.9 410.4,1001.8 414.7,1000.6 418.1,1003.3 414.7,1006.4 410.4,1005.6 406.1,1006.8ZM428.4,1019.7 431.8,1016.5 436.2,1017.4 440.5,1016.2 444,1018.9 440.5,1022.1 436.2,1021.2 431.8,1022.4ZM454.1,1035.3 457.6,1032.1 462,1033 466.4,1031.8 469.9,1034.5 466.4,1037.7 462,1036.8 457.6,1038.1ZM479.9,1051 483.4,1047.7 487.8,1048.6 492.2,1047.3 495.8,1050.1 492.2,1053.3 487.8,1052.5 483.4,1053.7ZM505.6,1066.6 509.2,1063.3 513.6,1064.2 518.1,1062.9 521.7,1065.7 518.1,1069 513.6,1068.1 509.2,1069.3ZM531.4,1082.2 535,1078.9 539.5,1079.8 544,1078.5 547.5,1081.3 544,1084.6 539.5,1083.7 535,1085ZM557.1,1097.8 560.7,1094.4 565.3,1095.3 569.8,1094.1 573.4,1096.9 569.8,1100.2 565.3,1099.3 560.7,1100.6Z" fill="#8c8c8c" stroke="#4c4c4c" stroke-width="0.9" stroke-linejoin="round"/>
<path d="M89.4,1081.3h2.2v2.2h-2.2ZM113.2,1099.4h2.2v2.2h-2.2ZM137.1,1117.5h2.2v2.2h-2.2ZM160.9,1135.6h2.3v2.3h-2.3ZM184.7,1153.7h2.3v2.3h-2.3ZM208.5,1171.8h2.3v2.3h-2.3ZM232.3,1189.9h2.3v2.3h-2.3ZM256.1,1208h2.3v2.3h-2.3ZM95,1066h2.2v2.2h-2.2ZM119,1084h2.2v2.2h-2.2ZM142.9,1101.9h2.2v2.2h-2.2ZM166.8,1119.9h2.3v2.3h-2.3ZM190.8,1137.8h2.3v2.3h-2.3ZM214.7,1155.8h2.3v2.3h-2.3ZM238.7,1173.7h2.3v2.3h-2.3ZM262.6,1191.7h2.3v2.3h-2.3ZM286.5,1209.6h2.4v2.4h-2.4ZM124.5,1068.7h2.2v2.2h-2.2ZM148.6,1086.5h2.2v2.2h-2.2ZM172.7,1104.3h2.2v2.2h-2.2ZM196.7,1122.1h2.3v2.3h-2.3ZM220.8,1139.9h2.3v2.3h-2.3ZM244.9,1157.7h2.3v2.3h-2.3ZM268.9,1175.5h2.3v2.3h-2.3ZM293,1193.3h2.3v2.3h-2.3ZM130,1053.7h2.2v2.2h-2.2ZM154.2,1071.3h2.2v2.2h-2.2ZM178.4,1088.9h2.2v2.2h-2.2ZM202.6,1106.6h2.3v2.3h-2.3ZM226.8,1124.2h2.3v2.3h-2.3ZM251,1141.8h2.3v2.3h-2.3ZM275.2,1159.5h2.3v2.3h-2.3ZM299.3,1177.1h2.3v2.3h-2.3ZM323.5,1194.8h2.4v2.4h-2.4ZM159.7,1056.2h2.2v2.2h-2.2ZM184,1073.7h2.2v2.2h-2.2ZM208.3,1091.2h2.2v2.2h-2.2ZM232.6,1108.7h2.3v2.3h-2.3ZM256.9,1126.1h2.3v2.3h-2.3ZM281.2,1143.6h2.3v2.3h-2.3ZM305.6,1161.1h2.3v2.3h-2.3ZM329.9,1178.6h2.3v2.3h-2.3ZM165,1041.3h2.2v2.2h-2.2ZM189.5,1058.6h2.2v2.2h-2.2ZM213.9,1075.9h2.2v2.2h-2.2ZM238.3,1093.3h2.3v2.3h-2.3ZM262.8,1110.6h2.3v2.3h-2.3ZM287.2,1127.9h2.3v2.3h-2.3ZM311.7,1145.2h2.3v2.3h-2.3ZM336.1,1162.6h2.3v2.3h-2.3ZM360.5,1179.9h2.4v2.4h-2.4ZM194.8,1043.7h2.2v2.2h-2.2ZM219.4,1060.9h2.2v2.2h-2.2ZM243.9,1078h2.2v2.2h-2.2ZM268.5,1095.2h2.3v2.3h-2.3ZM293.1,1112.4h2.3v2.3h-2.3ZM317.6,1129.5h2.3v2.3h-2.3ZM342.2,1146.7h2.3v2.3h-2.3ZM366.7,1163.9h2.3v2.3h-2.3ZM200,1028.9h2.2v2.2h-2.2ZM224.7,1045.9h2.2v2.2h-2.2ZM249.4,1062.9h2.2v2.2h-2.2ZM274.1,1080h2.3v2.3h-2.3ZM298.8,1097h2.3v2.3h-2.3ZM323.5,1114h2.3v2.3h-2.3ZM348.2,1131h2.3v2.3h-2.3ZM372.8,1148h2.3v2.3h-2.3ZM397.5,1165h2.4v2.4h-2.4ZM229.9,1031.2h2.2v2.2h-2.2ZM254.7,1048h2.2v2.2h-2.2ZM279.6,1064.9h2.2v2.2h-2.2ZM304.4,1081.7h2.3v2.3h-2.3ZM329.2,1098.6h2.3v2.3h-2.3ZM354,1115.5h2.3v2.3h-2.3ZM378.8,1132.3h2.3v2.3h-2.3ZM403.6,1149.2h2.3v2.3h-2.3ZM235,1016.5h2.2v2.2h-2.2ZM260,1033.2h2.2v2.2h-2.2ZM284.9,1049.9h2.2v2.2h-2.2ZM309.8,1066.6h2.3v2.3h-2.3ZM334.8,1083.4h2.3v2.3h-2.3ZM359.7,1100.1h2.3v2.3h-2.3ZM384.6,1116.8h2.3v2.3h-2.3ZM409.6,1133.5h2.3v2.3h-2.3ZM434.5,1150.2h2.4v2.4h-2.4ZM265.1,1018.6h2.2v2.2h-2.2ZM290.1,1035.2h2.2v2.2h-2.2ZM315.2,1051.7h2.2v2.2h-2.2ZM340.2,1068.3h2.3v2.3h-2.3ZM365.3,1084.8h2.3v2.3h-2.3ZM390.4,1101.4h2.3v2.3h-2.3ZM415.4,1117.9h2.3v2.3h-2.3ZM440.5,1134.5h2.3v2.3h-2.3ZM270,1004.2h2.2v2.2h-2.2ZM295.2,1020.6h2.2v2.2h-2.2ZM320.4,1037h2.2v2.2h-2.2ZM345.6,1053.3h2.3v2.3h-2.3ZM370.8,1069.7h2.3v2.3h-2.3ZM396,1086.1h2.3v2.3h-2.3ZM421.1,1102.5h2.3v2.3h-2.3ZM446.3,1118.9h2.3v2.3h-2.3ZM471.5,1135.3h2.4v2.4h-2.4ZM300.2,1006.1h2.2v2.2h-2.2ZM325.5,1022.3h2.2v2.2h-2.2ZM350.8,1038.6h2.2v2.2h-2.2ZM376.1,1054.8h2.3v2.3h-2.3ZM401.4,1071h2.3v2.3h-2.3ZM426.7,1087.3h2.3v2.3h-2.3ZM452.1,1103.5h2.3v2.3h-2.3ZM477.4,1119.8h2.3v2.3h-2.3ZM305,991.8h2.2v2.2h-2.2ZM330.5,1007.9h2.2v2.2h-2.2ZM355.9,1024h2.2v2.2h-2.2ZM381.3,1040h2.3v2.3h-2.3ZM406.8,1056.1h2.3v2.3h-2.3ZM432.2,1072.2h2.3v2.3h-2.3ZM457.6,1088.3h2.3v2.3h-2.3ZM483.1,1104.4h2.3v2.3h-2.3ZM508.5,1120.4h2.4v2.4h-2.4ZM335.3,993.6h2.2v2.2h-2.2ZM360.9,1009.5h2.2v2.2h-2.2ZM386.4,1025.4h2.2v2.2h-2.2ZM412,1041.3h2.3v2.3h-2.3ZM437.6,1057.3h2.3v2.3h-2.3ZM463.1,1073.2h2.3v2.3h-2.3ZM488.7,1089.1h2.3v2.3h-2.3ZM514.2,1105h2.3v2.3h-2.3ZM340,979.4h2.2v2.2h-2.2ZM365.7,995.2h2.2v2.2h-2.2ZM391.4,1011h2.2v2.2h-2.2ZM417.1,1026.7h2.3v2.3h-2.3ZM442.8,1042.5h2.3v2.3h-2.3ZM468.5,1058.3h2.3v2.3h-2.3ZM494.1,1074h2.3v2.3h-2.3ZM519.8,1089.8h2.3v2.3h-2.3ZM545.5,1105.6h2.4v2.4h-2.4ZM370.4,981h2.2v2.2h-2.2ZM396.3,996.7h2.2v2.2h-2.2ZM422.1,1012.3h2.2v2.2h-2.2ZM447.9,1027.9h2.3v2.3h-2.3ZM473.7,1043.5h2.3v2.3h-2.3ZM499.5,1059.1h2.3v2.3h-2.3ZM525.3,1074.7h2.3v2.3h-2.3ZM551.1,1090.3h2.3v2.3h-2.3Z" fill="#f4f4f4"/>
<path d="M91.5,1077.7h1.5v1.5h-1.5ZM115.4,1095.8h1.5v1.5h-1.5ZM139.2,1113.8h1.6v1.6h-1.6ZM163,1131.9h1.6v1.6h-1.6ZM186.9,1150h1.6v1.6h-1.6ZM210.7,1168.1h1.6v1.6h-1.6ZM234.6,1186.1h1.6v1.6h-1.6ZM258.4,1204.2h1.6v1.6h-1.6ZM97.1,1062.5h1.5v1.5h-1.5ZM121.1,1080.4h1.5v1.5h-1.5ZM145,1098.3h1.5v1.5h-1.5ZM169,1116.2h1.6v1.6h-1.6ZM193,1134.2h1.6v1.6h-1.6ZM216.9,1152.1h1.6v1.6h-1.6ZM240.9,1170h1.6v1.6h-1.6ZM264.8,1187.9h1.6v1.6h-1.6ZM288.8,1205.8h1.6v1.6h-1.6ZM126.7,1065.2h1.5v1.5h-1.5ZM150.8,1082.9h1.5v1.5h-1.5ZM174.8,1100.7h1.6v1.6h-1.6ZM198.9,1118.5h1.6v1.6h-1.6ZM223,1136.2h1.6v1.6h-1.6ZM247.1,1154h1.6v1.6h-1.6ZM271.2,1171.7h1.6v1.6h-1.6ZM295.3,1189.5h1.6v1.6h-1.6ZM132.1,1050.1h1.5v1.5h-1.5ZM156.3,1067.7h1.5v1.5h-1.5ZM180.5,1085.3h1.5v1.5h-1.5ZM204.8,1102.9h1.6v1.6h-1.6ZM229,1120.5h1.6v1.6h-1.6ZM253.2,1138.1h1.6v1.6h-1.6ZM277.4,1155.7h1.6v1.6h-1.6ZM301.6,1173.3h1.6v1.6h-1.6ZM325.8,1191h1.6v1.6h-1.6ZM161.8,1052.6h1.5v1.5h-1.5ZM186.1,1070.1h1.5v1.5h-1.5ZM210.5,1087.5h1.6v1.6h-1.6ZM234.8,1105h1.6v1.6h-1.6ZM259.1,1122.4h1.6v1.6h-1.6ZM283.5,1139.9h1.6v1.6h-1.6ZM307.8,1157.3h1.6v1.6h-1.6ZM332.1,1174.8h1.6v1.6h-1.6ZM167.1,1037.7h1.5v1.5h-1.5ZM191.6,1055h1.5v1.5h-1.5ZM216,1072.3h1.5v1.5h-1.5ZM240.5,1089.6h1.6v1.6h-1.6ZM265,1106.9h1.6v1.6h-1.6ZM289.4,1124.2h1.6v1.6h-1.6ZM313.9,1141.5h1.6v1.6h-1.6ZM338.3,1158.8h1.6v1.6h-1.6ZM362.8,1176.1h1.6v1.6h-1.6ZM196.9,1040.1h1.5v1.5h-1.5ZM221.5,1057.3h1.5v1.5h-1.5ZM246.1,1074.4h1.6v1.6h-1.6ZM270.7,1091.5h1.6v1.6h-1.6ZM295.3,1108.7h1.6v1.6h-1.6ZM319.8,1125.8h1.6v1.6h-1.6ZM344.4,1143h1.6v1.6h-1.6ZM369,1160.1h1.6v1.6h-1.6ZM202.1,1025.4h1.5v1.5h-1.5ZM226.8,1042.3h1.5v1.5h-1.5ZM251.5,1059.3h1.5v1.5h-1.5ZM276.3,1076.3h1.6v1.6h-1.6ZM301,1093.3h1.6v1.6h-1.6ZM325.7,1110.3h1.6v1.6h-1.6ZM350.4,1127.3h1.6v1.6h-1.6ZM375.1,1144.2h1.6v1.6h-1.6ZM399.8,1161.2h1.6v1.6h-1.6ZM232.1,1027.6h1.5v1.5h-1.5ZM256.9,1044.4h1.5v1.5h-1.5ZM281.7,1061.2h1.6v1.6h-1.6ZM306.5,1078.1h1.6v1.6h-1.6ZM331.4,1094.9h1.6v1.6h-1.6ZM356.2,1111.7h1.6v1.6h-1.6ZM381,1128.6h1.6v1.6h-1.6ZM405.9,1145.4h1.6v1.6h-1.6ZM237.1,1013h1.5v1.5h-1.5ZM262.1,1029.7h1.5v1.5h-1.5ZM287,1046.3h1.5v1.5h-1.5ZM312,1063h1.6v1.6h-1.6ZM337,1079.7h1.6v1.6h-1.6ZM361.9,1096.4h1.6v1.6h-1.6ZM386.9,1113h1.6v1.6h-1.6ZM411.8,1129.7h1.6v1.6h-1.6ZM436.8,1146.4h1.6v1.6h-1.6ZM267.2,1015.1h1.5v1.5h-1.5ZM292.3,1031.6h1.5v1.5h-1.5ZM317.3,1048.1h1.6v1.6h-1.6ZM342.4,1064.6h1.6v1.6h-1.6ZM367.5,1081.1h1.6v1.6h-1.6ZM392.6,1097.6h1.6v1.6h-1.6ZM417.7,1114.2h1.6v1.6h-1.6ZM442.7,1130.7h1.6v1.6h-1.6ZM272.1,1000.6h1.5v1.5h-1.5ZM297.3,1017h1.5v1.5h-1.5ZM322.6,1033.3h1.5v1.5h-1.5ZM347.8,1049.7h1.6v1.6h-1.6ZM373,1066.1h1.6v1.6h-1.6ZM398.2,1082.4h1.6v1.6h-1.6ZM423.4,1098.8h1.6v1.6h-1.6ZM448.6,1115.1h1.6v1.6h-1.6ZM473.8,1131.5h1.6v1.6h-1.6ZM302.3,1002.5h1.5v1.5h-1.5ZM327.6,1018.7h1.5v1.5h-1.5ZM353,1034.9h1.6v1.6h-1.6ZM378.3,1051.2h1.6v1.6h-1.6ZM403.6,1067.4h1.6v1.6h-1.6ZM429,1083.6h1.6v1.6h-1.6ZM454.3,1099.8h1.6v1.6h-1.6ZM479.6,1116h1.6v1.6h-1.6ZM307.1,988.2h1.5v1.5h-1.5ZM332.6,1004.3h1.5v1.5h-1.5ZM358.1,1020.3h1.5v1.5h-1.5ZM383.5,1036.4h1.6v1.6h-1.6ZM409,1052.4h1.6v1.6h-1.6ZM434.4,1068.5h1.6v1.6h-1.6ZM459.9,1084.5h1.6v1.6h-1.6ZM485.3,1100.6h1.6v1.6h-1.6ZM510.8,1116.6h1.6v1.6h-1.6ZM337.4,990h1.5v1.5h-1.5ZM363,1005.9h1.5v1.5h-1.5ZM388.6,1021.8h1.6v1.6h-1.6ZM414.2,1037.7h1.6v1.6h-1.6ZM439.8,1053.6h1.6v1.6h-1.6ZM465.3,1069.5h1.6v1.6h-1.6ZM490.9,1085.4h1.6v1.6h-1.6ZM516.5,1101.3h1.6v1.6h-1.6ZM342.1,975.9h1.5v1.5h-1.5ZM367.9,991.6h1.5v1.5h-1.5ZM393.6,1007.4h1.5v1.5h-1.5ZM419.3,1023.1h1.6v1.6h-1.6ZM445,1038.8h1.6v1.6h-1.6ZM470.7,1054.6h1.6v1.6h-1.6ZM496.4,1070.3h1.6v1.6h-1.6ZM522.1,1086h1.6v1.6h-1.6ZM547.8,1101.8h1.6v1.6h-1.6ZM372.6,977.5h1.5v1.5h-1.5ZM398.4,993.1h1.5v1.5h-1.5ZM424.2,1008.6h1.6v1.6h-1.6ZM450,1024.2h1.6v1.6h-1.6ZM475.9,1039.8h1.6v1.6h-1.6ZM501.7,1055.4h1.6v1.6h-1.6ZM527.5,1071h1.6v1.6h-1.6ZM553.4,1086.6h1.6v1.6h-1.6Z" fill="#dddddd"/>
<path d="M804,1082 L995,1229 L1001,1270 L805.5,1123 Z" fill="#b8b8b8" stroke="#6a6a6a" stroke-width="1"/>
<path d="M995,1229 L1306,1109 L1303,1153 L1001,1270 Z" fill="#b4b4b4" stroke="#6a6a6a" stroke-width="1"/>
<path d="M804.1,1116.4 L806.4,1118.1 L806.7,1125.1 L804.4,1123.4 Z" fill="#fff"/>
<path d="M805.2,1085.3 L814.2,1092.2 L815.2,1115.2 L806.1,1108.3 Z" fill="#d8d8d8" stroke="#5a5a5a" stroke-width="0.8"/>
<path d="M807.4,1091.8 L812.4,1095.6 L812.9,1108.7 L807.9,1104.9 Z" fill="#a4a4a4" stroke="#666" stroke-width="0.6"/>
<path d="M807.3,1111.6 L814.2,1116.8 L814.6,1126.6 L807.7,1121.4 Z" fill="#dedede" stroke="#5a5a5a" stroke-width="0.7"/>
<path d="M815.6,1125 L817.9,1126.8 L818.2,1133.7 L815.9,1132 Z" fill="#fff"/>
<path d="M816.5,1094 L825.5,1100.9 L826.6,1123.8 L817.5,1116.9 Z" fill="#d8d8d8" stroke="#5a5a5a" stroke-width="0.8"/>
<path d="M818.7,1100.4 L823.7,1104.3 L824.3,1117.4 L819.3,1113.6 Z" fill="#a4a4a4" stroke="#666" stroke-width="0.6"/>
<path d="M818.7,1120.3 L825.6,1125.4 L826,1135.3 L819.2,1130.1 Z" fill="#dedede" stroke="#5a5a5a" stroke-width="0.7"/>
<path d="M827.1,1133.7 L829.4,1135.4 L829.7,1142.4 L827.4,1140.7 Z" fill="#fff"/>
<path d="M827.7,1102.6 L836.7,1109.5 L838,1132.5 L828.9,1125.6 Z" fill="#d8d8d8" stroke="#5a5a5a" stroke-width="0.8"/>
<path d="M830,1109.1 L835,1112.9 L835.7,1126 L830.7,1122.2 Z" fill="#a4a4a4" stroke="#666" stroke-width="0.6"/>
<path d="M830.1,1128.9 L837,1134.1 L837.5,1143.9 L830.6,1138.7 Z" fill="#dedede" stroke="#5a5a5a" stroke-width="0.7"/>
<path d="M838.5,1142.3 L840.8,1144.1 L841.2,1151 L838.9,1149.3 Z" fill="#fff"/>
<path d="M839,1111.3 L848,1118.2 L849.4,1141.1 L840.3,1134.2 Z" fill="#d8d8d8" stroke="#5a5a5a" stroke-width="0.8"/>
<path d="M841.3,1117.7 L846.2,1121.5 L847,1134.7 L842,1130.9 Z" fill="#a4a4a4" stroke="#666" stroke-width="0.6"/>
<path d="M841.5,1137.6 L848.4,1142.7 L849,1152.6 L842.1,1147.4 Z" fill="#dedede" stroke="#5a5a5a" stroke-width="0.7"/>
<path d="M850,1151 L852.3,1152.7 L852.7,1159.7 L850.4,1158 Z" fill="#fff"/>
<path d="M850.2,1119.9 L859.2,1126.8 L860.8,1149.8 L851.7,1142.9 Z" fill="#d8d8d8" stroke="#5a5a5a" stroke-width="0.8"/>
<path d="M852.6,1126.4 L857.5,1130.2 L858.4,1143.3 L853.4,1139.5 Z" fill="#a4a4a4" stroke="#666" stroke-width="0.6"/>
<path d="M853,1146.2 L859.8,1151.4 L860.5,1161.2 L853.6,1156 Z" fill="#dedede" stroke="#5a5a5a" stroke-width="0.7"/>
<path d="M861.5,1159.6 L863.8,1161.4 L864.2,1168.3 L861.9,1166.6 Z" fill="#fff"/>
<path d="M861.5,1128.6 L870.5,1135.5 L872.2,1158.4 L863.1,1151.5 Z" fill="#d8d8d8" stroke="#5a5a5a" stroke-width="0.8"/>
<path d="M863.8,1135 L868.8,1138.8 L869.8,1152 L864.8,1148.2 Z" fill="#a4a4a4" stroke="#666" stroke-width="0.6"/>
<path d="M864.4,1154.8 L871.2,1160 L872,1169.9 L865.1,1164.7 Z" fill="#dedede" stroke="#5a5a5a" stroke-width="0.7"/>
<path d="M872.9,1168.3 L875.2,1170 L875.7,1177 L873.4,1175.2 Z" fill="#fff"/>
<path d="M872.7,1137.2 L881.7,1144.1 L883.6,1167.1 L874.5,1160.2 Z" fill="#d8d8d8" stroke="#5a5a5a" stroke-width="0.8"/>
<path d="M875.1,1143.7 L880.1,1147.5 L881.1,1160.6 L876.1,1156.8 Z" fill="#a4a4a4" stroke="#666" stroke-width="0.6"/>
<path d="M875.8,1163.5 L882.6,1168.7 L883.4,1178.5 L876.5,1173.3 Z" fill="#dedede" stroke="#5a5a5a" stroke-width="0.7"/>
<path d="M884.4,1176.9 L886.7,1178.7 L887.3,1185.6 L884.9,1183.9 Z" fill="#fff"/>
<path d="M884,1145.9 L893,1152.8 L895,1175.7 L885.9,1168.8 Z" fill="#d8d8d8" stroke="#5a5a5a" stroke-width="0.8"/>
<path d="M886.4,1152.3 L891.4,1156.1 L892.5,1169.3 L887.5,1165.5 Z" fill="#a4a4a4" stroke="#666" stroke-width="0.6"/>
<path d="M887.2,1172.1 L894.1,1177.3 L894.9,1187.2 L888,1182 Z" fill="#dedede" stroke="#5a5a5a" stroke-width="0.7"/>
<path d="M895.8,1185.6 L898.1,1187.3 L898.8,1194.3 L896.5,1192.5 Z" fill="#fff"/>
<path d="M895.2,1154.5 L904.2,1161.4 L906.4,1184.4 L897.3,1177.5 Z" fill="#d8d8d8" stroke="#5a5a5a" stroke-width="0.8"/>
<path d="M897.7,1161 L902.7,1164.8 L903.9,1177.9 L898.9,1174.1 Z" fill="#a4a4a4" stroke="#666" stroke-width="0.6"/>
<path d="M898.6,1180.8 L905.5,1186 L906.4,1195.8 L899.5,1190.6 Z" fill="#dedede" stroke="#5a5a5a" stroke-width="0.7"/>
<path d="M907.3,1194.2 L909.6,1195.9 L910.3,1202.9 L908,1201.2 Z" fill="#fff"/>
<path d="M906.5,1163.1 L915.5,1170.1 L917.8,1193 L908.7,1186.1 Z" fill="#d8d8d8" stroke="#5a5a5a" stroke-width="0.8"/>
<path d="M909,1169.6 L913.9,1173.4 L915.2,1186.5 L910.2,1182.7 Z" fill="#a4a4a4" stroke="#666" stroke-width="0.6"/>
<path d="M910,1189.4 L916.9,1194.6 L917.9,1204.5 L911,1199.3 Z" fill="#dedede" stroke="#5a5a5a" stroke-width="0.7"/>
<path d="M918.8,1202.9 L921.1,1204.6 L921.8,1211.6 L919.5,1209.8 Z" fill="#fff"/>
<path d="M917.7,1171.8 L926.7,1178.7 L929.2,1201.7 L920.1,1194.8 Z" fill="#d8d8d8" stroke="#5a5a5a" stroke-width="0.8"/>
<path d="M920.3,1178.3 L925.2,1182.1 L926.6,1195.2 L921.6,1191.4 Z" fill="#a4a4a4" stroke="#666" stroke-width="0.6"/>
<path d="M921.5,1198.1 L928.3,1203.3 L929.4,1213.1 L922.5,1207.9 Z" fill="#dedede" stroke="#5a5a5a" stroke-width="0.7"/>
<path d="M930.2,1211.5 L932.5,1213.2 L933.3,1220.2 L931,1218.5 Z" fill="#fff"/>
<path d="M929,1180.4 L938,1187.4 L940.6,1210.3 L931.5,1203.4 Z" fill="#d8d8d8" stroke="#5a5a5a" stroke-width="0.8"/>
<path d="M931.5,1186.9 L936.5,1190.7 L938,1203.8 L933,1200 Z" fill="#a4a4a4" stroke="#666" stroke-width="0.6"/>
<path d="M932.9,1206.7 L939.7,1211.9 L940.8,1221.8 L933.9,1216.6 Z" fill="#dedede" stroke="#5a5a5a" stroke-width="0.7"/>
<path d="M941.7,1220.2 L944,1221.9 L944.8,1228.9 L942.5,1227.1 Z" fill="#fff"/>
<path d="M940.2,1189.1 L949.2,1196 L952,1219 L942.9,1212 Z" fill="#d8d8d8" stroke="#5a5a5a" stroke-width="0.8"/>
<path d="M942.8,1195.6 L947.8,1199.4 L949.3,1212.5 L944.3,1208.7 Z" fill="#a4a4a4" stroke="#666" stroke-width="0.6"/>
<path d="M944.3,1215.4 L951.1,1220.6 L952.3,1230.4 L945.4,1225.2 Z" fill="#dedede" stroke="#5a5a5a" stroke-width="0.7"/>
<path d="M953.2,1228.8 L955.5,1230.5 L956.3,1237.5 L954,1235.8 Z" fill="#fff"/>
<path d="M951.5,1197.7 L960.5,1204.7 L963.4,1227.6 L954.3,1220.7 Z" fill="#d8d8d8" stroke="#5a5a5a" stroke-width="0.8"/>
<path d="M954.1,1204.2 L959.1,1208 L960.7,1221.1 L955.7,1217.3 Z" fill="#a4a4a4" stroke="#666" stroke-width="0.6"/>
<path d="M955.7,1224 L962.6,1229.2 L963.8,1239 L956.9,1233.9 Z" fill="#dedede" stroke="#5a5a5a" stroke-width="0.7"/>
<path d="M964.6,1237.5 L966.9,1239.2 L967.8,1246.2 L965.5,1244.4 Z" fill="#fff"/>
<path d="M962.7,1206.4 L971.7,1213.3 L974.8,1236.3 L965.7,1229.3 Z" fill="#d8d8d8" stroke="#5a5a5a" stroke-width="0.8"/>
<path d="M965.4,1212.9 L970.4,1216.7 L972.1,1229.8 L967.1,1226 Z" fill="#a4a4a4" stroke="#666" stroke-width="0.6"/>
<path d="M967.1,1232.7 L974,1237.9 L975.3,1247.7 L968.4,1242.5 Z" fill="#dedede" stroke="#5a5a5a" stroke-width="0.7"/>
<path d="M976.1,1246.1 L978.4,1247.8 L979.3,1254.8 L977,1253.1 Z" fill="#fff"/>
<path d="M974,1215 L983,1221.9 L986.2,1244.9 L977.1,1238 Z" fill="#d8d8d8" stroke="#5a5a5a" stroke-width="0.8"/>
<path d="M976.7,1221.5 L981.6,1225.3 L983.4,1238.4 L978.4,1234.6 Z" fill="#a4a4a4" stroke="#666" stroke-width="0.6"/>
<path d="M978.5,1241.3 L985.4,1246.5 L986.7,1256.3 L979.9,1251.2 Z" fill="#dedede" stroke="#5a5a5a" stroke-width="0.7"/>
<path d="M987.6,1254.7 L989.8,1256.5 L990.8,1263.4 L988.5,1261.7 Z" fill="#fff"/>
<path d="M985.2,1223.7 L994.2,1230.6 L997.6,1253.6 L988.5,1246.6 Z" fill="#d8d8d8" stroke="#5a5a5a" stroke-width="0.8"/>
<path d="M988,1230.2 L992.9,1234 L994.8,1247.1 L989.8,1243.3 Z" fill="#a4a4a4" stroke="#666" stroke-width="0.6"/>
<path d="M989.9,1250 L996.8,1255.2 L998.2,1265 L991.3,1259.8 Z" fill="#dedede" stroke="#5a5a5a" stroke-width="0.7"/>
<path d="M998.4,1265 L1001.9,1263.6 L1003,1270.5 L999.4,1271.9 Z" fill="#fff"/>
<path d="M997.2,1230.8 L1011.8,1225.1 L1014.9,1248.2 L1000.5,1253.7 Z" fill="#d8d8d8" stroke="#5a5a5a" stroke-width="0.8"/>
<path d="M1001.2,1234.4 L1009.2,1231.3 L1011,1244.5 L1003,1247.5 Z" fill="#a4a4a4" stroke="#666" stroke-width="0.6"/>
<path d="M1002.7,1255.5 L1013.4,1251.3 L1014.8,1261.2 L1004.1,1265.3 Z" fill="#dedede" stroke="#5a5a5a" stroke-width="0.7"/>
<path d="M1016.2,1258 L1019.8,1256.7 L1020.7,1263.7 L1017.2,1265 Z" fill="#fff"/>
<path d="M1015.4,1223.7 L1030.1,1218.1 L1032.9,1241.2 L1018.5,1246.8 Z" fill="#d8d8d8" stroke="#5a5a5a" stroke-width="0.8"/>
<path d="M1019.4,1227.4 L1027.4,1224.3 L1029,1237.5 L1021.1,1240.6 Z" fill="#a4a4a4" stroke="#666" stroke-width="0.6"/>
<path d="M1020.6,1248.6 L1031.4,1244.4 L1032.6,1254.3 L1021.9,1258.4 Z" fill="#dedede" stroke="#5a5a5a" stroke-width="0.7"/>
<path d="M1034.1,1251.1 L1037.6,1249.8 L1038.5,1256.8 L1034.9,1258.2 Z" fill="#fff"/>
<path d="M1033.7,1216.7 L1048.3,1211 L1050.8,1234.3 L1036.4,1239.8 Z" fill="#d8d8d8" stroke="#5a5a5a" stroke-width="0.8"/>
<path d="M1037.6,1220.4 L1045.6,1217.3 L1047,1230.5 L1039.1,1233.6 Z" fill="#a4a4a4" stroke="#666" stroke-width="0.6"/>
<path d="M1038.5,1241.6 L1049.3,1237.5 L1050.4,1247.4 L1039.7,1251.5 Z" fill="#dedede" stroke="#5a5a5a" stroke-width="0.7"/>
<path d="M1051.9,1244.2 L1055.5,1242.8 L1056.2,1249.9 L1052.7,1251.3 Z" fill="#fff"/>
<path d="M1052,1209.6 L1066.6,1204 L1068.8,1227.3 L1054.4,1232.9 Z" fill="#d8d8d8" stroke="#5a5a5a" stroke-width="0.8"/>
<path d="M1055.8,1213.3 L1063.8,1210.2 L1065.1,1223.6 L1057.1,1226.6 Z" fill="#a4a4a4" stroke="#666" stroke-width="0.6"/>
<path d="M1056.5,1234.7 L1067.2,1230.5 L1068.2,1240.5 L1057.5,1244.7 Z" fill="#dedede" stroke="#5a5a5a" stroke-width="0.7"/>
<path d="M1069.7,1237.3 L1073.3,1235.9 L1074,1243 L1070.4,1244.4 Z" fill="#fff"/>
<path d="M1070.2,1202.6 L1084.8,1196.9 L1086.8,1220.4 L1072.4,1225.9 Z" fill="#d8d8d8" stroke="#5a5a5a" stroke-width="0.8"/>
<path d="M1074,1206.3 L1082,1203.2 L1083.1,1216.6 L1075.2,1219.7 Z" fill="#a4a4a4" stroke="#666" stroke-width="0.6"/>
<path d="M1074.4,1227.7 L1085.2,1223.6 L1086,1233.6 L1075.3,1237.8 Z" fill="#dedede" stroke="#5a5a5a" stroke-width="0.7"/>
<path d="M1087.6,1230.4 L1091.1,1229 L1091.7,1236.2 L1088.1,1237.5 Z" fill="#fff"/>
<path d="M1088.5,1195.5 L1103.1,1189.9 L1104.7,1213.4 L1090.3,1219 Z" fill="#d8d8d8" stroke="#5a5a5a" stroke-width="0.8"/>
<path d="M1092.2,1199.3 L1100.2,1196.2 L1101.1,1209.6 L1093.2,1212.7 Z" fill="#a4a4a4" stroke="#666" stroke-width="0.6"/>
<path d="M1092.3,1220.8 L1103.1,1216.6 L1103.8,1226.7 L1093.1,1230.9 Z" fill="#dedede" stroke="#5a5a5a" stroke-width="0.7"/>
<path d="M1105.4,1223.5 L1109,1222.1 L1109.4,1229.3 L1105.9,1230.7 Z" fill="#fff"/>
<path d="M1106.8,1188.5 L1121.4,1182.8 L1122.7,1206.5 L1108.3,1212 Z" fill="#d8d8d8" stroke="#5a5a5a" stroke-width="0.8"/>
<path d="M1110.4,1192.3 L1118.4,1189.2 L1119.2,1202.7 L1111.2,1205.7 Z" fill="#a4a4a4" stroke="#666" stroke-width="0.6"/>
<path d="M1110.3,1213.9 L1121,1209.7 L1121.6,1219.8 L1110.9,1224 Z" fill="#dedede" stroke="#5a5a5a" stroke-width="0.7"/>
<path d="M1123.2,1216.6 L1126.8,1215.2 L1127.2,1222.4 L1123.6,1223.8 Z" fill="#fff"/>
<path d="M1125,1181.4 L1139.6,1175.8 L1140.7,1199.5 L1126.3,1205.1 Z" fill="#d8d8d8" stroke="#5a5a5a" stroke-width="0.8"/>
<path d="M1128.6,1185.2 L1136.6,1182.1 L1137.2,1195.7 L1129.3,1198.8 Z" fill="#a4a4a4" stroke="#666" stroke-width="0.6"/>
<path d="M1128.2,1206.9 L1139,1202.8 L1139.4,1212.9 L1128.7,1217.1 Z" fill="#dedede" stroke="#5a5a5a" stroke-width="0.7"/>
<path d="M1141.1,1209.7 L1144.7,1208.3 L1144.9,1215.5 L1141.4,1216.9 Z" fill="#fff"/>
<path d="M1143.3,1174.4 L1157.9,1168.7 L1158.6,1192.6 L1144.2,1198.1 Z" fill="#d8d8d8" stroke="#5a5a5a" stroke-width="0.8"/>
<path d="M1146.8,1178.2 L1154.8,1175.1 L1155.2,1188.7 L1147.3,1191.8 Z" fill="#a4a4a4" stroke="#666" stroke-width="0.6"/>
<path d="M1146.1,1200 L1156.9,1195.8 L1157.2,1206 L1146.5,1210.2 Z" fill="#dedede" stroke="#5a5a5a" stroke-width="0.7"/>
<path d="M1158.9,1202.8 L1162.5,1201.4 L1162.7,1208.6 L1159.1,1210 Z" fill="#fff"/>
<path d="M1161.5,1167.3 L1176.2,1161.7 L1176.6,1185.6 L1162.2,1191.2 Z" fill="#d8d8d8" stroke="#5a5a5a" stroke-width="0.8"/>
<path d="M1165,1171.2 L1173,1168.1 L1173.2,1181.7 L1165.3,1184.8 Z" fill="#a4a4a4" stroke="#666" stroke-width="0.6"/>
<path d="M1164.1,1193 L1174.8,1188.9 L1175,1199.1 L1164.3,1203.3 Z" fill="#dedede" stroke="#5a5a5a" stroke-width="0.7"/>
<path d="M1176.8,1195.9 L1180.3,1194.5 L1180.4,1201.8 L1176.9,1203.1 Z" fill="#fff"/>
<path d="M1179.8,1160.3 L1194.4,1154.6 L1194.5,1178.7 L1180.2,1184.2 Z" fill="#d8d8d8" stroke="#5a5a5a" stroke-width="0.8"/>
<path d="M1183.2,1164.1 L1191.2,1161 L1191.3,1174.8 L1183.3,1177.8 Z" fill="#a4a4a4" stroke="#666" stroke-width="0.6"/>
<path d="M1182,1186.1 L1192.8,1181.9 L1192.8,1192.2 L1182.2,1196.4 Z" fill="#dedede" stroke="#5a5a5a" stroke-width="0.7"/>
<path d="M1194.6,1189 L1198.2,1187.6 L1198.2,1194.9 L1194.6,1196.3 Z" fill="#fff"/>
<path d="M1198.1,1153.2 L1212.7,1147.6 L1212.5,1171.7 L1198.1,1177.3 Z" fill="#d8d8d8" stroke="#5a5a5a" stroke-width="0.8"/>
<path d="M1201.4,1157.1 L1209.4,1154 L1209.3,1167.8 L1201.4,1170.9 Z" fill="#a4a4a4" stroke="#666" stroke-width="0.6"/>
<path d="M1199.9,1179.2 L1210.7,1175 L1210.6,1185.3 L1200,1189.5 Z" fill="#dedede" stroke="#5a5a5a" stroke-width="0.7"/>
<path d="M1212.4,1182.1 L1216,1180.7 L1215.9,1188 L1212.4,1189.4 Z" fill="#fff"/>
<path d="M1216.3,1146.2 L1230.9,1140.5 L1230.5,1164.8 L1216.1,1170.3 Z" fill="#d8d8d8" stroke="#5a5a5a" stroke-width="0.8"/>
<path d="M1219.6,1150.1 L1227.6,1147 L1227.3,1160.8 L1219.4,1163.9 Z" fill="#a4a4a4" stroke="#666" stroke-width="0.6"/>
<path d="M1217.9,1172.2 L1228.6,1168.1 L1228.5,1178.4 L1217.8,1182.6 Z" fill="#dedede" stroke="#5a5a5a" stroke-width="0.7"/>
<path d="M1230.3,1175.2 L1233.8,1173.8 L1233.7,1181.1 L1230.1,1182.5 Z" fill="#fff"/>
<path d="M1234.6,1139.1 L1249.2,1133.5 L1248.4,1157.8 L1234.1,1163.4 Z" fill="#d8d8d8" stroke="#5a5a5a" stroke-width="0.8"/>
<path d="M1237.8,1143.1 L1245.8,1140 L1245.4,1153.9 L1237.4,1156.9 Z" fill="#a4a4a4" stroke="#666" stroke-width="0.6"/>
<path d="M1235.8,1165.3 L1246.6,1161.1 L1246.3,1171.5 L1235.6,1175.7 Z" fill="#dedede" stroke="#5a5a5a" stroke-width="0.7"/>
<path d="M1248.1,1168.3 L1251.7,1166.9 L1251.4,1174.3 L1247.9,1175.6 Z" fill="#fff"/>
<path d="M1252.9,1132.1 L1267.5,1126.4 L1266.4,1150.9 L1252,1156.4 Z" fill="#d8d8d8" stroke="#5a5a5a" stroke-width="0.8"/>
<path d="M1256,1136 L1264,1132.9 L1263.4,1146.9 L1255.5,1150 Z" fill="#a4a4a4" stroke="#666" stroke-width="0.6"/>
<path d="M1253.7,1158.3 L1264.5,1154.2 L1264.1,1164.7 L1253.4,1168.8 Z" fill="#dedede" stroke="#5a5a5a" stroke-width="0.7"/>
<path d="M1266,1161.3 L1269.5,1160 L1269.2,1167.4 L1265.6,1168.8 Z" fill="#fff"/>
<path d="M1271.1,1125 L1285.7,1119.4 L1284.4,1143.9 L1270,1149.5 Z" fill="#d8d8d8" stroke="#5a5a5a" stroke-width="0.8"/>
<path d="M1274.2,1129 L1282.2,1125.9 L1281.4,1139.9 L1273.5,1143 Z" fill="#a4a4a4" stroke="#666" stroke-width="0.6"/>
<path d="M1271.7,1151.4 L1282.4,1147.2 L1281.9,1157.8 L1271.2,1161.9 Z" fill="#dedede" stroke="#5a5a5a" stroke-width="0.7"/>
<path d="M1283.8,1154.4 L1287.4,1153.1 L1286.9,1160.5 L1283.4,1161.9 Z" fill="#fff"/>
<path d="M1289.4,1118 L1304,1112.3 L1302.3,1137 L1288,1142.5 Z" fill="#d8d8d8" stroke="#5a5a5a" stroke-width="0.8"/>
<path d="M1292.4,1122 L1300.4,1118.9 L1299.5,1133 L1291.5,1136 Z" fill="#a4a4a4" stroke="#666" stroke-width="0.6"/>
<path d="M1289.6,1144.5 L1300.4,1140.3 L1299.7,1150.9 L1289,1155 Z" fill="#dedede" stroke="#5a5a5a" stroke-width="0.7"/>
<path d="M804,1082 L1087,980 L1306,1109 L995,1229 Z" fill="#d2d2d2" stroke="#8a8a8a" stroke-width="1"/>
<ellipse cx="812.3" cy="1078" rx="6" ry="3.6" fill="#d2d2d2" stroke="#8a8a8a" stroke-width="0.8"/>
<ellipse cx="1094.2" cy="982.8" rx="5.5" ry="3.6" fill="#d2d2d2" stroke="#8a8a8a" stroke-width="0.8"/>
<ellipse cx="829" cy="1072" rx="6" ry="3.6" fill="#d2d2d2" stroke="#8a8a8a" stroke-width="0.8"/>
<ellipse cx="1107.1" cy="990.4" rx="5.5" ry="3.6" fill="#d2d2d2" stroke="#8a8a8a" stroke-width="0.8"/>
<ellipse cx="845.6" cy="1066" rx="6" ry="3.6" fill="#d2d2d2" stroke="#8a8a8a" stroke-width="0.8"/>
<ellipse cx="1120" cy="998" rx="5.5" ry="3.6" fill="#d2d2d2" stroke="#8a8a8a" stroke-width="0.8"/>
<ellipse cx="862.3" cy="1060" rx="6" ry="3.6" fill="#d2d2d2" stroke="#8a8a8a" stroke-width="0.8"/>
<ellipse cx="1132.9" cy="1005.6" rx="5.5" ry="3.6" fill="#d2d2d2" stroke="#8a8a8a" stroke-width="0.8"/>
<ellipse cx="878.9" cy="1054" rx="6" ry="3.6" fill="#d2d2d2" stroke="#8a8a8a" stroke-width="0.8"/>
<ellipse cx="1145.8" cy="1013.1" rx="5.5" ry="3.6" fill="#d2d2d2" stroke="#8a8a8a" stroke-width="0.8"/>
<ellipse cx="895.6" cy="1048" rx="6" ry="3.6" fill="#d2d2d2" stroke="#8a8a8a" stroke-width="0.8"/>
<ellipse cx="1158.7" cy="1020.7" rx="5.5" ry="3.6" fill="#d2d2d2" stroke="#8a8a8a" stroke-width="0.8"/>
<ellipse cx="912.2" cy="1042" rx="6" ry="3.6" fill="#d2d2d2" stroke="#8a8a8a" stroke-width="0.8"/>
<ellipse cx="1171.5" cy="1028.3" rx="5.5" ry="3.6" fill="#d2d2d2" stroke="#8a8a8a" stroke-width="0.8"/>
<ellipse cx="928.9" cy="1036" rx="6" ry="3.6" fill="#d2d2d2" stroke="#8a8a8a" stroke-width="0.8"/>
<ellipse cx="1184.4" cy="1035.9" rx="5.5" ry="3.6" fill="#d2d2d2" stroke="#8a8a8a" stroke-width="0.8"/>
<ellipse cx="945.5" cy="1030" rx="6" ry="3.6" fill="#d2d2d2" stroke="#8a8a8a" stroke-width="0.8"/>
<ellipse cx="1197.3" cy="1043.5" rx="5.5" ry="3.6" fill="#d2d2d2" stroke="#8a8a8a" stroke-width="0.8"/>
<ellipse cx="962.1" cy="1024" rx="6" ry="3.6" fill="#d2d2d2" stroke="#8a8a8a" stroke-width="0.8"/>
<ellipse cx="1210.2" cy="1051.1" rx="5.5" ry="3.6" fill="#d2d2d2" stroke="#8a8a8a" stroke-width="0.8"/>
<ellipse cx="978.8" cy="1018" rx="6" ry="3.6" fill="#d2d2d2" stroke="#8a8a8a" stroke-width="0.8"/>
<ellipse cx="1223.1" cy="1058.7" rx="5.5" ry="3.6" fill="#d2d2d2" stroke="#8a8a8a" stroke-width="0.8"/>
<ellipse cx="995.4" cy="1012" rx="6" ry="3.6" fill="#d2d2d2" stroke="#8a8a8a" stroke-width="0.8"/>
<ellipse cx="1235.9" cy="1066.3" rx="5.5" ry="3.6" fill="#d2d2d2" stroke="#8a8a8a" stroke-width="0.8"/>
<ellipse cx="1012.1" cy="1006" rx="6" ry="3.6" fill="#d2d2d2" stroke="#8a8a8a" stroke-width="0.8"/>
<ellipse cx="1248.8" cy="1073.9" rx="5.5" ry="3.6" fill="#d2d2d2" stroke="#8a8a8a" stroke-width="0.8"/>
<ellipse cx="1028.7" cy="1000" rx="6" ry="3.6" fill="#d2d2d2" stroke="#8a8a8a" stroke-width="0.8"/>
<ellipse cx="1261.7" cy="1081.4" rx="5.5" ry="3.6" fill="#d2d2d2" stroke="#8a8a8a" stroke-width="0.8"/>
<ellipse cx="1045.4" cy="994" rx="6" ry="3.6" fill="#d2d2d2" stroke="#8a8a8a" stroke-width="0.8"/>
<ellipse cx="1274.6" cy="1089" rx="5.5" ry="3.6" fill="#d2d2d2" stroke="#8a8a8a" stroke-width="0.8"/>
<ellipse cx="1062" cy="988" rx="6" ry="3.6" fill="#d2d2d2" stroke="#8a8a8a" stroke-width="0.8"/>
<ellipse cx="1287.5" cy="1096.6" rx="5.5" ry="3.6" fill="#d2d2d2" stroke="#8a8a8a" stroke-width="0.8"/>
<ellipse cx="1078.7" cy="982" rx="6" ry="3.6" fill="#d2d2d2" stroke="#8a8a8a" stroke-width="0.8"/>
<ellipse cx="1300.4" cy="1104.2" rx="5.5" ry="3.6" fill="#d2d2d2" stroke="#8a8a8a" stroke-width="0.8"/>
<path d="M804,1082 L1087,980 L1306,1109 L995,1229 Z" fill="#d2d2d2"/>
<clipPath id="clipF"><path d="M804,1082 L1087,980 L1306,1109 L1303,1153 L1001,1270 L805.5,1123 Z"/></clipPath>
<g clip-path="url(#clipF)">
<ellipse cx="1036" cy="1081" rx="18" ry="10" fill="url(#gLB)" fill-opacity="0.5"/>
<ellipse cx="1060.6" cy="1095.7" rx="24" ry="12" fill="url(#gLB)" fill-opacity="0.55"/>
<ellipse cx="1085" cy="1118.5" rx="30" ry="15" fill="url(#gLB)" fill-opacity="0.6"/>
<ellipse cx="1120" cy="1145" rx="50" ry="26" fill="url(#gLB)" fill-opacity="0.6"/>
<ellipse cx="1150" cy="1200" rx="50" ry="24" fill="url(#gLB)" fill-opacity="0.75"/>
<ellipse cx="1175" cy="1185" rx="30" ry="20" fill="url(#gLB)" fill-opacity="0.6"/>
<ellipse cx="1101" cy="1173.7" rx="22" ry="11" fill="url(#gR)" fill-opacity="0.85"/>
<ellipse cx="1179" cy="1138" rx="24" ry="11" fill="url(#gR)" fill-opacity="0.85"/>
<ellipse cx="1150" cy="1121.7" rx="22" ry="10" fill="url(#gR)" fill-opacity="0.6"/>
<ellipse cx="1068.7" cy="1151" rx="20" ry="10" fill="url(#gR)" fill-opacity="0.6"/>
<ellipse cx="1093" cy="1160.7" rx="16" ry="8" fill="url(#gR)" fill-opacity="0.6"/>
<ellipse cx="1200" cy="1126" rx="18" ry="9" fill="url(#gR)" fill-opacity="0.5"/>
<ellipse cx="1085" cy="1119" rx="16" ry="9" fill="url(#gB)" fill-opacity="1"/>
<ellipse cx="1111" cy="1136.3" rx="24" ry="13" fill="url(#gB)" fill-opacity="1"/>
<ellipse cx="1141.8" cy="1155.8" rx="40" ry="18" fill="url(#gB)" fill-opacity="1"/>
<ellipse cx="1150" cy="1195" rx="30" ry="18" fill="url(#gB)" fill-opacity="1"/>
<ellipse cx="1137" cy="1157" rx="30" ry="13" fill="url(#gDK)" fill-opacity="1"/>
<ellipse cx="1115" cy="1140" rx="14" ry="7" fill="url(#gDK)" fill-opacity="0.7"/>
</g>
<path d="M824.4,1092 832.1,1091 834.1,1094.6 833.3,1095.4 834.1,1098.8 826.4,1099.9 824.4,1096.2 825.2,1095.4ZM846.9,1109.2 854.7,1108.1 856.7,1111.8 855.9,1112.7 856.7,1116.1 848.9,1117.2 846.9,1113.5 847.7,1112.7ZM869.4,1126.4 877.3,1125.3 879.4,1129.1 878.5,1129.9 879.4,1133.4 871.5,1134.5 869.4,1130.7 870.2,1129.9ZM891.9,1143.6 899.9,1142.5 902,1146.3 901.2,1147.1 902,1150.7 894,1151.8 891.9,1148 892.7,1147.1ZM914.4,1160.8 922.5,1159.7 924.6,1163.5 923.8,1164.4 924.6,1167.9 916.5,1169 914.4,1165.2 915.3,1164.4ZM936.9,1178 945.1,1176.8 947.3,1180.7 946.4,1181.6 947.3,1185.2 939.1,1186.3 936.9,1182.4 937.8,1181.6ZM959.4,1195.1 967.7,1194 969.9,1197.9 969,1198.8 969.9,1202.5 961.6,1203.6 959.4,1199.7 960.3,1198.8ZM981.9,1212.3 990.3,1211.2 992.5,1215.2 991.6,1216 992.5,1219.8 984.1,1220.9 981.9,1216.9 982.8,1216ZM829.8,1077.4 837.5,1076.3 839.5,1080 838.7,1080.8 839.5,1084.2 831.8,1085.2 829.8,1081.6 830.6,1080.8ZM852.5,1094.5 860.3,1093.4 862.3,1097.1 861.5,1097.9 862.3,1101.3 854.6,1102.4 852.5,1098.7 853.3,1097.9ZM875.2,1111.5 883.1,1110.4 885.1,1114.2 884.3,1115 885.1,1118.5 877.3,1119.5 875.2,1115.8 876,1115ZM897.9,1128.6 905.9,1127.5 908,1131.3 907.1,1132.1 908,1135.6 900,1136.7 897.9,1132.9 898.8,1132.1ZM920.6,1145.6 928.7,1144.5 930.8,1148.4 929.9,1149.2 930.8,1152.8 922.7,1153.9 920.6,1150.1 921.5,1149.2ZM943.3,1162.7 951.5,1161.6 953.6,1165.5 952.8,1166.3 953.6,1169.9 945.5,1171 943.3,1167.2 944.2,1166.3ZM966,1179.8 974.3,1178.6 976.4,1182.6 975.6,1183.4 976.4,1187.1 968.2,1188.2 966,1184.3 966.9,1183.4ZM988.7,1196.8 997.1,1195.7 999.3,1199.6 998.4,1200.5 999.3,1204.2 990.9,1205.4 988.7,1201.4 989.6,1200.5ZM1011.4,1213.9 1019.9,1212.7 1022.1,1216.7 1021.2,1217.6 1022.1,1221.4 1013.6,1222.5 1011.4,1218.5 1012.3,1217.6ZM858,1079.8 865.7,1078.8 867.7,1082.4 866.9,1083.2 867.7,1086.6 860,1087.7 858,1084 858.8,1083.2ZM880.9,1096.8 888.7,1095.7 890.7,1099.4 889.9,1100.2 890.7,1103.7 882.9,1104.7 880.9,1101 881.7,1100.2ZM903.7,1113.7 911.7,1112.6 913.7,1116.4 912.9,1117.2 913.7,1120.7 905.8,1121.8 903.7,1118 904.6,1117.2ZM926.6,1130.6 934.6,1129.6 936.8,1133.3 935.9,1134.2 936.8,1137.7 928.7,1138.8 926.6,1135 927.5,1134.2ZM949.5,1147.6 957.6,1146.5 959.8,1150.3 958.9,1151.2 959.8,1154.7 951.7,1155.9 949.5,1152 950.4,1151.2ZM972.4,1164.5 980.6,1163.4 982.8,1167.3 981.9,1168.2 982.8,1171.8 974.6,1172.9 972.4,1169 973.3,1168.2ZM995.3,1181.5 1003.6,1180.3 1005.8,1184.3 1004.9,1185.1 1005.8,1188.8 997.5,1189.9 995.3,1186 996.2,1185.1ZM1018.2,1198.4 1026.6,1197.3 1028.8,1201.2 1027.9,1202.1 1028.8,1205.8 1020.4,1207 1018.2,1203 1019.1,1202.1ZM863.2,1065.3 870.9,1064.3 872.9,1067.9 872.1,1068.7 872.9,1072.1 865.2,1073.2 863.2,1069.5 864,1068.7ZM886.3,1082.1 894.1,1081.1 896.1,1084.8 895.3,1085.6 896.1,1089 888.3,1090.1 886.3,1086.4 887.1,1085.6ZM909.4,1099 917.2,1097.9 919.3,1101.6 918.5,1102.4 919.3,1105.9 911.5,1107 909.4,1103.3 910.2,1102.4ZM932.5,1115.8 940.4,1114.7 942.5,1118.5 941.7,1119.3 942.5,1122.8 934.6,1123.9 932.5,1120.1 933.3,1119.3ZM955.6,1132.6 963.6,1131.5 965.7,1135.3 964.9,1136.1 965.7,1139.7 957.7,1140.8 955.6,1137 956.4,1136.1ZM978.6,1149.4 986.8,1148.3 988.9,1152.1 988.1,1153 988.9,1156.6 980.8,1157.7 978.6,1153.9 979.5,1153ZM1001.7,1166.2 1010,1165.1 1012.2,1169 1011.3,1169.9 1012.2,1173.5 1003.9,1174.6 1001.7,1170.7 1002.6,1169.9ZM1024.8,1183 1033.2,1181.9 1035.4,1185.8 1034.5,1186.7 1035.4,1190.4 1027,1191.6 1024.8,1187.6 1025.7,1186.7ZM1047.9,1199.8 1056.4,1198.7 1058.6,1202.7 1057.7,1203.6 1058.6,1207.3 1050.1,1208.5 1047.9,1204.5 1048.8,1203.6ZM891.5,1067.6 899.3,1066.6 901.3,1070.2 900.5,1071.1 901.3,1074.5 893.6,1075.5 891.5,1071.9 892.4,1071.1ZM914.8,1084.3 922.6,1083.3 924.7,1087 923.9,1087.8 924.7,1091.2 916.9,1092.3 914.8,1088.6 915.7,1087.8ZM938.1,1101 946,1099.9 948.1,1103.7 947.3,1104.5 948.1,1108 940.2,1109.1 938.1,1105.3 938.9,1104.5ZM961.4,1117.7 969.4,1116.6 971.5,1120.4 970.7,1121.3 971.5,1124.8 963.5,1125.9 961.4,1122.1 962.2,1121.3ZM984.7,1134.4 992.8,1133.3 994.9,1137.1 994.1,1138 994.9,1141.6 986.8,1142.7 984.7,1138.8 985.5,1138ZM1008,1151.1 1016.2,1150 1018.3,1153.9 1017.4,1154.7 1018.3,1158.3 1010.1,1159.5 1008,1155.6 1008.8,1154.7ZM1031.2,1167.8 1039.5,1166.6 1041.7,1170.6 1040.8,1171.5 1041.7,1175.1 1033.4,1176.3 1031.2,1172.3 1032.1,1171.5ZM1054.5,1184.5 1062.9,1183.3 1065.1,1187.3 1064.2,1188.2 1065.1,1191.9 1056.7,1193 1054.5,1189.1 1055.4,1188.2ZM896.6,1053.3 904.3,1052.2 906.3,1055.8 905.5,1056.7 906.3,1060 898.6,1061.1 896.6,1057.5 897.4,1056.7ZM920.1,1069.8 927.8,1068.8 929.9,1072.4 929.1,1073.3 929.9,1076.7 922.1,1077.8 920.1,1074.1 920.9,1073.3ZM943.6,1086.4 951.4,1085.3 953.5,1089 952.7,1089.9 953.5,1093.3 945.6,1094.4 943.6,1090.7 944.4,1089.9ZM967,1103 975,1101.9 977.1,1105.6 976.2,1106.5 977.1,1110 969.1,1111.1 967,1107.3 967.9,1106.5ZM990.5,1119.5 998.6,1118.4 1000.7,1122.2 999.8,1123.1 1000.7,1126.6 992.6,1127.8 990.5,1123.9 991.3,1123.1ZM1014,1136.1 1022.1,1135 1024.3,1138.8 1023.4,1139.7 1024.3,1143.3 1016.1,1144.4 1014,1140.6 1014.8,1139.7ZM1037.5,1152.7 1045.7,1151.5 1047.9,1155.4 1047,1156.3 1047.9,1160 1039.6,1161.1 1037.5,1157.2 1038.3,1156.3ZM1060.9,1169.2 1069.3,1168.1 1071.5,1172 1070.6,1172.9 1071.5,1176.6 1063.1,1177.7 1060.9,1173.8 1061.8,1172.9ZM1084.4,1185.8 1092.8,1184.6 1095.1,1188.6 1094.2,1189.5 1095.1,1193.3 1086.6,1194.4 1084.4,1190.4 1085.3,1189.5ZM925.1,1055.5 932.8,1054.4 934.9,1058.1 934.1,1058.9 934.9,1062.3 927.2,1063.3 925.1,1059.7 925.9,1058.9ZM948.8,1071.9 956.6,1070.8 958.7,1074.5 957.8,1075.3 958.7,1078.8 950.9,1079.9 948.8,1076.2 949.6,1075.3ZM972.5,1088.3 980.4,1087.3 982.5,1091 981.6,1091.8 982.5,1095.3 974.6,1096.4 972.5,1092.7 973.3,1091.8ZM996.1,1104.8 1004.1,1103.7 1006.2,1107.5 1005.4,1108.3 1006.2,1111.9 998.2,1113 996.1,1109.2 997,1108.3ZM1019.8,1121.2 1027.9,1120.1 1030,1123.9 1029.2,1124.8 1030,1128.4 1021.9,1129.5 1019.8,1125.7 1020.7,1124.8ZM1043.5,1137.7 1051.7,1136.5 1053.8,1140.4 1053,1141.3 1053.8,1144.9 1045.6,1146 1043.5,1142.1 1044.3,1141.3ZM1067.1,1154.1 1075.4,1153 1077.6,1156.9 1076.8,1157.8 1077.6,1161.4 1069.3,1162.6 1067.1,1158.6 1068,1157.8ZM1090.8,1170.5 1099.2,1169.4 1101.4,1173.4 1100.5,1174.3 1101.4,1178 1093,1179.1 1090.8,1175.1 1091.7,1174.3ZM930,1041.2 937.7,1040.2 939.7,1043.8 938.9,1044.6 939.7,1048 932,1049 930,1045.4 930.8,1044.6ZM953.9,1057.5 961.6,1056.5 963.7,1060.1 962.8,1060.9 963.7,1064.4 955.9,1065.4 953.9,1061.8 954.7,1060.9ZM977.7,1073.8 985.6,1072.8 987.6,1076.5 986.8,1077.3 987.6,1080.8 979.8,1081.9 977.7,1078.1 978.5,1077.3ZM1001.6,1090.2 1009.5,1089.1 1011.6,1092.8 1010.8,1093.7 1011.6,1097.2 1003.7,1098.3 1001.6,1094.5 1002.4,1093.7ZM1025.4,1106.5 1033.5,1105.4 1035.6,1109.2 1034.8,1110 1035.6,1113.6 1027.6,1114.7 1025.4,1110.9 1026.3,1110ZM1049.3,1122.8 1057.5,1121.7 1059.6,1125.5 1058.7,1126.4 1059.6,1130 1051.5,1131.1 1049.3,1127.2 1050.2,1126.4ZM1073.2,1139.1 1081.4,1138 1083.6,1141.9 1082.7,1142.7 1083.6,1146.4 1075.3,1147.5 1073.2,1143.6 1074,1142.7ZM1097,1155.4 1105.4,1154.3 1107.6,1158.2 1106.7,1159.1 1107.6,1162.8 1099.2,1163.9 1097,1160 1097.9,1159.1ZM1120.9,1171.7 1129.3,1170.6 1131.6,1174.6 1130.7,1175.5 1131.6,1179.2 1123.1,1180.4 1120.9,1176.4 1121.8,1175.5ZM958.7,1043.3 966.4,1042.2 968.5,1045.9 967.6,1046.7 968.5,1050.1 960.7,1051.1 958.7,1047.5 959.5,1046.7ZM982.8,1059.5 990.6,1058.4 992.6,1062.1 991.8,1062.9 992.6,1066.4 984.8,1067.4 982.8,1063.7 983.6,1062.9ZM1006.8,1075.7 1014.7,1074.6 1016.8,1078.3 1016,1079.1 1016.8,1082.6 1008.9,1083.7 1006.8,1080 1007.7,1079.1ZM1030.9,1091.8 1038.9,1090.7 1041,1094.5 1040.2,1095.4 1041,1098.9 1033,1100 1030.9,1096.2 1031.7,1095.4ZM1054.9,1108 1063,1106.9 1065.2,1110.8 1064.3,1111.6 1065.2,1115.2 1057.1,1116.3 1054.9,1112.5 1055.8,1111.6ZM1079,1124.2 1087.2,1123.1 1089.4,1127 1088.5,1127.9 1089.4,1131.5 1081.2,1132.6 1079,1128.7 1079.9,1127.9ZM1103.1,1140.4 1111.4,1139.3 1113.5,1143.2 1112.7,1144.1 1113.5,1147.8 1105.2,1148.9 1103.1,1145 1103.9,1144.1ZM1127.1,1156.6 1135.5,1155.5 1137.7,1159.4 1136.8,1160.3 1137.7,1164 1129.3,1165.2 1127.1,1161.2 1128,1160.3ZM963.4,1029.1 971,1028.1 973.1,1031.7 972.3,1032.5 973.1,1035.9 965.4,1037 963.4,1033.3 964.2,1032.5ZM987.6,1045.2 995.4,1044.1 997.4,1047.8 996.6,1048.6 997.4,1052.1 989.7,1053.1 987.6,1049.5 988.5,1048.6ZM1011.9,1061.3 1019.7,1060.2 1021.8,1063.9 1021,1064.7 1021.8,1068.2 1014,1069.3 1011.9,1065.6 1012.7,1064.7ZM1036.1,1077.3 1044.1,1076.3 1046.2,1080 1045.3,1080.9 1046.2,1084.4 1038.2,1085.5 1036.1,1081.7 1037,1080.9ZM1060.4,1093.4 1068.4,1092.3 1070.6,1096.1 1069.7,1097 1070.6,1100.5 1062.5,1101.6 1060.4,1097.8 1061.2,1097ZM1084.6,1109.5 1092.8,1108.4 1094.9,1112.2 1094.1,1113.1 1094.9,1116.7 1086.8,1117.8 1084.6,1113.9 1085.5,1113.1ZM1108.9,1125.5 1117.1,1124.4 1119.3,1128.3 1118.4,1129.2 1119.3,1132.8 1111.1,1134 1108.9,1130.1 1109.8,1129.2ZM1133.1,1141.6 1141.5,1140.5 1143.7,1144.4 1142.8,1145.3 1143.7,1149 1135.3,1150.1 1133.1,1146.2 1134,1145.3ZM1157.4,1157.7 1165.8,1156.5 1168,1160.5 1167.2,1161.4 1168,1165.1 1159.6,1166.3 1157.4,1162.3 1158.3,1161.4ZM992.3,1031.1 1000,1030 1002,1033.7 1001.2,1034.5 1002,1037.9 994.3,1039 992.3,1035.3 993.1,1034.5ZM1016.7,1047 1024.6,1046 1026.6,1049.7 1025.8,1050.5 1026.6,1053.9 1018.8,1055 1016.7,1051.3 1017.6,1050.5ZM1041.2,1063 1049.1,1061.9 1051.2,1065.6 1050.3,1066.5 1051.2,1070 1043.3,1071 1041.2,1067.3 1042,1066.5ZM1065.6,1078.9 1073.6,1077.8 1075.7,1081.6 1074.9,1082.4 1075.7,1086 1067.7,1087.1 1065.6,1083.3 1066.5,1082.4ZM1090.1,1094.9 1098.2,1093.7 1100.3,1097.6 1099.5,1098.4 1100.3,1102 1092.2,1103.1 1090.1,1099.3 1090.9,1098.4ZM1114.5,1110.8 1122.7,1109.7 1124.9,1113.6 1124,1114.4 1124.9,1118 1116.7,1119.2 1114.5,1115.3 1115.4,1114.4ZM1139,1126.7 1147.3,1125.6 1149.4,1129.5 1148.6,1130.4 1149.4,1134.1 1141.1,1135.2 1139,1131.3 1139.8,1130.4ZM1163.4,1142.7 1171.8,1141.5 1174,1145.5 1173.1,1146.4 1174,1150.1 1165.6,1151.3 1163.4,1147.3 1164.3,1146.4ZM996.8,1017.1 1004.4,1016 1006.5,1019.7 1005.7,1020.5 1006.5,1023.9 998.8,1024.9 996.8,1021.3 997.6,1020.5ZM1021.4,1032.9 1029.2,1031.8 1031.2,1035.5 1030.4,1036.3 1031.2,1039.8 1023.5,1040.8 1021.4,1037.1 1022.2,1036.3ZM1046,1048.7 1053.9,1047.6 1056,1051.4 1055.2,1052.2 1056,1055.7 1048.1,1056.7 1046,1053 1046.9,1052.2ZM1070.7,1064.5 1078.6,1063.4 1080.7,1067.2 1079.9,1068.1 1080.7,1071.6 1072.8,1072.7 1070.7,1068.9 1071.5,1068.1ZM1095.3,1080.4 1103.4,1079.2 1105.5,1083.1 1104.7,1083.9 1105.5,1087.5 1097.4,1088.6 1095.3,1084.8 1096.2,1083.9ZM1120,1096.2 1128.1,1095.1 1130.3,1098.9 1129.4,1099.8 1130.3,1103.4 1122.1,1104.5 1120,1100.6 1120.8,1099.8ZM1144.6,1112 1152.8,1110.9 1155,1114.8 1154.2,1115.6 1155,1119.3 1146.8,1120.4 1144.6,1116.5 1145.5,1115.6ZM1169.2,1127.8 1177.6,1126.7 1179.8,1130.6 1178.9,1131.5 1179.8,1135.2 1171.4,1136.3 1169.2,1132.4 1170.1,1131.5ZM1193.9,1143.6 1202.3,1142.5 1204.5,1146.5 1203.7,1147.4 1204.5,1151.1 1196.1,1152.2 1193.9,1148.2 1194.8,1147.4ZM1025.9,1018.9 1033.6,1017.8 1035.6,1021.5 1034.8,1022.3 1035.6,1025.7 1027.9,1026.8 1025.9,1023.1 1026.7,1022.3ZM1050.7,1034.6 1058.5,1033.5 1060.6,1037.2 1059.8,1038 1060.6,1041.5 1052.8,1042.6 1050.7,1038.9 1051.5,1038ZM1075.5,1050.3 1083.5,1049.2 1085.5,1052.9 1084.7,1053.8 1085.5,1057.3 1077.6,1058.4 1075.5,1054.6 1076.4,1053.8ZM1100.4,1066 1108.4,1064.9 1110.5,1068.7 1109.6,1069.5 1110.5,1073.1 1102.5,1074.1 1100.4,1070.4 1101.2,1069.5ZM1125.2,1081.7 1133.3,1080.6 1135.4,1084.4 1134.6,1085.3 1135.4,1088.8 1127.3,1089.9 1125.2,1086.1 1126.1,1085.3ZM1150,1097.4 1158.2,1096.2 1160.4,1100.1 1159.5,1101 1160.4,1104.6 1152.2,1105.7 1150,1101.9 1150.9,1101ZM1174.9,1113.1 1183.2,1111.9 1185.4,1115.9 1184.5,1116.7 1185.4,1120.4 1177.1,1121.5 1174.9,1117.6 1175.7,1116.7ZM1199.7,1128.8 1208.1,1127.6 1210.3,1131.6 1209.4,1132.5 1210.3,1136.2 1201.9,1137.3 1199.7,1133.3 1200.6,1132.5ZM1030.2,1005 1037.8,1004 1039.8,1007.6 1039,1008.4 1039.8,1011.8 1032.2,1012.8 1030.2,1009.2 1031,1008.4ZM1055.2,1020.6 1063,1019.5 1065,1023.2 1064.2,1024 1065,1027.4 1057.2,1028.5 1055.2,1024.8 1056,1024ZM1080.2,1036.2 1088.1,1035.1 1090.1,1038.8 1089.3,1039.6 1090.1,1043.1 1082.3,1044.2 1080.2,1040.5 1081,1039.6ZM1105.2,1051.7 1113.2,1050.6 1115.3,1054.4 1114.5,1055.2 1115.3,1058.8 1107.3,1059.8 1105.2,1056.1 1106.1,1055.2ZM1130.3,1067.3 1138.3,1066.2 1140.4,1070 1139.6,1070.9 1140.4,1074.4 1132.4,1075.5 1130.3,1071.7 1131.1,1070.9ZM1155.3,1082.9 1163.4,1081.7 1165.6,1085.6 1164.7,1086.5 1165.6,1090.1 1157.4,1091.2 1155.3,1087.3 1156.1,1086.5ZM1180.3,1098.4 1188.6,1097.3 1190.7,1101.2 1189.9,1102.1 1190.7,1105.7 1182.5,1106.9 1180.3,1102.9 1181.2,1102.1ZM1205.3,1114 1213.7,1112.9 1215.9,1116.8 1215,1117.7 1215.9,1121.4 1207.5,1122.5 1205.3,1118.6 1206.2,1117.7ZM1230.4,1129.6 1238.8,1128.4 1241,1132.4 1240.1,1133.3 1241,1137 1232.6,1138.2 1230.4,1134.2 1231.3,1133.3ZM1059.5,1006.7 1067.2,1005.6 1069.2,1009.3 1068.4,1010.1 1069.2,1013.5 1061.5,1014.6 1059.5,1010.9 1060.3,1010.1ZM1084.7,1022.2 1092.5,1021.1 1094.6,1024.8 1093.7,1025.6 1094.6,1029.1 1086.7,1030.1 1084.7,1026.4 1085.5,1025.6ZM1109.9,1037.6 1117.8,1036.5 1119.9,1040.3 1119.1,1041.1 1119.9,1044.6 1112,1045.7 1109.9,1041.9 1110.7,1041.1ZM1135.1,1053 1143.1,1051.9 1145.2,1055.7 1144.4,1056.6 1145.2,1060.1 1137.2,1061.2 1135.1,1057.4 1136,1056.6ZM1160.3,1068.5 1168.4,1067.4 1170.6,1071.2 1169.7,1072.1 1170.6,1075.6 1162.5,1076.8 1160.3,1072.9 1161.2,1072.1ZM1185.6,1083.9 1193.8,1082.8 1195.9,1086.7 1195.1,1087.6 1195.9,1091.2 1187.7,1092.3 1185.6,1088.4 1186.4,1087.6ZM1210.8,1099.4 1219.1,1098.2 1221.3,1102.2 1220.4,1103 1221.3,1106.7 1213,1107.8 1210.8,1103.9 1211.7,1103ZM1236,1114.8 1244.4,1113.7 1246.6,1117.6 1245.7,1118.5 1246.6,1122.2 1238.2,1123.4 1236,1119.4 1236.9,1118.5ZM1063.6,993 1071.2,991.9 1073.2,995.5 1072.4,996.3 1073.2,999.7 1065.6,1000.8 1063.6,997.1 1064.4,996.3ZM1089,1008.3 1096.7,1007.2 1098.8,1010.9 1098,1011.7 1098.8,1015.1 1091,1016.2 1089,1012.5 1089.8,1011.7ZM1114.4,1023.6 1122.2,1022.5 1124.3,1026.2 1123.5,1027.1 1124.3,1030.5 1116.5,1031.6 1114.4,1027.9 1115.2,1027.1ZM1139.8,1038.9 1147.8,1037.8 1149.8,1041.6 1149,1042.4 1149.8,1045.9 1141.9,1047 1139.8,1043.3 1140.6,1042.4ZM1165.2,1054.2 1173.3,1053.1 1175.4,1056.9 1174.5,1057.8 1175.4,1061.4 1167.3,1062.5 1165.2,1058.6 1166.1,1057.8ZM1190.6,1069.6 1198.8,1068.4 1200.9,1072.3 1200.1,1073.2 1200.9,1076.8 1192.8,1077.9 1190.6,1074 1191.5,1073.2ZM1216,1084.9 1224.3,1083.7 1226.5,1087.7 1225.6,1088.5 1226.5,1092.2 1218.2,1093.3 1216,1089.4 1216.9,1088.5ZM1241.4,1100.2 1249.8,1099.1 1252,1103 1251.1,1103.9 1252,1107.6 1243.6,1108.7 1241.4,1104.8 1242.3,1103.9ZM1266.9,1115.5 1275.3,1114.4 1277.5,1118.4 1276.6,1119.2 1277.5,1123 1269.1,1124.1 1266.9,1120.1 1267.7,1119.2ZM1093.1,994.5 1100.8,993.5 1102.8,997.1 1102,997.9 1102.8,1001.3 1095.1,1002.4 1093.1,998.7 1093.9,997.9ZM1118.7,1009.7 1126.5,1008.6 1128.5,1012.3 1127.7,1013.2 1128.5,1016.6 1120.7,1017.7 1118.7,1014 1119.5,1013.2ZM1144.3,1024.9 1152.2,1023.8 1154.3,1027.6 1153.4,1028.4 1154.3,1031.9 1146.3,1033 1144.3,1029.2 1145.1,1028.4ZM1169.9,1040.1 1177.9,1039 1180,1042.8 1179.1,1043.6 1180,1047.2 1172,1048.3 1169.9,1044.5 1170.7,1043.6ZM1195.5,1055.3 1203.6,1054.2 1205.7,1058 1204.9,1058.9 1205.7,1062.5 1197.6,1063.6 1195.5,1059.7 1196.3,1058.9ZM1221.1,1070.5 1229.3,1069.4 1231.4,1073.3 1230.6,1074.1 1231.4,1077.7 1223.2,1078.9 1221.1,1075 1222,1074.1ZM1246.7,1085.7 1255,1084.6 1257.2,1088.5 1256.3,1089.4 1257.2,1093 1248.9,1094.2 1246.7,1090.2 1247.6,1089.4ZM1272.3,1100.9 1280.7,1099.7 1282.9,1103.7 1282,1104.6 1282.9,1108.3 1274.5,1109.5 1272.3,1105.5 1273.2,1104.6Z" fill="#8a8a8a" stroke="#4a4a4a" stroke-width="1" stroke-linejoin="round"/>
<path d="M810.7,1087.2 813.9,1084.2 818,1085 822,1083.9 825.2,1086.4 822,1089.4 818,1088.6 813.9,1089.7ZM833.2,1104.4 836.4,1101.4 840.5,1102.2 844.6,1101.1 847.9,1103.6 844.6,1106.7 840.5,1105.8 836.4,1107ZM855.7,1121.7 859,1118.6 863.1,1119.5 867.2,1118.3 870.5,1120.9 867.2,1123.9 863.1,1123.1 859,1124.2ZM878.1,1138.9 881.5,1135.8 885.7,1136.7 889.9,1135.5 893.2,1138.1 889.9,1141.2 885.7,1140.3 881.5,1141.5ZM900.6,1156.2 904,1153 908.2,1153.9 912.5,1152.7 915.9,1155.3 912.5,1158.4 908.2,1157.6 904,1158.8ZM923.1,1173.4 926.5,1170.2 930.8,1171.1 935.1,1169.9 938.5,1172.5 935.1,1175.7 930.8,1174.9 926.5,1176.1ZM945.6,1190.6 949,1187.4 953.4,1188.3 957.7,1187.1 961.2,1189.8 957.7,1193 953.4,1192.1 949,1193.3ZM968,1207.9 971.5,1204.6 975.9,1205.5 980.3,1204.3 983.8,1207 980.3,1210.2 975.9,1209.4 971.5,1210.6ZM990.5,1225.1 994.1,1221.8 998.5,1222.7 1002.9,1221.5 1006.5,1224.2 1002.9,1227.5 998.5,1226.6 994.1,1227.9ZM838.7,1089.7 842,1086.7 846,1087.5 850.1,1086.4 853.3,1088.9 850.1,1091.9 846,1091.1 842,1092.3ZM861.4,1106.8 864.7,1103.8 868.8,1104.6 872.9,1103.5 876.2,1106 872.9,1109.1 868.8,1108.2 864.7,1109.4ZM884.1,1124 887.4,1120.9 891.6,1121.7 895.7,1120.5 899.1,1123.1 895.7,1126.2 891.6,1125.4 887.4,1126.5ZM906.7,1141.1 910.1,1138 914.3,1138.8 918.5,1137.6 921.9,1140.2 918.5,1143.3 914.3,1142.5 910.1,1143.7ZM929.4,1158.2 932.8,1155 937.1,1155.9 941.4,1154.7 944.8,1157.3 941.4,1160.5 937.1,1159.6 932.8,1160.8ZM952.1,1175.3 955.5,1172.1 959.8,1173 964.2,1171.8 967.6,1174.4 964.2,1177.6 959.8,1176.8 955.5,1178ZM974.7,1192.4 978.2,1189.2 982.6,1190.1 987,1188.8 990.5,1191.5 987,1194.8 982.6,1193.9 978.2,1195.1ZM997.4,1209.5 1001,1206.3 1005.4,1207.1 1009.8,1205.9 1013.3,1208.6 1009.8,1211.9 1005.4,1211 1001,1212.3ZM844.1,1075.1 847.3,1072.2 851.4,1073 855.4,1071.8 858.6,1074.3 855.4,1077.3 851.4,1076.5 847.3,1077.7ZM867,1092.1 870.2,1089.1 874.3,1089.9 878.4,1088.8 881.7,1091.3 878.4,1094.3 874.3,1093.5 870.2,1094.7ZM889.8,1109.1 893.1,1106.1 897.3,1106.9 901.4,1105.7 904.7,1108.3 901.4,1111.4 897.3,1110.5 893.1,1111.7ZM912.7,1126.1 916,1123 920.2,1123.9 924.4,1122.7 927.8,1125.3 924.4,1128.4 920.2,1127.5 916,1128.7ZM935.5,1143.1 938.9,1140 943.2,1140.8 947.4,1139.6 950.8,1142.3 947.4,1145.4 943.2,1144.5 938.9,1145.7ZM958.4,1160.1 961.8,1156.9 966.1,1157.8 970.4,1156.6 973.9,1159.2 970.4,1162.4 966.1,1161.5 961.8,1162.7ZM981.3,1177.1 984.7,1173.9 989.1,1174.7 993.4,1173.5 996.9,1176.2 993.4,1179.4 989.1,1178.6 984.7,1179.8ZM1004.1,1194.1 1007.6,1190.8 1012,1191.7 1016.4,1190.5 1019.9,1193.2 1016.4,1196.4 1012,1195.6 1007.6,1196.8ZM1027,1211.1 1030.6,1207.8 1035,1208.7 1039.4,1207.4 1043,1210.2 1039.4,1213.5 1035,1212.6 1030.6,1213.8ZM872.3,1077.5 875.6,1074.5 879.6,1075.4 883.7,1074.2 886.9,1076.7 883.7,1079.7 879.6,1078.9 875.6,1080.1ZM895.4,1094.4 898.7,1091.4 902.8,1092.2 906.9,1091 910.2,1093.6 906.9,1096.6 902.8,1095.8 898.7,1097ZM918.4,1111.3 921.8,1108.2 925.9,1109 930.1,1107.9 933.4,1110.4 930.1,1113.5 925.9,1112.7 921.8,1113.9ZM941.5,1128.1 944.9,1125 949.1,1125.9 953.3,1124.7 956.7,1127.3 953.3,1130.4 949.1,1129.6 944.9,1130.8ZM964.5,1145 968,1141.8 972.2,1142.7 976.5,1141.5 979.9,1144.1 976.5,1147.3 972.2,1146.5 968,1147.6ZM987.6,1161.9 991.1,1158.7 995.4,1159.5 999.7,1158.3 1003.1,1161 999.7,1164.2 995.4,1163.3 991.1,1164.5ZM1010.7,1178.7 1014.2,1175.5 1018.5,1176.4 1022.9,1175.1 1026.4,1177.9 1022.9,1181.1 1018.5,1180.2 1014.2,1181.4ZM1033.7,1195.6 1037.2,1192.3 1041.7,1193.2 1046.1,1192 1049.6,1194.7 1046.1,1198 1041.7,1197.1 1037.2,1198.3ZM877.5,1063.1 880.7,1060.1 884.7,1060.9 888.8,1059.8 892,1062.3 888.8,1065.3 884.7,1064.5 880.7,1065.6ZM900.7,1079.8 904,1076.8 908.1,1077.6 912.2,1076.5 915.4,1079 912.2,1082 908.1,1081.2 904,1082.4ZM924,1096.6 927.3,1093.5 931.4,1094.3 935.6,1093.2 938.9,1095.7 935.6,1098.8 931.4,1098 927.3,1099.1ZM947.2,1113.3 950.6,1110.2 954.8,1111 959,1109.9 962.3,1112.5 959,1115.6 954.8,1114.7 950.6,1115.9ZM970.5,1130 973.9,1126.9 978.1,1127.8 982.4,1126.6 985.7,1129.2 982.4,1132.3 978.1,1131.5 973.9,1132.7ZM993.7,1146.8 997.2,1143.6 1001.5,1144.5 1005.8,1143.3 1009.2,1145.9 1005.8,1149.1 1001.5,1148.2 997.2,1149.4ZM1017,1163.5 1020.5,1160.3 1024.8,1161.2 1029.1,1160 1032.6,1162.7 1029.1,1165.9 1024.8,1165 1020.5,1166.2ZM1040.2,1180.3 1043.8,1177 1048.1,1177.9 1052.5,1176.7 1056.1,1179.4 1052.5,1182.6 1048.1,1181.8 1043.8,1183ZM1063.5,1197 1067,1193.7 1071.5,1194.6 1075.9,1193.4 1079.5,1196.1 1075.9,1199.4 1071.5,1198.5 1067,1199.8ZM905.9,1065.4 909.2,1062.4 913.2,1063.2 917.3,1062 920.5,1064.6 917.3,1067.6 913.2,1066.7 909.2,1067.9ZM929.3,1082 932.6,1078.9 936.7,1079.8 940.9,1078.6 944.1,1081.2 940.9,1084.2 936.7,1083.4 932.6,1084.5ZM952.8,1098.6 956.1,1095.5 960.3,1096.3 964.4,1095.2 967.8,1097.8 964.4,1100.8 960.3,1100 956.1,1101.2ZM976.2,1115.2 979.6,1112.1 983.8,1112.9 988,1111.8 991.4,1114.4 988,1117.5 983.8,1116.6 979.6,1117.8ZM999.7,1131.8 1003.1,1128.7 1007.4,1129.5 1011.6,1128.3 1015,1131 1011.6,1134.1 1007.4,1133.3 1003.1,1134.5ZM1023.1,1148.4 1026.6,1145.2 1030.9,1146.1 1035.2,1144.9 1038.7,1147.6 1035.2,1150.8 1030.9,1149.9 1026.6,1151.1ZM1046.6,1165 1050.1,1161.8 1054.4,1162.7 1058.8,1161.5 1062.3,1164.2 1058.8,1167.4 1054.4,1166.5 1050.1,1167.8ZM1070,1181.7 1073.5,1178.4 1078,1179.3 1082.4,1178 1085.9,1180.8 1082.4,1184 1078,1183.2 1073.5,1184.4ZM910.9,1051 914.1,1048 918.1,1048.8 922.2,1047.7 925.4,1050.2 922.2,1053.2 918.1,1052.4 914.1,1053.5ZM934.5,1067.5 937.8,1064.5 941.9,1065.3 946,1064.2 949.2,1066.7 946,1069.7 941.9,1068.9 937.8,1070ZM958.2,1084 961.5,1080.9 965.6,1081.8 969.7,1080.6 973,1083.2 969.7,1086.2 965.6,1085.4 961.5,1086.6ZM981.8,1100.5 985.1,1097.4 989.3,1098.2 993.5,1097.1 996.9,1099.7 993.5,1102.8 989.3,1101.9 985.1,1103.1ZM1005.4,1117 1008.8,1113.8 1013.1,1114.7 1017.3,1113.5 1020.7,1116.1 1017.3,1119.3 1013.1,1118.4 1008.8,1119.6ZM1029.1,1133.5 1032.5,1130.3 1036.8,1131.2 1041.1,1130 1044.5,1132.6 1041.1,1135.8 1036.8,1134.9 1032.5,1136.1ZM1052.7,1150 1056.2,1146.7 1060.5,1147.6 1064.9,1146.4 1068.3,1149.1 1064.9,1152.3 1060.5,1151.4 1056.2,1152.7ZM1076.3,1166.5 1079.9,1163.2 1084.2,1164.1 1088.6,1162.8 1092.2,1165.6 1088.6,1168.8 1084.2,1167.9 1079.9,1169.2ZM1100,1182.9 1103.5,1179.7 1108,1180.5 1112.4,1179.3 1116,1182.1 1112.4,1185.3 1108,1184.5 1103.5,1185.7ZM939.5,1053.2 942.7,1050.2 946.8,1051 950.9,1049.8 954.1,1052.4 950.9,1055.4 946.8,1054.6 942.7,1055.7ZM963.3,1069.5 966.6,1066.5 970.7,1067.3 974.8,1066.2 978.1,1068.7 974.8,1071.8 970.7,1070.9 966.6,1072.1ZM987.2,1085.9 990.5,1082.8 994.6,1083.7 998.8,1082.5 1002.1,1085.1 998.8,1088.2 994.6,1087.3 990.5,1088.5ZM1011,1102.3 1014.4,1099.2 1018.6,1100 1022.8,1098.8 1026.2,1101.4 1022.8,1104.5 1018.6,1103.7 1014.4,1104.9ZM1034.8,1118.6 1038.2,1115.5 1042.5,1116.3 1046.8,1115.1 1050.2,1117.8 1046.8,1120.9 1042.5,1120.1 1038.2,1121.3ZM1058.6,1135 1062.1,1131.8 1066.4,1132.7 1070.7,1131.5 1074.2,1134.1 1070.7,1137.3 1066.4,1136.5 1062.1,1137.7ZM1082.5,1151.4 1086,1148.1 1090.3,1149 1094.7,1147.8 1098.2,1150.5 1094.7,1153.7 1090.3,1152.9 1086,1154.1ZM1106.3,1167.7 1109.8,1164.5 1114.3,1165.3 1118.7,1164.1 1122.2,1166.8 1118.7,1170.1 1114.3,1169.2 1109.8,1170.5ZM944.3,1039 947.5,1036 951.5,1036.8 955.6,1035.7 958.8,1038.2 955.6,1041.1 951.5,1040.3 947.5,1041.5ZM968.3,1055.2 971.6,1052.2 975.6,1053 979.7,1051.9 983,1054.4 979.7,1057.4 975.6,1056.6 971.6,1057.7ZM992.3,1071.4 995.6,1068.4 999.8,1069.2 1003.9,1068.1 1007.2,1070.6 1003.9,1073.7 999.8,1072.8 995.6,1074ZM1016.3,1087.7 1019.7,1084.6 1023.9,1085.4 1028.1,1084.2 1031.4,1086.8 1028.1,1089.9 1023.9,1089.1 1019.7,1090.3ZM1040.4,1103.9 1043.8,1100.8 1048,1101.6 1052.2,1100.4 1055.6,1103.1 1052.2,1106.2 1048,1105.4 1043.8,1106.6ZM1064.4,1120.2 1067.8,1117 1072.1,1117.8 1076.4,1116.6 1079.8,1119.3 1076.4,1122.5 1072.1,1121.6 1067.8,1122.8ZM1088.4,1136.4 1091.9,1133.2 1096.2,1134.1 1100.6,1132.8 1104,1135.5 1100.6,1138.7 1096.2,1137.9 1091.9,1139.1ZM1112.4,1152.6 1116,1149.4 1120.4,1150.3 1124.7,1149 1128.3,1151.8 1124.7,1155 1120.4,1154.1 1116,1155.4ZM1136.5,1168.9 1140,1165.6 1144.5,1166.5 1148.9,1165.2 1152.5,1168 1148.9,1171.3 1144.5,1170.4 1140,1171.6ZM973.1,1041 976.3,1038 980.4,1038.8 984.4,1037.7 987.7,1040.2 984.4,1043.2 980.4,1042.4 976.3,1043.5ZM997.3,1057.1 1000.6,1054.1 1004.7,1054.9 1008.8,1053.7 1012.1,1056.3 1008.8,1059.3 1004.7,1058.5 1000.6,1059.7ZM1021.5,1073.2 1024.8,1070.1 1029,1071 1033.2,1069.8 1036.5,1072.4 1033.2,1075.5 1029,1074.6 1024.8,1075.8ZM1045.7,1089.3 1049.1,1086.2 1053.3,1087.1 1057.5,1085.9 1060.9,1088.5 1057.5,1091.6 1053.3,1090.8 1049.1,1091.9ZM1070,1105.5 1073.4,1102.3 1077.6,1103.1 1081.9,1102 1085.3,1104.6 1081.9,1107.8 1077.6,1106.9 1073.4,1108.1ZM1094.2,1121.6 1097.6,1118.4 1101.9,1119.2 1106.3,1118 1109.7,1120.7 1106.3,1123.9 1101.9,1123 1097.6,1124.2ZM1118.4,1137.7 1121.9,1134.5 1126.2,1135.3 1130.6,1134.1 1134.1,1136.8 1130.6,1140 1126.2,1139.2 1121.9,1140.4ZM1142.6,1153.8 1146.1,1150.5 1150.6,1151.4 1155,1150.2 1158.5,1152.9 1155,1156.2 1150.6,1155.3 1146.1,1156.5ZM977.7,1026.9 980.9,1023.9 984.9,1024.7 989,1023.6 992.2,1026.1 989,1029.1 984.9,1028.3 980.9,1029.4ZM1002.1,1042.9 1005.3,1039.9 1009.4,1040.7 1013.5,1039.5 1016.8,1042.1 1013.5,1045.1 1009.4,1044.3 1005.3,1045.4ZM1026.5,1058.9 1029.8,1055.8 1033.9,1056.6 1038.1,1055.5 1041.4,1058.1 1038.1,1061.1 1033.9,1060.3 1029.8,1061.4ZM1050.9,1074.9 1054.2,1071.8 1058.4,1072.6 1062.6,1071.4 1066,1074 1062.6,1077.1 1058.4,1076.3 1054.2,1077.5ZM1075.3,1090.9 1078.7,1087.7 1082.9,1088.6 1087.2,1087.4 1090.6,1090 1087.2,1093.2 1082.9,1092.3 1078.7,1093.5ZM1099.7,1106.9 1103.2,1103.7 1107.4,1104.5 1111.7,1103.3 1115.2,1106 1111.7,1109.2 1107.4,1108.3 1103.2,1109.5ZM1124.1,1122.8 1127.6,1119.6 1132,1120.5 1136.3,1119.3 1139.8,1122 1136.3,1125.2 1132,1124.3 1127.6,1125.5ZM1148.6,1138.8 1152.1,1135.6 1156.5,1136.5 1160.8,1135.2 1164.4,1138 1160.8,1141.2 1156.5,1140.3 1152.1,1141.6ZM1173,1154.8 1176.5,1151.5 1181,1152.4 1185.4,1151.2 1189,1153.9 1185.4,1157.2 1181,1156.3 1176.5,1157.6ZM1006.7,1028.8 1009.9,1025.8 1014,1026.6 1018,1025.5 1021.3,1028 1018,1031 1014,1030.2 1009.9,1031.3ZM1031.3,1044.7 1034.6,1041.6 1038.7,1042.4 1042.8,1041.3 1046.1,1043.8 1042.8,1046.9 1038.7,1046.1 1034.6,1047.2ZM1055.9,1060.5 1059.2,1057.5 1063.4,1058.3 1067.5,1057.1 1070.9,1059.7 1067.5,1062.8 1063.4,1062 1059.2,1063.1ZM1080.5,1076.4 1083.8,1073.3 1088.1,1074.1 1092.3,1072.9 1095.6,1075.6 1092.3,1078.7 1088.1,1077.8 1083.8,1079ZM1105.1,1092.3 1108.5,1089.1 1112.8,1090 1117,1088.8 1120.4,1091.4 1117,1094.6 1112.8,1093.7 1108.5,1094.9ZM1129.7,1108.1 1133.1,1104.9 1137.5,1105.8 1141.8,1104.6 1145.2,1107.3 1141.8,1110.5 1137.5,1109.6 1133.1,1110.8ZM1154.3,1124 1157.8,1120.8 1162.2,1121.6 1166.5,1120.4 1170,1123.1 1166.5,1126.4 1162.2,1125.5 1157.8,1126.7ZM1178.9,1139.9 1182.4,1136.6 1186.9,1137.5 1191.3,1136.2 1194.8,1139 1191.3,1142.3 1186.9,1141.4 1182.4,1142.6ZM1011,1014.8 1014.3,1011.9 1018.3,1012.7 1022.3,1011.5 1025.6,1014 1022.3,1017 1018.3,1016.2 1014.3,1017.3ZM1035.9,1030.6 1039.1,1027.6 1043.2,1028.4 1047.3,1027.2 1050.6,1029.8 1047.3,1032.8 1043.2,1032 1039.1,1033.1ZM1060.7,1046.3 1064,1043.3 1068.1,1044.1 1072.2,1042.9 1075.5,1045.5 1072.2,1048.6 1068.1,1047.7 1064,1048.9ZM1085.5,1062.1 1088.8,1059 1093,1059.8 1097.2,1058.6 1100.5,1061.2 1097.2,1064.3 1093,1063.5 1088.8,1064.7ZM1110.3,1077.8 1113.6,1074.7 1117.9,1075.5 1122.1,1074.3 1125.5,1077 1122.1,1080.1 1117.9,1079.2 1113.6,1080.4ZM1135.1,1093.5 1138.5,1090.4 1142.8,1091.2 1147.1,1090 1150.5,1092.7 1147.1,1095.9 1142.8,1095 1138.5,1096.2ZM1159.9,1109.3 1163.3,1106.1 1167.7,1106.9 1172,1105.7 1175.5,1108.4 1172,1111.6 1167.7,1110.8 1163.3,1112ZM1184.7,1125 1188.2,1121.8 1192.6,1122.7 1197,1121.4 1200.5,1124.2 1197,1127.4 1192.6,1126.5 1188.2,1127.8ZM1209.5,1140.8 1213,1137.5 1217.5,1138.4 1221.9,1137.1 1225.5,1139.9 1221.9,1143.2 1217.5,1142.3 1213,1143.5ZM1040.2,1016.6 1043.5,1013.6 1047.6,1014.4 1051.6,1013.3 1054.9,1015.8 1051.6,1018.8 1047.6,1018 1043.5,1019.1ZM1065.2,1032.2 1068.5,1029.2 1072.6,1030 1076.7,1028.9 1080,1031.4 1076.7,1034.5 1072.6,1033.6 1068.5,1034.8ZM1090.2,1047.9 1093.6,1044.8 1097.7,1045.6 1101.9,1044.4 1105.2,1047 1101.9,1050.1 1097.7,1049.3 1093.6,1050.4ZM1115.2,1063.5 1118.6,1060.4 1122.8,1061.2 1127,1060 1130.4,1062.6 1127,1065.7 1122.8,1064.9 1118.6,1066.1ZM1140.2,1079.1 1143.6,1075.9 1147.9,1076.8 1152.2,1075.6 1155.6,1078.2 1152.2,1081.4 1147.9,1080.5 1143.6,1081.7ZM1165.2,1094.7 1168.7,1091.5 1173,1092.4 1177.3,1091.2 1180.8,1093.8 1177.3,1097 1173,1096.2 1168.7,1097.4ZM1190.2,1110.3 1193.7,1107.1 1198.1,1108 1202.4,1106.7 1205.9,1109.4 1202.4,1112.7 1198.1,1111.8 1193.7,1113ZM1215.2,1125.9 1218.7,1122.7 1223.2,1123.6 1227.6,1122.3 1231.1,1125.1 1227.6,1128.3 1223.2,1127.4 1218.7,1128.7ZM1044.4,1002.8 1047.7,999.8 1051.7,1000.6 1055.7,999.5 1059,1002 1055.7,1005 1051.7,1004.1 1047.7,1005.3ZM1069.6,1018.3 1072.9,1015.2 1077,1016.1 1081.1,1014.9 1084.3,1017.5 1081.1,1020.5 1077,1019.7 1072.9,1020.8ZM1094.8,1033.8 1098.1,1030.7 1102.3,1031.5 1106.4,1030.4 1109.7,1032.9 1106.4,1036 1102.3,1035.2 1098.1,1036.3ZM1120,1049.3 1123.4,1046.2 1127.5,1047 1131.7,1045.8 1135.1,1048.4 1131.7,1051.5 1127.5,1050.7 1123.4,1051.9ZM1145.2,1064.7 1148.6,1061.6 1152.8,1062.5 1157.1,1061.3 1160.5,1063.9 1157.1,1067 1152.8,1066.2 1148.6,1067.4ZM1170.4,1080.2 1173.8,1077.1 1178.1,1077.9 1182.4,1076.7 1185.8,1079.4 1182.4,1082.6 1178.1,1081.7 1173.8,1082.9ZM1195.6,1095.7 1199,1092.5 1203.4,1093.4 1207.7,1092.2 1211.2,1094.9 1207.7,1098.1 1203.4,1097.2 1199,1098.4ZM1220.8,1111.2 1224.3,1108 1228.7,1108.9 1233.1,1107.6 1236.6,1110.3 1233.1,1113.6 1228.7,1112.7 1224.3,1113.9ZM1245.9,1126.7 1249.5,1123.4 1253.9,1124.3 1258.4,1123.1 1261.9,1125.8 1258.4,1129.1 1253.9,1128.2 1249.5,1129.5ZM1073.8,1004.4 1077.1,1001.4 1081.1,1002.2 1085.2,1001.1 1088.4,1003.6 1085.2,1006.6 1081.1,1005.8 1077.1,1006.9ZM1099.2,1019.8 1102.5,1016.8 1106.6,1017.6 1110.7,1016.4 1114,1019 1110.7,1022 1106.6,1021.2 1102.5,1022.3ZM1124.6,1035.2 1127.9,1032.1 1132.1,1032.9 1136.2,1031.8 1139.6,1034.3 1136.2,1037.4 1132.1,1036.6 1127.9,1037.7ZM1150,1050.5 1153.3,1047.4 1157.6,1048.3 1161.8,1047.1 1165.1,1049.7 1161.8,1052.8 1157.6,1052 1153.3,1053.1ZM1175.4,1065.9 1178.8,1062.7 1183,1063.6 1187.3,1062.4 1190.7,1065 1187.3,1068.2 1183,1067.4 1178.8,1068.5ZM1200.7,1081.3 1204.2,1078.1 1208.5,1078.9 1212.8,1077.7 1216.3,1080.4 1212.8,1083.6 1208.5,1082.7 1204.2,1083.9ZM1226.1,1096.6 1229.6,1093.4 1234,1094.3 1238.3,1093.1 1241.8,1095.8 1238.3,1099 1234,1098.1 1229.6,1099.3ZM1251.5,1112 1255,1108.7 1259.5,1109.6 1263.9,1108.4 1267.4,1111.1 1263.9,1114.4 1259.5,1113.5 1255,1114.7ZM1077.8,990.7 1081.1,987.7 1085.1,988.5 1089.1,987.4 1092.4,989.9 1089.1,992.9 1085.1,992.1 1081.1,993.2ZM1103.4,1006 1106.7,1002.9 1110.8,1003.8 1114.8,1002.6 1118.1,1005.1 1114.8,1008.2 1110.8,1007.3 1106.7,1008.5ZM1129,1021.2 1132.3,1018.1 1136.4,1019 1140.6,1017.8 1143.9,1020.4 1140.6,1023.4 1136.4,1022.6 1132.3,1023.8ZM1154.6,1036.4 1157.9,1033.3 1162.1,1034.2 1166.3,1033 1169.6,1035.6 1166.3,1038.7 1162.1,1037.9 1157.9,1039ZM1180.1,1051.7 1183.5,1048.6 1187.8,1049.4 1192,1048.2 1195.4,1050.8 1192,1054 1187.8,1053.1 1183.5,1054.3ZM1205.7,1066.9 1209.1,1063.8 1213.4,1064.6 1217.7,1063.4 1221.2,1066.1 1217.7,1069.2 1213.4,1068.4 1209.1,1069.6ZM1231.3,1082.2 1234.8,1079 1239.1,1079.8 1243.4,1078.6 1246.9,1081.3 1243.4,1084.5 1239.1,1083.7 1234.8,1084.9ZM1256.9,1097.4 1260.4,1094.2 1264.8,1095 1269.2,1093.8 1272.7,1096.5 1269.2,1099.8 1264.8,1098.9 1260.4,1100.1ZM1282.4,1112.7 1286,1109.4 1290.4,1110.3 1294.9,1109 1298.4,1111.8 1294.9,1115.1 1290.4,1114.2 1286,1115.4Z" fill="#8c8c8c" stroke="#4c4c4c" stroke-width="0.9" stroke-linejoin="round"/>
<path d="M828.1,1096.2h2.1v2.1h-2.1ZM850.7,1113.4h2.1v2.1h-2.1ZM873.2,1130.6h2.2v2.2h-2.2ZM895.8,1147.9h2.2v2.2h-2.2ZM918.3,1165.1h2.2v2.2h-2.2ZM940.9,1182.4h2.2v2.2h-2.2ZM963.4,1199.6h2.3v2.3h-2.3ZM986,1216.8h2.3v2.3h-2.3ZM833.5,1081.5h2.1v2.1h-2.1ZM856.3,1098.6h2.1v2.1h-2.1ZM879,1115.7h2.2v2.2h-2.2ZM901.8,1132.9h2.2v2.2h-2.2ZM924.5,1150h2.2v2.2h-2.2ZM947.3,1167.1h2.2v2.2h-2.2ZM970,1184.2h2.3v2.3h-2.3ZM992.8,1201.3h2.3v2.3h-2.3ZM1015.5,1218.4h2.3v2.3h-2.3ZM861.7,1084h2.1v2.1h-2.1ZM884.6,1101h2.1v2.1h-2.1ZM907.6,1118h2.2v2.2h-2.2ZM930.5,1134.9h2.2v2.2h-2.2ZM953.5,1151.9h2.2v2.2h-2.2ZM976.4,1168.9h2.2v2.2h-2.2ZM999.3,1185.9h2.3v2.3h-2.3ZM1022.3,1202.9h2.3v2.3h-2.3ZM866.9,1069.4h2.1v2.1h-2.1ZM890.1,1086.3h2.1v2.1h-2.1ZM913.2,1103.2h2.2v2.2h-2.2ZM936.3,1120h2.2v2.2h-2.2ZM959.5,1136.9h2.2v2.2h-2.2ZM982.6,1153.8h2.2v2.2h-2.2ZM1005.7,1170.6h2.3v2.3h-2.3ZM1028.9,1187.5h2.3v2.3h-2.3ZM1052,1204.4h2.3v2.3h-2.3ZM895.3,1071.8h2.1v2.1h-2.1ZM918.6,1088.5h2.1v2.1h-2.1ZM941.9,1105.3h2.2v2.2h-2.2ZM965.3,1122h2.2v2.2h-2.2ZM988.6,1138.8h2.2v2.2h-2.2ZM1011.9,1155.5h2.2v2.2h-2.2ZM1035.3,1172.2h2.3v2.3h-2.3ZM1058.6,1189h2.3v2.3h-2.3ZM900.3,1057.4h2.1v2.1h-2.1ZM923.8,1074h2.1v2.1h-2.1ZM947.4,1090.6h2.2v2.2h-2.2ZM970.9,1107.2h2.2v2.2h-2.2ZM994.4,1123.9h2.2v2.2h-2.2ZM1017.9,1140.5h2.2v2.2h-2.2ZM1041.4,1157.1h2.3v2.3h-2.3ZM1065,1173.7h2.3v2.3h-2.3ZM1088.5,1190.3h2.3v2.3h-2.3ZM928.9,1059.6h2.1v2.1h-2.1ZM952.6,1076.1h2.1v2.1h-2.1ZM976.3,1092.6h2.2v2.2h-2.2ZM1000,1109.1h2.2v2.2h-2.2ZM1023.7,1125.6h2.2v2.2h-2.2ZM1047.4,1142.1h2.2v2.2h-2.2ZM1071.2,1158.6h2.3v2.3h-2.3ZM1094.9,1175h2.3v2.3h-2.3ZM933.7,1045.3h2.1v2.1h-2.1ZM957.6,1061.7h2.1v2.1h-2.1ZM981.5,1078.1h2.2v2.2h-2.2ZM1005.4,1094.4h2.2v2.2h-2.2ZM1029.3,1110.8h2.2v2.2h-2.2ZM1053.3,1127.2h2.2v2.2h-2.2ZM1077.2,1143.5h2.3v2.3h-2.3ZM1101.1,1159.9h2.3v2.3h-2.3ZM1125,1176.3h2.3v2.3h-2.3ZM962.5,1047.4h2.1v2.1h-2.1ZM986.6,1063.7h2.1v2.1h-2.1ZM1010.7,1079.9h2.2v2.2h-2.2ZM1034.8,1096.1h2.2v2.2h-2.2ZM1058.9,1112.4h2.2v2.2h-2.2ZM1083,1128.6h2.2v2.2h-2.2ZM1107.1,1144.9h2.3v2.3h-2.3ZM1131.2,1161.1h2.3v2.3h-2.3ZM967.1,1033.3h2.1v2.1h-2.1ZM991.4,1049.4h2.1v2.1h-2.1ZM1015.7,1065.5h2.2v2.2h-2.2ZM1040,1081.6h2.2v2.2h-2.2ZM1064.3,1097.7h2.2v2.2h-2.2ZM1088.6,1113.9h2.2v2.2h-2.2ZM1112.9,1130h2.3v2.3h-2.3ZM1137.2,1146.1h2.3v2.3h-2.3ZM1161.5,1162.2h2.3v2.3h-2.3ZM996,1035.2h2.1v2.1h-2.1ZM1020.5,1051.2h2.1v2.1h-2.1ZM1045,1067.2h2.2v2.2h-2.2ZM1069.5,1083.2h2.2v2.2h-2.2ZM1094,1099.2h2.2v2.2h-2.2ZM1118.5,1115.2h2.2v2.2h-2.2ZM1143,1131.2h2.3v2.3h-2.3ZM1167.5,1147.2h2.3v2.3h-2.3ZM1000.5,1021.2h2.1v2.1h-2.1ZM1025.2,1037.1h2.1v2.1h-2.1ZM1049.9,1052.9h2.2v2.2h-2.2ZM1074.5,1068.8h2.2v2.2h-2.2ZM1099.2,1084.7h2.2v2.2h-2.2ZM1123.9,1100.5h2.2v2.2h-2.2ZM1148.6,1116.4h2.3v2.3h-2.3ZM1173.3,1132.3h2.3v2.3h-2.3ZM1198,1148.2h2.3v2.3h-2.3ZM1029.6,1023h2.1v2.1h-2.1ZM1054.5,1038.8h2.1v2.1h-2.1ZM1079.4,1054.5h2.2v2.2h-2.2ZM1104.3,1070.3h2.2v2.2h-2.2ZM1129.1,1086h2.2v2.2h-2.2ZM1154,1101.8h2.2v2.2h-2.2ZM1178.9,1117.5h2.3v2.3h-2.3ZM1203.8,1133.3h2.3v2.3h-2.3ZM1033.9,1009.1h2.1v2.1h-2.1ZM1058.9,1024.8h2.1v2.1h-2.1ZM1084,1040.4h2.2v2.2h-2.2ZM1109.1,1056h2.2v2.2h-2.2ZM1134.2,1071.6h2.2v2.2h-2.2ZM1159.2,1087.2h2.2v2.2h-2.2ZM1184.3,1102.9h2.3v2.3h-2.3ZM1209.4,1118.5h2.3v2.3h-2.3ZM1234.5,1134.1h2.3v2.3h-2.3ZM1063.2,1010.8h2.1v2.1h-2.1ZM1088.5,1026.3h2.1v2.1h-2.1ZM1113.7,1041.8h2.2v2.2h-2.2ZM1139,1057.3h2.2v2.2h-2.2ZM1164.3,1072.8h2.2v2.2h-2.2ZM1189.5,1088.3h2.2v2.2h-2.2ZM1214.8,1103.8h2.3v2.3h-2.3ZM1240.1,1119.3h2.3v2.3h-2.3ZM1067.3,997.1h2.1v2.1h-2.1ZM1092.7,1012.4h2.1v2.1h-2.1ZM1118.2,1027.8h2.2v2.2h-2.2ZM1143.6,1043.2h2.2v2.2h-2.2ZM1169.1,1058.6h2.2v2.2h-2.2ZM1194.6,1073.9h2.2v2.2h-2.2ZM1220,1089.3h2.3v2.3h-2.3ZM1245.5,1104.7h2.3v2.3h-2.3ZM1270.9,1120h2.3v2.3h-2.3ZM1096.8,998.7h2.1v2.1h-2.1ZM1122.4,1013.9h2.1v2.1h-2.1ZM1148.1,1029.2h2.2v2.2h-2.2ZM1173.8,1044.4h2.2v2.2h-2.2ZM1199.4,1059.7h2.2v2.2h-2.2ZM1225.1,1074.9h2.2v2.2h-2.2ZM1250.7,1090.1h2.3v2.3h-2.3ZM1276.4,1105.4h2.3v2.3h-2.3Z" fill="#f4f4f4"/>
<path d="M830.1,1092.7h1.5v1.5h-1.5ZM852.7,1109.9h1.5v1.5h-1.5ZM875.3,1127.1h1.5v1.5h-1.5ZM897.9,1144.3h1.5v1.5h-1.5ZM920.5,1161.5h1.5v1.5h-1.5ZM943,1178.7h1.6v1.6h-1.6ZM965.6,1195.9h1.6v1.6h-1.6ZM988.2,1213.1h1.6v1.6h-1.6ZM835.5,1078.1h1.5v1.5h-1.5ZM858.3,1095.2h1.5v1.5h-1.5ZM881.1,1112.3h1.5v1.5h-1.5ZM903.9,1129.3h1.5v1.5h-1.5ZM926.6,1146.4h1.5v1.5h-1.5ZM949.4,1163.5h1.5v1.5h-1.5ZM972.2,1180.6h1.6v1.6h-1.6ZM995,1197.6h1.6v1.6h-1.6ZM1017.7,1214.7h1.6v1.6h-1.6ZM863.7,1080.6h1.5v1.5h-1.5ZM886.7,1097.5h1.5v1.5h-1.5ZM909.7,1114.5h1.5v1.5h-1.5ZM932.6,1131.4h1.5v1.5h-1.5ZM955.6,1148.4h1.5v1.5h-1.5ZM978.6,1165.3h1.6v1.6h-1.6ZM1001.5,1182.3h1.6v1.6h-1.6ZM1024.5,1199.2h1.6v1.6h-1.6ZM868.9,1066.1h1.5v1.5h-1.5ZM892.1,1082.9h1.5v1.5h-1.5ZM915.3,1099.7h1.5v1.5h-1.5ZM938.4,1116.5h1.5v1.5h-1.5ZM961.6,1133.3h1.5v1.5h-1.5ZM984.7,1150.2h1.5v1.5h-1.5ZM1007.9,1167h1.6v1.6h-1.6ZM1031.1,1183.8h1.6v1.6h-1.6ZM1054.2,1200.6h1.6v1.6h-1.6ZM897.3,1068.4h1.5v1.5h-1.5ZM920.7,1085.1h1.5v1.5h-1.5ZM944,1101.8h1.5v1.5h-1.5ZM967.4,1118.5h1.5v1.5h-1.5ZM990.7,1135.2h1.5v1.5h-1.5ZM1014.1,1151.9h1.6v1.6h-1.6ZM1037.4,1168.6h1.6v1.6h-1.6ZM1060.8,1185.3h1.6v1.6h-1.6ZM902.3,1054h1.5v1.5h-1.5ZM925.9,1070.6h1.5v1.5h-1.5ZM949.4,1087.1h1.5v1.5h-1.5ZM973,1103.7h1.5v1.5h-1.5ZM996.5,1120.3h1.5v1.5h-1.5ZM1020.1,1136.9h1.5v1.5h-1.5ZM1043.6,1153.4h1.6v1.6h-1.6ZM1067.2,1170h1.6v1.6h-1.6ZM1090.7,1186.6h1.6v1.6h-1.6ZM930.9,1056.2h1.5v1.5h-1.5ZM954.6,1072.6h1.5v1.5h-1.5ZM978.4,1089.1h1.5v1.5h-1.5ZM1002.1,1105.5h1.5v1.5h-1.5ZM1025.9,1122h1.5v1.5h-1.5ZM1049.6,1138.4h1.6v1.6h-1.6ZM1073.3,1154.9h1.6v1.6h-1.6ZM1097.1,1171.3h1.6v1.6h-1.6ZM935.7,1041.9h1.5v1.5h-1.5ZM959.7,1058.3h1.5v1.5h-1.5ZM983.6,1074.6h1.5v1.5h-1.5ZM1007.5,1090.9h1.5v1.5h-1.5ZM1031.5,1107.2h1.5v1.5h-1.5ZM1055.4,1123.6h1.5v1.5h-1.5ZM1079.3,1139.9h1.6v1.6h-1.6ZM1103.3,1156.2h1.6v1.6h-1.6ZM1127.2,1172.5h1.6v1.6h-1.6ZM964.5,1044h1.5v1.5h-1.5ZM988.6,1060.2h1.5v1.5h-1.5ZM1012.7,1076.4h1.5v1.5h-1.5ZM1036.9,1092.6h1.5v1.5h-1.5ZM1061,1108.8h1.5v1.5h-1.5ZM1085.1,1125h1.6v1.6h-1.6ZM1109.3,1141.2h1.6v1.6h-1.6ZM1133.4,1157.4h1.6v1.6h-1.6ZM969.1,1029.9h1.5v1.5h-1.5ZM993.4,1045.9h1.5v1.5h-1.5ZM1017.8,1062h1.5v1.5h-1.5ZM1042.1,1078.1h1.5v1.5h-1.5ZM1066.4,1094.2h1.5v1.5h-1.5ZM1090.7,1110.2h1.5v1.5h-1.5ZM1115,1126.3h1.6v1.6h-1.6ZM1139.4,1142.4h1.6v1.6h-1.6ZM1163.7,1158.5h1.6v1.6h-1.6ZM998.1,1031.8h1.5v1.5h-1.5ZM1022.6,1047.8h1.5v1.5h-1.5ZM1047.1,1063.7h1.5v1.5h-1.5ZM1071.6,1079.7h1.5v1.5h-1.5ZM1096.1,1095.6h1.5v1.5h-1.5ZM1120.6,1111.6h1.6v1.6h-1.6ZM1145.2,1127.5h1.6v1.6h-1.6ZM1169.7,1143.5h1.6v1.6h-1.6ZM1002.5,1017.8h1.5v1.5h-1.5ZM1027.2,1033.6h1.5v1.5h-1.5ZM1051.9,1049.5h1.5v1.5h-1.5ZM1076.6,1065.3h1.5v1.5h-1.5ZM1101.3,1081.1h1.5v1.5h-1.5ZM1126.1,1096.9h1.5v1.5h-1.5ZM1150.8,1112.8h1.6v1.6h-1.6ZM1175.5,1128.6h1.6v1.6h-1.6ZM1200.2,1144.4h1.6v1.6h-1.6ZM1031.7,1019.6h1.5v1.5h-1.5ZM1056.6,1035.3h1.5v1.5h-1.5ZM1081.5,1051h1.5v1.5h-1.5ZM1106.4,1066.7h1.5v1.5h-1.5ZM1131.3,1082.4h1.5v1.5h-1.5ZM1156.2,1098.1h1.6v1.6h-1.6ZM1181.1,1113.8h1.6v1.6h-1.6ZM1206,1129.5h1.6v1.6h-1.6ZM1035.9,1005.7h1.5v1.5h-1.5ZM1061,1021.3h1.5v1.5h-1.5ZM1086.1,1036.9h1.5v1.5h-1.5ZM1111.2,1052.5h1.5v1.5h-1.5ZM1136.3,1068.1h1.5v1.5h-1.5ZM1161.4,1083.6h1.5v1.5h-1.5ZM1186.5,1099.2h1.6v1.6h-1.6ZM1211.6,1114.8h1.6v1.6h-1.6ZM1236.7,1130.4h1.6v1.6h-1.6ZM1065.2,1007.4h1.5v1.5h-1.5ZM1090.5,1022.9h1.5v1.5h-1.5ZM1115.8,1038.3h1.5v1.5h-1.5ZM1141.1,1053.8h1.5v1.5h-1.5ZM1166.4,1069.3h1.5v1.5h-1.5ZM1191.7,1084.7h1.6v1.6h-1.6ZM1217,1100.2h1.6v1.6h-1.6ZM1242.3,1115.6h1.6v1.6h-1.6ZM1069.3,993.7h1.5v1.5h-1.5ZM1094.8,1009h1.5v1.5h-1.5ZM1120.3,1024.3h1.5v1.5h-1.5ZM1145.7,1039.7h1.5v1.5h-1.5ZM1171.2,1055h1.5v1.5h-1.5ZM1196.7,1070.3h1.5v1.5h-1.5ZM1222.2,1085.7h1.6v1.6h-1.6ZM1247.7,1101h1.6v1.6h-1.6ZM1273.2,1116.3h1.6v1.6h-1.6ZM1098.8,995.2h1.5v1.5h-1.5ZM1124.5,1010.5h1.5v1.5h-1.5ZM1150.2,1025.7h1.5v1.5h-1.5ZM1175.9,1040.9h1.5v1.5h-1.5ZM1201.5,1056.1h1.5v1.5h-1.5ZM1227.2,1071.3h1.6v1.6h-1.6ZM1252.9,1086.5h1.6v1.6h-1.6ZM1278.6,1101.7h1.6v1.6h-1.6Z" fill="#dddddd"/>
<circle cx="220.5" cy="1009" r="15.4" fill="#7030a0"/><text x="220.5" y="1015" text-anchor="middle" font-family='"Liberation Serif", serif' font-weight="bold" font-size="17" fill="#fff">D</text>
<circle cx="433.5" cy="1176.5" r="15.8" fill="#f5ee00"/><text x="433.5" y="1182.5" text-anchor="middle" font-family='"Liberation Serif", serif' font-weight="bold" font-size="17" fill="#111">S</text>
<circle cx="954.3" cy="1022.6" r="15.6" fill="#e8141c"/><text x="954.3" y="1028.6" text-anchor="middle" font-family='"Liberation Serif", serif' font-weight="bold" font-size="17" fill="#fff">D</text>
<circle cx="1161.6" cy="1188.8" r="15.8" fill="#f5ee00"/><text x="1161.6" y="1194.8" text-anchor="middle" font-family='"Liberation Serif", serif' font-weight="bold" font-size="17" fill="#111">S</text>
<rect x="678.2" y="1064.8" width="23.2" height="75" fill="url(#cbar)"/>
<text x="690" y="1053" text-anchor="middle" font-family='"Liberation Serif", serif' font-size="36">+</text>
<rect x="679.5" y="1161.2" width="18.5" height="1.6" fill="#000"/>
<text x="728.5" y="1104" font-family='"Liberation Serif", serif' font-size="33">P</text>
<text x="595" y="1263.2" font-family='"Liberation Serif", serif' font-size="31" textLength="166" lengthAdjust="spacingAndGlyphs"><tspan font-style="italic">f</tspan> = 0.74 <tspan font-style="italic">c</tspan>/<tspan font-style="italic">a</tspan></text>
<text x="210.3" y="1340.7" font-family='"Liberation Serif", serif' font-size="33" textLength="137.4" lengthAdjust="spacingAndGlyphs">glide&#160;&#160;case</text>
<text x="374.5" y="1340.7" font-family='"Liberation Serif", serif' font-size="33" textLength="44.3" lengthAdjust="spacingAndGlyphs">&#915;M</text>
<rect x="375.5" y="1311.5" width="15" height="1.8" fill="#000"/><rect x="393.5" y="1311.5" width="24.5" height="1.8" fill="#000"/>
<text x="917.3" y="1340.9" font-family='"Liberation Serif", serif' font-size="33" textLength="156.4" lengthAdjust="spacingAndGlyphs">mirror&#160;&#160;case</text>
<text x="1103.5" y="1340.9" font-family='"Liberation Serif", serif' font-size="33" textLength="43.1" lengthAdjust="spacingAndGlyphs">&#915;M</text>
<rect x="1104.5" y="1312" width="14.5" height="1.8" fill="#000"/><rect x="1122" y="1312" width="24" height="1.8" fill="#000"/>
<g stroke="#000" stroke-width="1.5"><line x1="118.2" y1="1243.2" x2="119" y2="1212"/><line x1="118.2" y1="1243.2" x2="95" y2="1252.5"/><line x1="118.2" y1="1243.2" x2="139" y2="1257"/></g>
<path d="M119.2,1204 L114.5,1214 L123.5,1214 Z M88.2,1255.6 L95,1248 L98,1256 Z M146,1262.9 L135,1260 L141,1252.5 Z" fill="#000"/>
<text x="129" y="1198" font-family='"Liberation Serif", serif' font-size="27" font-weight="bold" font-style="italic">y</text>
<text x="66" y="1264.5" font-family='"Liberation Serif", serif' font-size="27" font-weight="bold" font-style="italic">z</text>
<text x="153" y="1263" font-family='"Liberation Serif", serif' font-size="26" font-weight="bold" font-style="italic">x</text>
<text x="15" y="952.1" font-family='"Liberation Sans", sans-serif' font-weight="bold" font-size="43">E</text>
<text x="679" y="952.1" font-family='"Liberation Sans", sans-serif' font-weight="bold" font-size="43">F</text>
</svg>
</body></html>
